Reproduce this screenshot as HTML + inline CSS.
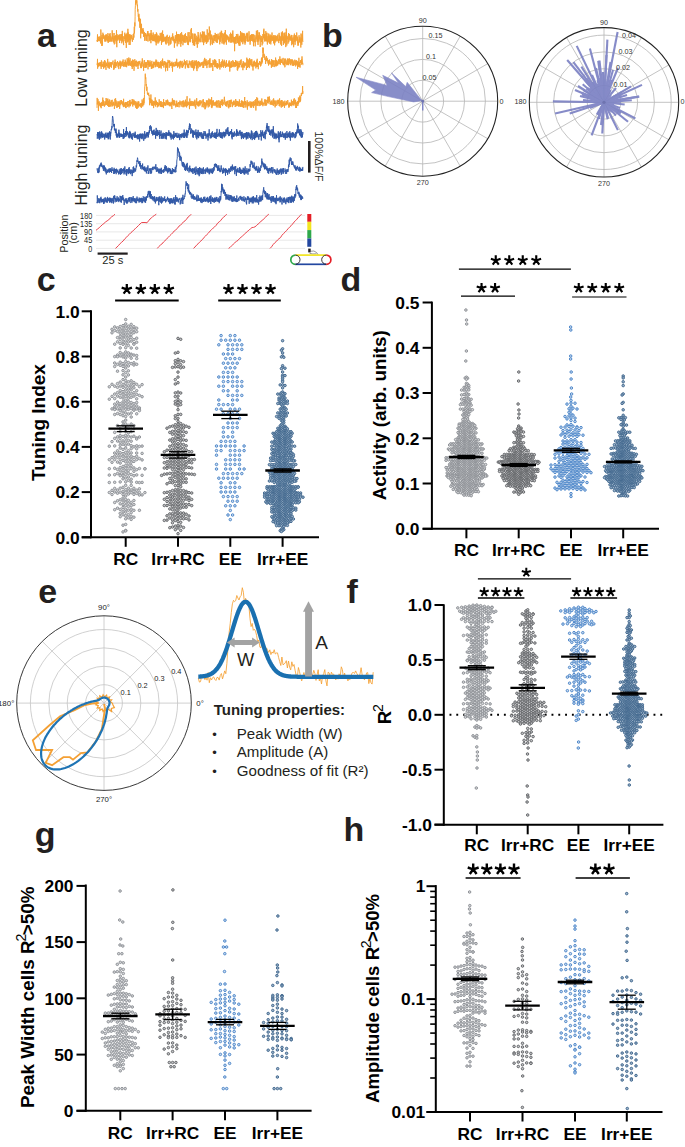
<!DOCTYPE html>
<html><head><meta charset="utf-8"><style>
html,body{margin:0;padding:0;background:#fff;}
svg{display:block;font-family:"Liberation Sans",sans-serif;}
</style></head><body>
<svg width="685" height="1147" viewBox="0 0 685 1147">
<rect width="685" height="1147" fill="#fff"/>
<text x="37" y="46.5" font-size="34" font-weight="bold" text-anchor="start" fill="#231f20">a</text>
<polyline points="97.0,40.0 97.2,41.6 97.3,39.9 97.5,34.4 97.6,41.9 97.8,40.4 98.0,37.1 98.1,40.8 98.3,40.1 98.4,39.8 98.6,39.0 98.8,40.8 98.9,36.6 99.1,38.5 99.2,37.4 99.4,41.2 99.6,39.3 99.7,38.1 99.9,36.4 100.0,38.1 100.2,39.2 100.4,38.2 100.5,43.4 100.7,42.2 100.8,29.5 101.0,32.3 101.2,38.2 101.3,37.3 101.5,39.5 101.6,39.5 101.8,46.0 102.0,35.0 102.1,37.4 102.3,45.6 102.4,40.8 102.6,40.7 102.8,36.5 102.9,32.7 103.1,38.9 103.2,38.8 103.4,34.2 103.6,36.0 103.7,38.1 103.9,35.1 104.0,38.0 104.2,38.7 104.4,38.4 104.5,36.6 104.7,40.5 104.8,41.6 105.0,39.5 105.2,35.6 105.3,40.9 105.5,36.7 105.6,41.3 105.8,34.7 106.0,41.4 106.1,38.3 106.3,34.3 106.4,37.6 106.6,39.0 106.8,40.0 106.9,35.7 107.1,35.1 107.2,39.6 107.4,37.2 107.6,39.6 107.7,41.4 107.9,33.1 108.0,39.6 108.2,43.0 108.4,37.8 108.5,36.0 108.7,41.4 108.8,39.7 109.0,42.0 109.2,37.8 109.3,33.9 109.5,38.4 109.6,37.2 109.8,41.3 110.0,39.3 110.1,33.1 110.3,34.5 110.4,41.5 110.6,40.7 110.8,36.2 110.9,38.4 111.1,39.9 111.2,40.0 111.4,41.3 111.6,39.1 111.7,37.9 111.9,37.3 112.0,41.7 112.2,30.3 112.4,37.5 112.5,38.1 112.7,33.2 112.8,39.1 113.0,35.8 113.2,40.9 113.3,37.8 113.5,40.4 113.6,42.5 113.8,39.5 114.0,35.2 114.1,33.0 114.3,44.4 114.4,38.1 114.6,36.0 114.8,38.8 114.9,37.5 115.1,41.2 115.2,38.3 115.4,38.3 115.6,35.9 115.7,40.0 115.9,35.0 116.0,40.8 116.2,43.8 116.4,33.5 116.5,30.2 116.7,40.6 116.8,47.2 117.0,35.2 117.2,34.3 117.3,40.5 117.5,35.8 117.6,36.9 117.8,37.5 118.0,40.4 118.1,37.2 118.3,39.3 118.4,37.8 118.6,35.6 118.8,37.3 118.9,35.1 119.1,38.3 119.2,34.4 119.4,34.5 119.6,43.0 119.7,37.9 119.9,37.9 120.0,39.8 120.2,36.7 120.4,37.3 120.5,39.5 120.7,39.1 120.8,34.2 121.0,41.0 121.2,36.0 121.3,34.3 121.5,34.9 121.6,36.4 121.8,43.3 122.0,34.0 122.1,38.6 122.3,30.9 122.4,38.1 122.6,41.4 122.8,37.4 122.9,36.2 123.1,39.2 123.2,40.8 123.4,40.7 123.6,45.1 123.7,39.2 123.9,36.4 124.0,38.0 124.2,38.2 124.4,39.0 124.5,38.5 124.7,39.1 124.8,32.7 125.0,41.2 125.2,36.5 125.3,34.4 125.5,40.5 125.6,42.9 125.8,40.0 126.0,38.8 126.1,35.0 126.3,47.9 126.4,41.1 126.6,34.2 126.8,35.5 126.9,38.5 127.1,32.9 127.2,38.7 127.4,36.5 127.6,42.3 127.7,41.4 127.9,28.8 128.0,38.1 128.2,32.4 128.4,41.5 128.5,38.4 128.7,39.7 128.8,34.3 129.0,44.2 129.2,45.0 129.3,34.6 129.5,39.7 129.6,36.3 129.8,38.5 130.0,34.2 130.1,44.9 130.3,35.4 130.4,37.7 130.6,40.5 130.8,36.5 130.9,37.9 131.1,36.9 131.2,38.4 131.4,34.9 131.6,37.6 131.7,38.2 131.9,37.9 132.0,39.4 132.2,38.2 132.4,41.8 132.5,38.0 132.7,38.6 132.8,36.7 133.0,37.0 133.2,34.2 133.3,39.8 133.5,33.6 133.6,34.4 133.8,37.7 134.0,37.1 134.1,33.4 134.3,26.7 134.4,33.5 134.6,30.8 134.8,22.5 134.9,26.3 135.1,16.8 135.2,9.4 135.4,5.8 135.6,0.3 135.7,0.3 135.9,0.3 136.0,4.6 136.2,0.3 136.4,0.3 136.5,2.9 136.7,0.3 136.8,0.3 137.0,0.3 137.2,3.1 137.3,6.2 137.5,4.8 137.6,11.5 137.8,9.1 138.0,9.4 138.1,14.2 138.3,16.7 138.4,15.6 138.6,14.8 138.8,20.9 138.9,13.8 139.1,17.1 139.2,21.9 139.4,18.0 139.6,23.4 139.7,24.0 139.9,27.8 140.0,22.3 140.2,24.0 140.4,27.7 140.5,18.8 140.7,38.3 140.8,25.9 141.0,26.4 141.2,32.2 141.3,29.5 141.5,23.8 141.6,32.2 141.8,33.5 142.0,29.3 142.1,30.1 142.3,33.1 142.4,28.7 142.6,33.5 142.8,32.9 142.9,30.3 143.1,28.2 143.2,32.1 143.4,30.1 143.6,36.8 143.7,34.0 143.9,36.4 144.0,34.3 144.2,35.1 144.4,31.9 144.5,36.9 144.7,40.8 144.8,33.9 145.0,33.0 145.2,34.6 145.3,33.7 145.5,33.1 145.6,36.1 145.8,34.8 146.0,40.6 146.1,35.8 146.3,37.0 146.4,39.2 146.6,34.9 146.8,41.0 146.9,34.1 147.1,33.4 147.2,34.9 147.4,35.8 147.6,31.5 147.7,36.3 147.9,31.0 148.0,41.5 148.2,36.3 148.4,34.4 148.5,33.7 148.7,35.4 148.8,36.1 149.0,33.4 149.2,33.9 149.3,36.4 149.5,35.4 149.6,40.5 149.8,41.1 150.0,37.6 150.1,39.2 150.3,33.1 150.4,39.8 150.6,37.6 150.8,39.4 150.9,43.2 151.1,30.0 151.2,38.8 151.4,34.1 151.6,39.9 151.7,33.4 151.9,36.1 152.0,38.6 152.2,40.0 152.4,38.2 152.5,35.2 152.7,36.2 152.8,41.1 153.0,38.1 153.2,32.5 153.3,41.1 153.5,39.5 153.6,40.9 153.8,36.8 154.0,40.6 154.1,34.2 154.3,39.8 154.4,36.3 154.6,40.3 154.8,41.3 154.9,35.4 155.1,37.9 155.2,38.2 155.4,42.2 155.6,40.7 155.7,34.1 155.9,39.7 156.0,40.6 156.2,45.3 156.4,32.4 156.5,36.3 156.7,42.7 156.8,33.5 157.0,34.0 157.2,39.7 157.3,41.5 157.5,35.8 157.6,40.0 157.8,38.7 158.0,43.6 158.1,38.5 158.3,41.8 158.4,35.5 158.6,37.8 158.8,38.2 158.9,42.5 159.1,40.7 159.2,36.0 159.4,40.8 159.6,41.1 159.7,38.0 159.9,37.7 160.0,38.0 160.2,32.9 160.4,39.1 160.5,39.3 160.7,35.4 160.8,40.8 161.0,33.5 161.2,36.2 161.3,36.4 161.5,44.8 161.6,32.7 161.8,40.2 162.0,41.4 162.1,39.5 162.3,42.3 162.4,34.8 162.6,30.5 162.8,40.8 162.9,34.0 163.1,36.8 163.2,34.1 163.4,41.7 163.6,41.0 163.7,35.7 163.9,41.1 164.0,38.5 164.2,37.8 164.4,38.6 164.5,37.7 164.7,40.6 164.8,39.6 165.0,37.4 165.2,42.1 165.3,36.8 165.5,39.9 165.6,40.2 165.8,43.6 166.0,36.9 166.1,44.5 166.3,39.1 166.4,37.9 166.6,36.2 166.8,40.6 166.9,38.8 167.1,34.9 167.2,34.8 167.4,36.7 167.6,36.4 167.7,42.4 167.9,43.3 168.0,41.6 168.2,39.8 168.4,37.0 168.5,38.6 168.7,41.5 168.8,45.6 169.0,41.5 169.2,37.4 169.3,38.3 169.5,36.6 169.6,35.7 169.8,37.8 170.0,39.0 170.1,44.6 170.3,38.5 170.4,42.8 170.6,44.1 170.8,38.5 170.9,43.7 171.1,40.8 171.2,37.0 171.4,39.2 171.6,38.3 171.7,37.5 171.9,37.6 172.0,38.7 172.2,39.8 172.4,35.4 172.5,38.5 172.7,33.4 172.8,39.6 173.0,40.8 173.2,39.3 173.3,39.8 173.5,40.8 173.6,36.5 173.8,38.0 174.0,40.7 174.1,42.4 174.3,40.4 174.4,47.7 174.6,38.9 174.8,42.6 174.9,43.6 175.1,38.8 175.2,36.4 175.4,35.2 175.6,39.8 175.7,42.9 175.9,40.1 176.0,39.7 176.2,37.8 176.4,40.9 176.5,31.7 176.7,39.7 176.8,38.9 177.0,34.2 177.2,46.3 177.3,34.2 177.5,35.2 177.6,34.8 177.8,42.6 178.0,35.6 178.1,40.9 178.3,40.5 178.4,39.4 178.6,34.0 178.8,36.4 178.9,44.2 179.1,34.2 179.2,35.7 179.4,38.0 179.6,41.3 179.7,39.6 179.9,41.2 180.0,35.1 180.2,41.9 180.4,40.7 180.5,33.4 180.7,44.2 180.8,46.7 181.0,36.2 181.2,39.1 181.3,43.6 181.5,33.9 181.6,32.2 181.8,34.7 182.0,37.1 182.1,37.1 182.3,41.1 182.4,39.9 182.6,34.8 182.8,40.8 182.9,45.2 183.1,42.8 183.2,42.2 183.4,38.8 183.6,42.1 183.7,35.4 183.9,41.2 184.0,38.3 184.2,42.5 184.4,40.2 184.5,34.7 184.7,38.8 184.8,42.5 185.0,34.5 185.2,36.4 185.3,35.6 185.5,33.3 185.6,41.6 185.8,42.7 186.0,41.0 186.1,39.1 186.3,38.2 186.4,39.3 186.6,36.0 186.8,41.5 186.9,42.1 187.1,41.8 187.2,36.8 187.4,38.9 187.6,38.1 187.7,44.7 187.9,39.4 188.0,32.3 188.2,40.1 188.4,45.1 188.5,41.1 188.7,41.7 188.8,38.7 189.0,32.0 189.2,32.5 189.3,34.5 189.5,38.3 189.6,39.9 189.8,41.3 190.0,37.8 190.1,42.3 190.3,38.0 190.4,36.5 190.6,41.7 190.8,35.7 190.9,29.5 191.1,35.1 191.2,39.0 191.4,28.1 191.6,37.3 191.7,37.4 191.9,33.7 192.0,33.5 192.2,37.0 192.4,36.9 192.5,43.0 192.7,40.0 192.8,33.5 193.0,35.9 193.2,41.3 193.3,45.3 193.5,40.1 193.6,39.9 193.8,45.0 194.0,38.5 194.1,37.5 194.3,33.8 194.4,36.9 194.6,46.0 194.8,33.8 194.9,38.6 195.1,33.8 195.2,38.9 195.4,41.6 195.6,37.8 195.7,41.0 195.9,41.1 196.0,40.1 196.2,44.4 196.4,41.0 196.5,37.5 196.7,36.2 196.8,35.7 197.0,40.2 197.2,37.5 197.3,47.7 197.5,44.6 197.6,37.5 197.8,37.2 198.0,44.1 198.1,32.0 198.3,36.9 198.4,41.6 198.6,35.3 198.8,36.9 198.9,37.4 199.1,40.7 199.2,39.0 199.4,39.8 199.6,40.5 199.7,38.7 199.9,42.3 200.0,36.2 200.2,33.7 200.4,32.5 200.5,33.2 200.7,36.8 200.8,42.1 201.0,39.3 201.2,36.7 201.3,35.0 201.5,37.0 201.6,37.4 201.8,36.9 202.0,34.1 202.1,37.3 202.3,42.3 202.4,31.5 202.6,38.0 202.8,31.7 202.9,39.5 203.1,36.3 203.2,31.9 203.4,39.3 203.6,45.1 203.7,39.3 203.9,43.0 204.0,38.7 204.2,31.6 204.4,40.6 204.5,37.4 204.7,33.9 204.8,41.5 205.0,39.8 205.2,37.1 205.3,41.8 205.5,35.9 205.6,41.1 205.8,35.7 206.0,40.6 206.1,35.0 206.3,43.6 206.4,39.6 206.6,43.6 206.8,35.8 206.9,36.9 207.1,41.5 207.2,29.3 207.4,35.1 207.6,42.3 207.7,40.3 207.9,41.9 208.0,37.5 208.2,40.5 208.4,36.1 208.5,33.9 208.7,32.8 208.8,36.7 209.0,36.7 209.2,36.4 209.3,26.5 209.5,31.7 209.6,36.7 209.8,39.5 210.0,36.5 210.1,35.4 210.3,30.6 210.4,45.3 210.6,34.6 210.8,44.1 210.9,43.8 211.1,39.5 211.2,36.7 211.4,39.0 211.6,34.6 211.7,39.6 211.9,38.8 212.0,40.7 212.2,42.1 212.4,44.8 212.5,37.6 212.7,42.5 212.8,36.2 213.0,35.7 213.2,36.6 213.3,35.5 213.5,42.2 213.6,42.0 213.8,43.2 214.0,38.9 214.1,40.0 214.3,37.2 214.4,35.2 214.6,40.7 214.8,40.1 214.9,35.2 215.1,41.0 215.2,32.9 215.4,38.2 215.6,36.6 215.7,36.8 215.9,34.9 216.0,41.7 216.2,40.4 216.4,42.5 216.5,38.9 216.7,34.0 216.8,37.3 217.0,34.7 217.2,40.4 217.3,42.9 217.5,39.8 217.6,36.6 217.8,37.4 218.0,39.3 218.1,33.6 218.3,39.0 218.4,39.2 218.6,36.7 218.8,37.1 218.9,39.2 219.1,35.7 219.2,35.8 219.4,41.3 219.6,39.4 219.7,44.3 219.9,35.3 220.0,32.6 220.2,41.7 220.4,41.8 220.5,35.9 220.7,33.4 220.8,38.2 221.0,32.2 221.2,36.9 221.3,30.7 221.5,37.4 221.6,31.0 221.8,37.4 222.0,43.4 222.1,37.4 222.3,40.9 222.4,36.0 222.6,35.1 222.8,33.0 222.9,41.7 223.1,37.9 223.2,43.7 223.4,34.1 223.6,37.4 223.7,38.5 223.9,42.9 224.0,44.5 224.2,36.1 224.4,34.5 224.5,32.6 224.7,43.1 224.8,38.3 225.0,36.5 225.2,38.5 225.3,30.0 225.5,32.8 225.6,41.8 225.8,39.8 226.0,38.9 226.1,34.9 226.3,40.5 226.4,44.7 226.6,34.6 226.8,38.9 226.9,37.3 227.1,40.0 227.2,38.7 227.4,38.1 227.6,35.5 227.7,38.5 227.9,36.5 228.0,38.1 228.2,38.5 228.4,41.0 228.5,36.8 228.7,37.6 228.8,42.2 229.0,37.7 229.2,37.4 229.3,41.2 229.5,39.3 229.6,38.6 229.8,39.1 230.0,34.1 230.1,39.9 230.3,42.7 230.4,40.1 230.6,32.7 230.8,38.9 230.9,34.7 231.1,37.1 231.2,38.4 231.4,33.9 231.6,42.5 231.7,37.8 231.9,40.6 232.0,39.9 232.2,42.3 232.4,41.8 232.5,32.7 232.7,37.9 232.8,30.5 233.0,36.3 233.2,40.3 233.3,41.0 233.5,42.3 233.6,36.8 233.8,39.2 234.0,38.5 234.1,42.5 234.3,43.7 234.4,37.1 234.6,51.2 234.8,38.5 234.9,37.2 235.1,40.5 235.2,41.1 235.4,40.4 235.6,36.4 235.7,43.5 235.9,38.7 236.0,43.7 236.2,43.2 236.4,34.0 236.5,35.1 236.7,35.1 236.8,39.4 237.0,38.7 237.2,39.3 237.3,35.7 237.5,39.9 237.6,43.1 237.8,33.9 238.0,37.7 238.1,39.3 238.3,37.8 238.4,37.5 238.6,44.3 238.8,42.7 238.9,41.3 239.1,35.7 239.2,45.9 239.4,39.4 239.6,36.2 239.7,37.1 239.9,36.7 240.0,45.6 240.2,39.0 240.4,38.7 240.5,31.0 240.7,40.9 240.8,34.8 241.0,34.6 241.2,40.6 241.3,35.7 241.5,41.3 241.6,42.2 241.8,32.4 242.0,38.0 242.1,33.0 242.3,38.1 242.4,41.4 242.6,33.5 242.8,44.2 242.9,37.0 243.1,34.0 243.2,37.5 243.4,40.7 243.6,33.4 243.7,38.2 243.9,33.4 244.0,42.3 244.2,38.9 244.4,36.8 244.5,41.8 244.7,33.7 244.8,36.8 245.0,44.6 245.2,38.0 245.3,43.0 245.5,38.9 245.6,35.9 245.8,37.4 246.0,38.5 246.1,36.8 246.3,35.5 246.4,35.6 246.6,33.4 246.8,38.8 246.9,39.8 247.1,41.2 247.2,32.7 247.4,41.5 247.6,38.6 247.7,33.6 247.9,38.8 248.0,41.2 248.2,40.1 248.4,40.8 248.5,41.5 248.7,41.5 248.8,38.3 249.0,31.3 249.2,35.7 249.3,39.3 249.5,36.6 249.6,40.6 249.8,41.0 250.0,38.4 250.1,44.7 250.3,35.0 250.4,41.5 250.6,36.8 250.8,35.7 250.9,40.3 251.1,36.1 251.2,41.0 251.4,34.2 251.6,38.4 251.7,35.6 251.9,37.7 252.0,37.3 252.2,34.8 252.4,40.9 252.5,34.3 252.7,35.2 252.8,41.4 253.0,41.7 253.2,40.5 253.3,39.4 253.5,46.2 253.6,34.3 253.8,35.7 254.0,34.9 254.1,41.5 254.3,39.5 254.4,42.3 254.6,41.8 254.8,37.8 254.9,35.9 255.1,35.4 255.2,46.3 255.4,42.2 255.6,40.9 255.7,37.6 255.9,38.1 256.0,37.6 256.2,37.7 256.4,30.7 256.5,38.8 256.7,37.6 256.8,40.1 257.0,39.8 257.2,42.1 257.3,39.1 257.5,41.7 257.6,30.2 257.8,35.3 258.0,44.9 258.1,34.8 258.3,38.0 258.4,41.3 258.6,35.9 258.8,41.3 258.9,33.8 259.1,32.1 259.2,34.1 259.4,32.9 259.6,38.3 259.7,37.3 259.9,39.5 260.0,34.9 260.2,47.0 260.4,38.0 260.5,38.0 260.7,39.8 260.8,37.4 261.0,36.1 261.2,38.6 261.3,41.5 261.5,40.7 261.6,41.8 261.8,36.6 262.0,35.9 262.1,45.4 262.3,37.8 262.4,40.2 262.6,41.1 262.8,43.5 262.9,34.0 263.1,37.0 263.2,37.1 263.4,37.5 263.6,30.4 263.7,38.3 263.9,28.7 264.0,39.4 264.2,40.2 264.4,40.4 264.5,34.3 264.7,41.5 264.8,35.3 265.0,34.1 265.2,34.9 265.3,35.3 265.5,38.9 265.6,41.1 265.8,31.1 266.0,36.3 266.1,41.3 266.3,38.8 266.4,39.8 266.6,33.0 266.8,41.3 266.9,32.7 267.1,38.6 267.2,42.7 267.4,44.5 267.6,39.9 267.7,41.2 267.9,36.2 268.0,36.7 268.2,42.4 268.4,38.4 268.5,37.9 268.7,33.5 268.8,39.0 269.0,40.7 269.2,35.7 269.3,36.6 269.5,43.7 269.6,38.9 269.8,37.3 270.0,34.4 270.1,36.1 270.3,37.4 270.4,42.9 270.6,36.2 270.8,44.4 270.9,35.2 271.1,37.3 271.2,41.4 271.4,37.7 271.6,35.7 271.7,38.0 271.9,40.0 272.0,32.5 272.2,37.6 272.4,38.2 272.5,37.0 272.7,40.8 272.8,36.3 273.0,37.0 273.2,38.4 273.3,40.9 273.5,37.6 273.6,43.4 273.8,35.2 274.0,42.7 274.1,35.3 274.3,37.7 274.4,39.6 274.6,45.3 274.8,41.3 274.9,36.9 275.1,42.6 275.2,37.3 275.4,35.4 275.6,39.5 275.7,38.4 275.9,41.3 276.0,36.2 276.2,39.3 276.4,40.2 276.5,39.1 276.7,38.2 276.8,35.8 277.0,41.3 277.2,38.5 277.3,39.6 277.5,36.8 277.6,38.2 277.8,34.6 278.0,38.5 278.1,40.9 278.3,38.8 278.4,41.3 278.6,39.4 278.8,43.1 278.9,37.8 279.1,32.9 279.2,40.2 279.4,38.1 279.6,35.4 279.7,40.8 279.9,39.4 280.0,40.0 280.2,37.3 280.4,39.0 280.5,39.2 280.7,44.5 280.8,36.2 281.0,38.5 281.2,39.9 281.3,32.7 281.5,33.1 281.6,45.9 281.8,32.5 282.0,40.4 282.1,35.5 282.3,35.7 282.4,31.4 282.6,35.0 282.8,40.6 282.9,33.2 283.1,40.0 283.2,39.1 283.4,44.9 283.6,36.5 283.7,42.4 283.9,41.2 284.0,37.3 284.2,32.6 284.4,43.3 284.5,33.5 284.7,36.6 284.8,41.2 285.0,42.2 285.2,35.4 285.3,38.3 285.5,37.6 285.6,42.5 285.8,47.1 286.0,32.3 286.1,41.6 286.3,28.7 286.4,38.7 286.6,34.9 286.8,45.5 286.9,39.3 287.1,36.2 287.2,36.8 287.4,36.6 287.6,39.2 287.7,38.1 287.9,40.8 288.0,43.7 288.2,40.9 288.4,34.4 288.5,33.1 288.7,36.1 288.8,42.2 289.0,37.4 289.2,36.4 289.3,39.2 289.5,33.9 289.6,34.8 289.8,40.4 290.0,37.7 290.1,37.1 290.3,39.7 290.4,36.7 290.6,36.4 290.8,37.2 290.9,40.8 291.1,39.0 291.2,34.9 291.4,37.9 291.6,41.1 291.7,45.2 291.9,35.1 292.0,40.3 292.2,38.3 292.4,42.0 292.5,40.7 292.7,44.2 292.8,40.9 293.0,37.3 293.2,37.3 293.3,40.4 293.5,40.3 293.6,47.2 293.8,44.8 294.0,35.2 294.1,40.3 294.3,34.7 294.4,33.6 294.6,41.7 294.8,41.2 294.9,35.7 295.1,44.8 295.2,36.0 295.4,35.2 295.6,41.4 295.7,39.9 295.9,38.5 296.0,38.7 296.2,39.8 296.4,38.5 296.5,38.3 296.7,32.5 296.8,34.4 297.0,41.0 297.2,36.6 297.3,41.0 297.5,43.2 297.6,37.7 297.8,39.8 298.0,45.8 298.1,41.2 298.3,45.2 298.4,44.1 298.6,41.5 298.8,38.6 298.9,36.1 299.1,35.2 299.2,40.6 299.4,40.6 299.6,38.5 299.7,42.0 299.9,36.9 300.0,42.8 300.2,39.1 300.4,38.9 300.5,39.0 300.7,38.7 300.8,47.5 301.0,33.5 301.2,39.5 301.3,43.1 301.5,41.4 301.6,37.9 301.8,44.8 302.0,35.3 302.1,34.5 302.3,40.9 302.4,33.9 302.6,30.8 302.8,41.8 302.9,41.3" fill="none" stroke="#f4a034" stroke-width="0.95" stroke-linejoin="round"/>
<polyline points="97.0,65.1 97.2,63.4 97.3,63.6 97.5,58.9 97.6,68.7 97.8,67.1 98.0,63.8 98.1,66.2 98.3,65.1 98.4,63.2 98.6,66.6 98.8,63.7 98.9,63.7 99.1,62.6 99.2,65.4 99.4,64.1 99.6,65.6 99.7,63.0 99.9,64.7 100.0,62.3 100.2,66.3 100.4,64.7 100.5,65.1 100.7,65.3 100.8,62.0 101.0,66.0 101.2,68.9 101.3,60.4 101.5,60.4 101.6,61.0 101.8,66.4 102.0,64.7 102.1,66.9 102.3,66.1 102.4,64.9 102.6,65.1 102.8,63.9 102.9,66.3 103.1,61.7 103.2,63.5 103.4,65.0 103.6,68.7 103.7,62.7 103.9,61.9 104.0,63.0 104.2,66.6 104.4,63.9 104.5,67.4 104.7,60.0 104.8,67.0 105.0,66.8 105.2,61.2 105.3,64.7 105.5,67.1 105.6,64.5 105.8,66.6 106.0,69.9 106.1,65.1 106.3,63.8 106.4,62.7 106.6,66.0 106.8,64.1 106.9,64.2 107.1,64.4 107.2,66.0 107.4,61.9 107.6,60.9 107.7,58.9 107.9,67.3 108.0,64.8 108.2,68.1 108.4,64.7 108.5,62.9 108.7,65.7 108.8,64.4 109.0,61.7 109.2,62.6 109.3,68.8 109.5,65.4 109.6,65.4 109.8,63.9 110.0,62.9 110.1,66.5 110.3,64.2 110.4,62.6 110.6,64.0 110.8,62.3 110.9,64.8 111.1,67.0 111.2,62.5 111.4,67.8 111.6,62.8 111.7,64.7 111.9,62.4 112.0,63.8 112.2,64.4 112.4,63.1 112.5,62.5 112.7,62.5 112.8,62.2 113.0,60.6 113.2,63.7 113.3,65.1 113.5,66.4 113.6,65.8 113.8,69.9 114.0,65.1 114.1,63.3 114.3,68.6 114.4,62.0 114.6,66.5 114.8,62.0 114.9,65.0 115.1,59.6 115.2,66.1 115.4,63.7 115.6,61.9 115.7,68.0 115.9,65.9 116.0,64.3 116.2,62.5 116.4,64.1 116.5,63.8 116.7,65.9 116.8,66.1 117.0,62.6 117.2,62.8 117.3,63.0 117.5,61.0 117.6,62.8 117.8,64.0 118.0,65.8 118.1,67.3 118.3,62.5 118.4,65.4 118.6,63.3 118.8,69.1 118.9,64.4 119.1,65.6 119.2,62.3 119.4,62.5 119.6,64.8 119.7,63.5 119.9,65.2 120.0,60.7 120.2,65.9 120.4,62.3 120.5,68.5 120.7,63.9 120.8,67.1 121.0,61.4 121.2,65.5 121.3,62.5 121.5,63.3 121.6,64.6 121.8,63.7 122.0,64.9 122.1,66.0 122.3,65.8 122.4,64.2 122.6,61.3 122.8,62.6 122.9,63.9 123.1,59.5 123.2,66.2 123.4,63.9 123.6,63.9 123.7,66.7 123.9,66.1 124.0,65.0 124.2,62.1 124.4,65.1 124.5,65.1 124.7,62.2 124.8,66.6 125.0,65.3 125.2,59.7 125.3,64.4 125.5,61.2 125.6,66.6 125.8,65.9 126.0,61.6 126.1,62.0 126.3,64.1 126.4,63.2 126.6,67.2 126.8,65.2 126.9,62.6 127.1,64.4 127.2,58.2 127.4,63.4 127.6,64.4 127.7,61.6 127.9,59.9 128.0,62.6 128.2,65.9 128.4,61.9 128.5,59.0 128.7,65.0 128.8,57.5 129.0,63.2 129.2,60.9 129.3,64.4 129.5,60.4 129.6,65.4 129.8,63.1 130.0,58.6 130.1,58.2 130.3,62.1 130.4,65.9 130.6,63.2 130.8,63.2 130.9,62.6 131.1,64.9 131.2,64.1 131.4,64.0 131.6,61.2 131.7,66.3 131.9,66.8 132.0,60.7 132.2,69.0 132.4,65.4 132.5,62.6 132.7,59.5 132.8,65.5 133.0,65.4 133.2,62.8 133.3,60.1 133.5,66.7 133.6,62.9 133.8,63.3 134.0,70.8 134.1,69.3 134.3,66.5 134.4,63.3 134.6,65.8 134.8,59.2 134.9,64.7 135.1,62.7 135.2,61.6 135.4,60.9 135.6,65.7 135.7,64.9 135.9,65.0 136.0,66.6 136.2,62.8 136.4,61.9 136.5,60.7 136.7,63.9 136.8,66.4 137.0,64.2 137.2,66.0 137.3,61.9 137.5,63.6 137.6,62.9 137.8,61.8 138.0,69.0 138.1,66.7 138.3,63.1 138.4,63.0 138.6,64.5 138.8,61.3 138.9,65.6 139.1,61.6 139.2,63.6 139.4,62.1 139.6,63.4 139.7,61.4 139.9,60.9 140.0,62.3 140.2,63.0 140.4,64.0 140.5,64.8 140.7,68.1 140.8,66.5 141.0,64.1 141.2,66.4 141.3,63.2 141.5,68.1 141.6,66.0 141.8,61.7 142.0,66.5 142.1,66.6 142.3,58.4 142.4,63.0 142.6,63.7 142.8,60.4 142.9,62.3 143.1,62.5 143.2,66.0 143.4,65.5 143.6,70.8 143.7,63.7 143.9,67.4 144.0,64.8 144.2,65.1 144.4,61.8 144.5,60.1 144.7,62.8 144.8,66.2 145.0,68.0 145.2,65.7 145.3,65.4 145.5,62.3 145.6,67.7 145.8,67.2 146.0,63.0 146.1,64.1 146.3,62.0 146.4,67.5 146.6,65.1 146.8,64.0 146.9,65.1 147.1,65.3 147.2,63.2 147.4,61.3 147.6,61.2 147.7,60.2 147.9,65.3 148.0,69.3 148.2,60.4 148.4,64.6 148.5,65.2 148.7,62.0 148.8,64.7 149.0,61.8 149.2,67.0 149.3,62.9 149.5,64.6 149.6,66.0 149.8,63.4 150.0,60.4 150.1,63.4 150.3,66.4 150.4,64.4 150.6,65.1 150.8,62.1 150.9,65.0 151.1,66.3 151.2,64.7 151.4,69.0 151.6,64.1 151.7,62.2 151.9,60.9 152.0,67.3 152.2,64.5 152.4,66.9 152.5,65.7 152.7,68.4 152.8,67.6 153.0,63.8 153.2,65.4 153.3,67.2 153.5,61.8 153.6,67.9 153.8,67.3 154.0,66.7 154.1,63.9 154.3,65.1 154.4,61.8 154.6,64.5 154.8,63.0 154.9,64.5 155.1,63.2 155.2,65.1 155.4,67.2 155.6,61.5 155.7,66.6 155.9,59.9 156.0,59.5 156.2,64.1 156.4,64.4 156.5,65.4 156.7,60.4 156.8,64.1 157.0,64.5 157.2,67.0 157.3,63.9 157.5,65.4 157.6,62.0 157.8,63.7 158.0,63.2 158.1,65.7 158.3,61.8 158.4,62.0 158.6,65.4 158.8,68.2 158.9,64.9 159.1,64.8 159.2,63.3 159.4,66.5 159.6,65.2 159.7,68.0 159.9,64.8 160.0,62.0 160.2,63.1 160.4,62.0 160.5,61.4 160.7,67.4 160.8,66.3 161.0,61.6 161.2,68.6 161.3,65.1 161.5,62.3 161.6,65.4 161.8,64.4 162.0,62.8 162.1,60.1 162.3,64.6 162.4,65.3 162.6,58.6 162.8,65.8 162.9,66.0 163.1,63.5 163.2,64.9 163.4,64.0 163.6,62.7 163.7,63.7 163.9,67.6 164.0,61.1 164.2,64.9 164.4,64.9 164.5,62.8 164.7,63.3 164.8,61.1 165.0,62.3 165.2,64.3 165.3,65.0 165.5,62.2 165.6,71.3 165.8,63.0 166.0,64.6 166.1,63.8 166.3,63.6 166.4,67.5 166.6,63.5 166.8,67.7 166.9,67.2 167.1,62.1 167.2,66.7 167.4,62.8 167.6,70.7 167.7,63.6 167.9,62.2 168.0,59.9 168.2,61.4 168.4,62.8 168.5,61.9 168.7,61.4 168.8,62.7 169.0,63.8 169.2,67.8 169.3,60.4 169.5,63.1 169.6,62.1 169.8,60.8 170.0,61.5 170.1,62.3 170.3,66.1 170.4,63.9 170.6,63.0 170.8,65.5 170.9,64.7 171.1,63.6 171.2,65.2 171.4,62.5 171.6,65.8 171.7,65.4 171.9,63.5 172.0,61.7 172.2,67.9 172.4,64.8 172.5,71.6 172.7,63.1 172.8,66.5 173.0,63.5 173.2,65.0 173.3,66.3 173.5,62.5 173.6,64.1 173.8,64.7 174.0,64.6 174.1,65.6 174.3,66.6 174.4,66.3 174.6,65.0 174.8,63.6 174.9,61.9 175.1,62.8 175.2,63.3 175.4,66.1 175.6,63.7 175.7,61.7 175.9,66.1 176.0,62.8 176.2,62.8 176.4,64.0 176.5,65.5 176.7,58.8 176.8,61.8 177.0,64.8 177.2,63.6 177.3,62.4 177.5,63.2 177.6,67.6 177.8,63.4 178.0,66.0 178.1,66.3 178.3,63.4 178.4,65.5 178.6,63.5 178.8,63.2 178.9,61.9 179.1,66.5 179.2,63.5 179.4,63.0 179.6,61.7 179.7,68.5 179.9,65.9 180.0,63.9 180.2,62.7 180.4,60.8 180.5,65.1 180.7,65.3 180.8,61.4 181.0,67.3 181.2,66.3 181.3,62.4 181.5,63.3 181.6,63.6 181.8,65.0 182.0,64.3 182.1,60.9 182.3,68.0 182.4,65.2 182.6,67.4 182.8,67.3 182.9,64.0 183.1,65.3 183.2,66.2 183.4,66.2 183.6,64.0 183.7,62.9 183.9,64.4 184.0,62.5 184.2,63.1 184.4,59.7 184.5,64.5 184.7,61.9 184.8,62.9 185.0,64.1 185.2,65.0 185.3,68.5 185.5,64.7 185.6,61.1 185.8,64.6 186.0,62.9 186.1,65.2 186.3,62.7 186.4,62.7 186.6,63.2 186.8,63.0 186.9,60.2 187.1,62.9 187.2,64.4 187.4,67.3 187.6,63.8 187.7,63.7 187.9,65.8 188.0,65.7 188.2,68.1 188.4,65.7 188.5,64.4 188.7,67.5 188.8,68.0 189.0,63.3 189.2,64.9 189.3,60.7 189.5,63.6 189.6,62.4 189.8,63.8 190.0,63.2 190.1,63.9 190.3,64.1 190.4,65.4 190.6,64.7 190.8,62.8 190.9,61.3 191.1,67.1 191.2,67.5 191.4,63.1 191.6,65.5 191.7,60.8 191.9,60.7 192.0,63.8 192.2,67.9 192.4,62.1 192.5,62.5 192.7,68.1 192.8,60.1 193.0,66.0 193.2,65.6 193.3,64.0 193.5,64.9 193.6,70.5 193.8,61.9 194.0,63.9 194.1,64.1 194.3,62.9 194.4,61.4 194.6,68.4 194.8,65.1 194.9,60.4 195.1,62.9 195.2,65.4 195.4,65.5 195.6,61.3 195.7,64.3 195.9,65.2 196.0,65.5 196.2,65.4 196.4,60.3 196.5,68.7 196.7,65.0 196.8,68.7 197.0,71.1 197.2,64.2 197.3,61.7 197.5,66.5 197.6,64.2 197.8,63.4 198.0,62.0 198.1,68.3 198.3,63.5 198.4,61.2 198.6,63.3 198.8,61.7 198.9,64.8 199.1,63.5 199.2,62.0 199.4,65.7 199.6,62.8 199.7,66.0 199.9,67.1 200.0,63.4 200.2,62.6 200.4,64.6 200.5,66.2 200.7,64.1 200.8,64.3 201.0,64.0 201.2,64.8 201.3,65.5 201.5,62.4 201.6,62.9 201.8,64.1 202.0,62.5 202.1,64.3 202.3,65.2 202.4,63.9 202.6,62.5 202.8,62.1 202.9,67.9 203.1,65.9 203.2,61.3 203.4,61.8 203.6,68.0 203.7,66.9 203.9,63.6 204.0,65.8 204.2,59.5 204.4,62.8 204.5,64.1 204.7,57.9 204.8,60.1 205.0,63.1 205.2,64.0 205.3,60.2 205.5,62.3 205.6,65.5 205.8,61.2 206.0,59.1 206.1,62.1 206.3,61.4 206.4,65.4 206.6,62.8 206.8,60.8 206.9,68.1 207.1,61.5 207.2,63.8 207.4,64.3 207.6,64.7 207.7,63.5 207.9,64.5 208.0,63.1 208.2,60.1 208.4,62.9 208.5,63.1 208.7,63.2 208.8,64.0 209.0,62.4 209.2,67.1 209.3,67.7 209.5,59.2 209.6,64.2 209.8,62.6 210.0,58.3 210.1,65.5 210.3,63.1 210.4,63.7 210.6,63.2 210.8,67.1 210.9,67.6 211.1,65.4 211.2,66.5 211.4,64.6 211.6,65.0 211.7,63.0 211.9,64.9 212.0,63.2 212.2,65.8 212.4,66.8 212.5,65.6 212.7,67.6 212.8,71.0 213.0,59.9 213.2,64.7 213.3,63.4 213.5,63.6 213.6,61.6 213.8,64.9 214.0,64.1 214.1,63.2 214.3,64.1 214.4,63.3 214.6,59.2 214.8,67.1 214.9,63.9 215.1,62.5 215.2,65.4 215.4,63.2 215.6,59.8 215.7,66.8 215.9,60.9 216.0,64.3 216.2,64.9 216.4,67.8 216.5,67.6 216.7,65.0 216.8,63.0 217.0,63.8 217.2,67.2 217.3,68.8 217.5,65.9 217.6,63.2 217.8,67.1 218.0,63.8 218.1,63.7 218.3,64.1 218.4,66.1 218.6,65.4 218.8,67.0 218.9,67.7 219.1,65.8 219.2,59.1 219.4,60.6 219.6,64.9 219.7,64.4 219.9,69.5 220.0,64.5 220.2,64.2 220.4,66.6 220.5,66.8 220.7,64.0 220.8,65.6 221.0,62.0 221.2,62.5 221.3,67.5 221.5,61.4 221.6,66.7 221.8,66.2 222.0,66.4 222.1,66.6 222.3,65.7 222.4,59.5 222.6,62.1 222.8,63.1 222.9,66.6 223.1,62.0 223.2,63.1 223.4,63.9 223.6,67.7 223.7,61.3 223.9,61.6 224.0,66.2 224.2,59.8 224.4,65.6 224.5,63.8 224.7,61.2 224.8,63.7 225.0,62.2 225.2,64.8 225.3,65.3 225.5,67.8 225.6,64.4 225.8,64.7 226.0,63.1 226.1,64.4 226.3,66.9 226.4,60.2 226.6,66.2 226.8,63.4 226.9,64.7 227.1,65.3 227.2,66.5 227.4,65.0 227.6,63.7 227.7,65.3 227.9,64.6 228.0,64.0 228.2,65.1 228.4,66.6 228.5,64.8 228.7,64.9 228.8,61.6 229.0,64.4 229.2,60.4 229.3,66.4 229.5,62.6 229.6,67.7 229.8,71.5 230.0,63.8 230.1,67.8 230.3,65.6 230.4,63.2 230.6,62.5 230.8,65.8 230.9,67.8 231.1,65.4 231.2,61.0 231.4,62.0 231.6,63.8 231.7,67.4 231.9,65.0 232.0,65.0 232.2,67.0 232.4,63.8 232.5,64.0 232.7,63.8 232.8,60.2 233.0,65.3 233.2,65.2 233.3,66.4 233.5,61.4 233.6,62.2 233.8,66.1 234.0,64.8 234.1,67.2 234.3,62.1 234.4,64.5 234.6,62.6 234.8,64.8 234.9,62.9 235.1,65.2 235.2,66.6 235.4,65.7 235.6,60.1 235.7,66.5 235.9,65.3 236.0,61.9 236.2,62.2 236.4,64.4 236.5,65.8 236.7,63.4 236.8,60.8 237.0,65.2 237.2,65.0 237.3,70.2 237.5,61.7 237.6,70.5 237.8,68.7 238.0,65.4 238.1,68.5 238.3,64.9 238.4,67.0 238.6,62.9 238.8,64.9 238.9,62.4 239.1,61.1 239.2,64.0 239.4,63.1 239.6,66.0 239.7,67.4 239.9,63.9 240.0,64.4 240.2,64.6 240.4,60.3 240.5,64.7 240.7,64.0 240.8,63.8 241.0,61.5 241.2,59.4 241.3,63.4 241.5,64.7 241.6,67.1 241.8,66.7 242.0,67.5 242.1,64.9 242.3,66.7 242.4,63.5 242.6,65.5 242.8,66.1 242.9,70.2 243.1,64.7 243.2,61.1 243.4,67.3 243.6,62.3 243.7,64.1 243.9,63.7 244.0,62.4 244.2,67.7 244.4,66.0 244.5,63.3 244.7,64.9 244.8,63.8 245.0,66.1 245.2,63.8 245.3,62.9 245.5,63.2 245.6,63.7 245.8,65.3 246.0,62.5 246.1,64.4 246.3,65.7 246.4,70.0 246.6,66.6 246.8,57.7 246.9,63.4 247.1,63.5 247.2,65.2 247.4,68.0 247.6,66.0 247.7,58.9 247.9,64.8 248.0,64.3 248.2,64.9 248.4,66.9 248.5,61.2 248.7,66.2 248.8,59.7 249.0,63.4 249.2,64.0 249.3,68.1 249.5,60.9 249.6,58.2 249.8,63.4 250.0,59.9 250.1,65.0 250.3,60.1 250.4,59.9 250.6,64.9 250.8,62.4 250.9,64.6 251.1,59.2 251.2,66.3 251.4,61.2 251.6,64.7 251.7,60.6 251.9,59.4 252.0,62.4 252.2,63.5 252.4,66.8 252.5,64.0 252.7,64.9 252.8,64.8 253.0,70.5 253.2,61.5 253.3,66.3 253.5,63.2 253.6,64.1 253.8,62.2 254.0,66.3 254.1,60.8 254.3,60.7 254.4,63.3 254.6,61.2 254.8,65.5 254.9,66.2 255.1,62.3 255.2,65.9 255.4,62.7 255.6,64.0 255.7,64.2 255.9,68.4 256.0,64.2 256.2,62.1 256.4,62.1 256.5,67.0 256.7,60.5 256.8,63.2 257.0,63.4 257.2,58.8 257.3,63.5 257.5,66.9 257.6,65.2 257.8,62.6 258.0,66.1 258.1,65.8 258.3,69.2 258.4,63.0 258.6,63.7 258.8,64.7 258.9,64.3 259.1,64.9 259.2,64.5 259.4,63.1 259.6,61.0 259.7,63.4 259.9,61.7 260.0,62.4 260.2,63.5 260.4,65.8 260.5,66.4 260.7,61.8 260.8,64.7 261.0,65.6 261.2,63.3 261.3,59.3 261.5,57.7 261.6,64.1 261.8,63.9 262.0,61.7 262.1,57.7 262.3,62.4 262.4,60.6 262.6,56.1 262.8,53.8 262.9,47.5 263.1,52.7 263.2,47.9 263.4,54.0 263.6,54.6 263.7,53.9 263.9,57.7 264.0,53.8 264.2,56.4 264.4,57.4 264.5,56.7 264.7,55.6 264.8,59.8 265.0,58.5 265.2,57.5 265.3,57.8 265.5,58.8 265.6,64.0 265.8,59.2 266.0,58.8 266.1,57.4 266.3,57.3 266.4,56.0 266.6,61.2 266.8,61.0 266.9,58.8 267.1,57.8 267.2,60.8 267.4,60.3 267.6,58.7 267.7,62.4 267.9,62.2 268.0,61.9 268.2,63.9 268.4,60.8 268.5,65.5 268.7,60.2 268.8,63.8 269.0,64.2 269.2,62.1 269.3,63.6 269.5,59.9 269.6,59.5 269.8,62.6 270.0,61.3 270.1,64.3 270.3,63.0 270.4,64.3 270.6,63.7 270.8,63.4 270.9,63.1 271.1,62.1 271.2,61.8 271.4,67.8 271.6,59.1 271.7,62.8 271.9,65.6 272.0,64.3 272.2,66.6 272.4,64.6 272.5,60.5 272.7,62.7 272.8,60.2 273.0,65.7 273.2,66.8 273.3,62.5 273.5,64.9 273.6,62.8 273.8,60.5 274.0,62.8 274.1,60.3 274.3,62.6 274.4,64.5 274.6,65.7 274.8,67.1 274.9,63.6 275.1,64.9 275.2,65.3 275.4,65.6 275.6,57.6 275.7,62.4 275.9,66.0 276.0,61.7 276.2,64.8 276.4,66.3 276.5,59.9 276.7,63.8 276.8,64.8 277.0,64.2 277.2,60.7 277.3,64.9 277.5,62.7 277.6,65.6 277.8,64.6 278.0,62.2 278.1,63.7 278.3,61.7 278.4,61.4 278.6,59.3 278.8,62.1 278.9,64.2 279.1,62.4 279.2,61.8 279.4,60.0 279.6,59.8 279.7,62.1 279.9,56.4 280.0,64.1 280.2,59.4 280.4,64.7 280.5,62.7 280.7,59.3 280.8,62.2 281.0,61.3 281.2,62.0 281.3,63.0 281.5,60.1 281.6,60.2 281.8,60.9 282.0,58.7 282.1,61.5 282.3,62.8 282.4,63.0 282.6,63.0 282.8,61.6 282.9,64.4 283.1,57.9 283.2,61.8 283.4,62.1 283.6,65.1 283.7,64.6 283.9,65.0 284.0,63.2 284.2,65.4 284.4,61.0 284.5,63.5 284.7,58.6 284.8,67.3 285.0,67.1 285.2,62.1 285.3,61.6 285.5,58.7 285.6,60.1 285.8,63.9 286.0,63.3 286.1,60.3 286.3,62.5 286.4,62.1 286.6,64.6 286.8,65.2 286.9,63.1 287.1,63.8 287.2,63.5 287.4,58.6 287.6,63.8 287.7,63.1 287.9,65.0 288.0,58.8 288.2,64.7 288.4,61.3 288.5,63.2 288.7,65.2 288.8,58.8 289.0,58.8 289.2,63.8 289.3,58.5 289.5,58.5 289.6,61.6 289.8,59.2 290.0,60.7 290.1,59.7 290.3,59.4 290.4,62.2 290.6,65.2 290.8,60.3 290.9,64.1 291.1,63.5 291.2,61.4 291.4,62.4 291.6,59.4 291.7,60.4 291.9,62.6 292.0,62.1 292.2,65.4 292.4,59.5 292.5,61.9 292.7,61.2 292.8,62.7 293.0,65.9 293.2,60.5 293.3,65.3 293.5,62.1 293.6,62.6 293.8,65.7 294.0,62.8 294.1,65.0 294.3,63.7 294.4,63.2 294.6,62.9 294.8,59.7 294.9,62.1 295.1,64.3 295.2,64.4 295.4,60.6 295.6,66.4 295.7,65.5 295.9,61.0 296.0,61.7 296.2,65.3 296.4,60.2 296.5,62.5 296.7,64.0 296.8,63.7 297.0,63.9 297.2,64.9 297.3,62.2 297.5,62.9 297.6,68.9 297.8,60.9 298.0,63.2 298.1,64.4 298.3,62.7 298.4,66.8 298.6,64.0 298.8,65.7 298.9,57.8 299.1,66.5 299.2,66.4 299.4,62.0 299.6,66.6 299.7,64.1 299.9,65.7 300.0,67.7 300.2,63.6 300.4,60.8 300.5,63.0 300.7,60.1 300.8,61.0 301.0,60.8 301.2,60.7 301.3,64.7 301.5,63.6 301.6,59.2 301.8,63.5 302.0,56.4 302.1,59.0 302.3,60.6 302.4,64.0 302.6,63.3 302.8,62.9 302.9,65.2" fill="none" stroke="#f4a034" stroke-width="0.95" stroke-linejoin="round"/>
<polyline points="97.0,107.9 97.2,97.9 97.3,104.5 97.5,102.3 97.6,102.6 97.8,103.1 98.0,99.2 98.1,103.1 98.3,101.7 98.4,110.9 98.6,104.1 98.8,102.8 98.9,103.0 99.1,102.2 99.2,101.4 99.4,102.9 99.6,104.8 99.7,103.2 99.9,105.9 100.0,103.4 100.2,103.9 100.4,107.2 100.5,105.0 100.7,102.8 100.8,103.6 101.0,105.2 101.2,108.2 101.3,103.3 101.5,103.3 101.6,106.0 101.8,101.9 102.0,103.1 102.1,105.6 102.3,105.0 102.4,104.0 102.6,105.2 102.8,97.6 102.9,106.0 103.1,101.6 103.2,100.0 103.4,104.4 103.6,105.3 103.7,102.7 103.9,101.3 104.0,103.7 104.2,103.5 104.4,106.7 104.5,105.3 104.7,104.0 104.8,105.9 105.0,103.1 105.2,101.4 105.3,104.8 105.5,104.8 105.6,103.0 105.8,101.7 106.0,104.0 106.1,98.0 106.3,105.0 106.4,104.5 106.6,99.9 106.8,103.5 106.9,101.3 107.1,105.1 107.2,98.9 107.4,101.3 107.6,105.0 107.7,105.9 107.9,98.6 108.0,102.3 108.2,104.1 108.4,102.0 108.5,106.8 108.7,100.7 108.8,104.1 109.0,101.0 109.2,106.4 109.3,103.2 109.5,102.4 109.6,99.5 109.8,107.0 110.0,105.1 110.1,105.2 110.3,105.9 110.4,104.2 110.6,102.0 110.8,101.7 110.9,101.8 111.1,106.5 111.2,100.2 111.4,102.3 111.6,102.9 111.7,104.1 111.9,104.9 112.0,100.9 112.2,99.8 112.4,103.7 112.5,106.3 112.7,105.3 112.8,104.1 113.0,102.9 113.2,104.3 113.3,103.1 113.5,105.4 113.6,101.8 113.8,103.8 114.0,103.2 114.1,104.5 114.3,103.9 114.4,109.0 114.6,106.7 114.8,106.7 114.9,98.9 115.1,102.6 115.2,102.0 115.4,104.4 115.6,98.3 115.7,105.9 115.9,105.6 116.0,100.4 116.2,101.2 116.4,101.5 116.5,103.5 116.7,104.7 116.8,107.9 117.0,102.9 117.2,105.0 117.3,103.7 117.5,107.3 117.6,105.1 117.8,106.5 118.0,101.2 118.1,103.2 118.3,101.8 118.4,106.9 118.6,105.1 118.8,103.0 118.9,102.6 119.1,104.6 119.2,102.1 119.4,101.5 119.6,104.5 119.7,108.8 119.9,102.8 120.0,102.1 120.2,100.7 120.4,100.3 120.5,104.5 120.7,105.2 120.8,103.4 121.0,104.2 121.2,103.7 121.3,103.8 121.5,100.0 121.6,102.4 121.8,103.6 122.0,101.6 122.1,102.3 122.3,101.5 122.4,102.6 122.6,105.2 122.8,102.4 122.9,103.0 123.1,105.2 123.2,104.7 123.4,107.1 123.6,98.8 123.7,105.4 123.9,102.5 124.0,103.9 124.2,105.4 124.4,105.9 124.5,105.8 124.7,103.8 124.8,106.9 125.0,102.7 125.2,102.9 125.3,105.0 125.5,102.1 125.6,108.0 125.8,105.6 126.0,108.1 126.1,103.3 126.3,102.5 126.4,103.8 126.6,105.0 126.8,102.1 126.9,104.2 127.1,103.4 127.2,107.0 127.4,102.1 127.6,105.8 127.7,102.2 127.9,101.4 128.0,102.0 128.2,101.0 128.4,103.9 128.5,105.9 128.7,104.0 128.8,105.1 129.0,107.4 129.2,104.4 129.3,104.2 129.5,103.1 129.6,100.2 129.8,105.5 130.0,99.9 130.1,105.2 130.3,103.6 130.4,106.2 130.6,103.5 130.8,101.8 130.9,104.5 131.1,102.4 131.2,103.2 131.4,103.7 131.6,103.3 131.7,103.1 131.9,101.8 132.0,103.2 132.2,99.0 132.4,103.3 132.5,101.0 132.7,106.2 132.8,106.5 133.0,99.4 133.2,104.1 133.3,103.4 133.5,101.4 133.6,104.9 133.8,102.7 134.0,99.8 134.1,103.2 134.3,103.5 134.4,104.0 134.6,101.1 134.8,105.2 134.9,105.4 135.1,101.2 135.2,102.3 135.4,103.7 135.6,102.6 135.7,107.7 135.9,104.2 136.0,101.5 136.2,101.9 136.4,103.5 136.5,108.7 136.7,103.2 136.8,103.9 137.0,104.8 137.2,103.6 137.3,108.7 137.5,102.6 137.6,105.3 137.8,104.1 138.0,105.1 138.1,101.2 138.3,107.6 138.4,103.4 138.6,103.7 138.8,101.5 138.9,102.0 139.1,105.0 139.2,105.8 139.4,105.3 139.6,106.3 139.7,105.2 139.9,103.8 140.0,105.7 140.2,105.2 140.4,103.8 140.5,105.5 140.7,106.8 140.8,104.4 141.0,103.0 141.2,105.2 141.3,107.9 141.5,103.2 141.6,103.5 141.8,103.4 142.0,106.3 142.1,99.5 142.3,104.3 142.4,105.9 142.6,101.4 142.8,106.4 142.9,104.2 143.1,101.5 143.2,102.9 143.4,98.7 143.6,100.3 143.7,105.1 143.9,98.3 144.0,103.3 144.2,97.8 144.4,98.5 144.5,94.4 144.7,86.6 144.8,86.7 145.0,83.7 145.2,74.6 145.3,73.7 145.5,79.1 145.6,78.4 145.8,77.5 146.0,81.1 146.1,85.7 146.3,84.1 146.4,88.4 146.6,90.7 146.8,88.4 146.9,86.7 147.1,87.2 147.2,90.8 147.4,93.6 147.6,93.0 147.7,94.2 147.9,92.8 148.0,95.0 148.2,93.8 148.4,94.6 148.5,93.0 148.7,92.8 148.8,95.8 149.0,94.9 149.2,95.7 149.3,99.5 149.5,98.1 149.6,105.2 149.8,101.2 150.0,98.1 150.1,101.6 150.3,101.0 150.4,99.0 150.6,103.1 150.8,99.3 150.9,94.5 151.1,103.2 151.2,100.3 151.4,105.1 151.6,100.6 151.7,99.5 151.9,105.6 152.0,99.9 152.2,102.9 152.4,105.8 152.5,102.9 152.7,102.5 152.8,102.9 153.0,104.6 153.2,101.0 153.3,104.2 153.5,104.2 153.6,108.1 153.8,102.2 154.0,100.9 154.1,104.5 154.3,102.0 154.4,103.4 154.6,103.2 154.8,105.4 154.9,101.4 155.1,102.7 155.2,97.4 155.4,101.1 155.6,106.5 155.7,101.7 155.9,101.7 156.0,100.7 156.2,104.6 156.4,103.8 156.5,100.8 156.7,104.9 156.8,104.0 157.0,105.0 157.2,102.0 157.3,107.3 157.5,104.3 157.6,103.2 157.8,102.3 158.0,103.0 158.1,105.5 158.3,103.0 158.4,105.9 158.6,104.7 158.8,106.5 158.9,105.4 159.1,103.4 159.2,99.3 159.4,104.1 159.6,105.2 159.7,103.8 159.9,104.8 160.0,102.5 160.2,102.8 160.4,101.5 160.5,106.6 160.7,104.0 160.8,102.7 161.0,101.0 161.2,103.5 161.3,106.9 161.5,104.8 161.6,102.3 161.8,107.0 162.0,107.0 162.1,106.0 162.3,105.5 162.4,106.4 162.6,105.1 162.8,105.5 162.9,102.0 163.1,106.9 163.2,104.2 163.4,108.1 163.6,99.1 163.7,105.1 163.9,105.7 164.0,102.6 164.2,104.3 164.4,104.9 164.5,104.5 164.7,102.0 164.8,102.8 165.0,105.3 165.2,105.9 165.3,103.3 165.5,103.3 165.6,103.5 165.8,105.4 166.0,100.8 166.1,100.2 166.3,103.4 166.4,100.7 166.6,101.9 166.8,103.4 166.9,104.4 167.1,101.1 167.2,105.2 167.4,99.6 167.6,104.7 167.7,100.2 167.9,100.8 168.0,105.0 168.2,102.6 168.4,101.8 168.5,102.6 168.7,104.6 168.8,103.4 169.0,103.5 169.2,105.9 169.3,102.0 169.5,102.5 169.6,102.4 169.8,106.1 170.0,105.7 170.1,106.3 170.3,103.4 170.4,103.1 170.6,105.4 170.8,102.6 170.9,105.2 171.1,105.0 171.2,101.8 171.4,103.2 171.6,103.1 171.7,107.2 171.9,109.0 172.0,103.2 172.2,103.5 172.4,98.4 172.5,103.8 172.7,103.4 172.8,101.1 173.0,105.1 173.2,99.9 173.3,102.9 173.5,103.8 173.6,100.7 173.8,105.4 174.0,105.8 174.1,100.4 174.3,100.3 174.4,104.8 174.6,103.3 174.8,100.7 174.9,102.8 175.1,103.2 175.2,103.2 175.4,105.2 175.6,104.3 175.7,107.3 175.9,106.5 176.0,104.8 176.2,105.7 176.4,106.2 176.5,104.8 176.7,100.7 176.8,105.3 177.0,103.5 177.2,106.9 177.3,103.5 177.5,104.4 177.6,104.0 177.8,106.9 178.0,103.6 178.1,102.7 178.3,104.0 178.4,102.2 178.6,103.6 178.8,103.2 178.9,103.8 179.1,107.3 179.2,102.2 179.4,103.2 179.6,102.7 179.7,104.6 179.9,100.6 180.0,101.8 180.2,103.2 180.4,104.6 180.5,103.4 180.7,102.3 180.8,101.5 181.0,104.5 181.2,106.6 181.3,104.1 181.5,103.9 181.6,104.4 181.8,101.4 182.0,102.8 182.1,102.9 182.3,104.1 182.4,103.4 182.6,100.8 182.8,106.0 182.9,107.2 183.1,103.0 183.2,104.5 183.4,104.2 183.6,105.4 183.7,100.4 183.9,107.2 184.0,102.6 184.2,106.4 184.4,103.7 184.5,102.6 184.7,103.1 184.8,105.4 185.0,101.6 185.2,102.7 185.3,102.4 185.5,99.7 185.6,106.4 185.8,104.8 186.0,103.4 186.1,106.0 186.3,101.4 186.4,103.4 186.6,107.4 186.8,105.7 186.9,98.7 187.1,96.2 187.2,101.2 187.4,105.8 187.6,102.5 187.7,103.1 187.9,104.8 188.0,101.5 188.2,103.8 188.4,105.1 188.5,104.4 188.7,104.3 188.8,102.2 189.0,104.5 189.2,102.5 189.3,106.3 189.5,109.1 189.6,101.7 189.8,98.5 190.0,102.3 190.1,104.1 190.3,105.5 190.4,105.6 190.6,101.5 190.8,101.6 190.9,106.1 191.1,100.9 191.2,105.7 191.4,102.8 191.6,104.9 191.7,104.6 191.9,104.9 192.0,105.0 192.2,101.1 192.4,104.0 192.5,103.4 192.7,104.0 192.8,106.0 193.0,102.7 193.2,101.8 193.3,101.8 193.5,102.7 193.6,105.1 193.8,101.7 194.0,106.1 194.1,104.2 194.3,103.1 194.4,100.7 194.6,104.1 194.8,105.1 194.9,99.7 195.1,106.3 195.2,107.2 195.4,104.3 195.6,104.6 195.7,108.8 195.9,106.1 196.0,101.4 196.2,103.4 196.4,103.0 196.5,103.1 196.7,98.2 196.8,105.0 197.0,102.0 197.2,103.7 197.3,103.1 197.5,105.3 197.6,102.6 197.8,101.5 198.0,104.3 198.1,106.2 198.3,102.5 198.4,106.2 198.6,103.7 198.8,101.8 198.9,106.3 199.1,101.2 199.2,105.2 199.4,101.9 199.6,104.0 199.7,100.3 199.9,101.2 200.0,105.5 200.2,103.6 200.4,103.3 200.5,102.2 200.7,104.2 200.8,100.2 201.0,100.8 201.2,102.9 201.3,101.4 201.5,101.8 201.6,103.2 201.8,103.1 202.0,102.9 202.1,107.2 202.3,105.7 202.4,106.2 202.6,103.4 202.8,102.4 202.9,100.3 203.1,102.8 203.2,99.0 203.4,102.3 203.6,105.5 203.7,107.4 203.9,106.0 204.0,101.9 204.2,104.8 204.4,102.0 204.5,105.6 204.7,103.5 204.8,105.6 205.0,109.3 205.2,105.6 205.3,108.7 205.5,103.9 205.6,102.9 205.8,106.5 206.0,107.4 206.1,102.2 206.3,103.7 206.4,100.4 206.6,103.2 206.8,105.6 206.9,103.4 207.1,102.3 207.2,100.4 207.4,104.4 207.6,105.2 207.7,104.7 207.9,104.0 208.0,100.6 208.2,107.4 208.4,103.3 208.5,103.1 208.7,105.1 208.8,98.6 209.0,103.3 209.2,103.1 209.3,104.3 209.5,106.4 209.6,104.4 209.8,99.4 210.0,102.7 210.1,104.0 210.3,103.8 210.4,100.6 210.6,99.8 210.8,104.7 210.9,104.3 211.1,103.5 211.2,99.8 211.4,107.4 211.6,97.1 211.7,102.7 211.9,108.1 212.0,103.1 212.2,103.9 212.4,100.8 212.5,106.4 212.7,100.6 212.8,104.0 213.0,103.8 213.2,101.2 213.3,105.5 213.5,100.4 213.6,102.1 213.8,103.5 214.0,102.7 214.1,104.6 214.3,105.6 214.4,102.9 214.6,102.3 214.8,102.4 214.9,102.7 215.1,105.4 215.2,103.2 215.4,104.6 215.6,103.5 215.7,101.9 215.9,105.7 216.0,101.6 216.2,104.0 216.4,107.3 216.5,101.6 216.7,103.9 216.8,100.5 217.0,102.9 217.2,100.7 217.3,103.2 217.5,102.8 217.6,104.4 217.8,107.5 218.0,104.6 218.1,105.5 218.3,104.0 218.4,103.5 218.6,102.2 218.8,100.1 218.9,104.2 219.1,107.6 219.2,104.9 219.4,102.7 219.6,107.4 219.7,102.8 219.9,102.4 220.0,101.0 220.2,101.6 220.4,103.1 220.5,108.0 220.7,103.2 220.8,101.4 221.0,102.3 221.2,103.1 221.3,99.7 221.5,103.8 221.6,105.0 221.8,104.2 222.0,104.7 222.1,100.5 222.3,99.6 222.4,106.1 222.6,105.6 222.8,99.8 222.9,103.7 223.1,103.2 223.2,104.5 223.4,103.8 223.6,102.3 223.7,103.9 223.9,103.8 224.0,103.4 224.2,99.4 224.4,96.8 224.5,101.7 224.7,99.8 224.8,103.8 225.0,104.9 225.2,103.9 225.3,102.5 225.5,103.5 225.6,105.9 225.8,101.7 226.0,105.3 226.1,105.0 226.3,104.0 226.4,106.6 226.6,101.9 226.8,105.6 226.9,101.4 227.1,101.7 227.2,101.0 227.4,104.3 227.6,101.2 227.7,103.4 227.9,100.7 228.0,105.6 228.2,107.3 228.4,103.9 228.5,107.0 228.7,104.6 228.8,108.3 229.0,103.7 229.2,100.2 229.3,106.9 229.5,103.3 229.6,101.4 229.8,102.2 230.0,100.2 230.1,103.4 230.3,101.4 230.4,107.1 230.6,105.2 230.8,100.1 230.9,100.4 231.1,102.6 231.2,99.6 231.4,103.6 231.6,103.7 231.7,102.2 231.9,102.7 232.0,105.0 232.2,107.0 232.4,107.1 232.5,103.9 232.7,105.8 232.8,102.3 233.0,104.7 233.2,101.6 233.3,105.2 233.5,100.9 233.6,101.5 233.8,103.7 234.0,105.0 234.1,100.6 234.3,102.6 234.4,104.2 234.6,104.4 234.8,102.1 234.9,104.2 235.1,103.3 235.2,107.0 235.4,105.2 235.6,101.1 235.7,99.0 235.9,104.0 236.0,106.4 236.2,104.1 236.4,105.7 236.5,102.7 236.7,100.8 236.8,105.5 237.0,104.1 237.2,105.4 237.3,101.0 237.5,104.4 237.6,102.6 237.8,105.6 238.0,102.4 238.1,102.3 238.3,102.4 238.4,106.4 238.6,103.6 238.8,101.9 238.9,101.2 239.1,101.1 239.2,106.6 239.4,99.4 239.6,101.5 239.7,104.8 239.9,106.0 240.0,103.2 240.2,105.3 240.4,105.2 240.5,105.6 240.7,103.5 240.8,107.0 241.0,103.8 241.2,106.8 241.3,101.0 241.5,105.5 241.6,100.7 241.8,100.2 242.0,104.6 242.1,101.7 242.3,104.5 242.4,101.3 242.6,107.2 242.8,103.7 242.9,101.2 243.1,104.0 243.2,105.5 243.4,101.8 243.6,104.7 243.7,108.0 243.9,105.4 244.0,103.5 244.2,102.3 244.4,104.8 244.5,100.3 244.7,97.0 244.8,102.1 245.0,101.2 245.2,107.5 245.3,103.9 245.5,101.5 245.6,101.1 245.8,104.7 246.0,101.9 246.1,102.4 246.3,103.6 246.4,103.9 246.6,103.9 246.8,103.9 246.9,106.5 247.1,107.5 247.2,100.3 247.4,109.6 247.6,104.3 247.7,106.8 247.9,102.5 248.0,104.8 248.2,104.6 248.4,104.3 248.5,105.9 248.7,105.5 248.8,101.9 249.0,103.8 249.2,105.6 249.3,105.6 249.5,103.3 249.6,103.5 249.8,103.8 250.0,101.6 250.1,101.2 250.3,107.4 250.4,103.2 250.6,104.2 250.8,102.4 250.9,106.8 251.1,107.7 251.2,103.3 251.4,104.8 251.6,101.9 251.7,107.5 251.9,105.6 252.0,101.7 252.2,106.2 252.4,104.3 252.5,104.4 252.7,104.2 252.8,101.9 253.0,102.2 253.2,104.8 253.3,103.3 253.5,101.4 253.6,107.9 253.8,103.0 254.0,102.2 254.1,101.9 254.3,105.0 254.4,105.6 254.6,104.0 254.8,105.3 254.9,100.2 255.1,102.7 255.2,102.5 255.4,103.6 255.6,104.7 255.7,99.2 255.9,110.5 256.0,101.7 256.2,104.4 256.4,105.4 256.5,105.5 256.7,104.1 256.8,97.2 257.0,101.1 257.2,105.2 257.3,101.4 257.5,101.1 257.6,98.2 257.8,106.0 258.0,104.5 258.1,101.3 258.3,103.0 258.4,103.0 258.6,100.8 258.8,102.8 258.9,103.9 259.1,104.6 259.2,106.1 259.4,103.4 259.6,102.3 259.7,104.1 259.9,101.9 260.0,100.6 260.2,105.8 260.4,102.6 260.5,103.6 260.7,104.8 260.8,101.0 261.0,104.9 261.2,104.4 261.3,103.2 261.5,104.3 261.6,101.8 261.8,98.5 262.0,102.8 262.1,101.5 262.3,105.3 262.4,104.0 262.6,102.2 262.8,103.3 262.9,106.2 263.1,105.7 263.2,104.0 263.4,104.2 263.6,102.7 263.7,102.9 263.9,104.5 264.0,102.9 264.2,103.8 264.4,100.7 264.5,99.5 264.7,99.5 264.8,102.2 265.0,106.0 265.2,105.7 265.3,100.9 265.5,99.6 265.6,104.8 265.8,103.9 266.0,99.8 266.1,105.1 266.3,103.1 266.4,105.5 266.6,103.3 266.8,104.4 266.9,103.0 267.1,100.0 267.2,101.4 267.4,100.0 267.6,103.0 267.7,98.5 267.9,96.8 268.0,101.3 268.2,102.6 268.4,103.4 268.5,102.7 268.7,97.1 268.8,99.0 269.0,99.5 269.2,100.9 269.3,96.4 269.5,101.3 269.6,101.9 269.8,99.4 270.0,101.9 270.1,104.3 270.3,101.8 270.4,104.2 270.6,104.3 270.8,103.0 270.9,103.0 271.1,101.4 271.2,104.9 271.4,101.2 271.6,100.7 271.7,103.9 271.9,100.7 272.0,103.4 272.2,104.8 272.4,102.6 272.5,102.8 272.7,104.7 272.8,104.4 273.0,99.5 273.2,99.9 273.3,105.8 273.5,103.7 273.6,98.4 273.8,100.1 274.0,103.1 274.1,101.0 274.3,104.1 274.4,103.2 274.6,104.1 274.8,100.4 274.9,104.3 275.1,107.4 275.2,101.4 275.4,106.1 275.6,105.4 275.7,104.7 275.9,103.0 276.0,100.5 276.2,101.2 276.4,104.9 276.5,105.4 276.7,105.9 276.8,105.3 277.0,105.1 277.2,102.2 277.3,100.5 277.5,103.6 277.6,104.3 277.8,103.4 278.0,99.8 278.1,102.0 278.3,99.9 278.4,103.5 278.6,100.8 278.8,102.7 278.9,103.8 279.1,103.3 279.2,106.0 279.4,100.7 279.6,98.4 279.7,105.2 279.9,106.3 280.0,106.5 280.2,103.9 280.4,104.5 280.5,103.6 280.7,100.6 280.8,102.1 281.0,104.5 281.2,102.1 281.3,107.6 281.5,100.0 281.6,102.4 281.8,105.8 282.0,102.0 282.1,100.9 282.3,100.4 282.4,101.9 282.6,106.8 282.8,104.5 282.9,104.7 283.1,102.5 283.2,105.5 283.4,103.8 283.6,101.5 283.7,102.5 283.9,104.1 284.0,106.1 284.2,103.5 284.4,104.6 284.5,107.9 284.7,101.6 284.8,100.7 285.0,105.6 285.2,104.5 285.3,103.4 285.5,104.1 285.6,102.8 285.8,104.7 286.0,102.8 286.1,105.3 286.3,100.9 286.4,101.8 286.6,103.8 286.8,102.5 286.9,105.0 287.1,103.3 287.2,102.2 287.4,103.9 287.6,102.3 287.7,100.0 287.9,101.0 288.0,101.7 288.2,102.4 288.4,103.8 288.5,105.7 288.7,104.9 288.8,107.6 289.0,106.5 289.2,103.2 289.3,107.2 289.5,106.2 289.6,102.5 289.8,104.2 290.0,106.0 290.1,104.1 290.3,105.8 290.4,104.4 290.6,105.0 290.8,102.8 290.9,104.3 291.1,102.7 291.2,105.0 291.4,99.7 291.6,104.1 291.7,106.2 291.9,104.6 292.0,103.3 292.2,104.6 292.4,101.4 292.5,101.3 292.7,102.3 292.8,102.7 293.0,105.1 293.2,101.0 293.3,105.2 293.5,99.5 293.6,101.3 293.8,103.0 294.0,105.5 294.1,101.7 294.3,98.3 294.4,104.0 294.6,103.0 294.8,100.8 294.9,100.8 295.1,101.5 295.2,103.2 295.4,104.4 295.6,99.8 295.7,108.0 295.9,102.9 296.0,102.1 296.2,104.3 296.4,103.2 296.5,108.0 296.7,105.2 296.8,102.1 297.0,101.9 297.2,101.6 297.3,102.0 297.5,104.2 297.6,101.2 297.8,106.0 298.0,102.2 298.1,101.9 298.3,104.2 298.4,97.5 298.6,99.7 298.8,102.9 298.9,101.5 299.1,101.2 299.2,101.8 299.4,99.4 299.6,100.1 299.7,97.1 299.9,95.6 300.0,102.1 300.2,96.9 300.4,97.0 300.5,101.2 300.7,100.0 300.8,96.0 301.0,95.4 301.2,95.8 301.3,93.2 301.5,95.7 301.6,94.0 301.8,93.3 302.0,93.7 302.1,92.7 302.3,94.1 302.4,92.3 302.6,86.1 302.8,93.8 302.9,91.1" fill="none" stroke="#f4a034" stroke-width="0.95" stroke-linejoin="round"/>
<polyline points="97.0,134.1 97.2,135.0 97.3,138.7 97.5,136.6 97.6,132.1 97.8,135.3 98.0,134.0 98.1,135.6 98.3,132.2 98.4,135.9 98.6,135.8 98.8,138.6 98.9,136.0 99.1,136.3 99.2,132.2 99.4,139.8 99.6,131.5 99.7,137.5 99.9,134.7 100.0,133.7 100.2,134.1 100.4,134.1 100.5,136.2 100.7,135.2 100.8,138.5 101.0,131.9 101.2,135.6 101.3,133.8 101.5,137.2 101.6,131.4 101.8,134.9 102.0,136.1 102.1,132.7 102.3,137.5 102.4,135.8 102.6,137.6 102.8,137.4 102.9,133.6 103.1,134.0 103.2,135.3 103.4,137.1 103.6,137.3 103.7,134.2 103.9,134.3 104.0,133.9 104.2,134.3 104.4,135.0 104.5,135.1 104.7,139.5 104.8,134.3 105.0,134.7 105.2,136.3 105.3,133.4 105.5,134.5 105.6,135.3 105.8,136.9 106.0,132.6 106.1,138.0 106.3,134.6 106.4,135.7 106.6,137.1 106.8,136.7 106.9,137.4 107.1,135.7 107.2,135.3 107.4,135.9 107.6,133.3 107.7,137.7 107.9,133.6 108.0,132.6 108.2,139.3 108.4,134.9 108.5,132.9 108.7,138.9 108.8,134.5 109.0,137.3 109.2,133.4 109.3,134.5 109.5,131.7 109.6,131.2 109.8,132.9 110.0,134.8 110.1,136.5 110.3,139.5 110.4,132.4 110.6,136.2 110.8,132.7 110.9,133.2 111.1,130.1 111.2,129.4 111.4,130.2 111.6,128.3 111.7,129.3 111.9,126.2 112.0,127.8 112.2,122.4 112.4,118.4 112.5,116.0 112.7,116.5 112.8,117.0 113.0,118.3 113.2,119.6 113.3,123.2 113.5,123.7 113.6,123.9 113.8,125.8 114.0,124.0 114.1,126.9 114.3,123.9 114.4,130.1 114.6,128.3 114.8,129.1 114.9,130.5 115.1,129.8 115.2,129.8 115.4,133.0 115.6,131.2 115.7,129.6 115.9,132.6 116.0,128.6 116.2,135.6 116.4,132.2 116.5,132.9 116.7,137.5 116.8,137.5 117.0,133.6 117.2,134.8 117.3,136.1 117.5,137.4 117.6,133.9 117.8,134.5 118.0,136.7 118.1,134.9 118.3,136.0 118.4,135.8 118.6,132.4 118.8,133.1 118.9,129.7 119.1,134.4 119.2,137.7 119.4,132.9 119.6,137.7 119.7,137.2 119.9,135.1 120.0,135.2 120.2,135.4 120.4,133.6 120.5,134.7 120.7,135.2 120.8,136.5 121.0,137.0 121.2,133.9 121.3,137.0 121.5,133.8 121.6,135.0 121.8,136.1 122.0,135.4 122.1,135.2 122.3,136.0 122.4,134.4 122.6,134.1 122.8,134.9 122.9,137.2 123.1,135.0 123.2,139.0 123.4,135.4 123.6,129.1 123.7,134.1 123.9,138.4 124.0,135.1 124.2,134.1 124.4,133.0 124.5,137.4 124.7,136.5 124.8,135.8 125.0,135.1 125.2,137.0 125.3,135.4 125.5,131.1 125.6,134.9 125.8,133.3 126.0,132.4 126.1,134.2 126.3,132.9 126.4,127.1 126.6,136.3 126.8,135.4 126.9,133.2 127.1,132.9 127.2,134.2 127.4,131.3 127.6,134.6 127.7,133.6 127.9,133.5 128.0,132.4 128.2,133.2 128.4,136.9 128.5,137.4 128.7,135.9 128.8,134.8 129.0,133.2 129.2,136.5 129.3,138.3 129.5,131.9 129.6,137.5 129.8,130.9 130.0,134.4 130.1,135.9 130.3,132.5 130.4,132.1 130.6,135.6 130.8,136.9 130.9,134.2 131.1,137.8 131.2,133.6 131.4,138.7 131.6,135.4 131.7,135.7 131.9,136.5 132.0,135.9 132.2,138.9 132.4,139.7 132.5,136.3 132.7,135.0 132.8,133.1 133.0,133.9 133.2,135.4 133.3,135.2 133.5,135.3 133.6,135.4 133.8,136.4 134.0,132.8 134.1,133.4 134.3,137.5 134.4,137.0 134.6,134.1 134.8,137.9 134.9,134.0 135.1,134.8 135.2,131.7 135.4,137.1 135.6,135.4 135.7,137.6 135.9,136.8 136.0,135.5 136.2,135.6 136.4,137.7 136.5,135.1 136.7,135.0 136.8,135.4 137.0,136.9 137.2,137.1 137.3,139.2 137.5,135.3 137.6,138.0 137.8,134.2 138.0,136.8 138.1,135.8 138.3,139.2 138.4,137.0 138.6,134.9 138.8,137.0 138.9,136.6 139.1,135.3 139.2,135.4 139.4,134.1 139.6,141.5 139.7,136.2 139.9,137.9 140.0,133.6 140.2,133.7 140.4,135.5 140.5,135.5 140.7,137.6 140.8,133.8 141.0,136.9 141.2,138.8 141.3,134.0 141.5,137.5 141.6,133.8 141.8,136.4 142.0,136.5 142.1,139.2 142.3,134.4 142.4,136.2 142.6,137.8 142.8,133.4 142.9,135.7 143.1,134.0 143.2,134.2 143.4,137.1 143.6,137.1 143.7,140.8 143.9,138.5 144.0,138.4 144.2,135.5 144.4,135.2 144.5,136.1 144.7,131.2 144.8,139.1 145.0,134.5 145.2,133.8 145.3,134.9 145.5,137.5 145.6,138.3 145.8,135.0 146.0,136.5 146.1,135.6 146.3,133.6 146.4,135.9 146.6,135.7 146.8,132.5 146.9,137.7 147.1,132.2 147.2,135.9 147.4,133.2 147.6,133.6 147.7,133.7 147.9,136.2 148.0,132.2 148.2,134.1 148.4,137.4 148.5,132.6 148.7,133.6 148.8,134.7 149.0,131.6 149.2,133.1 149.3,130.1 149.5,132.1 149.6,129.7 149.8,126.2 150.0,129.2 150.1,126.0 150.3,126.1 150.4,125.3 150.6,126.6 150.8,127.9 150.9,128.8 151.1,131.0 151.2,126.5 151.4,128.8 151.6,132.3 151.7,130.6 151.9,131.4 152.0,134.0 152.2,131.8 152.4,132.4 152.5,131.6 152.7,135.4 152.8,134.1 153.0,130.8 153.2,133.5 153.3,130.2 153.5,134.7 153.6,134.0 153.8,132.4 154.0,132.2 154.1,129.6 154.3,134.8 154.4,133.1 154.6,132.8 154.8,134.9 154.9,132.3 155.1,132.5 155.2,132.4 155.4,131.2 155.6,138.7 155.7,133.6 155.9,133.3 156.0,136.0 156.2,127.9 156.4,134.1 156.5,134.2 156.7,132.3 156.8,135.3 157.0,130.3 157.2,134.3 157.3,136.1 157.5,129.9 157.6,131.4 157.8,134.1 158.0,134.4 158.1,133.2 158.3,135.1 158.4,135.0 158.6,131.9 158.8,134.5 158.9,132.2 159.1,130.6 159.2,130.0 159.4,136.8 159.6,134.5 159.7,138.8 159.9,132.1 160.0,134.2 160.2,135.5 160.4,134.6 160.5,135.9 160.7,135.2 160.8,133.7 161.0,130.5 161.2,133.3 161.3,138.7 161.5,136.8 161.6,138.2 161.8,134.2 162.0,135.1 162.1,133.7 162.3,136.2 162.4,135.5 162.6,136.2 162.8,138.9 162.9,133.7 163.1,136.9 163.2,132.7 163.4,137.7 163.6,134.5 163.7,135.2 163.9,135.5 164.0,138.6 164.2,135.3 164.4,134.4 164.5,133.0 164.7,135.9 164.8,133.6 165.0,134.3 165.2,135.3 165.3,136.6 165.5,133.9 165.6,136.6 165.8,138.8 166.0,132.1 166.1,137.8 166.3,139.4 166.4,134.0 166.6,136.3 166.8,132.3 166.9,135.8 167.1,134.5 167.2,135.6 167.4,133.2 167.6,133.3 167.7,134.2 167.9,133.7 168.0,133.8 168.2,134.5 168.4,132.6 168.5,134.6 168.7,135.9 168.8,130.3 169.0,135.3 169.2,133.4 169.3,132.7 169.5,132.3 169.6,133.3 169.8,133.6 170.0,135.8 170.1,132.6 170.3,137.2 170.4,133.5 170.6,136.6 170.8,137.5 170.9,132.9 171.1,137.4 171.2,139.6 171.4,134.5 171.6,136.6 171.7,135.1 171.9,135.5 172.0,135.1 172.2,134.6 172.4,137.1 172.5,137.4 172.7,135.6 172.8,138.7 173.0,137.9 173.2,137.1 173.3,134.2 173.5,139.4 173.6,138.2 173.8,131.2 174.0,133.4 174.1,134.6 174.3,137.5 174.4,138.0 174.6,135.0 174.8,135.9 174.9,136.8 175.1,132.9 175.2,136.6 175.4,134.8 175.6,135.8 175.7,135.3 175.9,133.1 176.0,133.4 176.2,135.4 176.4,135.7 176.5,134.9 176.7,137.5 176.8,134.6 177.0,132.8 177.2,134.6 177.3,135.0 177.5,135.2 177.6,137.9 177.8,136.5 178.0,137.5 178.1,136.7 178.3,135.0 178.4,137.4 178.6,134.8 178.8,135.8 178.9,133.4 179.1,135.5 179.2,134.7 179.4,136.1 179.6,139.0 179.7,140.1 179.9,137.4 180.0,135.4 180.2,137.1 180.4,135.9 180.5,134.2 180.7,135.4 180.8,135.1 181.0,134.3 181.2,138.1 181.3,134.3 181.5,134.4 181.6,136.9 181.8,134.1 182.0,133.3 182.1,133.8 182.3,136.6 182.4,136.4 182.6,136.2 182.8,134.8 182.9,133.9 183.1,137.5 183.2,132.8 183.4,135.2 183.6,133.0 183.7,134.8 183.9,135.2 184.0,137.9 184.2,129.6 184.4,138.0 184.5,133.5 184.7,135.8 184.8,136.8 185.0,133.7 185.2,135.1 185.3,136.1 185.5,134.9 185.6,133.6 185.8,135.3 186.0,135.1 186.1,131.9 186.3,137.6 186.4,135.3 186.6,129.9 186.8,132.9 186.9,137.9 187.1,137.6 187.2,134.7 187.4,130.6 187.6,133.2 187.7,135.4 187.9,133.7 188.0,131.6 188.2,130.4 188.4,132.7 188.5,129.6 188.7,129.5 188.8,128.5 189.0,129.1 189.2,126.6 189.3,127.2 189.5,123.5 189.6,129.7 189.8,129.7 190.0,128.3 190.1,124.0 190.3,127.8 190.4,129.4 190.6,133.7 190.8,131.1 190.9,131.8 191.1,132.0 191.2,133.3 191.4,128.6 191.6,129.4 191.7,128.9 191.9,131.0 192.0,131.2 192.2,132.2 192.4,130.2 192.5,132.5 192.7,130.8 192.8,136.9 193.0,131.6 193.2,137.9 193.3,136.3 193.5,130.8 193.6,135.3 193.8,134.6 194.0,130.6 194.1,134.9 194.3,133.5 194.4,134.4 194.6,132.1 194.8,133.8 194.9,134.8 195.1,133.9 195.2,133.2 195.4,134.2 195.6,132.6 195.7,135.2 195.9,129.5 196.0,137.6 196.2,134.8 196.4,135.6 196.5,136.4 196.7,132.2 196.8,139.3 197.0,132.5 197.2,135.7 197.3,135.3 197.5,137.3 197.6,134.6 197.8,131.9 198.0,135.3 198.1,129.9 198.3,134.6 198.4,134.1 198.6,138.1 198.8,134.5 198.9,134.1 199.1,133.4 199.2,133.2 199.4,133.8 199.6,136.2 199.7,132.4 199.9,134.7 200.0,132.3 200.2,134.8 200.4,135.5 200.5,132.8 200.7,134.2 200.8,135.6 201.0,136.9 201.2,137.3 201.3,135.2 201.5,133.5 201.6,132.3 201.8,137.1 202.0,138.4 202.1,136.3 202.3,138.7 202.4,134.6 202.6,134.8 202.8,138.5 202.9,133.4 203.1,136.6 203.2,136.1 203.4,135.7 203.6,138.8 203.7,133.5 203.9,134.3 204.0,131.0 204.2,133.1 204.4,134.1 204.5,134.4 204.7,134.8 204.8,135.8 205.0,133.9 205.2,131.3 205.3,135.6 205.5,136.1 205.6,132.8 205.8,133.6 206.0,138.7 206.1,137.2 206.3,137.4 206.4,136.6 206.6,135.7 206.8,134.4 206.9,136.6 207.1,135.0 207.2,134.5 207.4,135.3 207.6,135.2 207.7,137.1 207.9,133.5 208.0,140.5 208.2,133.5 208.4,134.7 208.5,137.3 208.7,133.8 208.8,134.4 209.0,135.4 209.2,129.3 209.3,134.3 209.5,133.5 209.6,135.0 209.8,136.4 210.0,136.6 210.1,138.3 210.3,138.3 210.4,137.4 210.6,135.2 210.8,137.3 210.9,133.3 211.1,135.2 211.2,138.2 211.4,136.9 211.6,132.5 211.7,134.1 211.9,137.0 212.0,136.3 212.2,137.1 212.4,131.4 212.5,132.5 212.7,134.5 212.8,133.2 213.0,135.1 213.2,135.2 213.3,135.9 213.5,135.0 213.6,136.5 213.8,136.9 214.0,135.6 214.1,133.0 214.3,138.0 214.4,135.9 214.6,136.2 214.8,135.9 214.9,132.4 215.1,136.7 215.2,134.2 215.4,133.0 215.6,138.2 215.7,135.0 215.9,136.2 216.0,137.3 216.2,138.8 216.4,132.0 216.5,134.1 216.7,136.8 216.8,134.1 217.0,128.9 217.2,135.7 217.3,135.8 217.5,136.8 217.6,135.6 217.8,134.3 218.0,135.6 218.1,135.0 218.3,134.0 218.4,135.5 218.6,135.7 218.8,132.7 218.9,136.7 219.1,136.5 219.2,136.5 219.4,129.4 219.6,135.1 219.7,134.7 219.9,132.9 220.0,136.3 220.2,132.1 220.4,137.6 220.5,135.8 220.7,134.0 220.8,137.9 221.0,136.0 221.2,135.8 221.3,132.5 221.5,136.2 221.6,138.1 221.8,137.5 222.0,132.8 222.1,138.1 222.3,138.6 222.4,137.1 222.6,134.5 222.8,132.4 222.9,133.5 223.1,134.1 223.2,135.7 223.4,136.2 223.6,133.6 223.7,131.7 223.9,134.1 224.0,132.2 224.2,137.5 224.4,132.2 224.5,135.6 224.7,136.3 224.8,132.5 225.0,136.3 225.2,134.0 225.3,132.6 225.5,132.1 225.6,134.1 225.8,135.7 226.0,129.4 226.1,134.1 226.3,132.1 226.4,130.3 226.6,131.2 226.8,130.8 226.9,129.9 227.1,131.3 227.2,128.2 227.4,134.3 227.6,132.4 227.7,129.7 227.9,127.2 228.0,131.2 228.2,130.7 228.4,133.3 228.5,133.5 228.7,136.1 228.8,132.2 229.0,134.2 229.2,131.8 229.3,132.0 229.5,135.9 229.6,132.6 229.8,132.6 230.0,132.3 230.1,133.8 230.3,134.3 230.4,133.0 230.6,131.0 230.8,134.0 230.9,131.7 231.1,132.8 231.2,134.1 231.4,134.3 231.6,129.1 231.7,137.4 231.9,135.6 232.0,138.1 232.2,139.3 232.4,132.4 232.5,133.1 232.7,134.9 232.8,136.3 233.0,133.5 233.2,133.9 233.3,136.7 233.5,132.7 233.6,134.9 233.8,136.8 234.0,134.1 234.1,136.2 234.3,134.4 234.4,131.5 234.6,133.6 234.8,134.3 234.9,134.0 235.1,134.8 235.2,135.6 235.4,135.3 235.6,134.9 235.7,133.6 235.9,133.8 236.0,133.3 236.2,132.7 236.4,136.4 236.5,129.6 236.7,133.5 236.8,129.4 237.0,131.0 237.2,134.1 237.3,132.1 237.5,135.7 237.6,131.1 237.8,132.6 238.0,132.0 238.1,133.5 238.3,132.9 238.4,132.9 238.6,133.8 238.8,135.9 238.9,133.9 239.1,133.8 239.2,133.1 239.4,132.3 239.6,131.0 239.7,131.8 239.9,134.0 240.0,130.2 240.2,135.4 240.4,133.3 240.5,132.3 240.7,133.1 240.8,135.5 241.0,135.1 241.2,134.9 241.3,138.0 241.5,139.1 241.6,131.9 241.8,136.3 242.0,133.1 242.1,131.9 242.3,133.7 242.4,136.8 242.6,134.2 242.8,134.0 242.9,138.0 243.1,136.2 243.2,135.0 243.4,138.9 243.6,136.3 243.7,133.8 243.9,133.2 244.0,134.5 244.2,135.8 244.4,137.3 244.5,137.0 244.7,135.6 244.8,133.2 245.0,137.4 245.2,135.7 245.3,133.2 245.5,133.1 245.6,136.0 245.8,136.2 246.0,137.3 246.1,133.2 246.3,139.5 246.4,132.0 246.6,135.6 246.8,138.3 246.9,137.6 247.1,133.5 247.2,136.6 247.4,137.9 247.6,136.8 247.7,133.4 247.9,138.7 248.0,132.0 248.2,135.3 248.4,133.2 248.5,134.5 248.7,134.7 248.8,136.2 249.0,132.7 249.2,135.6 249.3,137.8 249.5,135.2 249.6,136.2 249.8,136.0 250.0,133.5 250.1,134.3 250.3,135.1 250.4,136.0 250.6,139.2 250.8,138.4 250.9,134.2 251.1,134.2 251.2,133.2 251.4,130.5 251.6,137.8 251.7,136.3 251.9,131.3 252.0,135.3 252.2,140.1 252.4,136.4 252.5,136.5 252.7,135.8 252.8,133.8 253.0,132.9 253.2,133.7 253.3,135.5 253.5,135.0 253.6,136.8 253.8,139.0 254.0,136.6 254.1,137.1 254.3,134.6 254.4,132.8 254.6,139.8 254.8,136.9 254.9,137.8 255.1,134.7 255.2,132.0 255.4,138.1 255.6,131.1 255.7,135.0 255.9,134.3 256.0,135.8 256.2,137.0 256.4,136.9 256.5,130.9 256.7,137.3 256.8,131.5 257.0,136.8 257.2,134.5 257.3,133.2 257.5,134.3 257.6,132.8 257.8,135.3 258.0,137.2 258.1,136.9 258.3,135.4 258.4,137.4 258.6,136.3 258.8,139.7 258.9,136.5 259.1,134.2 259.2,134.8 259.4,133.9 259.6,134.9 259.7,135.2 259.9,136.9 260.0,137.0 260.2,135.5 260.4,136.3 260.5,133.9 260.7,134.2 260.8,130.2 261.0,133.6 261.2,134.2 261.3,140.5 261.5,132.6 261.6,135.4 261.8,134.6 262.0,132.1 262.1,135.7 262.3,135.4 262.4,132.4 262.6,130.5 262.8,135.0 262.9,132.3 263.1,136.5 263.2,134.6 263.4,136.2 263.6,134.4 263.7,138.1 263.9,136.2 264.0,137.8 264.2,134.9 264.4,132.5 264.5,131.7 264.7,133.6 264.8,135.2 265.0,133.2 265.2,139.2 265.3,133.7 265.5,134.4 265.6,133.1 265.8,129.9 266.0,134.1 266.1,132.5 266.3,131.9 266.4,127.0 266.6,127.5 266.8,125.5 266.9,127.8 267.1,123.1 267.2,127.8 267.4,129.6 267.6,126.6 267.7,126.2 267.9,131.1 268.0,129.4 268.2,131.6 268.4,131.2 268.5,132.1 268.7,129.8 268.8,126.0 269.0,131.9 269.2,129.5 269.3,132.4 269.5,130.3 269.6,135.0 269.8,131.3 270.0,133.6 270.1,134.3 270.3,131.9 270.4,132.9 270.6,132.3 270.8,130.5 270.9,135.7 271.1,130.9 271.2,129.7 271.4,131.9 271.6,133.4 271.7,133.3 271.9,132.6 272.0,132.5 272.2,129.2 272.4,135.1 272.5,137.4 272.7,132.5 272.8,130.5 273.0,135.8 273.2,133.9 273.3,126.2 273.5,132.9 273.6,131.5 273.8,132.1 274.0,138.8 274.1,136.7 274.3,134.6 274.4,135.1 274.6,138.3 274.8,132.8 274.9,136.6 275.1,133.8 275.2,137.0 275.4,135.8 275.6,133.8 275.7,137.7 275.9,136.6 276.0,139.2 276.2,134.5 276.4,135.6 276.5,133.9 276.7,137.9 276.8,133.7 277.0,135.1 277.2,138.0 277.3,136.4 277.5,135.9 277.6,135.9 277.8,136.0 278.0,136.6 278.1,134.8 278.3,131.3 278.4,138.2 278.6,133.3 278.8,139.4 278.9,136.2 279.1,142.3 279.2,138.1 279.4,136.5 279.6,137.6 279.7,132.6 279.9,136.0 280.0,134.9 280.2,135.7 280.4,131.4 280.5,131.2 280.7,137.1 280.8,135.7 281.0,134.8 281.2,135.5 281.3,134.2 281.5,134.6 281.6,137.0 281.8,135.2 282.0,137.1 282.1,134.1 282.3,131.7 282.4,134.0 282.6,134.9 282.8,132.9 282.9,134.3 283.1,134.1 283.2,136.9 283.4,136.7 283.6,137.3 283.7,133.6 283.9,135.8 284.0,137.9 284.2,135.5 284.4,135.0 284.5,133.5 284.7,136.9 284.8,135.6 285.0,137.4 285.2,135.0 285.3,139.7 285.5,135.3 285.6,132.7 285.8,135.6 286.0,136.3 286.1,138.0 286.3,134.4 286.4,134.2 286.6,134.9 286.8,134.6 286.9,131.1 287.1,137.0 287.2,138.1 287.4,134.0 287.6,133.6 287.7,135.2 287.9,133.9 288.0,137.2 288.2,134.3 288.4,136.9 288.5,133.1 288.7,132.7 288.8,132.4 289.0,132.7 289.2,136.6 289.3,137.5 289.5,136.0 289.6,136.3 289.8,131.2 290.0,138.1 290.1,133.2 290.3,138.3 290.4,140.6 290.6,135.7 290.8,136.9 290.9,136.7 291.1,132.8 291.2,133.1 291.4,133.9 291.6,135.6 291.7,137.0 291.9,135.6 292.0,137.7 292.2,134.3 292.4,132.4 292.5,135.3 292.7,135.1 292.8,132.3 293.0,137.4 293.2,133.2 293.3,133.6 293.5,135.6 293.6,132.8 293.8,136.4 294.0,136.0 294.1,136.2 294.3,135.3 294.4,134.3 294.6,133.8 294.8,135.9 294.9,138.2 295.1,136.8 295.2,136.0 295.4,137.2 295.6,137.6 295.7,132.1 295.9,134.3 296.0,136.5 296.2,132.4 296.4,132.4 296.5,134.1 296.7,131.6 296.8,133.7 297.0,129.5 297.2,130.2 297.3,132.7 297.5,128.1 297.6,123.5 297.8,124.6 298.0,125.4 298.1,128.0 298.3,125.8 298.4,130.3 298.6,133.1 298.8,133.3 298.9,128.9 299.1,130.3 299.2,130.5 299.4,129.7 299.6,135.2 299.7,130.6 299.9,130.1 300.0,133.4 300.2,133.4 300.4,136.0 300.5,136.3 300.7,132.9 300.8,129.2 301.0,135.0 301.2,135.5 301.3,137.6 301.5,130.7 301.6,131.7 301.8,137.5 302.0,137.7 302.1,137.0 302.3,134.4 302.4,137.1 302.6,133.4 302.8,132.1 302.9,134.6" fill="none" stroke="#3258a6" stroke-width="0.95" stroke-linejoin="round"/>
<polyline points="97.0,169.3 97.2,168.4 97.3,170.4 97.5,171.4 97.6,172.6 97.8,170.7 98.0,169.4 98.1,168.9 98.3,171.6 98.4,173.1 98.6,170.5 98.8,167.6 98.9,167.9 99.1,172.4 99.2,169.5 99.4,165.7 99.6,168.2 99.7,165.7 99.9,166.1 100.0,165.7 100.2,164.6 100.4,166.0 100.5,164.0 100.7,163.5 100.8,165.7 101.0,166.7 101.2,162.6 101.3,165.3 101.5,164.4 101.6,166.2 101.8,164.5 102.0,167.1 102.1,167.2 102.3,167.0 102.4,165.8 102.6,167.1 102.8,166.1 102.9,165.8 103.1,168.6 103.2,166.5 103.4,170.8 103.6,170.0 103.7,165.3 103.9,169.5 104.0,167.1 104.2,169.2 104.4,169.3 104.5,165.7 104.7,169.0 104.8,169.1 105.0,171.4 105.2,167.6 105.3,171.1 105.5,167.8 105.6,169.4 105.8,168.4 106.0,172.6 106.1,171.0 106.3,174.4 106.4,171.2 106.6,171.7 106.8,171.8 106.9,169.2 107.1,170.3 107.2,173.0 107.4,169.9 107.6,170.9 107.7,170.6 107.9,171.8 108.0,170.1 108.2,170.5 108.4,171.2 108.5,171.0 108.7,169.2 108.8,172.3 109.0,168.4 109.2,168.5 109.3,168.4 109.5,172.5 109.6,170.0 109.8,169.0 110.0,168.8 110.1,171.7 110.3,169.0 110.4,168.6 110.6,171.9 110.8,168.6 110.9,170.1 111.1,170.6 111.2,169.7 111.4,170.4 111.6,173.0 111.7,169.6 111.9,168.3 112.0,167.3 112.2,170.2 112.4,169.9 112.5,171.0 112.7,169.7 112.8,169.8 113.0,169.3 113.2,169.6 113.3,170.8 113.5,169.9 113.6,170.8 113.8,174.0 114.0,171.5 114.1,167.8 114.3,173.7 114.4,171.3 114.6,169.0 114.8,172.4 114.9,170.9 115.1,169.8 115.2,169.7 115.4,169.0 115.6,170.9 115.7,172.7 115.9,170.2 116.0,171.5 116.2,174.2 116.4,168.7 116.5,171.4 116.7,170.4 116.8,169.1 117.0,169.2 117.2,171.0 117.3,171.8 117.5,170.0 117.6,171.1 117.8,172.4 118.0,171.6 118.1,172.7 118.3,172.0 118.4,172.0 118.6,174.4 118.8,172.3 118.9,171.4 119.1,172.4 119.2,169.5 119.4,170.5 119.6,172.6 119.7,172.3 119.9,174.0 120.0,171.3 120.2,168.7 120.4,174.8 120.5,173.3 120.7,169.4 120.8,173.8 121.0,171.4 121.2,168.0 121.3,170.6 121.5,170.4 121.6,174.1 121.8,169.7 122.0,170.6 122.1,170.6 122.3,170.3 122.4,169.3 122.6,171.4 122.8,172.9 122.9,172.1 123.1,169.3 123.2,168.9 123.4,171.2 123.6,169.7 123.7,169.8 123.9,167.9 124.0,174.4 124.2,172.5 124.4,169.0 124.5,172.4 124.7,173.2 124.8,166.4 125.0,169.7 125.2,170.1 125.3,171.8 125.5,170.6 125.6,170.4 125.8,170.6 126.0,174.1 126.1,174.6 126.3,169.9 126.4,169.2 126.6,175.7 126.8,169.1 126.9,169.8 127.1,170.8 127.2,171.6 127.4,172.6 127.6,171.6 127.7,169.3 127.9,171.7 128.0,171.3 128.2,174.1 128.4,170.8 128.5,168.4 128.7,168.9 128.8,173.5 129.0,170.0 129.2,167.1 129.3,169.9 129.5,170.9 129.6,173.1 129.8,169.3 130.0,172.3 130.1,172.5 130.3,169.7 130.4,170.7 130.6,174.2 130.8,174.0 130.9,172.5 131.1,171.7 131.2,173.1 131.4,170.9 131.6,171.0 131.7,169.6 131.9,171.1 132.0,170.9 132.2,176.1 132.4,170.7 132.5,173.3 132.7,173.4 132.8,170.6 133.0,173.0 133.2,167.0 133.3,171.0 133.5,172.3 133.6,166.5 133.8,168.6 134.0,172.5 134.1,170.0 134.3,168.4 134.4,169.6 134.6,169.3 134.8,171.5 134.9,170.9 135.1,169.3 135.2,168.4 135.4,169.3 135.6,171.4 135.7,169.3 135.9,169.6 136.0,167.9 136.2,165.3 136.4,165.6 136.5,167.3 136.7,165.5 136.8,162.7 137.0,160.3 137.2,162.0 137.3,159.6 137.5,157.7 137.6,157.9 137.8,159.5 138.0,160.1 138.1,161.9 138.3,162.3 138.4,163.5 138.6,163.0 138.8,161.3 138.9,162.1 139.1,163.5 139.2,162.5 139.4,164.3 139.6,165.7 139.7,162.5 139.9,161.0 140.0,166.6 140.2,164.8 140.4,166.4 140.5,163.0 140.7,168.7 140.8,167.1 141.0,165.7 141.2,165.6 141.3,166.6 141.5,166.3 141.6,166.3 141.8,165.1 142.0,169.5 142.1,167.3 142.3,167.7 142.4,167.9 142.6,163.6 142.8,168.9 142.9,167.5 143.1,167.7 143.2,168.5 143.4,166.8 143.6,170.2 143.7,167.4 143.9,167.2 144.0,167.3 144.2,169.2 144.4,170.2 144.5,168.0 144.7,166.4 144.8,171.1 145.0,167.4 145.2,171.6 145.3,169.4 145.5,168.3 145.6,168.5 145.8,170.4 146.0,171.2 146.1,169.3 146.3,171.4 146.4,173.4 146.6,169.5 146.8,167.7 146.9,168.1 147.1,167.5 147.2,168.8 147.4,168.6 147.6,167.6 147.7,171.0 147.9,165.4 148.0,167.8 148.2,173.9 148.4,172.3 148.5,171.4 148.7,171.3 148.8,173.7 149.0,171.5 149.2,170.6 149.3,168.3 149.5,170.4 149.6,169.2 149.8,169.3 150.0,169.4 150.1,170.6 150.3,170.1 150.4,172.3 150.6,168.3 150.8,170.4 150.9,174.0 151.1,170.6 151.2,172.8 151.4,172.7 151.6,173.0 151.7,171.9 151.9,168.1 152.0,169.9 152.2,169.7 152.4,167.5 152.5,169.3 152.7,167.7 152.8,166.8 153.0,170.1 153.2,169.4 153.3,167.9 153.5,167.2 153.6,167.5 153.8,167.3 154.0,166.7 154.1,167.4 154.3,166.8 154.4,168.6 154.6,169.0 154.8,168.8 154.9,167.1 155.1,167.3 155.2,169.4 155.4,168.4 155.6,168.8 155.7,164.5 155.9,164.2 156.0,169.9 156.2,169.9 156.4,171.8 156.5,170.7 156.7,169.9 156.8,169.6 157.0,167.0 157.2,171.3 157.3,168.7 157.5,170.7 157.6,170.3 157.8,170.4 158.0,171.7 158.1,169.2 158.3,169.5 158.4,168.6 158.6,169.5 158.8,173.3 158.9,169.7 159.1,172.6 159.2,172.0 159.4,171.9 159.6,172.0 159.7,168.7 159.9,171.3 160.0,173.6 160.2,169.5 160.4,170.6 160.5,169.5 160.7,171.3 160.8,168.8 161.0,173.6 161.2,170.0 161.3,167.8 161.5,173.9 161.6,172.4 161.8,171.6 162.0,171.6 162.1,170.0 162.3,170.3 162.4,172.0 162.6,172.3 162.8,172.3 162.9,171.1 163.1,169.7 163.2,170.0 163.4,172.3 163.6,172.8 163.7,169.5 163.9,169.1 164.0,172.1 164.2,170.9 164.4,170.7 164.5,166.8 164.7,168.0 164.8,167.4 165.0,168.3 165.2,165.1 165.3,170.6 165.5,169.0 165.6,169.4 165.8,166.6 166.0,168.8 166.1,171.3 166.3,166.2 166.4,169.6 166.6,170.4 166.8,168.0 166.9,170.7 167.1,168.7 167.2,171.6 167.4,170.4 167.6,170.0 167.7,173.3 167.9,171.2 168.0,172.1 168.2,167.7 168.4,168.7 168.5,171.5 168.7,171.7 168.8,170.1 169.0,171.6 169.2,168.4 169.3,170.7 169.5,168.4 169.6,171.0 169.8,169.6 170.0,169.3 170.1,170.6 170.3,173.8 170.4,168.7 170.6,169.5 170.8,172.5 170.9,170.0 171.1,174.0 171.2,171.3 171.4,171.1 171.6,171.5 171.7,174.1 171.9,172.1 172.0,171.9 172.2,171.3 172.4,168.1 172.5,169.4 172.7,173.6 172.8,172.4 173.0,171.8 173.2,172.0 173.3,169.9 173.5,171.4 173.6,169.1 173.8,171.5 174.0,169.4 174.1,170.4 174.3,171.5 174.4,170.1 174.6,171.9 174.8,171.4 174.9,171.0 175.1,172.5 175.2,167.3 175.4,166.8 175.6,170.4 175.7,170.6 175.9,172.1 176.0,169.3 176.2,168.9 176.4,165.0 176.5,166.9 176.7,165.5 176.8,161.0 177.0,159.5 177.2,158.6 177.3,156.6 177.5,147.5 177.6,148.9 177.8,148.1 178.0,148.2 178.1,149.9 178.3,151.0 178.4,149.2 178.6,152.4 178.8,152.0 178.9,151.4 179.1,154.1 179.2,157.0 179.4,152.3 179.6,152.7 179.7,153.4 179.9,160.5 180.0,157.0 180.2,157.9 180.4,157.0 180.5,157.3 180.7,155.8 180.8,160.2 181.0,160.8 181.2,157.2 181.3,159.3 181.5,160.3 181.6,161.9 181.8,162.7 182.0,164.7 182.1,165.3 182.3,165.2 182.4,166.0 182.6,161.9 182.8,163.3 182.9,166.7 183.1,165.5 183.2,165.4 183.4,162.1 183.6,162.5 183.7,167.3 183.9,166.9 184.0,166.0 184.2,165.9 184.4,163.6 184.5,167.5 184.7,168.9 184.8,170.1 185.0,167.3 185.2,167.0 185.3,165.6 185.5,169.9 185.6,171.0 185.8,166.9 186.0,168.6 186.1,168.4 186.3,167.3 186.4,164.0 186.6,167.9 186.8,169.8 186.9,166.0 187.1,167.2 187.2,162.9 187.4,171.1 187.6,169.7 187.7,169.0 187.9,168.5 188.0,167.9 188.2,169.0 188.4,168.7 188.5,169.0 188.7,169.3 188.8,169.8 189.0,172.5 189.2,167.2 189.3,170.3 189.5,168.7 189.6,167.8 189.8,165.7 190.0,171.1 190.1,168.3 190.3,168.8 190.4,171.0 190.6,168.2 190.8,170.3 190.9,170.2 191.1,171.8 191.2,172.2 191.4,168.9 191.6,172.1 191.7,170.3 191.9,170.7 192.0,170.1 192.2,171.9 192.4,168.2 192.5,170.9 192.7,172.5 192.8,169.9 193.0,174.0 193.2,168.9 193.3,170.7 193.5,169.5 193.6,169.3 193.8,168.4 194.0,169.5 194.1,170.3 194.3,169.0 194.4,172.1 194.6,173.1 194.8,167.6 194.9,171.9 195.1,170.7 195.2,170.9 195.4,175.0 195.6,172.6 195.7,171.0 195.9,170.8 196.0,166.6 196.2,171.9 196.4,169.2 196.5,170.9 196.7,170.8 196.8,172.3 197.0,174.3 197.2,172.5 197.3,172.9 197.5,170.2 197.6,171.4 197.8,172.0 198.0,168.0 198.1,174.4 198.3,169.3 198.4,168.3 198.6,173.6 198.8,174.5 198.9,169.4 199.1,169.5 199.2,176.2 199.4,170.7 199.6,167.1 199.7,169.7 199.9,174.3 200.0,171.9 200.2,172.1 200.4,172.9 200.5,172.0 200.7,170.2 200.8,167.9 201.0,171.7 201.2,168.8 201.3,170.8 201.5,174.0 201.6,171.8 201.8,170.9 202.0,171.0 202.1,172.2 202.3,172.6 202.4,168.6 202.6,171.3 202.8,174.1 202.9,172.3 203.1,169.6 203.2,169.8 203.4,167.3 203.6,169.5 203.7,173.8 203.9,170.8 204.0,169.5 204.2,170.0 204.4,170.9 204.5,171.0 204.7,170.5 204.8,169.7 205.0,172.2 205.2,173.8 205.3,170.0 205.5,170.1 205.6,173.3 205.8,168.5 206.0,170.1 206.1,170.4 206.3,171.3 206.4,170.4 206.6,169.3 206.8,171.6 206.9,168.9 207.1,167.9 207.2,167.4 207.4,172.4 207.6,167.9 207.7,171.9 207.9,172.3 208.0,172.4 208.2,170.8 208.4,170.1 208.5,171.1 208.7,170.0 208.8,168.8 209.0,173.4 209.2,169.5 209.3,174.3 209.5,172.0 209.6,170.3 209.8,171.8 210.0,173.2 210.1,168.6 210.3,169.4 210.4,169.2 210.6,171.4 210.8,171.8 210.9,171.1 211.1,169.7 211.2,170.1 211.4,173.2 211.6,173.1 211.7,171.1 211.9,168.5 212.0,172.0 212.2,171.1 212.4,171.1 212.5,173.7 212.7,171.8 212.8,168.4 213.0,168.3 213.2,172.3 213.3,170.0 213.5,170.9 213.6,168.8 213.8,167.0 214.0,168.9 214.1,170.6 214.3,167.8 214.4,164.5 214.6,165.2 214.8,163.9 214.9,164.0 215.1,165.1 215.2,167.2 215.4,164.5 215.6,163.6 215.7,165.0 215.9,165.1 216.0,164.7 216.2,165.8 216.4,165.9 216.5,164.0 216.7,167.4 216.8,166.1 217.0,165.2 217.2,168.1 217.3,166.6 217.5,170.9 217.6,168.7 217.8,168.1 218.0,166.8 218.1,167.6 218.3,170.1 218.4,167.5 218.6,170.4 218.8,165.3 218.9,169.6 219.1,170.8 219.2,170.1 219.4,169.5 219.6,171.4 219.7,168.1 219.9,168.1 220.0,170.0 220.2,172.2 220.4,171.0 220.5,169.9 220.7,170.9 220.8,171.3 221.0,168.3 221.2,165.4 221.3,168.8 221.5,168.0 221.6,169.7 221.8,168.7 222.0,169.3 222.1,171.6 222.3,171.0 222.4,170.6 222.6,173.6 222.8,169.9 222.9,170.0 223.1,173.0 223.2,168.6 223.4,167.8 223.6,173.1 223.7,171.4 223.9,171.9 224.0,172.0 224.2,172.4 224.4,169.8 224.5,170.6 224.7,168.7 224.8,170.8 225.0,170.9 225.2,169.6 225.3,171.6 225.5,175.7 225.6,168.3 225.8,171.9 226.0,172.0 226.1,172.3 226.3,168.9 226.4,172.6 226.6,171.6 226.8,170.2 226.9,169.8 227.1,171.0 227.2,172.2 227.4,172.2 227.6,174.8 227.7,170.0 227.9,171.7 228.0,170.0 228.2,172.2 228.4,171.1 228.5,169.8 228.7,168.5 228.8,169.5 229.0,171.4 229.2,173.6 229.3,172.2 229.5,168.6 229.6,169.9 229.8,170.8 230.0,170.5 230.1,170.7 230.3,172.0 230.4,170.9 230.6,169.1 230.8,166.7 230.9,169.4 231.1,166.7 231.2,169.2 231.4,169.8 231.6,166.5 231.7,168.4 231.9,167.6 232.0,171.2 232.2,168.8 232.4,164.6 232.5,168.9 232.7,169.0 232.8,168.0 233.0,167.9 233.2,169.8 233.3,170.1 233.5,169.9 233.6,167.4 233.8,168.8 234.0,166.5 234.1,166.8 234.3,168.5 234.4,167.6 234.6,168.9 234.8,174.2 234.9,170.7 235.1,168.4 235.2,166.2 235.4,168.6 235.6,167.6 235.7,166.2 235.9,171.5 236.0,169.3 236.2,171.0 236.4,175.9 236.5,170.8 236.7,170.6 236.8,171.1 237.0,169.9 237.2,168.9 237.3,169.9 237.5,172.3 237.6,169.8 237.8,167.9 238.0,168.1 238.1,168.5 238.3,170.4 238.4,171.3 238.6,171.3 238.8,172.6 238.9,170.2 239.1,172.1 239.2,171.2 239.4,171.9 239.6,167.2 239.7,172.8 239.9,167.7 240.0,168.6 240.2,172.0 240.4,169.9 240.5,173.9 240.7,171.1 240.8,168.9 241.0,171.1 241.2,170.1 241.3,173.6 241.5,173.8 241.6,172.3 241.8,170.2 242.0,171.2 242.1,173.0 242.3,169.8 242.4,169.8 242.6,172.8 242.8,172.5 242.9,170.8 243.1,170.8 243.2,167.8 243.4,173.4 243.6,171.1 243.7,168.8 243.9,169.4 244.0,169.7 244.2,174.4 244.4,172.5 244.5,168.7 244.7,174.5 244.8,173.6 245.0,169.2 245.2,166.4 245.3,172.9 245.5,170.1 245.6,170.8 245.8,170.2 246.0,173.3 246.1,173.7 246.3,172.5 246.4,170.7 246.6,171.5 246.8,172.2 246.9,168.2 247.1,173.1 247.2,170.3 247.4,171.3 247.6,171.0 247.7,172.4 247.9,172.6 248.0,174.7 248.2,170.0 248.4,168.9 248.5,170.8 248.7,169.3 248.8,171.9 249.0,168.7 249.2,170.1 249.3,171.3 249.5,171.2 249.6,169.4 249.8,171.0 250.0,170.1 250.1,164.1 250.3,166.9 250.4,165.6 250.6,163.5 250.8,161.4 250.9,160.8 251.1,160.7 251.2,161.1 251.4,163.6 251.6,163.4 251.7,161.1 251.9,161.3 252.0,164.7 252.2,162.4 252.4,164.3 252.5,165.2 252.7,166.5 252.8,165.9 253.0,168.0 253.2,164.9 253.3,167.2 253.5,165.1 253.6,166.7 253.8,166.9 254.0,165.3 254.1,162.5 254.3,169.1 254.4,168.2 254.6,167.9 254.8,166.6 254.9,167.5 255.1,169.0 255.2,168.3 255.4,170.5 255.6,168.9 255.7,167.3 255.9,169.9 256.0,167.6 256.2,169.3 256.4,165.9 256.5,168.6 256.7,170.4 256.8,168.3 257.0,169.5 257.2,170.6 257.3,169.7 257.5,172.9 257.6,169.3 257.8,169.6 258.0,169.6 258.1,166.4 258.3,167.2 258.4,170.9 258.6,169.4 258.8,172.5 258.9,169.8 259.1,169.6 259.2,171.7 259.4,170.3 259.6,172.6 259.7,167.7 259.9,170.3 260.0,170.6 260.2,170.0 260.4,170.7 260.5,170.0 260.7,167.6 260.8,165.9 261.0,167.8 261.2,165.1 261.3,165.6 261.5,164.8 261.6,161.0 261.8,158.6 262.0,160.3 262.1,162.8 262.3,161.5 262.4,164.5 262.6,162.9 262.8,163.5 262.9,162.5 263.1,164.0 263.2,166.5 263.4,164.3 263.6,164.7 263.7,164.2 263.9,167.3 264.0,163.3 264.2,165.2 264.4,168.2 264.5,169.3 264.7,166.6 264.8,168.9 265.0,163.9 265.2,169.1 265.3,168.4 265.5,165.8 265.6,164.8 265.8,167.3 266.0,168.8 266.1,169.0 266.3,168.6 266.4,169.9 266.6,169.9 266.8,166.3 266.9,168.1 267.1,167.9 267.2,170.8 267.4,168.0 267.6,170.8 267.7,169.1 267.9,173.1 268.0,169.0 268.2,169.2 268.4,169.0 268.5,169.6 268.7,173.7 268.8,168.5 269.0,168.0 269.2,169.1 269.3,170.8 269.5,167.9 269.6,171.2 269.8,171.1 270.0,169.4 270.1,169.3 270.3,168.5 270.4,169.5 270.6,168.6 270.8,172.3 270.9,173.1 271.1,169.7 271.2,170.2 271.4,167.0 271.6,169.5 271.7,171.2 271.9,171.2 272.0,170.8 272.2,172.1 272.4,170.8 272.5,169.9 272.7,173.5 272.8,167.2 273.0,168.6 273.2,169.4 273.3,169.5 273.5,169.5 273.6,170.6 273.8,169.8 274.0,170.9 274.1,172.2 274.3,171.1 274.4,171.3 274.6,169.4 274.8,169.1 274.9,170.7 275.1,172.9 275.2,171.9 275.4,173.1 275.6,173.0 275.7,173.3 275.9,169.9 276.0,173.6 276.2,172.7 276.4,175.0 276.5,172.4 276.7,172.0 276.8,171.3 277.0,171.7 277.2,168.5 277.3,171.0 277.5,171.4 277.6,173.2 277.8,170.3 278.0,171.8 278.1,174.9 278.3,170.7 278.4,173.1 278.6,170.7 278.8,171.4 278.9,172.4 279.1,173.0 279.2,170.5 279.4,169.6 279.6,174.1 279.7,171.6 279.9,172.7 280.0,172.9 280.2,172.7 280.4,170.9 280.5,171.2 280.7,168.6 280.8,171.7 281.0,170.6 281.2,171.4 281.3,174.7 281.5,172.4 281.6,171.3 281.8,168.7 282.0,172.3 282.1,173.7 282.3,169.6 282.4,171.8 282.6,170.1 282.8,170.7 282.9,170.3 283.1,168.2 283.2,170.2 283.4,168.3 283.6,173.6 283.7,172.9 283.9,171.1 284.0,171.6 284.2,171.2 284.4,171.4 284.5,171.4 284.7,170.6 284.8,170.7 285.0,168.5 285.2,169.1 285.3,169.7 285.5,171.1 285.6,170.0 285.8,174.0 286.0,170.3 286.1,170.0 286.3,171.3 286.4,172.3 286.6,173.6 286.8,172.0 286.9,169.1 287.1,169.8 287.2,171.7 287.4,170.2 287.6,171.0 287.7,169.3 287.9,172.0 288.0,171.4 288.2,170.5 288.4,168.3 288.5,164.7 288.7,164.6 288.8,167.0 289.0,166.9 289.2,159.7 289.3,163.0 289.5,164.7 289.6,162.9 289.8,158.8 290.0,158.7 290.1,157.5 290.3,157.6 290.4,160.5 290.6,161.1 290.8,158.8 290.9,158.5 291.1,158.2 291.2,158.3 291.4,163.6 291.6,165.0 291.7,162.4 291.9,164.2 292.0,161.4 292.2,162.8 292.4,165.0 292.5,164.3 292.7,164.0 292.8,161.5 293.0,162.2 293.2,164.3 293.3,164.3 293.5,165.4 293.6,164.6 293.8,165.4 294.0,166.2 294.1,167.2 294.3,166.5 294.4,165.7 294.6,166.3 294.8,168.5 294.9,166.7 295.1,165.4 295.2,165.7 295.4,168.0 295.6,168.7 295.7,170.0 295.9,167.4 296.0,170.6 296.2,167.7 296.4,168.0 296.5,167.3 296.7,169.4 296.8,170.3 297.0,168.4 297.2,167.7 297.3,165.9 297.5,169.0 297.6,168.2 297.8,168.5 298.0,167.7 298.1,167.3 298.3,168.2 298.4,169.8 298.6,170.7 298.8,169.0 298.9,169.7 299.1,168.8 299.2,168.9 299.4,166.8 299.6,170.7 299.7,170.2 299.9,171.7 300.0,168.1 300.2,169.5 300.4,167.7 300.5,170.0 300.7,169.3 300.8,170.8 301.0,169.5 301.2,170.9 301.3,169.0 301.5,170.9 301.6,169.4 301.8,169.3 302.0,170.3 302.1,170.8 302.3,167.7 302.4,167.6 302.6,170.7 302.8,170.3 302.9,166.9" fill="none" stroke="#3258a6" stroke-width="0.95" stroke-linejoin="round"/>
<polyline points="97.0,201.9 97.2,203.2 97.3,195.4 97.5,199.7 97.6,201.7 97.8,202.4 98.0,201.1 98.1,202.7 98.3,200.5 98.4,201.0 98.6,200.3 98.8,198.1 98.9,198.5 99.1,200.6 99.2,198.9 99.4,202.2 99.6,202.2 99.7,203.2 99.9,199.9 100.0,202.4 100.2,198.3 100.4,198.4 100.5,200.1 100.7,200.5 100.8,197.1 101.0,196.8 101.2,200.6 101.3,198.5 101.5,202.3 101.6,200.9 101.8,200.7 102.0,200.6 102.1,201.8 102.3,199.9 102.4,202.2 102.6,199.3 102.8,199.9 102.9,199.1 103.1,201.3 103.2,200.3 103.4,198.7 103.6,204.0 103.7,199.7 103.9,200.0 104.0,201.0 104.2,203.5 104.4,200.0 104.5,201.5 104.7,200.5 104.8,197.7 105.0,201.8 105.2,202.2 105.3,199.9 105.5,200.3 105.6,197.6 105.8,197.6 106.0,199.6 106.1,201.4 106.3,199.4 106.4,200.7 106.6,201.9 106.8,200.4 106.9,201.3 107.1,203.0 107.2,198.0 107.4,201.7 107.6,196.9 107.7,201.0 107.9,200.6 108.0,199.3 108.2,198.3 108.4,200.2 108.5,199.6 108.7,200.5 108.8,198.6 109.0,201.3 109.2,198.5 109.3,199.7 109.5,199.6 109.6,202.5 109.8,197.5 110.0,199.5 110.1,202.4 110.3,199.1 110.4,198.1 110.6,200.9 110.8,199.9 110.9,201.9 111.1,198.8 111.2,200.8 111.4,201.7 111.6,202.4 111.7,198.5 111.9,203.2 112.0,199.0 112.2,197.9 112.4,198.8 112.5,200.7 112.7,199.8 112.8,201.2 113.0,201.2 113.2,200.9 113.3,199.9 113.5,203.5 113.6,196.2 113.8,197.1 114.0,199.3 114.1,197.9 114.3,195.5 114.4,198.7 114.6,198.7 114.8,195.6 114.9,201.6 115.1,202.3 115.2,202.1 115.4,198.9 115.6,200.1 115.7,197.9 115.9,200.2 116.0,198.5 116.2,200.4 116.4,199.0 116.5,201.5 116.7,201.2 116.8,201.8 117.0,196.7 117.2,196.2 117.3,200.3 117.5,198.5 117.6,200.3 117.8,200.1 118.0,199.8 118.1,201.1 118.3,200.3 118.4,200.1 118.6,197.5 118.8,202.1 118.9,199.0 119.1,200.6 119.2,199.1 119.4,200.6 119.6,198.3 119.7,198.1 119.9,197.7 120.0,195.8 120.2,196.3 120.4,197.3 120.5,197.5 120.7,196.0 120.8,202.1 121.0,196.3 121.2,197.7 121.3,202.7 121.5,197.3 121.6,200.0 121.8,199.8 122.0,198.3 122.1,196.1 122.3,195.9 122.4,198.8 122.6,199.7 122.8,195.1 122.9,199.3 123.1,197.9 123.2,200.7 123.4,199.4 123.6,197.7 123.7,198.5 123.9,199.4 124.0,201.9 124.2,205.0 124.4,200.2 124.5,199.8 124.7,200.9 124.8,199.8 125.0,201.0 125.2,200.5 125.3,199.9 125.5,198.5 125.6,200.2 125.8,201.6 126.0,200.2 126.1,202.8 126.3,201.9 126.4,199.8 126.6,203.3 126.8,198.2 126.9,202.3 127.1,203.6 127.2,199.9 127.4,200.1 127.6,201.9 127.7,202.7 127.9,200.9 128.0,200.6 128.2,201.7 128.4,200.6 128.5,198.0 128.7,199.8 128.8,200.2 129.0,197.5 129.2,201.0 129.3,198.8 129.5,201.5 129.6,197.4 129.8,198.4 130.0,197.4 130.1,202.4 130.3,202.4 130.4,202.8 130.6,202.8 130.8,201.8 130.9,201.8 131.1,197.1 131.2,200.8 131.4,199.2 131.6,199.7 131.7,198.1 131.9,202.7 132.0,200.6 132.2,197.6 132.4,201.1 132.5,200.2 132.7,198.4 132.8,199.8 133.0,198.9 133.2,196.1 133.3,197.6 133.5,201.3 133.6,201.0 133.8,200.8 134.0,198.1 134.1,199.1 134.3,200.3 134.4,201.5 134.6,198.8 134.8,198.3 134.9,202.3 135.1,200.3 135.2,199.6 135.4,199.0 135.6,199.1 135.7,203.1 135.9,201.9 136.0,199.4 136.2,197.9 136.4,203.2 136.5,202.9 136.7,202.1 136.8,201.5 137.0,196.6 137.2,197.6 137.3,200.9 137.5,199.3 137.6,200.3 137.8,198.9 138.0,198.7 138.1,201.0 138.3,199.3 138.4,200.1 138.6,200.5 138.8,200.5 138.9,202.2 139.1,202.6 139.2,197.6 139.4,199.6 139.6,199.1 139.7,201.6 139.9,198.4 140.0,201.7 140.2,201.7 140.4,201.4 140.5,198.6 140.7,200.0 140.8,198.5 141.0,201.1 141.2,202.2 141.3,197.8 141.5,199.1 141.6,200.3 141.8,199.6 142.0,203.2 142.1,200.1 142.3,200.8 142.4,198.2 142.6,202.9 142.8,200.4 142.9,201.6 143.1,200.4 143.2,196.3 143.4,197.2 143.6,197.8 143.7,201.0 143.9,199.1 144.0,200.8 144.2,200.5 144.4,200.5 144.5,201.6 144.7,200.2 144.8,196.8 145.0,198.6 145.2,202.7 145.3,197.7 145.5,202.0 145.6,202.5 145.8,198.4 146.0,199.9 146.1,196.7 146.3,200.6 146.4,197.6 146.6,196.4 146.8,197.7 146.9,197.2 147.1,196.5 147.2,197.4 147.4,196.1 147.6,194.2 147.7,196.0 147.9,197.4 148.0,192.3 148.2,191.4 148.4,191.2 148.5,194.4 148.7,193.3 148.8,194.1 149.0,190.8 149.2,192.7 149.3,192.9 149.5,196.9 149.6,195.0 149.8,191.3 150.0,196.8 150.1,198.1 150.3,198.6 150.4,191.4 150.6,196.9 150.8,198.2 150.9,198.0 151.1,196.7 151.2,194.0 151.4,196.5 151.6,196.9 151.7,198.8 151.9,199.0 152.0,197.4 152.2,199.4 152.4,196.1 152.5,196.9 152.7,198.2 152.8,199.4 153.0,197.9 153.2,200.7 153.3,199.3 153.5,196.9 153.6,198.9 153.8,197.3 154.0,197.2 154.1,196.6 154.3,201.6 154.4,200.8 154.6,196.3 154.8,201.2 154.9,201.0 155.1,198.7 155.2,200.3 155.4,203.4 155.6,200.0 155.7,200.2 155.9,201.5 156.0,197.6 156.2,197.2 156.4,197.0 156.5,199.4 156.7,201.1 156.8,198.0 157.0,197.0 157.2,199.9 157.3,198.8 157.5,200.6 157.6,199.3 157.8,199.2 158.0,199.4 158.1,199.6 158.3,197.8 158.4,197.5 158.6,202.4 158.8,205.2 158.9,201.6 159.1,196.7 159.2,199.5 159.4,201.6 159.6,196.6 159.7,198.7 159.9,198.9 160.0,198.0 160.2,198.1 160.4,201.5 160.5,198.8 160.7,199.2 160.8,202.7 161.0,198.2 161.2,196.3 161.3,201.0 161.5,203.5 161.6,200.2 161.8,200.4 162.0,197.5 162.1,198.1 162.3,202.5 162.4,202.2 162.6,201.0 162.8,198.7 162.9,197.8 163.1,198.1 163.2,197.9 163.4,201.1 163.6,198.6 163.7,199.1 163.9,201.1 164.0,201.1 164.2,200.0 164.4,200.8 164.5,199.9 164.7,196.4 164.8,199.8 165.0,199.2 165.2,199.4 165.3,200.4 165.5,199.0 165.6,202.4 165.8,199.8 166.0,200.4 166.1,200.7 166.3,199.8 166.4,201.2 166.6,201.4 166.8,201.2 166.9,198.6 167.1,198.3 167.2,198.9 167.4,200.2 167.6,196.8 167.7,198.7 167.9,198.2 168.0,199.0 168.2,198.5 168.4,201.7 168.5,201.1 168.7,202.0 168.8,198.5 169.0,198.8 169.2,199.7 169.3,203.1 169.5,203.2 169.6,199.0 169.8,201.3 170.0,204.1 170.1,198.3 170.3,199.9 170.4,202.7 170.6,201.8 170.8,198.7 170.9,203.3 171.1,202.4 171.2,201.9 171.4,198.3 171.6,200.2 171.7,202.8 171.9,201.4 172.0,201.9 172.2,200.1 172.4,203.3 172.5,200.1 172.7,202.1 172.8,201.1 173.0,198.8 173.2,203.2 173.3,198.2 173.5,199.1 173.6,200.6 173.8,197.9 174.0,197.1 174.1,200.1 174.3,199.5 174.4,199.6 174.6,201.0 174.8,204.2 174.9,199.4 175.1,204.6 175.2,200.6 175.4,199.9 175.6,195.2 175.7,197.3 175.9,200.5 176.0,201.2 176.2,198.6 176.4,200.6 176.5,201.6 176.7,199.0 176.8,197.0 177.0,198.2 177.2,199.5 177.3,200.5 177.5,201.4 177.6,198.4 177.8,200.1 178.0,199.6 178.1,200.0 178.3,202.0 178.4,202.4 178.6,199.2 178.8,198.9 178.9,198.7 179.1,198.9 179.2,199.1 179.4,199.7 179.6,199.1 179.7,198.1 179.9,197.9 180.0,200.0 180.2,204.4 180.4,201.0 180.5,201.2 180.7,200.7 180.8,199.8 181.0,203.7 181.2,199.5 181.3,198.3 181.5,197.8 181.6,200.4 181.8,198.3 182.0,198.5 182.1,198.5 182.3,197.6 182.4,200.3 182.6,196.9 182.8,204.0 182.9,194.8 183.1,197.2 183.2,199.7 183.4,200.1 183.6,198.5 183.7,199.4 183.9,199.0 184.0,198.5 184.2,198.9 184.4,197.8 184.5,196.6 184.7,195.8 184.8,196.8 185.0,193.8 185.2,194.0 185.3,194.2 185.5,190.2 185.6,189.3 185.8,183.5 186.0,181.3 186.1,181.4 186.3,181.8 186.4,183.1 186.6,185.5 186.8,183.2 186.9,183.3 187.1,185.7 187.2,183.1 187.4,186.3 187.6,189.1 187.7,187.5 187.9,189.1 188.0,189.2 188.2,191.3 188.4,190.4 188.5,190.4 188.7,184.4 188.8,189.9 189.0,192.6 189.2,191.4 189.3,190.6 189.5,194.0 189.6,191.2 189.8,192.4 190.0,194.5 190.1,192.7 190.3,194.2 190.4,194.2 190.6,192.2 190.8,193.7 190.9,194.3 191.1,194.0 191.2,197.4 191.4,195.6 191.6,194.7 191.7,193.5 191.9,195.6 192.0,198.8 192.2,196.0 192.4,198.2 192.5,197.8 192.7,196.2 192.8,195.4 193.0,198.1 193.2,194.2 193.3,198.3 193.5,195.3 193.6,199.1 193.8,196.9 194.0,197.7 194.1,199.7 194.3,196.1 194.4,198.0 194.6,197.4 194.8,198.9 194.9,199.4 195.1,198.7 195.2,198.7 195.4,197.6 195.6,199.5 195.7,198.1 195.9,198.9 196.0,199.0 196.2,196.3 196.4,196.7 196.5,199.1 196.7,198.9 196.8,201.3 197.0,194.7 197.2,199.5 197.3,201.1 197.5,199.3 197.6,200.6 197.8,199.3 198.0,199.2 198.1,201.0 198.3,197.2 198.4,195.5 198.6,200.5 198.8,199.9 198.9,199.9 199.1,200.2 199.2,200.9 199.4,198.9 199.6,200.6 199.7,200.4 199.9,197.8 200.0,199.6 200.2,200.3 200.4,198.4 200.5,201.7 200.7,199.3 200.8,201.3 201.0,202.6 201.2,197.4 201.3,197.6 201.5,201.1 201.6,199.7 201.8,201.0 202.0,203.1 202.1,199.0 202.3,201.4 202.4,199.4 202.6,198.8 202.8,200.9 202.9,200.6 203.1,202.0 203.2,200.7 203.4,201.7 203.6,201.0 203.7,196.9 203.9,199.3 204.0,199.3 204.2,201.5 204.4,198.1 204.5,200.3 204.7,199.3 204.8,196.7 205.0,199.7 205.2,201.1 205.3,199.3 205.5,201.7 205.6,200.7 205.8,200.6 206.0,199.2 206.1,199.8 206.3,201.0 206.4,200.1 206.6,197.8 206.8,199.7 206.9,200.6 207.1,201.9 207.2,201.3 207.4,198.0 207.6,201.1 207.7,196.9 207.9,198.7 208.0,198.5 208.2,202.6 208.4,201.2 208.5,200.5 208.7,198.7 208.8,202.1 209.0,199.4 209.2,200.6 209.3,201.8 209.5,199.2 209.6,200.8 209.8,196.3 210.0,200.9 210.1,196.7 210.3,200.5 210.4,200.5 210.6,200.8 210.8,204.0 210.9,195.4 211.1,200.7 211.2,199.3 211.4,201.3 211.6,200.6 211.7,200.2 211.9,199.1 212.0,198.8 212.2,200.7 212.4,197.3 212.5,202.0 212.7,199.1 212.8,200.9 213.0,198.0 213.2,200.9 213.3,199.7 213.5,201.5 213.6,202.2 213.8,199.0 214.0,200.2 214.1,200.5 214.3,202.7 214.4,197.7 214.6,201.0 214.8,200.0 214.9,197.8 215.1,199.4 215.2,198.7 215.4,202.0 215.6,198.3 215.7,201.8 215.9,199.2 216.0,201.2 216.2,196.9 216.4,198.5 216.5,200.2 216.7,198.2 216.8,197.0 217.0,199.9 217.2,201.3 217.3,200.0 217.5,199.6 217.6,200.8 217.8,199.2 218.0,201.6 218.1,201.9 218.3,197.7 218.4,201.8 218.6,201.1 218.8,200.3 218.9,201.1 219.1,202.4 219.2,203.2 219.4,202.5 219.6,199.1 219.7,201.7 219.9,196.1 220.0,200.5 220.2,199.9 220.4,200.1 220.5,196.2 220.7,199.7 220.8,198.5 221.0,195.4 221.2,191.0 221.3,192.3 221.5,187.9 221.6,183.8 221.8,184.5 222.0,190.6 222.1,184.3 222.3,186.8 222.4,188.4 222.6,190.3 222.8,187.4 222.9,187.9 223.1,191.8 223.2,191.1 223.4,193.3 223.6,189.3 223.7,191.6 223.9,193.9 224.0,192.6 224.2,190.7 224.4,193.2 224.5,189.8 224.7,192.1 224.8,195.2 225.0,195.7 225.2,195.1 225.3,195.8 225.5,192.1 225.6,193.9 225.8,197.1 226.0,199.7 226.1,196.6 226.3,194.4 226.4,194.4 226.6,198.5 226.8,198.4 226.9,194.3 227.1,196.9 227.2,199.3 227.4,199.4 227.6,196.1 227.7,196.9 227.9,198.1 228.0,195.5 228.2,194.7 228.4,196.5 228.5,200.1 228.7,200.0 228.8,199.0 229.0,196.1 229.2,194.9 229.3,196.6 229.5,198.6 229.6,200.4 229.8,197.1 230.0,198.8 230.1,195.5 230.3,195.1 230.4,198.9 230.6,196.9 230.8,197.2 230.9,195.1 231.1,200.6 231.2,195.8 231.4,199.2 231.6,196.5 231.7,198.5 231.9,201.6 232.0,199.6 232.2,199.3 232.4,200.7 232.5,200.0 232.7,201.6 232.8,196.5 233.0,201.6 233.2,199.2 233.3,197.2 233.5,200.2 233.6,200.2 233.8,199.2 234.0,200.7 234.1,196.9 234.3,196.3 234.4,198.2 234.6,201.2 234.8,200.2 234.9,199.3 235.1,198.1 235.2,199.3 235.4,201.5 235.6,198.3 235.7,198.3 235.9,200.1 236.0,200.5 236.2,199.7 236.4,202.1 236.5,199.9 236.7,197.8 236.8,195.5 237.0,201.7 237.2,199.2 237.3,200.1 237.5,200.3 237.6,201.8 237.8,201.3 238.0,201.2 238.1,199.8 238.3,198.9 238.4,199.8 238.6,197.8 238.8,199.8 238.9,200.9 239.1,200.1 239.2,198.9 239.4,196.8 239.6,196.5 239.7,196.4 239.9,196.7 240.0,197.9 240.2,198.1 240.4,198.4 240.5,199.4 240.7,195.9 240.8,197.5 241.0,198.9 241.2,199.5 241.3,197.0 241.5,197.1 241.6,200.5 241.8,199.7 242.0,199.4 242.1,198.1 242.3,196.9 242.4,198.7 242.6,199.3 242.8,199.8 242.9,200.5 243.1,199.2 243.2,201.3 243.4,198.6 243.6,199.9 243.7,199.5 243.9,196.3 244.0,197.2 244.2,198.5 244.4,199.8 244.5,200.1 244.7,201.8 244.8,199.5 245.0,199.0 245.2,200.2 245.3,197.5 245.5,199.3 245.6,197.9 245.8,199.9 246.0,198.6 246.1,199.2 246.3,203.3 246.4,201.9 246.6,204.4 246.8,200.2 246.9,199.5 247.1,198.4 247.2,199.7 247.4,196.6 247.6,199.9 247.7,198.7 247.9,197.2 248.0,196.3 248.2,198.0 248.4,198.9 248.5,199.7 248.7,196.9 248.8,199.7 249.0,200.3 249.2,203.8 249.3,200.4 249.5,201.4 249.6,198.4 249.8,199.7 250.0,198.3 250.1,198.1 250.3,200.5 250.4,199.2 250.6,202.2 250.8,199.5 250.9,200.4 251.1,197.5 251.2,197.9 251.4,201.0 251.6,198.5 251.7,202.0 251.9,198.3 252.0,198.2 252.2,203.3 252.4,196.7 252.5,198.8 252.7,200.6 252.8,200.7 253.0,197.5 253.2,203.4 253.3,198.7 253.5,196.2 253.6,201.3 253.8,198.9 254.0,199.9 254.1,201.2 254.3,198.2 254.4,198.4 254.6,199.6 254.8,201.3 254.9,197.5 255.1,202.4 255.2,200.5 255.4,197.8 255.6,199.9 255.7,200.9 255.9,202.1 256.0,201.5 256.2,201.8 256.4,199.5 256.5,201.1 256.7,195.0 256.8,201.7 257.0,199.8 257.2,202.7 257.3,198.8 257.5,198.9 257.6,199.9 257.8,201.2 258.0,200.3 258.1,201.6 258.3,199.8 258.4,201.6 258.6,204.6 258.8,201.8 258.9,200.6 259.1,197.0 259.2,200.7 259.4,201.5 259.6,199.2 259.7,201.4 259.9,195.5 260.0,198.2 260.2,197.7 260.4,200.3 260.5,197.8 260.7,197.5 260.8,201.6 261.0,196.3 261.2,199.7 261.3,200.7 261.5,197.9 261.6,196.5 261.8,197.4 262.0,196.3 262.1,195.4 262.3,196.6 262.4,195.3 262.6,200.1 262.8,195.7 262.9,192.3 263.1,191.2 263.2,191.0 263.4,189.6 263.6,188.3 263.7,187.3 263.9,192.5 264.0,189.9 264.2,190.9 264.4,193.4 264.5,191.8 264.7,194.1 264.8,191.8 265.0,193.0 265.2,192.8 265.3,197.2 265.5,191.2 265.6,193.8 265.8,192.8 266.0,193.4 266.1,192.7 266.3,193.8 266.4,197.7 266.6,198.4 266.8,194.7 266.9,193.9 267.1,195.5 267.2,199.5 267.4,196.6 267.6,193.0 267.7,198.5 267.9,196.9 268.0,198.4 268.2,198.2 268.4,195.3 268.5,199.6 268.7,199.1 268.8,196.7 269.0,194.0 269.2,196.0 269.3,196.2 269.5,199.5 269.6,197.4 269.8,197.6 270.0,198.5 270.1,197.7 270.3,199.3 270.4,199.3 270.6,200.6 270.8,196.7 270.9,199.5 271.1,198.4 271.2,202.8 271.4,201.6 271.6,198.4 271.7,200.8 271.9,196.0 272.0,197.4 272.2,198.9 272.4,199.8 272.5,197.4 272.7,199.5 272.8,201.6 273.0,196.5 273.2,197.0 273.3,196.0 273.5,201.5 273.6,197.5 273.8,198.8 274.0,197.9 274.1,199.4 274.3,198.9 274.4,199.8 274.6,199.8 274.8,202.4 274.9,197.8 275.1,199.9 275.2,199.4 275.4,198.0 275.6,201.2 275.7,203.0 275.9,197.8 276.0,204.2 276.2,199.5 276.4,199.6 276.5,195.1 276.7,199.9 276.8,199.6 277.0,199.4 277.2,201.1 277.3,199.7 277.5,200.7 277.6,198.8 277.8,197.9 278.0,200.2 278.1,200.9 278.3,201.1 278.4,200.1 278.6,198.6 278.8,199.9 278.9,199.4 279.1,197.6 279.2,200.3 279.4,199.4 279.6,197.7 279.7,199.2 279.9,200.8 280.0,202.4 280.2,196.3 280.4,198.9 280.5,200.6 280.7,201.8 280.8,200.5 281.0,198.0 281.2,198.8 281.3,199.7 281.5,198.3 281.6,197.9 281.8,197.6 282.0,204.5 282.1,200.0 282.3,199.6 282.4,201.2 282.6,200.1 282.8,199.9 282.9,200.6 283.1,198.7 283.2,199.5 283.4,201.9 283.6,201.4 283.7,198.2 283.9,202.9 284.0,199.4 284.2,197.4 284.4,201.5 284.5,201.3 284.7,200.6 284.8,198.3 285.0,202.3 285.2,201.2 285.3,200.8 285.5,200.6 285.6,200.8 285.8,204.2 286.0,199.4 286.1,200.8 286.3,202.2 286.4,201.6 286.6,198.8 286.8,199.8 286.9,199.4 287.1,197.5 287.2,199.8 287.4,201.9 287.6,200.7 287.7,202.2 287.9,200.9 288.0,198.9 288.2,201.1 288.4,197.0 288.5,202.4 288.7,199.5 288.8,203.1 289.0,197.5 289.2,198.1 289.3,199.1 289.5,199.3 289.6,196.8 289.8,197.3 290.0,200.3 290.1,198.0 290.3,201.0 290.4,202.4 290.6,196.8 290.8,198.8 290.9,202.7 291.1,201.6 291.2,197.2 291.4,200.3 291.6,202.6 291.7,195.7 291.9,200.3 292.0,201.5 292.2,198.7 292.4,198.4 292.5,201.0 292.7,196.7 292.8,200.6 293.0,201.8 293.2,199.7 293.3,196.7 293.5,202.4 293.6,199.4 293.8,200.4 294.0,197.6 294.1,199.0 294.3,200.9 294.4,195.9 294.6,195.9 294.8,194.2 294.9,198.2 295.1,197.6 295.2,194.6 295.4,195.9 295.6,194.2 295.7,196.4 295.9,189.2 296.0,190.1 296.2,186.6 296.4,189.3 296.5,187.4 296.7,185.2 296.8,188.8 297.0,188.3 297.2,187.5 297.3,190.4 297.5,190.5 297.6,188.5 297.8,190.4 298.0,193.8 298.1,193.9 298.3,192.3 298.4,192.2 298.6,193.7 298.8,193.3 298.9,191.8 299.1,195.5 299.2,193.2 299.4,197.5 299.6,196.2 299.7,196.8 299.9,195.1 300.0,196.3 300.2,195.2 300.4,195.7 300.5,194.7 300.7,199.3 300.8,194.8 301.0,200.1 301.2,198.5 301.3,195.7 301.5,199.8 301.6,198.4 301.8,196.3 302.0,198.3 302.1,197.3 302.3,196.6 302.4,198.0 302.6,198.7 302.8,197.7 302.9,198.3" fill="none" stroke="#3258a6" stroke-width="0.95" stroke-linejoin="round"/>
<text x="87.2" y="68" font-size="16" text-anchor="middle" fill="#231f20" transform="rotate(-90 87.2 68)">Low tuning</text>
<text x="87.2" y="165" font-size="16" text-anchor="middle" fill="#231f20" transform="rotate(-90 87.2 165)">High tuning</text>
<rect x="308" y="141" width="2.6" height="31.6" fill="#231f20"/>
<text x="315.2" y="156.5" font-size="10.6" text-anchor="middle" fill="#231f20" transform="rotate(90 315.2 156.5)">100%ΔF/F</text>
<line x1="96" y1="215.4" x2="305" y2="215.4" stroke="#d8d8d8" stroke-width="0.6"/>
<text x="92.3" y="218.6" font-size="9.2" text-anchor="end" fill="#231f20" textLength="12.2" lengthAdjust="spacingAndGlyphs">180</text>
<line x1="96" y1="223.7" x2="305" y2="223.7" stroke="#d8d8d8" stroke-width="0.6"/>
<text x="92.3" y="226.8" font-size="9.2" text-anchor="end" fill="#231f20" textLength="12.2" lengthAdjust="spacingAndGlyphs">135</text>
<line x1="96" y1="231.9" x2="305" y2="231.9" stroke="#d8d8d8" stroke-width="0.6"/>
<text x="92.3" y="235.1" font-size="9.2" text-anchor="end" fill="#231f20" textLength="8.2" lengthAdjust="spacingAndGlyphs">90</text>
<line x1="96" y1="240.2" x2="305" y2="240.2" stroke="#d8d8d8" stroke-width="0.6"/>
<text x="92.3" y="243.3" font-size="9.2" text-anchor="end" fill="#231f20" textLength="8.2" lengthAdjust="spacingAndGlyphs">45</text>
<line x1="96" y1="248.4" x2="305" y2="248.4" stroke="#d8d8d8" stroke-width="0.6"/>
<text x="92.3" y="251.6" font-size="9.2" text-anchor="end" fill="#231f20" textLength="4.0" lengthAdjust="spacingAndGlyphs">0</text>
<text x="67.8" y="233.6" font-size="10.8" text-anchor="middle" fill="#231f20" transform="rotate(-90 67.8 233.6)">Position</text>
<text x="77" y="233" font-size="10.8" text-anchor="middle" fill="#231f20" transform="rotate(-90 77 233)">(cm)</text>
<polyline points="96.0,230.3 97.6,229.0 99.2,227.7 100.8,226.2 102.3,224.7 103.9,223.5 105.5,222.0 107.1,220.9 108.7,219.9 110.2,218.1 111.8,216.7 113.4,215.7 115.0,214.2" fill="none" stroke="#e8303a" stroke-width="0.9"/>
<polyline points="115.5,248.4 117.0,247.0 118.6,245.4 120.1,243.6 121.6,242.3 123.2,240.9 124.7,238.9 126.2,237.6 127.8,235.7 129.3,234.4 130.8,232.7 132.3,231.6 133.9,229.8 135.4,228.6 136.9,227.1 138.5,225.5 140.0,224.0 141.5,222.6 143.0,222.5 145.0,222.5 147.0,222.8 148.5,220.9 150.0,219.0 151.6,217.8 153.2,216.2 154.7,215.3 156.3,214.2" fill="none" stroke="#e8303a" stroke-width="0.9"/>
<polyline points="157.3,248.4 158.8,246.6 160.4,245.1 161.9,244.0 163.5,242.0 165.0,240.6 166.5,239.3 168.1,237.4 169.6,235.9 171.2,234.4 172.7,232.9 174.2,231.0 175.8,229.8 177.3,228.5 178.9,226.2 180.4,225.3 182.0,223.6 183.5,221.8 185.0,220.9 186.6,219.1 188.1,217.0 189.7,215.8 191.2,214.2" fill="none" stroke="#e8303a" stroke-width="0.9"/>
<polyline points="193.5,248.4 195.0,247.0 196.5,245.2 198.0,243.9 199.5,242.2 201.0,240.8 202.6,239.4 204.1,237.3 205.6,236.0 207.1,234.3 208.6,232.9 210.1,231.0 211.6,229.6 213.1,228.1 214.6,226.9 216.1,225.4 217.6,223.2 219.2,221.8 220.7,220.6 222.2,218.4 223.7,217.2 225.2,215.7 226.7,214.2" fill="none" stroke="#e8303a" stroke-width="0.9"/>
<polyline points="228.6,248.4 230.2,247.3 231.7,245.8 233.3,244.1 234.8,242.7 236.4,241.4 238.0,240.4 239.5,238.5 241.1,237.2 242.6,235.9 244.2,234.4 245.8,233.0 247.3,231.4 248.9,230.3 250.4,228.8 252.0,227.5 253.5,227.4 255.0,226.8 256.5,225.6 258.1,224.0 259.6,222.8 261.1,221.1 262.7,220.1 264.2,218.4 265.7,217.1 267.3,215.3 268.8,214.2" fill="none" stroke="#e8303a" stroke-width="0.9"/>
<polyline points="270.0,248.4 271.5,246.9 273.0,244.7 274.5,243.0 276.0,241.8 277.5,240.0 279.0,238.7 280.5,237.6 282.0,235.2 283.5,233.6 285.0,232.2 286.5,230.6 288.0,228.8 289.5,227.2 291.0,225.8 292.5,224.1 294.0,222.1 295.5,220.7 297.0,219.1 298.5,217.2 300.0,215.9 301.5,214.2" fill="none" stroke="#e8303a" stroke-width="0.9"/>
<rect x="97.6" y="252.5" width="30.1" height="2.2" fill="#231f20"/>
<text x="112.8" y="264.4" font-size="11.2" text-anchor="middle" fill="#231f20">25 s</text>
<rect x="307.3" y="214" width="4" height="7.8" fill="#e41e26"/>
<rect x="307.3" y="221.8" width="4" height="8.3" fill="#f2e520"/>
<rect x="307.3" y="230.1" width="4" height="8.4" fill="#2ea84a"/>
<rect x="307.3" y="238.5" width="4" height="8.3" fill="#2347a0"/>
<rect x="308.2" y="248.6" width="2.5" height="3.8" fill="#231f20"/>
<path d="M310.6 251.3 q3.5 -1.2 6 1.2 l1.6 2.4 M309.5 253.3 q3 1 7 0.5" fill="none" stroke="#555" stroke-width="0.6"/>
<path d="M295.4 255.1 H326.3" stroke="#f2e520" stroke-width="1.7" fill="none"/>
<path d="M295.4 264.3 H326.3" stroke="#2347a0" stroke-width="1.7" fill="none"/>
<path d="M295.4 255.1 a4.6 4.6 0 0 0 0 9.2" stroke="#2ea84a" stroke-width="1.7" fill="none"/>
<path d="M295.4 255.1 a4.6 4.6 0 0 1 0 9.2" stroke="#231f20" stroke-width="0.9" fill="none"/>
<path d="M326.3 255.1 a4.6 4.6 0 0 1 0 9.2" stroke="#e41e26" stroke-width="1.7" fill="none"/>
<path d="M326.3 255.1 a4.6 4.6 0 0 0 0 9.2" stroke="#231f20" stroke-width="0.9" fill="none"/>
<text x="322" y="46.5" font-size="34" font-weight="bold" text-anchor="start" fill="#231f20">b</text>
<circle cx="422.7" cy="101.2" r="20.9" fill="none" stroke="#b4b4b4" stroke-width="0.8"/>
<circle cx="422.7" cy="101.2" r="41.8" fill="none" stroke="#b4b4b4" stroke-width="0.8"/>
<circle cx="422.7" cy="101.2" r="62.7" fill="none" stroke="#b4b4b4" stroke-width="0.8"/>
<line x1="422.7" y1="101.2" x2="497.7" y2="101.2" stroke="#b4b4b4" stroke-width="0.8"/>
<line x1="422.7" y1="101.2" x2="487.7" y2="63.7" stroke="#b4b4b4" stroke-width="0.8"/>
<line x1="422.7" y1="101.2" x2="460.2" y2="36.2" stroke="#b4b4b4" stroke-width="0.8"/>
<line x1="422.7" y1="101.2" x2="422.7" y2="26.2" stroke="#b4b4b4" stroke-width="0.8"/>
<line x1="422.7" y1="101.2" x2="385.2" y2="36.2" stroke="#b4b4b4" stroke-width="0.8"/>
<line x1="422.7" y1="101.2" x2="357.7" y2="63.7" stroke="#b4b4b4" stroke-width="0.8"/>
<line x1="422.7" y1="101.2" x2="347.7" y2="101.2" stroke="#b4b4b4" stroke-width="0.8"/>
<line x1="422.7" y1="101.2" x2="357.7" y2="138.7" stroke="#b4b4b4" stroke-width="0.8"/>
<line x1="422.7" y1="101.2" x2="385.2" y2="166.2" stroke="#b4b4b4" stroke-width="0.8"/>
<line x1="422.7" y1="101.2" x2="422.7" y2="176.2" stroke="#b4b4b4" stroke-width="0.8"/>
<line x1="422.7" y1="101.2" x2="460.2" y2="166.2" stroke="#b4b4b4" stroke-width="0.8"/>
<line x1="422.7" y1="101.2" x2="487.7" y2="138.7" stroke="#b4b4b4" stroke-width="0.8"/>
<circle cx="422.7" cy="101.2" r="75" fill="none" stroke="#222" stroke-width="1.1"/>
<polygon points="422.6,100.6 413.6,101.9 388.5,96.6 371.6,92.6 375.7,90.1 356.1,77.3 387.1,85.4 382.7,75.3 398.5,83.1 391.5,72.9 405.8,86.6 407.2,82.3 420.5,99.0" fill="#7c82c4" stroke="#7c82c4" stroke-width="0.6" stroke-linejoin="round" opacity="0.9"/>
<line x1="422.7" y1="101.2" x2="422.7" y2="110.5" stroke="#7c82c4" stroke-width="1.4"/>
<circle cx="422.7" cy="101.2" r="1.4" fill="#6f74b0"/>
<text x="422.7" y="23.4" font-size="7.2" text-anchor="middle" fill="#333">90</text>
<text x="344.5" y="103.8" font-size="7.2" text-anchor="end" fill="#333">180</text>
<text x="499.5" y="103.8" font-size="7.2" text-anchor="start" fill="#333">0</text>
<text x="422.7" y="184.6" font-size="7.2" text-anchor="middle" fill="#333">270</text>
<text x="429.5" y="80.2" font-size="7.2" text-anchor="middle" fill="#333">0.05</text>
<text x="430.9" y="59.2" font-size="7.2" text-anchor="middle" fill="#333">0.1</text>
<text x="435.6" y="38.2" font-size="7.2" text-anchor="middle" fill="#333">0.15</text>
<circle cx="604" cy="102.3" r="16.8" fill="none" stroke="#b4b4b4" stroke-width="0.8"/>
<circle cx="604" cy="102.3" r="33.6" fill="none" stroke="#b4b4b4" stroke-width="0.8"/>
<circle cx="604" cy="102.3" r="50.4" fill="none" stroke="#b4b4b4" stroke-width="0.8"/>
<circle cx="604" cy="102.3" r="67.2" fill="none" stroke="#b4b4b4" stroke-width="0.8"/>
<line x1="604" y1="102.3" x2="678.7" y2="102.3" stroke="#b4b4b4" stroke-width="0.8"/>
<line x1="604" y1="102.3" x2="668.7" y2="65" stroke="#b4b4b4" stroke-width="0.8"/>
<line x1="604" y1="102.3" x2="641.4" y2="37.6" stroke="#b4b4b4" stroke-width="0.8"/>
<line x1="604" y1="102.3" x2="604" y2="27.6" stroke="#b4b4b4" stroke-width="0.8"/>
<line x1="604" y1="102.3" x2="566.6" y2="37.6" stroke="#b4b4b4" stroke-width="0.8"/>
<line x1="604" y1="102.3" x2="539.3" y2="65" stroke="#b4b4b4" stroke-width="0.8"/>
<line x1="604" y1="102.3" x2="529.3" y2="102.3" stroke="#b4b4b4" stroke-width="0.8"/>
<line x1="604" y1="102.3" x2="539.3" y2="139.7" stroke="#b4b4b4" stroke-width="0.8"/>
<line x1="604" y1="102.3" x2="566.6" y2="167" stroke="#b4b4b4" stroke-width="0.8"/>
<line x1="604" y1="102.3" x2="604" y2="177" stroke="#b4b4b4" stroke-width="0.8"/>
<line x1="604" y1="102.3" x2="641.4" y2="167" stroke="#b4b4b4" stroke-width="0.8"/>
<line x1="604" y1="102.3" x2="668.7" y2="139.7" stroke="#b4b4b4" stroke-width="0.8"/>
<circle cx="604" cy="102.3" r="74.7" fill="none" stroke="#222" stroke-width="1.1"/>
<g stroke="#7c82c4" stroke-width="2.1" stroke-linecap="butt" opacity="0.92">
<line x1="604.0" y1="102.3" x2="617.6" y2="32.0"/>
<line x1="604.0" y1="102.3" x2="607.4" y2="39.6"/>
<line x1="604.0" y1="102.3" x2="576.7" y2="45.9"/>
<line x1="604.0" y1="102.3" x2="589.9" y2="48.4"/>
<line x1="604.0" y1="102.3" x2="567.2" y2="60.0"/>
<line x1="604.0" y1="102.3" x2="598.2" y2="60.8"/>
<line x1="604.0" y1="102.3" x2="599.5" y2="60.5"/>
<line x1="604.0" y1="102.3" x2="573.4" y2="62.2"/>
<line x1="604.0" y1="102.3" x2="581.4" y2="66.6"/>
<line x1="604.0" y1="102.3" x2="617.9" y2="68.0"/>
<line x1="604.0" y1="102.3" x2="642.0" y2="84.9"/>
<line x1="604.0" y1="102.3" x2="631.0" y2="86.3"/>
<line x1="604.0" y1="102.3" x2="639.3" y2="96.5"/>
<line x1="604.0" y1="102.3" x2="552.9" y2="101.4"/>
<line x1="604.0" y1="102.3" x2="555.1" y2="113.4"/>
<line x1="604.0" y1="102.3" x2="569.7" y2="113.4"/>
<line x1="604.0" y1="102.3" x2="591.6" y2="135.3"/>
<line x1="604.0" y1="102.3" x2="602.3" y2="133.5"/>
<line x1="604.0" y1="102.3" x2="601.0" y2="125.0"/>
<line x1="604.0" y1="102.3" x2="617.9" y2="130.1"/>
<line x1="604.0" y1="102.3" x2="628.0" y2="121.8"/>
<line x1="604.0" y1="102.3" x2="635.4" y2="118.5"/>
<line x1="604.0" y1="102.3" x2="639.0" y2="96.6"/>
<line x1="604.0" y1="102.3" x2="631.8" y2="100.2"/>
<line x1="604.0" y1="102.3" x2="606.5" y2="55.0"/>
<line x1="604.0" y1="102.3" x2="610.5" y2="62.0"/>
<line x1="604.0" y1="102.3" x2="613.0" y2="70.0"/>
<line x1="604.0" y1="102.3" x2="596.0" y2="68.0"/>
<line x1="604.0" y1="102.3" x2="592.0" y2="75.0"/>
<line x1="604.0" y1="102.3" x2="585.0" y2="80.0"/>
<line x1="604.0" y1="102.3" x2="578.0" y2="86.0"/>
<line x1="604.0" y1="102.3" x2="575.0" y2="90.0"/>
<line x1="604.0" y1="102.3" x2="612.0" y2="80.0"/>
<line x1="604.0" y1="102.3" x2="616.0" y2="88.0"/>
<line x1="604.0" y1="102.3" x2="622.0" y2="92.0"/>
<line x1="604.0" y1="102.3" x2="627.0" y2="95.0"/>
<line x1="604.0" y1="102.3" x2="600.0" y2="78.0"/>
<line x1="604.0" y1="102.3" x2="603.0" y2="72.0"/>
<line x1="604.0" y1="102.3" x2="594.0" y2="90.0"/>
<line x1="604.0" y1="102.3" x2="588.0" y2="95.0"/>
<line x1="604.0" y1="102.3" x2="614.0" y2="105.0"/>
<line x1="604.0" y1="102.3" x2="620.0" y2="108.0"/>
<line x1="604.0" y1="102.3" x2="583.0" y2="100.0"/>
<line x1="604.0" y1="102.3" x2="590.0" y2="108.0"/>
<line x1="604.0" y1="102.3" x2="598.0" y2="115.0"/>
<line x1="604.0" y1="102.3" x2="608.0" y2="118.0"/>
<line x1="604.0" y1="102.3" x2="612.0" y2="112.0"/>
<line x1="604.0" y1="102.3" x2="597.0" y2="84.0"/>
<line x1="604.0" y1="102.3" x2="606.0" y2="86.0"/>
<line x1="604.0" y1="102.3" x2="611.0" y2="95.0"/>
<line x1="604.0" y1="102.3" x2="580.0" y2="96.0"/>
<line x1="604.0" y1="102.3" x2="624.0" y2="100.0"/>
<line x1="604.0" y1="102.3" x2="586.6" y2="88.7"/>
<line x1="604.0" y1="102.3" x2="595.7" y2="93.9"/>
<line x1="604.0" y1="102.3" x2="586.5" y2="78.4"/>
<line x1="604.0" y1="102.3" x2="600.9" y2="90.4"/>
<line x1="604.0" y1="102.3" x2="581.8" y2="94.5"/>
<line x1="604.0" y1="102.3" x2="607.8" y2="79.2"/>
<line x1="604.0" y1="102.3" x2="590.3" y2="98.4"/>
<line x1="604.0" y1="102.3" x2="583.3" y2="90.2"/>
<line x1="604.0" y1="102.3" x2="605.6" y2="88.7"/>
<line x1="604.0" y1="102.3" x2="588.2" y2="96.6"/>
<line x1="604.0" y1="102.3" x2="597.5" y2="80.1"/>
<line x1="604.0" y1="102.3" x2="601.2" y2="92.7"/>
<line x1="604.0" y1="102.3" x2="604.9" y2="82.9"/>
<line x1="604.0" y1="102.3" x2="587.1" y2="88.1"/>
<line x1="604.0" y1="102.3" x2="600.4" y2="89.0"/>
<line x1="604.0" y1="102.3" x2="593.1" y2="93.9"/>
<line x1="604.0" y1="102.3" x2="589.7" y2="88.4"/>
<line x1="604.0" y1="102.3" x2="595.7" y2="86.7"/>
<line x1="604.0" y1="102.3" x2="606.0" y2="89.1"/>
<line x1="604.0" y1="102.3" x2="594.6" y2="90.0"/>
<line x1="604.0" y1="102.3" x2="610.6" y2="90.1"/>
<line x1="604.0" y1="102.3" x2="581.7" y2="92.7"/>
<line x1="604.0" y1="102.3" x2="594.7" y2="86.8"/>
<line x1="604.0" y1="102.3" x2="591.4" y2="93.7"/>
<line x1="604.0" y1="102.3" x2="597.9" y2="94.1"/>
<line x1="604.0" y1="102.3" x2="586.0" y2="79.0"/>
<line x1="604.0" y1="102.3" x2="595.9" y2="94.1"/>
<line x1="604.0" y1="102.3" x2="595.3" y2="88.5"/>
<line x1="604.0" y1="102.3" x2="594.5" y2="98.2"/>
<line x1="604.0" y1="102.3" x2="609.7" y2="91.8"/>
<line x1="604.0" y1="102.3" x2="601.3" y2="74.8"/>
<line x1="604.0" y1="102.3" x2="592.6" y2="82.0"/>
<line x1="604.0" y1="102.3" x2="609.8" y2="90.1"/>
<line x1="604.0" y1="102.3" x2="600.1" y2="80.1"/>
<line x1="604.0" y1="102.3" x2="587.8" y2="88.2"/>
<line x1="604.0" y1="102.3" x2="604.2" y2="88.7"/>
<line x1="604.0" y1="102.3" x2="600.3" y2="87.6"/>
<line x1="604.0" y1="102.3" x2="582.7" y2="84.3"/>
<line x1="604.0" y1="102.3" x2="593.9" y2="95.1"/>
<line x1="604.0" y1="102.3" x2="595.8" y2="96.1"/>
<line x1="604.0" y1="102.3" x2="616.0" y2="115.5"/>
<line x1="604.0" y1="102.3" x2="620.8" y2="112.4"/>
<line x1="604.0" y1="102.3" x2="621.0" y2="101.7"/>
<line x1="604.0" y1="102.3" x2="624.7" y2="104.5"/>
<line x1="604.0" y1="102.3" x2="612.1" y2="100.1"/>
<line x1="604.0" y1="102.3" x2="616.3" y2="95.6"/>
<line x1="604.0" y1="102.3" x2="620.8" y2="113.4"/>
<line x1="604.0" y1="102.3" x2="621.4" y2="95.0"/>
<line x1="604.0" y1="102.3" x2="612.1" y2="101.6"/>
<line x1="604.0" y1="102.3" x2="619.8" y2="113.4"/>
<line x1="604.0" y1="102.3" x2="614.3" y2="96.4"/>
<line x1="604.0" y1="102.3" x2="613.5" y2="100.9"/>
<line x1="604.0" y1="102.3" x2="616.9" y2="100.7"/>
<line x1="604.0" y1="102.3" x2="610.3" y2="110.7"/>
<line x1="604.0" y1="102.3" x2="598.8" y2="112.8"/>
<line x1="604.0" y1="102.3" x2="602.1" y2="112.3"/>
<line x1="604.0" y1="102.3" x2="600.0" y2="112.0"/>
<line x1="604.0" y1="102.3" x2="604.0" y2="108.4"/>
<line x1="604.0" y1="102.3" x2="598.8" y2="114.3"/>
<line x1="604.0" y1="102.3" x2="588.8" y2="101.7"/>
<line x1="604.0" y1="102.3" x2="598.8" y2="118.9"/>
<line x1="604.0" y1="102.3" x2="593.2" y2="105.0"/>
<line x1="604.0" y1="102.3" x2="607.7" y2="119.2"/>
<line x1="604.0" y1="102.3" x2="602.1" y2="112.3"/>
<line x1="604.0" y1="102.3" x2="603.3" y2="113.7"/>
<line x1="604.0" y1="102.3" x2="596.8" y2="114.5"/>
</g>
<circle cx="604" cy="102.3" r="1.6" fill="#6f74b0"/>
<text x="603.9" y="25.4" font-size="7.2" text-anchor="middle" fill="#333">90</text>
<text x="526.5" y="103.8" font-size="7.2" text-anchor="end" fill="#333">180</text>
<text x="680.5" y="103.8" font-size="7.2" text-anchor="start" fill="#333">0</text>
<text x="603.9" y="185.8" font-size="7.2" text-anchor="middle" fill="#333">270</text>
<text x="620.5" y="86.8" font-size="7.2" text-anchor="middle" fill="#333">0.01</text>
<text x="623" y="70" font-size="7.2" text-anchor="middle" fill="#333">0.02</text>
<text x="625.4" y="53.8" font-size="7.2" text-anchor="middle" fill="#333">0.03</text>
<text x="629.1" y="38.4" font-size="7.2" text-anchor="middle" fill="#333">0.04</text>
<text x="38.3" y="603" font-size="34" font-weight="bold" text-anchor="start" fill="#231f20">e</text>
<circle cx="104" cy="703.1" r="18.4" fill="none" stroke="#c4c4c4" stroke-width="0.8"/>
<circle cx="104" cy="703.1" r="36.8" fill="none" stroke="#c4c4c4" stroke-width="0.8"/>
<circle cx="104" cy="703.1" r="55.2" fill="none" stroke="#c4c4c4" stroke-width="0.8"/>
<circle cx="104" cy="703.1" r="73.6" fill="none" stroke="#c4c4c4" stroke-width="0.8"/>
<line x1="104" y1="703.1" x2="191.3" y2="703.1" stroke="#c4c4c4" stroke-width="0.8"/>
<line x1="104" y1="703.1" x2="165.7" y2="641.4" stroke="#c4c4c4" stroke-width="0.8"/>
<line x1="104" y1="703.1" x2="104" y2="615.8" stroke="#c4c4c4" stroke-width="0.8"/>
<line x1="104" y1="703.1" x2="42.3" y2="641.4" stroke="#c4c4c4" stroke-width="0.8"/>
<line x1="104" y1="703.1" x2="16.7" y2="703.1" stroke="#c4c4c4" stroke-width="0.8"/>
<line x1="104" y1="703.1" x2="42.3" y2="764.8" stroke="#c4c4c4" stroke-width="0.8"/>
<line x1="104" y1="703.1" x2="104" y2="790.4" stroke="#c4c4c4" stroke-width="0.8"/>
<line x1="104" y1="703.1" x2="165.7" y2="764.8" stroke="#c4c4c4" stroke-width="0.8"/>
<circle cx="104" cy="703.1" r="87.3" fill="none" stroke="#222" stroke-width="0.9"/>
<text x="104" y="609.5" font-size="7.8" text-anchor="middle" fill="#222">90°</text>
<text x="14.3" y="705.9" font-size="7.9" text-anchor="end" fill="#222">180°</text>
<text x="196.3" y="705.9" font-size="7.8" text-anchor="start" fill="#222">0°</text>
<text x="104" y="802" font-size="7.8" text-anchor="middle" fill="#222">270°</text>
<text x="125.7" y="695.4" font-size="7.4" text-anchor="middle" fill="#222">0.1</text>
<text x="142.6" y="688.3" font-size="7.4" text-anchor="middle" fill="#222">0.2</text>
<text x="159.4" y="681.1" font-size="7.4" text-anchor="middle" fill="#222">0.3</text>
<text x="176.3" y="674" font-size="7.4" text-anchor="middle" fill="#222">0.4</text>
<polyline points="98.7,703.0 92.0,703.5 85.0,705.0 74.6,710.1 60.1,716.2 48.9,725.8 32.8,740.3 36.0,750.0 52.1,750.0 45.7,762.8 52.1,765.2 63.4,757.2 69.8,757.2 73.0,759.6 81.0,753.1 87.4,752.3 95.5,741.9 101.9,729.0 104.5,712.0 105.1,708.2 104.0,704.0" fill="none" stroke="#f4a034" stroke-width="1.8" stroke-linejoin="miter"/>
<polyline points="112.4,703.1 110.1,701.8 111.7,699.7 109.0,699.5 109.6,696.9 107.1,697.7 106.6,695.1 104.6,696.9 103.1,694.7 102.1,697.2 99.8,695.8 99.9,698.5 97.2,698.2 98.3,700.6 95.8,701.4 97.8,703.1 95.8,704.8 98.3,705.6 97.2,708.0 99.9,707.7 99.8,710.4 102.1,709.0 103.1,711.5 104.6,709.3 106.6,711.1 107.1,708.5 111.6,711.6 111.4,708.5 114.4,707.7 113.0,705.0 112.4,703.1" fill="none" stroke="#f4a034" stroke-width="1.2"/>
<polyline points="109.5,703.1 109.5,703.0 109.5,702.9 109.5,702.8 109.5,702.7 109.5,702.6 109.5,702.5 109.5,702.4 109.4,702.3 109.4,702.2 109.4,702.1 109.4,702.1 109.4,702.0 109.4,701.9 109.3,701.8 109.3,701.7 109.3,701.6 109.3,701.5 109.2,701.4 109.2,701.3 109.2,701.2 109.1,701.1 109.1,701.0 109.1,701.0 109.0,700.9 109.0,700.8 108.9,700.7 108.9,700.6 108.9,700.5 108.8,700.4 108.8,700.3 108.7,700.3 108.7,700.2 108.6,700.1 108.6,700.0 108.5,699.9 108.5,699.9 108.4,699.8 108.3,699.7 108.3,699.6 108.2,699.6 108.2,699.5 108.1,699.4 108.0,699.3 108.0,699.3 107.9,699.2 107.8,699.1 107.8,699.1 107.7,699.0 107.6,698.9 107.5,698.9 107.5,698.8 107.4,698.8 107.3,698.7 107.2,698.6 107.2,698.6 107.1,698.5 107.0,698.5 106.9,698.4 106.8,698.4 106.8,698.3 106.7,698.3 106.6,698.2 106.5,698.2 106.4,698.2 106.3,698.1 106.2,698.1 106.1,698.0 106.1,698.0 106.0,698.0 105.9,697.9 105.8,697.9 105.7,697.9 105.6,697.8 105.5,697.8 105.4,697.8 105.3,697.8 105.2,697.7 105.1,697.7 105.0,697.7 105.0,697.7 104.9,697.7 104.8,697.7 104.7,697.6 104.6,697.6 104.5,697.6 104.4,697.6 104.3,697.6 104.2,697.6 104.1,697.6 104.0,697.6 103.9,697.6 103.8,697.6 103.7,697.6 103.6,697.6 103.5,697.6 103.4,697.6 103.3,697.6 103.2,697.6 103.1,697.7 103.0,697.7 102.9,697.7 102.9,697.7 102.8,697.7 102.7,697.8 102.6,697.8 102.5,697.8 102.4,697.8 102.3,697.9 102.2,697.9 102.1,697.9 102.0,698.0 101.9,698.0 101.8,698.0 101.8,698.1 101.7,698.1 101.6,698.1 101.5,698.2 101.4,698.2 101.3,698.3 101.2,698.3 101.1,698.4 101.1,698.4 101.0,698.4 100.9,698.5 100.8,698.5 100.7,698.6 100.6,698.7 100.6,698.7 100.5,698.8 100.4,698.8 100.3,698.9 100.2,698.9 100.2,699.0 100.1,699.0 100.0,699.1 99.9,699.2 99.8,699.2 99.7,699.3 99.7,699.3 99.6,699.4 99.5,699.4 99.4,699.5 99.3,699.6 99.2,699.6 99.1,699.7 99.0,699.7 98.9,699.8 98.8,699.9 98.7,699.9 98.6,700.0 98.4,700.0 98.3,700.1 98.2,700.1 98.0,700.2 97.9,700.2 97.7,700.3 97.5,700.3 97.3,700.4 97.1,700.5 96.9,700.5 96.6,700.6 96.4,700.6 96.1,700.7 95.8,700.8 95.5,700.8 95.1,700.9 94.8,701.0 94.4,701.1 93.9,701.1 93.5,701.2 93.0,701.4 92.4,701.5 91.8,701.6 91.2,701.8 90.6,701.9 89.9,702.1 89.1,702.3 88.4,702.6 87.5,702.8 86.6,703.1 85.7,703.4 84.7,703.8 83.7,704.2 82.6,704.6 81.5,705.1 80.3,705.6 79.0,706.2 77.7,706.8 76.4,707.5 75.0,708.2 73.6,709.0 72.2,709.9 70.7,710.8 69.2,711.8 67.6,712.8 66.1,714.0 64.5,715.2 62.9,716.5 61.3,717.8 59.7,719.2 58.2,720.7 56.6,722.2 55.1,723.9 53.6,725.5 52.2,727.3 50.8,729.1 49.5,730.9 48.2,732.8 47.0,734.7 45.9,736.6 44.9,738.6 44.0,740.6 43.2,742.6 42.6,744.5 42.0,746.5 41.6,748.4 41.3,750.4 41.1,752.2 41.1,754.1 41.2,755.8 41.4,757.5 41.8,759.1 42.3,760.6 43.0,762.0 43.7,763.4 44.7,764.6 45.7,765.6 46.8,766.6 48.1,767.4 49.5,768.1 50.9,768.6 52.5,769.1 54.1,769.3 55.8,769.4 57.6,769.4 59.4,769.3 61.2,769.0 63.1,768.5 65.0,768.0 67.0,767.3 68.9,766.5 70.8,765.5 72.7,764.5 74.6,763.4 76.5,762.1 78.3,760.8 80.1,759.4 81.8,758.0 83.5,756.5 85.1,754.9 86.7,753.3 88.2,751.7 89.6,750.0 91.0,748.4 92.3,746.7 93.5,745.0 94.7,743.3 95.8,741.7 96.8,740.1 97.8,738.4 98.7,736.9 99.5,735.3 100.2,733.8 100.9,732.3 101.6,730.9 102.2,729.5 102.7,728.2 103.2,726.9 103.6,725.7 104.0,724.6 104.4,723.4 104.7,722.4 105.0,721.4 105.2,720.4 105.4,719.5 105.6,718.7 105.8,717.9 106.0,717.1 106.1,716.4 106.2,715.7 106.3,715.1 106.4,714.5 106.5,714.0 106.6,713.5 106.7,713.0 106.7,712.6 106.8,712.2 106.8,711.8 106.9,711.4 106.9,711.1 107.0,710.8 107.0,710.5 107.0,710.3 107.1,710.0 107.1,709.8 107.2,709.6 107.2,709.4 107.2,709.2 107.3,709.0 107.3,708.9 107.4,708.7 107.4,708.6 107.5,708.4 107.5,708.3 107.6,708.2 107.6,708.1 107.6,707.9 107.7,707.8 107.7,707.7 107.8,707.6 107.9,707.5 107.9,707.4 108.0,707.3 108.0,707.3 108.1,707.2 108.1,707.1 108.2,707.0 108.2,706.9 108.3,706.8 108.3,706.7 108.4,706.6 108.4,706.6 108.5,706.5 108.5,706.4 108.6,706.3 108.6,706.2 108.7,706.1 108.7,706.0 108.8,706.0 108.8,705.9 108.9,705.8 108.9,705.7 108.9,705.6 109.0,705.5 109.0,705.4 109.1,705.3 109.1,705.3 109.1,705.2 109.2,705.1 109.2,705.0 109.2,704.9 109.2,704.8 109.3,704.7 109.3,704.6 109.3,704.5 109.3,704.4 109.4,704.3 109.4,704.2 109.4,704.2 109.4,704.1 109.4,704.0 109.5,703.9 109.5,703.8 109.5,703.7 109.5,703.6 109.5,703.5 109.5,703.4 109.5,703.3 109.5,703.2 109.5,703.1" fill="none" stroke="#1f74b4" stroke-width="2.2" stroke-linejoin="round"/>
<polyline points="198.3,678.1 199.4,682.1 200.5,681.7 201.6,676.5 202.7,677.1 203.8,676.4 204.9,679.7 206.0,677.8 207.1,680.2 208.2,672.5 209.3,682.7 210.4,677.7 211.5,680.0 212.6,677.6 213.7,676.9 214.8,679.4 215.9,680.5 217.0,677.4 218.1,677.5 219.2,680.1 220.3,675.4 221.4,673.5 222.5,678.9 223.6,675.2 224.7,670.9 225.8,673.7 226.9,663.3 228.0,647.4 229.1,632.8 230.2,623.6 231.3,612.4 232.4,603.8 233.5,600.3 234.6,601.6 235.7,600.6 236.8,595.5 237.9,598.0 239.0,600.0 240.1,596.8 241.2,595.4 242.3,587.7 243.4,592.2 244.5,604.3 245.6,598.3 246.7,601.4 247.8,602.0 248.9,605.6 250.0,618.6 251.1,626.6 252.2,623.4 253.3,630.3 254.4,629.2 255.5,631.1 256.6,635.4 257.7,642.0 258.8,640.1 259.9,647.2 261.0,647.7 262.1,641.1 263.2,647.9 264.3,646.6 265.4,650.4 266.5,647.9 267.6,650.2 268.7,652.4 269.8,649.8 270.9,654.6 272.0,651.9 273.1,653.2 274.2,649.7 275.3,654.0 276.4,653.0 277.5,652.9 278.6,657.5 279.7,661.6 280.8,665.5 281.9,657.0 283.0,664.8 284.1,664.1 285.2,662.9 286.3,660.7 287.4,668.0 288.5,661.0 289.6,667.1 290.7,669.9 291.8,661.8 292.9,666.4 294.0,664.5 295.1,670.3 296.2,675.3 297.3,677.9 298.4,667.5 299.5,671.6 300.6,676.8 301.7,680.9 302.8,676.7 303.9,672.5 305.0,676.7 306.1,675.4 307.2,674.7 308.3,672.5 309.4,677.1 310.5,676.7 311.6,675.1 312.7,674.6 313.8,670.3 314.9,673.5 316.0,680.4 317.1,674.7 318.2,669.7 319.3,680.9 320.4,677.6 321.5,684.0 322.6,675.8 323.7,673.6 324.8,669.6 325.9,680.9 327.0,685.9 328.1,672.2 329.2,672.9 330.3,677.9 331.4,672.1 332.5,674.4 333.6,674.1 334.7,676.3 335.8,679.9 336.9,675.6 338.0,679.2 339.1,673.8 340.2,676.8 341.3,666.8 342.4,669.6 343.5,678.7 344.6,673.1 345.7,677.8 346.8,677.7 347.9,680.9 349.0,678.8 350.1,679.6 351.2,675.0 352.3,672.7 353.4,672.5 354.5,673.5 355.6,670.9 356.7,673.3 357.8,675.1 358.9,676.5 360.0,674.1 361.1,667.7 362.2,675.2 363.3,676.4 364.4,679.9 365.5,677.8 366.6,672.9 367.7,672.6 368.8,683.6 369.9,678.6 371.0,682.9 372.1,684.1 373.2,672.2" fill="none" stroke="#f4a034" stroke-width="0.85" stroke-linejoin="round"/>
<polyline points="198.3,676.6 198.8,676.6 199.3,676.6 199.8,676.6 200.3,676.5 200.8,676.5 201.3,676.4 201.8,676.4 202.3,676.4 202.8,676.3 203.3,676.2 203.8,676.2 204.3,676.1 204.8,676.0 205.3,675.9 205.8,675.8 206.3,675.7 206.8,675.6 207.3,675.4 207.8,675.3 208.3,675.1 208.8,674.9 209.3,674.7 209.8,674.5 210.3,674.3 210.8,674.0 211.3,673.8 211.8,673.5 212.3,673.2 212.8,672.8 213.3,672.4 213.8,672.0 214.3,671.6 214.8,671.1 215.3,670.7 215.8,670.1 216.3,669.6 216.8,669.0 217.3,668.3 217.8,667.7 218.3,666.9 218.8,666.2 219.3,665.4 219.8,664.6 220.3,663.7 220.8,662.7 221.3,661.8 221.8,660.7 222.3,659.7 222.8,658.6 223.3,657.4 223.8,656.2 224.3,654.9 224.8,653.7 225.3,652.3 225.8,650.9 226.3,649.5 226.8,648.1 227.3,646.6 227.8,645.0 228.3,643.5 228.8,641.9 229.3,640.3 229.8,638.7 230.3,637.0 230.8,635.3 231.3,633.7 231.8,632.0 232.3,630.3 232.8,628.6 233.3,626.9 233.8,625.3 234.3,623.6 234.8,622.0 235.3,620.4 235.8,618.9 236.3,617.3 236.8,615.9 237.3,614.4 237.8,613.1 238.3,611.7 238.8,610.5 239.3,609.3 239.8,608.2 240.3,607.2 240.8,606.2 241.3,605.3 241.8,604.6 242.3,603.9 242.8,603.3 243.3,602.8 243.8,602.4 244.3,602.1 244.8,601.9 245.3,601.8 245.8,601.8 246.3,601.9 246.8,602.1 247.3,602.5 247.8,602.9 248.3,603.4 248.8,604.0 249.3,604.7 249.8,605.5 250.3,606.4 250.8,607.4 251.3,608.4 251.8,609.5 252.3,610.7 252.8,612.0 253.3,613.3 253.8,614.7 254.3,616.2 254.8,617.6 255.3,619.2 255.8,620.7 256.3,622.3 256.8,624.0 257.3,625.6 257.8,627.3 258.3,629.0 258.8,630.6 259.3,632.3 259.8,634.0 260.3,635.7 260.8,637.3 261.3,639.0 261.8,640.6 262.3,642.2 262.8,643.8 263.3,645.4 263.8,646.9 264.3,648.4 264.8,649.8 265.3,651.2 265.8,652.6 266.3,653.9 266.8,655.2 267.3,656.4 267.8,657.6 268.3,658.8 268.8,659.9 269.3,660.9 269.8,662.0 270.3,662.9 270.8,663.8 271.3,664.7 271.8,665.6 272.3,666.3 272.8,667.1 273.3,667.8 273.8,668.5 274.3,669.1 274.8,669.7 275.3,670.2 275.8,670.8 276.3,671.2 276.8,671.7 277.3,672.1 277.8,672.5 278.3,672.9 278.8,673.2 279.3,673.5 279.8,673.8 280.3,674.1 280.8,674.3 281.3,674.6 281.8,674.8 282.3,675.0 282.8,675.2 283.3,675.3 283.8,675.5 284.3,675.6 284.8,675.7 285.3,675.8 285.8,675.9 286.3,676.0 286.8,676.1 287.3,676.2 287.8,676.2 288.3,676.3 288.8,676.4 289.3,676.4 289.8,676.5 290.3,676.5 290.8,676.5 291.3,676.6 291.8,676.6 292.3,676.6 292.8,676.6 293.3,676.7 293.8,676.7 294.3,676.7 294.8,676.7 295.3,676.7 295.8,676.7 296.3,676.7 296.8,676.7 297.3,676.8 297.8,676.8 298.3,676.8 298.8,676.8 299.3,676.8 299.8,676.8 300.3,676.8 300.8,676.8 301.3,676.8 301.8,676.8 302.3,676.8 302.8,676.8 303.3,676.8 303.8,676.8 304.3,676.8 304.8,676.8 305.3,676.8 305.8,676.8 306.3,676.8 306.8,676.8 307.3,676.8 307.8,676.8 308.3,676.8 308.8,676.8 309.3,676.8 309.8,676.8 310.3,676.8 310.8,676.8 311.3,676.8 311.8,676.8 312.3,676.8 312.8,676.8 313.3,676.8 313.8,676.8 314.3,676.8 314.8,676.8 315.3,676.8 315.8,676.8 316.3,676.8 316.8,676.8 317.3,676.8 317.8,676.8 318.3,676.8 318.8,676.8 319.3,676.8 319.8,676.8 320.3,676.8 320.8,676.8 321.3,676.8 321.8,676.8 322.3,676.8 322.8,676.8 323.3,676.8 323.8,676.8 324.3,676.8 324.8,676.8 325.3,676.8 325.8,676.8 326.3,676.8 326.8,676.8 327.3,676.8 327.8,676.8 328.3,676.8 328.8,676.8 329.3,676.8 329.8,676.8 330.3,676.8 330.8,676.8 331.3,676.8 331.8,676.8 332.3,676.8 332.8,676.8 333.3,676.8 333.8,676.8 334.3,676.8 334.8,676.8 335.3,676.8 335.8,676.8 336.3,676.8 336.8,676.8 337.3,676.8 337.8,676.8 338.3,676.8 338.8,676.8 339.3,676.8 339.8,676.8 340.3,676.8 340.8,676.8 341.3,676.8 341.8,676.8 342.3,676.8 342.8,676.8 343.3,676.8 343.8,676.8 344.3,676.8 344.8,676.8 345.3,676.8 345.8,676.8 346.3,676.8 346.8,676.8 347.3,676.8 347.8,676.8 348.3,676.8 348.8,676.8 349.3,676.8 349.8,676.8 350.3,676.8 350.8,676.8 351.3,676.8 351.8,676.8 352.3,676.8 352.8,676.8 353.3,676.8 353.8,676.8 354.3,676.8 354.8,676.8 355.3,676.8 355.8,676.8 356.3,676.8 356.8,676.8 357.3,676.8 357.8,676.8 358.3,676.8 358.8,676.8 359.3,676.8 359.8,676.8 360.3,676.8 360.8,676.8 361.3,676.8 361.8,676.8 362.3,676.8 362.8,676.8 363.3,676.8 363.8,676.8 364.3,676.8 364.8,676.8 365.3,676.8 365.8,676.8 366.3,676.8 366.8,676.8 367.3,676.8 367.8,676.8 368.3,676.8 368.8,676.8 369.3,676.8 369.8,676.8 370.3,676.8 370.8,676.8 371.3,676.8 371.8,676.8 372.3,676.8 372.8,676.8 373.3,676.8" fill="none" stroke="#1a70b0" stroke-width="4.3" stroke-linejoin="round" stroke-linecap="butt"/>
<path d="M233 642.5 H254" stroke="#a3a3a3" stroke-width="5"/>
<path d="M226.9 642.5 L234.6 637.6 L234.6 647.4 Z" fill="#a3a3a3"/>
<path d="M259.8 642.5 L252.1 637.6 L252.1 647.4 Z" fill="#a3a3a3"/>
<text x="245.6" y="666.3" font-size="18.3" text-anchor="middle" fill="#231f20">W</text>
<rect x="305.1" y="611" width="6.9" height="65.5" fill="#a3a3a3"/>
<path d="M308.5 601.3 L303.0 611.7 L314.0 611.7 Z" fill="#a3a3a3"/>
<text x="321.7" y="649.2" font-size="19" text-anchor="middle" fill="#231f20">A</text>
<text x="213.7" y="715.2" font-size="15" font-weight="bold" text-anchor="start" fill="#231f20">Tuning properties:</text>
<text x="214.5" y="739.2" font-size="13" text-anchor="middle" fill="#231f20">•</text>
<text x="236.8" y="739.2" font-size="15.1" text-anchor="start" fill="#231f20">Peak Width (W)</text>
<text x="214.5" y="757.4" font-size="13" text-anchor="middle" fill="#231f20">•</text>
<text x="236.8" y="757.4" font-size="15.1" text-anchor="start" fill="#231f20">Amplitude (A)</text>
<text x="214.5" y="775.6" font-size="13" text-anchor="middle" fill="#231f20">•</text>
<text x="236.8" y="775.6" font-size="15.1" text-anchor="start" fill="#231f20">Goodness of fit (R²)</text>
<text x="36.8" y="290.5" font-size="34" font-weight="bold" text-anchor="start" fill="#231f20">c</text>
<line x1="91" y1="310.2" x2="91" y2="538.3" stroke="#000" stroke-width="2.0"/>
<line x1="81.7" y1="537.3" x2="319" y2="537.3" stroke="#000" stroke-width="2.0"/>
<line x1="81.7" y1="537.3" x2="91" y2="537.3" stroke="#000" stroke-width="2.0"/>
<text x="79.8" y="543.5" font-size="17.4" font-weight="bold" text-anchor="end" fill="#000">0.0</text>
<line x1="81.7" y1="492.1" x2="91" y2="492.1" stroke="#000" stroke-width="2.0"/>
<text x="79.8" y="498.3" font-size="17.4" font-weight="bold" text-anchor="end" fill="#000">0.2</text>
<line x1="81.7" y1="446.9" x2="91" y2="446.9" stroke="#000" stroke-width="2.0"/>
<text x="79.8" y="453.1" font-size="17.4" font-weight="bold" text-anchor="end" fill="#000">0.4</text>
<line x1="81.7" y1="401.7" x2="91" y2="401.7" stroke="#000" stroke-width="2.0"/>
<text x="79.8" y="407.9" font-size="17.4" font-weight="bold" text-anchor="end" fill="#000">0.6</text>
<line x1="81.7" y1="356.5" x2="91" y2="356.5" stroke="#000" stroke-width="2.0"/>
<text x="79.8" y="362.7" font-size="17.4" font-weight="bold" text-anchor="end" fill="#000">0.8</text>
<line x1="81.7" y1="311.3" x2="91" y2="311.3" stroke="#000" stroke-width="2.0"/>
<text x="79.8" y="317.5" font-size="17.4" font-weight="bold" text-anchor="end" fill="#000">1.0</text>
<line x1="125.7" y1="537.3" x2="125.7" y2="546.8" stroke="#000" stroke-width="2.0"/>
<text x="125.7" y="565.2" font-size="17.3" font-weight="bold" text-anchor="middle" fill="#000">RC</text>
<line x1="178" y1="537.3" x2="178" y2="546.8" stroke="#000" stroke-width="2.0"/>
<text x="178" y="565.2" font-size="17.3" font-weight="bold" text-anchor="middle" fill="#000">Irr+RC</text>
<line x1="230.3" y1="537.3" x2="230.3" y2="546.8" stroke="#000" stroke-width="2.0"/>
<text x="230.3" y="565.2" font-size="17.3" font-weight="bold" text-anchor="middle" fill="#000">EE</text>
<line x1="282.6" y1="537.3" x2="282.6" y2="546.8" stroke="#000" stroke-width="2.0"/>
<text x="282.6" y="565.2" font-size="17.3" font-weight="bold" text-anchor="middle" fill="#000">Irr+EE</text>
<text x="45.4" y="422.5" font-size="19" font-weight="bold" text-anchor="middle" fill="#000" transform="rotate(-90 45.4 422.5)">Tuning Index</text>
<g fill="#d4d6d9" stroke="#8f9297" stroke-width="1">
<circle cx="125.7" cy="319.5" r="1.25"/><circle cx="125.7" cy="323.9" r="1.25"/><circle cx="131.2" cy="324.4" r="1.25"/><circle cx="123.0" cy="325.6" r="1.25"/><circle cx="128.4" cy="326.2" r="1.25"/><circle cx="120.2" cy="326.5" r="1.25"/><circle cx="133.9" cy="326.7" r="1.25"/><circle cx="114.7" cy="326.9" r="1.25"/><circle cx="125.7" cy="327.0" r="1.25"/><circle cx="131.2" cy="327.9" r="1.25"/><circle cx="117.5" cy="327.9" r="1.25"/><circle cx="136.7" cy="328.2" r="1.25"/><circle cx="123.0" cy="328.9" r="1.25"/><circle cx="128.4" cy="329.2" r="1.25"/><circle cx="112.0" cy="329.3" r="1.25"/><circle cx="133.9" cy="329.6" r="1.25"/><circle cx="120.2" cy="329.9" r="1.25"/><circle cx="125.7" cy="330.6" r="1.25"/><circle cx="114.7" cy="330.6" r="1.25"/><circle cx="131.2" cy="331.3" r="1.25"/><circle cx="117.5" cy="331.4" r="1.25"/><circle cx="136.7" cy="331.7" r="1.25"/><circle cx="123.0" cy="332.0" r="1.25"/><circle cx="128.4" cy="332.5" r="1.25"/><circle cx="133.9" cy="332.7" r="1.25"/><circle cx="112.0" cy="332.8" r="1.25"/><circle cx="120.2" cy="333.2" r="1.25"/><circle cx="125.7" cy="334.0" r="1.25"/><circle cx="131.2" cy="334.5" r="1.25"/><circle cx="123.0" cy="335.2" r="1.25"/><circle cx="128.4" cy="335.8" r="1.25"/><circle cx="120.2" cy="336.3" r="1.25"/><circle cx="125.7" cy="337.1" r="1.25"/><circle cx="131.2" cy="337.5" r="1.25"/><circle cx="117.5" cy="337.6" r="1.25"/><circle cx="123.0" cy="338.1" r="1.25"/><circle cx="136.7" cy="338.2" r="1.25"/><circle cx="128.4" cy="338.9" r="1.25"/><circle cx="120.2" cy="339.5" r="1.25"/><circle cx="133.9" cy="339.6" r="1.25"/><circle cx="125.7" cy="340.9" r="1.25"/><circle cx="131.2" cy="341.1" r="1.25"/><circle cx="123.0" cy="341.8" r="1.25"/><circle cx="117.5" cy="341.8" r="1.25"/><circle cx="128.4" cy="341.9" r="1.25"/><circle cx="136.7" cy="342.2" r="1.25"/><circle cx="120.2" cy="343.4" r="1.25"/><circle cx="133.9" cy="343.6" r="1.25"/><circle cx="125.7" cy="344.0" r="1.25"/><circle cx="114.7" cy="344.2" r="1.25"/><circle cx="133.9" cy="344.2" r="1.25"/><circle cx="123.0" cy="344.3" r="1.25"/><circle cx="128.4" cy="345.4" r="1.25"/><circle cx="125.7" cy="347.7" r="1.25"/><circle cx="120.2" cy="347.9" r="1.25"/><circle cx="131.2" cy="348.0" r="1.25"/><circle cx="136.7" cy="348.2" r="1.25"/><circle cx="125.7" cy="351.9" r="1.25"/><circle cx="120.2" cy="352.5" r="1.25"/><circle cx="128.4" cy="352.9" r="1.25"/><circle cx="123.0" cy="354.0" r="1.25"/><circle cx="131.2" cy="354.2" r="1.25"/><circle cx="125.7" cy="354.9" r="1.25"/><circle cx="117.5" cy="355.0" r="1.25"/><circle cx="133.9" cy="355.1" r="1.25"/><circle cx="131.2" cy="355.2" r="1.25"/><circle cx="136.7" cy="355.5" r="1.25"/><circle cx="120.2" cy="355.9" r="1.25"/><circle cx="128.4" cy="356.0" r="1.25"/><circle cx="114.7" cy="356.6" r="1.25"/><circle cx="117.5" cy="356.7" r="1.25"/><circle cx="123.0" cy="356.9" r="1.25"/><circle cx="125.7" cy="358.0" r="1.25"/><circle cx="131.2" cy="358.2" r="1.25"/><circle cx="136.7" cy="358.6" r="1.25"/><circle cx="125.7" cy="361.5" r="1.25"/><circle cx="120.2" cy="362.2" r="1.25"/><circle cx="128.4" cy="362.5" r="1.25"/><circle cx="133.9" cy="362.8" r="1.25"/><circle cx="114.7" cy="363.0" r="1.25"/><circle cx="123.0" cy="363.5" r="1.25"/><circle cx="131.2" cy="363.6" r="1.25"/><circle cx="117.5" cy="364.3" r="1.25"/><circle cx="136.7" cy="364.3" r="1.25"/><circle cx="125.7" cy="364.9" r="1.25"/><circle cx="133.9" cy="365.0" r="1.25"/><circle cx="120.2" cy="365.3" r="1.25"/><circle cx="128.4" cy="365.9" r="1.25"/><circle cx="123.0" cy="366.4" r="1.25"/><circle cx="114.7" cy="366.5" r="1.25"/><circle cx="125.7" cy="368.0" r="1.25"/><circle cx="123.0" cy="370.6" r="1.25"/><circle cx="128.4" cy="370.8" r="1.25"/><circle cx="117.5" cy="371.2" r="1.25"/><circle cx="125.7" cy="372.6" r="1.25"/><circle cx="123.0" cy="374.8" r="1.25"/><circle cx="128.4" cy="374.9" r="1.25"/><circle cx="125.7" cy="377.0" r="1.25"/><circle cx="123.0" cy="379.6" r="1.25"/><circle cx="125.7" cy="380.6" r="1.25"/><circle cx="131.2" cy="380.8" r="1.25"/><circle cx="128.4" cy="381.8" r="1.25"/><circle cx="120.2" cy="382.1" r="1.25"/><circle cx="133.9" cy="382.5" r="1.25"/><circle cx="125.7" cy="383.4" r="1.25"/><circle cx="117.5" cy="383.6" r="1.25"/><circle cx="131.2" cy="384.1" r="1.25"/><circle cx="123.0" cy="384.3" r="1.25"/><circle cx="136.7" cy="384.3" r="1.25"/><circle cx="112.0" cy="384.3" r="1.25"/><circle cx="142.1" cy="384.6" r="1.25"/><circle cx="133.9" cy="384.6" r="1.25"/><circle cx="128.4" cy="385.8" r="1.25"/><circle cx="120.2" cy="386.1" r="1.25"/><circle cx="114.7" cy="386.2" r="1.25"/><circle cx="125.7" cy="386.6" r="1.25"/><circle cx="139.4" cy="386.6" r="1.25"/><circle cx="109.3" cy="386.8" r="1.25"/><circle cx="131.2" cy="387.0" r="1.25"/><circle cx="117.5" cy="387.3" r="1.25"/><circle cx="123.0" cy="387.4" r="1.25"/><circle cx="133.9" cy="387.8" r="1.25"/><circle cx="128.4" cy="389.0" r="1.25"/><circle cx="125.7" cy="389.9" r="1.25"/><circle cx="131.2" cy="389.9" r="1.25"/><circle cx="120.2" cy="390.4" r="1.25"/><circle cx="136.7" cy="390.7" r="1.25"/><circle cx="123.0" cy="391.6" r="1.25"/><circle cx="128.4" cy="392.1" r="1.25"/><circle cx="117.5" cy="392.6" r="1.25"/><circle cx="133.9" cy="392.7" r="1.25"/><circle cx="125.7" cy="393.4" r="1.25"/><circle cx="120.2" cy="393.5" r="1.25"/><circle cx="131.2" cy="393.8" r="1.25"/><circle cx="114.7" cy="394.1" r="1.25"/><circle cx="136.7" cy="394.4" r="1.25"/><circle cx="123.0" cy="394.8" r="1.25"/><circle cx="128.4" cy="395.2" r="1.25"/><circle cx="139.4" cy="395.4" r="1.25"/><circle cx="117.5" cy="396.1" r="1.25"/><circle cx="133.9" cy="396.1" r="1.25"/><circle cx="125.7" cy="396.4" r="1.25"/><circle cx="112.0" cy="396.4" r="1.25"/><circle cx="142.1" cy="396.7" r="1.25"/><circle cx="120.2" cy="397.2" r="1.25"/><circle cx="131.2" cy="397.3" r="1.25"/><circle cx="123.0" cy="398.0" r="1.25"/><circle cx="128.4" cy="398.2" r="1.25"/><circle cx="114.7" cy="398.6" r="1.25"/><circle cx="136.7" cy="398.8" r="1.25"/><circle cx="109.3" cy="399.2" r="1.25"/><circle cx="125.7" cy="400.2" r="1.25"/><circle cx="128.4" cy="401.3" r="1.25"/><circle cx="123.0" cy="401.9" r="1.25"/><circle cx="117.5" cy="402.1" r="1.25"/><circle cx="131.2" cy="402.5" r="1.25"/><circle cx="136.7" cy="402.5" r="1.25"/><circle cx="125.7" cy="403.3" r="1.25"/><circle cx="120.2" cy="403.7" r="1.25"/><circle cx="133.9" cy="403.7" r="1.25"/><circle cx="114.7" cy="404.2" r="1.25"/><circle cx="128.4" cy="404.4" r="1.25"/><circle cx="123.0" cy="405.1" r="1.25"/><circle cx="117.5" cy="405.2" r="1.25"/><circle cx="131.2" cy="405.7" r="1.25"/><circle cx="136.7" cy="405.9" r="1.25"/><circle cx="125.7" cy="406.3" r="1.25"/><circle cx="120.2" cy="406.6" r="1.25"/><circle cx="133.9" cy="406.9" r="1.25"/><circle cx="114.7" cy="407.1" r="1.25"/><circle cx="128.4" cy="407.5" r="1.25"/><circle cx="139.4" cy="407.9" r="1.25"/><circle cx="123.0" cy="408.1" r="1.25"/><circle cx="131.2" cy="408.6" r="1.25"/><circle cx="117.5" cy="408.8" r="1.25"/><circle cx="136.7" cy="408.9" r="1.25"/><circle cx="112.0" cy="408.9" r="1.25"/><circle cx="114.7" cy="409.0" r="1.25"/><circle cx="139.4" cy="409.1" r="1.25"/><circle cx="125.7" cy="409.3" r="1.25"/><circle cx="128.4" cy="409.4" r="1.25"/><circle cx="114.7" cy="409.5" r="1.25"/><circle cx="120.2" cy="409.9" r="1.25"/><circle cx="133.9" cy="409.9" r="1.25"/><circle cx="133.9" cy="410.1" r="1.25"/><circle cx="139.4" cy="410.6" r="1.25"/><circle cx="120.2" cy="410.7" r="1.25"/><circle cx="123.0" cy="412.0" r="1.25"/><circle cx="125.7" cy="412.9" r="1.25"/><circle cx="131.2" cy="413.1" r="1.25"/><circle cx="117.5" cy="413.5" r="1.25"/><circle cx="136.7" cy="413.8" r="1.25"/><circle cx="128.4" cy="414.0" r="1.25"/><circle cx="120.2" cy="414.5" r="1.25"/><circle cx="114.7" cy="414.5" r="1.25"/><circle cx="123.0" cy="415.7" r="1.25"/><circle cx="125.7" cy="416.5" r="1.25"/><circle cx="131.2" cy="417.0" r="1.25"/><circle cx="125.7" cy="420.1" r="1.25"/><circle cx="123.0" cy="421.9" r="1.25"/><circle cx="125.7" cy="423.9" r="1.25"/><circle cx="131.2" cy="424.1" r="1.25"/><circle cx="123.0" cy="425.0" r="1.25"/><circle cx="128.4" cy="425.4" r="1.25"/><circle cx="133.9" cy="425.5" r="1.25"/><circle cx="117.5" cy="425.6" r="1.25"/><circle cx="123.0" cy="425.7" r="1.25"/><circle cx="131.2" cy="425.9" r="1.25"/><circle cx="125.7" cy="427.2" r="1.25"/><circle cx="128.4" cy="428.3" r="1.25"/><circle cx="120.2" cy="428.4" r="1.25"/><circle cx="133.9" cy="428.8" r="1.25"/><circle cx="125.7" cy="431.4" r="1.25"/><circle cx="131.2" cy="431.6" r="1.25"/><circle cx="120.2" cy="431.6" r="1.25"/><circle cx="114.7" cy="432.4" r="1.25"/><circle cx="128.4" cy="432.7" r="1.25"/><circle cx="125.7" cy="435.3" r="1.25"/><circle cx="120.2" cy="435.6" r="1.25"/><circle cx="128.4" cy="436.2" r="1.25"/><circle cx="133.9" cy="436.2" r="1.25"/><circle cx="123.0" cy="436.4" r="1.25"/><circle cx="117.5" cy="436.9" r="1.25"/><circle cx="139.4" cy="437.0" r="1.25"/><circle cx="131.2" cy="437.1" r="1.25"/><circle cx="136.7" cy="437.9" r="1.25"/><circle cx="125.7" cy="438.3" r="1.25"/><circle cx="114.7" cy="438.4" r="1.25"/><circle cx="120.2" cy="438.5" r="1.25"/><circle cx="136.7" cy="439.0" r="1.25"/><circle cx="128.4" cy="440.3" r="1.25"/><circle cx="123.0" cy="440.9" r="1.25"/><circle cx="117.5" cy="441.0" r="1.25"/><circle cx="131.2" cy="441.2" r="1.25"/><circle cx="112.0" cy="441.6" r="1.25"/><circle cx="125.7" cy="441.9" r="1.25"/><circle cx="120.2" cy="442.2" r="1.25"/><circle cx="128.4" cy="444.1" r="1.25"/><circle cx="123.0" cy="444.2" r="1.25"/><circle cx="125.7" cy="445.2" r="1.25"/><circle cx="120.2" cy="445.2" r="1.25"/><circle cx="131.2" cy="445.6" r="1.25"/><circle cx="136.7" cy="445.8" r="1.25"/><circle cx="114.7" cy="445.9" r="1.25"/><circle cx="142.1" cy="446.1" r="1.25"/><circle cx="109.3" cy="446.2" r="1.25"/><circle cx="139.4" cy="446.4" r="1.25"/><circle cx="133.9" cy="446.8" r="1.25"/><circle cx="125.7" cy="448.1" r="1.25"/><circle cx="120.2" cy="448.1" r="1.25"/><circle cx="131.2" cy="448.7" r="1.25"/><circle cx="136.7" cy="448.8" r="1.25"/><circle cx="123.0" cy="449.4" r="1.25"/><circle cx="128.4" cy="450.7" r="1.25"/><circle cx="117.5" cy="450.8" r="1.25"/><circle cx="125.7" cy="452.3" r="1.25"/><circle cx="120.2" cy="452.7" r="1.25"/><circle cx="131.2" cy="452.9" r="1.25"/><circle cx="114.7" cy="453.0" r="1.25"/><circle cx="136.7" cy="453.0" r="1.25"/><circle cx="142.1" cy="453.4" r="1.25"/><circle cx="123.0" cy="453.6" r="1.25"/><circle cx="128.4" cy="453.9" r="1.25"/><circle cx="117.5" cy="454.0" r="1.25"/><circle cx="125.7" cy="455.7" r="1.25"/><circle cx="120.2" cy="455.9" r="1.25"/><circle cx="131.2" cy="456.2" r="1.25"/><circle cx="114.7" cy="456.2" r="1.25"/><circle cx="136.7" cy="456.3" r="1.25"/><circle cx="123.0" cy="456.8" r="1.25"/><circle cx="128.4" cy="457.2" r="1.25"/><circle cx="117.5" cy="457.4" r="1.25"/><circle cx="133.9" cy="457.6" r="1.25"/><circle cx="112.0" cy="457.7" r="1.25"/><circle cx="125.7" cy="458.6" r="1.25"/><circle cx="139.4" cy="458.6" r="1.25"/><circle cx="131.2" cy="459.3" r="1.25"/><circle cx="120.2" cy="459.5" r="1.25"/><circle cx="136.7" cy="459.6" r="1.25"/><circle cx="114.7" cy="459.7" r="1.25"/><circle cx="109.3" cy="459.7" r="1.25"/><circle cx="142.1" cy="459.9" r="1.25"/><circle cx="128.4" cy="460.2" r="1.25"/><circle cx="123.0" cy="460.5" r="1.25"/><circle cx="133.9" cy="461.4" r="1.25"/><circle cx="125.7" cy="461.8" r="1.25"/><circle cx="117.5" cy="462.1" r="1.25"/><circle cx="131.2" cy="462.2" r="1.25"/><circle cx="112.0" cy="462.3" r="1.25"/><circle cx="120.2" cy="463.1" r="1.25"/><circle cx="128.4" cy="463.6" r="1.25"/><circle cx="125.7" cy="465.5" r="1.25"/><circle cx="131.2" cy="465.6" r="1.25"/><circle cx="123.0" cy="466.4" r="1.25"/><circle cx="128.4" cy="466.8" r="1.25"/><circle cx="120.2" cy="467.6" r="1.25"/><circle cx="133.9" cy="467.9" r="1.25"/><circle cx="114.7" cy="468.3" r="1.25"/><circle cx="125.7" cy="468.4" r="1.25"/><circle cx="139.4" cy="468.5" r="1.25"/><circle cx="131.2" cy="468.7" r="1.25"/><circle cx="109.3" cy="468.7" r="1.25"/><circle cx="144.9" cy="468.7" r="1.25"/><circle cx="123.0" cy="468.8" r="1.25"/><circle cx="144.9" cy="468.8" r="1.25"/><circle cx="117.5" cy="469.4" r="1.25"/><circle cx="136.7" cy="469.6" r="1.25"/><circle cx="128.4" cy="470.4" r="1.25"/><circle cx="120.2" cy="470.9" r="1.25"/><circle cx="125.7" cy="471.3" r="1.25"/><circle cx="133.9" cy="471.3" r="1.25"/><circle cx="123.0" cy="472.3" r="1.25"/><circle cx="128.4" cy="473.4" r="1.25"/><circle cx="117.5" cy="473.5" r="1.25"/><circle cx="125.7" cy="474.4" r="1.25"/><circle cx="131.2" cy="474.5" r="1.25"/><circle cx="120.2" cy="474.6" r="1.25"/><circle cx="114.7" cy="474.7" r="1.25"/><circle cx="136.7" cy="474.9" r="1.25"/><circle cx="109.3" cy="475.1" r="1.25"/><circle cx="142.1" cy="475.3" r="1.25"/><circle cx="123.0" cy="475.7" r="1.25"/><circle cx="120.2" cy="475.7" r="1.25"/><circle cx="133.9" cy="475.7" r="1.25"/><circle cx="128.4" cy="476.9" r="1.25"/><circle cx="125.7" cy="478.0" r="1.25"/><circle cx="123.0" cy="478.8" r="1.25"/><circle cx="131.2" cy="479.2" r="1.25"/><circle cx="128.4" cy="480.3" r="1.25"/><circle cx="125.7" cy="481.8" r="1.25"/><circle cx="120.2" cy="481.9" r="1.25"/><circle cx="131.2" cy="482.1" r="1.25"/><circle cx="136.7" cy="482.3" r="1.25"/><circle cx="114.7" cy="482.3" r="1.25"/><circle cx="142.1" cy="482.4" r="1.25"/><circle cx="109.3" cy="482.5" r="1.25"/><circle cx="139.4" cy="482.6" r="1.25"/><circle cx="125.7" cy="485.3" r="1.25"/><circle cx="131.2" cy="485.4" r="1.25"/><circle cx="123.0" cy="487.3" r="1.25"/><circle cx="128.4" cy="488.2" r="1.25"/><circle cx="120.2" cy="488.2" r="1.25"/><circle cx="133.9" cy="488.3" r="1.25"/><circle cx="114.7" cy="488.4" r="1.25"/><circle cx="139.4" cy="488.8" r="1.25"/><circle cx="125.7" cy="489.6" r="1.25"/><circle cx="131.2" cy="489.9" r="1.25"/><circle cx="117.5" cy="490.1" r="1.25"/><circle cx="136.7" cy="490.2" r="1.25"/><circle cx="112.0" cy="490.4" r="1.25"/><circle cx="128.4" cy="491.1" r="1.25"/><circle cx="123.0" cy="491.3" r="1.25"/><circle cx="133.9" cy="491.4" r="1.25"/><circle cx="114.7" cy="492.0" r="1.25"/><circle cx="120.2" cy="492.2" r="1.25"/><circle cx="139.4" cy="492.4" r="1.25"/><circle cx="109.3" cy="492.5" r="1.25"/><circle cx="125.7" cy="492.5" r="1.25"/><circle cx="144.9" cy="492.6" r="1.25"/><circle cx="131.2" cy="492.7" r="1.25"/><circle cx="117.5" cy="493.2" r="1.25"/><circle cx="136.7" cy="493.4" r="1.25"/><circle cx="128.4" cy="494.1" r="1.25"/><circle cx="123.0" cy="494.4" r="1.25"/><circle cx="133.9" cy="494.4" r="1.25"/><circle cx="112.0" cy="494.5" r="1.25"/><circle cx="142.1" cy="494.9" r="1.25"/><circle cx="139.4" cy="495.0" r="1.25"/><circle cx="125.7" cy="496.0" r="1.25"/><circle cx="123.0" cy="498.0" r="1.25"/><circle cx="125.7" cy="499.4" r="1.25"/><circle cx="120.2" cy="499.8" r="1.25"/><circle cx="128.4" cy="500.3" r="1.25"/><circle cx="133.9" cy="500.5" r="1.25"/><circle cx="117.5" cy="500.8" r="1.25"/><circle cx="123.0" cy="501.0" r="1.25"/><circle cx="125.7" cy="502.3" r="1.25"/><circle cx="131.2" cy="502.4" r="1.25"/><circle cx="114.7" cy="502.5" r="1.25"/><circle cx="128.4" cy="503.3" r="1.25"/><circle cx="120.2" cy="503.8" r="1.25"/><circle cx="133.9" cy="504.5" r="1.25"/><circle cx="123.0" cy="504.7" r="1.25"/><circle cx="125.7" cy="505.6" r="1.25"/><circle cx="131.2" cy="505.7" r="1.25"/><circle cx="128.4" cy="506.5" r="1.25"/><circle cx="123.0" cy="507.5" r="1.25"/><circle cx="117.5" cy="508.2" r="1.25"/><circle cx="125.7" cy="509.2" r="1.25"/><circle cx="131.2" cy="509.2" r="1.25"/><circle cx="120.2" cy="509.4" r="1.25"/><circle cx="114.7" cy="509.7" r="1.25"/><circle cx="128.4" cy="510.2" r="1.25"/><circle cx="133.9" cy="510.3" r="1.25"/><circle cx="139.4" cy="510.3" r="1.25"/><circle cx="123.0" cy="511.2" r="1.25"/><circle cx="125.7" cy="512.1" r="1.25"/><circle cx="131.2" cy="512.6" r="1.25"/><circle cx="120.2" cy="513.3" r="1.25"/><circle cx="128.4" cy="514.6" r="1.25"/><circle cx="123.0" cy="514.8" r="1.25"/><circle cx="125.7" cy="515.7" r="1.25"/><circle cx="131.2" cy="516.3" r="1.25"/><circle cx="120.2" cy="516.7" r="1.25"/><circle cx="133.9" cy="517.2" r="1.25"/><circle cx="128.4" cy="517.8" r="1.25"/><circle cx="125.7" cy="518.8" r="1.25"/><circle cx="131.2" cy="519.4" r="1.25"/><circle cx="125.7" cy="524.4" r="1.25"/><circle cx="123.0" cy="525.2" r="1.25"/><circle cx="125.7" cy="530.4" r="1.25"/><circle cx="125.7" cy="530.9" r="1.25"/><circle cx="123.0" cy="531.9" r="1.25"/>
</g>
<g fill="#c4c5c8" stroke="#66686b" stroke-width="1">
<circle cx="178.0" cy="338.4" r="1.25"/><circle cx="180.7" cy="339.3" r="1.25"/><circle cx="178.0" cy="352.3" r="1.25"/><circle cx="175.3" cy="353.1" r="1.25"/><circle cx="178.0" cy="359.4" r="1.25"/><circle cx="175.3" cy="360.7" r="1.25"/><circle cx="180.7" cy="360.8" r="1.25"/><circle cx="183.5" cy="361.6" r="1.25"/><circle cx="178.0" cy="362.8" r="1.25"/><circle cx="175.3" cy="363.6" r="1.25"/><circle cx="180.7" cy="364.7" r="1.25"/><circle cx="178.0" cy="366.7" r="1.25"/><circle cx="175.3" cy="366.9" r="1.25"/><circle cx="183.5" cy="367.2" r="1.25"/><circle cx="172.5" cy="367.4" r="1.25"/><circle cx="180.7" cy="367.8" r="1.25"/><circle cx="178.0" cy="372.1" r="1.25"/><circle cx="178.0" cy="377.1" r="1.25"/><circle cx="175.3" cy="379.6" r="1.25"/><circle cx="178.0" cy="382.7" r="1.25"/><circle cx="175.3" cy="384.0" r="1.25"/><circle cx="178.0" cy="392.1" r="1.25"/><circle cx="175.3" cy="392.9" r="1.25"/><circle cx="180.7" cy="393.0" r="1.25"/><circle cx="178.0" cy="396.1" r="1.25"/><circle cx="175.3" cy="396.6" r="1.25"/><circle cx="178.0" cy="399.4" r="1.25"/><circle cx="175.3" cy="401.4" r="1.25"/><circle cx="180.7" cy="401.5" r="1.25"/><circle cx="178.0" cy="402.5" r="1.25"/><circle cx="175.3" cy="404.1" r="1.25"/><circle cx="180.7" cy="404.6" r="1.25"/><circle cx="178.0" cy="405.8" r="1.25"/><circle cx="178.0" cy="409.7" r="1.25"/><circle cx="178.0" cy="414.4" r="1.25"/><circle cx="180.7" cy="414.4" r="1.25"/><circle cx="175.3" cy="415.8" r="1.25"/><circle cx="178.0" cy="418.3" r="1.25"/><circle cx="175.3" cy="418.6" r="1.25"/><circle cx="178.0" cy="421.4" r="1.25"/><circle cx="180.7" cy="423.5" r="1.25"/><circle cx="178.0" cy="424.2" r="1.25"/><circle cx="175.3" cy="424.7" r="1.25"/><circle cx="183.5" cy="425.2" r="1.25"/><circle cx="172.5" cy="426.1" r="1.25"/><circle cx="186.2" cy="426.2" r="1.25"/><circle cx="180.7" cy="426.2" r="1.25"/><circle cx="169.8" cy="426.8" r="1.25"/><circle cx="178.0" cy="426.9" r="1.25"/><circle cx="189.0" cy="427.3" r="1.25"/><circle cx="175.3" cy="427.8" r="1.25"/><circle cx="183.5" cy="428.0" r="1.25"/><circle cx="167.0" cy="428.2" r="1.25"/><circle cx="180.7" cy="429.2" r="1.25"/><circle cx="178.0" cy="430.7" r="1.25"/><circle cx="175.3" cy="431.1" r="1.25"/><circle cx="172.5" cy="431.3" r="1.25"/><circle cx="183.5" cy="431.7" r="1.25"/><circle cx="180.7" cy="432.0" r="1.25"/><circle cx="186.2" cy="432.4" r="1.25"/><circle cx="169.8" cy="432.4" r="1.25"/><circle cx="178.0" cy="433.4" r="1.25"/><circle cx="175.3" cy="434.2" r="1.25"/><circle cx="172.5" cy="434.3" r="1.25"/><circle cx="180.7" cy="435.3" r="1.25"/><circle cx="183.5" cy="435.6" r="1.25"/><circle cx="178.0" cy="436.4" r="1.25"/><circle cx="175.3" cy="437.8" r="1.25"/><circle cx="180.7" cy="438.1" r="1.25"/><circle cx="172.5" cy="438.8" r="1.25"/><circle cx="178.0" cy="439.5" r="1.25"/><circle cx="183.5" cy="439.9" r="1.25"/><circle cx="169.8" cy="440.1" r="1.25"/><circle cx="186.2" cy="440.4" r="1.25"/><circle cx="175.3" cy="440.8" r="1.25"/><circle cx="180.7" cy="440.9" r="1.25"/><circle cx="172.5" cy="441.9" r="1.25"/><circle cx="178.0" cy="443.7" r="1.25"/><circle cx="175.3" cy="444.0" r="1.25"/><circle cx="180.7" cy="444.2" r="1.25"/><circle cx="183.5" cy="444.5" r="1.25"/><circle cx="172.5" cy="445.3" r="1.25"/><circle cx="186.2" cy="445.8" r="1.25"/><circle cx="169.8" cy="446.3" r="1.25"/><circle cx="178.0" cy="446.4" r="1.25"/><circle cx="175.3" cy="447.0" r="1.25"/><circle cx="180.7" cy="447.6" r="1.25"/><circle cx="183.5" cy="448.1" r="1.25"/><circle cx="172.5" cy="449.1" r="1.25"/><circle cx="178.0" cy="449.4" r="1.25"/><circle cx="175.3" cy="449.8" r="1.25"/><circle cx="186.2" cy="450.0" r="1.25"/><circle cx="169.8" cy="450.1" r="1.25"/><circle cx="167.0" cy="450.2" r="1.25"/><circle cx="180.7" cy="450.6" r="1.25"/><circle cx="183.5" cy="451.4" r="1.25"/><circle cx="189.0" cy="451.6" r="1.25"/><circle cx="191.7" cy="451.7" r="1.25"/><circle cx="164.3" cy="451.8" r="1.25"/><circle cx="172.5" cy="452.0" r="1.25"/><circle cx="178.0" cy="453.0" r="1.25"/><circle cx="175.3" cy="453.2" r="1.25"/><circle cx="180.7" cy="453.8" r="1.25"/><circle cx="183.5" cy="454.3" r="1.25"/><circle cx="186.2" cy="454.5" r="1.25"/><circle cx="169.8" cy="454.6" r="1.25"/><circle cx="172.5" cy="455.0" r="1.25"/><circle cx="189.0" cy="455.5" r="1.25"/><circle cx="178.0" cy="456.0" r="1.25"/><circle cx="175.3" cy="456.3" r="1.25"/><circle cx="180.7" cy="456.8" r="1.25"/><circle cx="183.5" cy="457.1" r="1.25"/><circle cx="186.2" cy="457.2" r="1.25"/><circle cx="169.8" cy="457.4" r="1.25"/><circle cx="167.0" cy="457.4" r="1.25"/><circle cx="164.3" cy="457.5" r="1.25"/><circle cx="172.5" cy="457.7" r="1.25"/><circle cx="178.0" cy="459.0" r="1.25"/><circle cx="175.3" cy="459.2" r="1.25"/><circle cx="189.0" cy="459.4" r="1.25"/><circle cx="191.7" cy="459.5" r="1.25"/><circle cx="194.4" cy="459.5" r="1.25"/><circle cx="180.7" cy="460.3" r="1.25"/><circle cx="183.5" cy="460.5" r="1.25"/><circle cx="172.5" cy="460.7" r="1.25"/><circle cx="169.8" cy="460.7" r="1.25"/><circle cx="186.2" cy="461.6" r="1.25"/><circle cx="178.0" cy="461.8" r="1.25"/><circle cx="167.0" cy="461.8" r="1.25"/><circle cx="175.3" cy="462.0" r="1.25"/><circle cx="189.0" cy="462.2" r="1.25"/><circle cx="164.3" cy="462.7" r="1.25"/><circle cx="191.7" cy="462.8" r="1.25"/><circle cx="180.7" cy="463.3" r="1.25"/><circle cx="172.5" cy="463.5" r="1.25"/><circle cx="183.5" cy="463.7" r="1.25"/><circle cx="169.8" cy="463.8" r="1.25"/><circle cx="186.2" cy="464.4" r="1.25"/><circle cx="178.0" cy="464.8" r="1.25"/><circle cx="175.3" cy="464.8" r="1.25"/><circle cx="167.0" cy="465.4" r="1.25"/><circle cx="180.7" cy="466.3" r="1.25"/><circle cx="183.5" cy="466.4" r="1.25"/><circle cx="172.5" cy="466.5" r="1.25"/><circle cx="169.8" cy="467.0" r="1.25"/><circle cx="186.2" cy="467.4" r="1.25"/><circle cx="189.0" cy="467.4" r="1.25"/><circle cx="178.0" cy="467.6" r="1.25"/><circle cx="175.3" cy="468.0" r="1.25"/><circle cx="164.3" cy="468.0" r="1.25"/><circle cx="191.7" cy="468.0" r="1.25"/><circle cx="167.0" cy="468.3" r="1.25"/><circle cx="180.7" cy="469.0" r="1.25"/><circle cx="172.5" cy="469.4" r="1.25"/><circle cx="183.5" cy="469.6" r="1.25"/><circle cx="178.0" cy="470.4" r="1.25"/><circle cx="175.3" cy="471.6" r="1.25"/><circle cx="180.7" cy="472.5" r="1.25"/><circle cx="183.5" cy="473.0" r="1.25"/><circle cx="178.0" cy="473.3" r="1.25"/><circle cx="172.5" cy="473.3" r="1.25"/><circle cx="169.8" cy="473.4" r="1.25"/><circle cx="186.2" cy="473.8" r="1.25"/><circle cx="167.0" cy="473.9" r="1.25"/><circle cx="189.0" cy="474.0" r="1.25"/><circle cx="164.3" cy="474.2" r="1.25"/><circle cx="191.7" cy="474.2" r="1.25"/><circle cx="175.3" cy="474.5" r="1.25"/><circle cx="194.4" cy="474.5" r="1.25"/><circle cx="180.7" cy="475.3" r="1.25"/><circle cx="161.6" cy="475.4" r="1.25"/><circle cx="183.5" cy="475.8" r="1.25"/><circle cx="178.0" cy="476.1" r="1.25"/><circle cx="172.5" cy="476.5" r="1.25"/><circle cx="175.3" cy="477.5" r="1.25"/><circle cx="180.7" cy="478.3" r="1.25"/><circle cx="169.8" cy="478.5" r="1.25"/><circle cx="183.5" cy="478.8" r="1.25"/><circle cx="186.2" cy="478.8" r="1.25"/><circle cx="178.0" cy="479.1" r="1.25"/><circle cx="172.5" cy="480.1" r="1.25"/><circle cx="180.7" cy="481.1" r="1.25"/><circle cx="175.3" cy="481.7" r="1.25"/><circle cx="178.0" cy="482.0" r="1.25"/><circle cx="183.5" cy="482.2" r="1.25"/><circle cx="186.2" cy="482.3" r="1.25"/><circle cx="169.8" cy="482.3" r="1.25"/><circle cx="172.5" cy="482.8" r="1.25"/><circle cx="167.0" cy="483.8" r="1.25"/><circle cx="180.7" cy="483.9" r="1.25"/><circle cx="178.0" cy="485.4" r="1.25"/><circle cx="175.3" cy="485.6" r="1.25"/><circle cx="180.7" cy="486.7" r="1.25"/><circle cx="178.0" cy="489.1" r="1.25"/><circle cx="175.3" cy="489.8" r="1.25"/><circle cx="180.7" cy="490.4" r="1.25"/><circle cx="183.5" cy="490.5" r="1.25"/><circle cx="172.5" cy="490.5" r="1.25"/><circle cx="186.2" cy="491.4" r="1.25"/><circle cx="169.8" cy="491.7" r="1.25"/><circle cx="178.0" cy="492.0" r="1.25"/><circle cx="167.0" cy="492.3" r="1.25"/><circle cx="175.3" cy="492.5" r="1.25"/><circle cx="189.0" cy="492.6" r="1.25"/><circle cx="164.3" cy="492.7" r="1.25"/><circle cx="191.7" cy="493.0" r="1.25"/><circle cx="186.2" cy="493.0" r="1.25"/><circle cx="180.7" cy="493.4" r="1.25"/><circle cx="183.5" cy="493.8" r="1.25"/><circle cx="172.5" cy="494.2" r="1.25"/><circle cx="178.0" cy="495.0" r="1.25"/><circle cx="169.8" cy="495.0" r="1.25"/><circle cx="175.3" cy="495.6" r="1.25"/><circle cx="180.7" cy="496.2" r="1.25"/><circle cx="186.2" cy="496.3" r="1.25"/><circle cx="183.5" cy="496.7" r="1.25"/><circle cx="172.5" cy="497.0" r="1.25"/><circle cx="189.0" cy="497.2" r="1.25"/><circle cx="167.0" cy="497.6" r="1.25"/><circle cx="178.0" cy="498.1" r="1.25"/><circle cx="169.8" cy="498.3" r="1.25"/><circle cx="180.7" cy="499.0" r="1.25"/><circle cx="175.3" cy="499.1" r="1.25"/><circle cx="186.2" cy="499.1" r="1.25"/><circle cx="164.3" cy="499.3" r="1.25"/><circle cx="191.7" cy="499.4" r="1.25"/><circle cx="172.5" cy="499.9" r="1.25"/><circle cx="183.5" cy="500.3" r="1.25"/><circle cx="189.0" cy="500.6" r="1.25"/><circle cx="178.0" cy="501.3" r="1.25"/><circle cx="169.8" cy="501.3" r="1.25"/><circle cx="167.0" cy="501.5" r="1.25"/><circle cx="175.3" cy="502.1" r="1.25"/><circle cx="180.7" cy="502.2" r="1.25"/><circle cx="172.5" cy="503.4" r="1.25"/><circle cx="183.5" cy="503.9" r="1.25"/><circle cx="178.0" cy="504.3" r="1.25"/><circle cx="186.2" cy="504.4" r="1.25"/><circle cx="169.8" cy="504.4" r="1.25"/><circle cx="189.0" cy="504.6" r="1.25"/><circle cx="175.3" cy="505.0" r="1.25"/><circle cx="180.7" cy="505.1" r="1.25"/><circle cx="167.0" cy="505.5" r="1.25"/><circle cx="164.3" cy="505.5" r="1.25"/><circle cx="191.7" cy="505.6" r="1.25"/><circle cx="172.5" cy="506.3" r="1.25"/><circle cx="172.5" cy="506.4" r="1.25"/><circle cx="178.0" cy="507.1" r="1.25"/><circle cx="183.5" cy="507.2" r="1.25"/><circle cx="186.2" cy="507.2" r="1.25"/><circle cx="180.7" cy="508.1" r="1.25"/><circle cx="175.3" cy="508.3" r="1.25"/><circle cx="169.8" cy="508.9" r="1.25"/><circle cx="172.5" cy="509.7" r="1.25"/><circle cx="178.0" cy="510.1" r="1.25"/><circle cx="175.3" cy="511.7" r="1.25"/><circle cx="178.0" cy="512.9" r="1.25"/><circle cx="180.7" cy="512.9" r="1.25"/><circle cx="183.5" cy="513.1" r="1.25"/><circle cx="172.5" cy="513.6" r="1.25"/><circle cx="169.8" cy="513.9" r="1.25"/><circle cx="186.2" cy="514.2" r="1.25"/><circle cx="175.3" cy="514.4" r="1.25"/><circle cx="178.0" cy="515.6" r="1.25"/><circle cx="180.7" cy="515.7" r="1.25"/><circle cx="167.0" cy="515.8" r="1.25"/><circle cx="183.5" cy="515.9" r="1.25"/><circle cx="189.0" cy="516.0" r="1.25"/><circle cx="172.5" cy="516.3" r="1.25"/><circle cx="175.3" cy="517.7" r="1.25"/><circle cx="169.8" cy="518.0" r="1.25"/><circle cx="178.0" cy="518.3" r="1.25"/><circle cx="186.2" cy="518.4" r="1.25"/><circle cx="180.7" cy="518.5" r="1.25"/><circle cx="183.5" cy="518.8" r="1.25"/><circle cx="172.5" cy="519.8" r="1.25"/><circle cx="189.0" cy="519.9" r="1.25"/><circle cx="167.0" cy="520.1" r="1.25"/><circle cx="164.3" cy="520.4" r="1.25"/><circle cx="175.3" cy="520.5" r="1.25"/><circle cx="178.0" cy="521.5" r="1.25"/><circle cx="180.7" cy="522.3" r="1.25"/><circle cx="172.5" cy="522.8" r="1.25"/><circle cx="178.0" cy="525.2" r="1.25"/><circle cx="180.7" cy="526.1" r="1.25"/><circle cx="175.3" cy="526.1" r="1.25"/><circle cx="172.5" cy="527.0" r="1.25"/><circle cx="183.5" cy="527.5" r="1.25"/><circle cx="169.8" cy="527.7" r="1.25"/><circle cx="178.0" cy="528.0" r="1.25"/><circle cx="175.3" cy="529.7" r="1.25"/><circle cx="180.7" cy="530.4" r="1.25"/><circle cx="178.0" cy="533.7" r="1.25"/>
</g>
<g fill="#cbdcf0" stroke="#4f88ca" stroke-width="1">
<circle cx="234.9" cy="335.6" r="1.25"/><circle cx="230.3" cy="335.6" r="1.25"/><circle cx="221.1" cy="335.6" r="1.25"/><circle cx="230.3" cy="340.2" r="1.25"/><circle cx="221.1" cy="340.2" r="1.25"/><circle cx="234.9" cy="340.2" r="1.25"/><circle cx="225.7" cy="340.2" r="1.25"/><circle cx="239.5" cy="340.2" r="1.25"/><circle cx="241.8" cy="344.8" r="1.25"/><circle cx="228.0" cy="344.8" r="1.25"/><circle cx="232.6" cy="344.8" r="1.25"/><circle cx="218.8" cy="344.8" r="1.25"/><circle cx="237.2" cy="344.8" r="1.25"/><circle cx="228.0" cy="349.4" r="1.25"/><circle cx="237.2" cy="349.4" r="1.25"/><circle cx="232.6" cy="349.4" r="1.25"/><circle cx="241.8" cy="349.4" r="1.25"/><circle cx="232.6" cy="354.0" r="1.25"/><circle cx="228.0" cy="354.0" r="1.25"/><circle cx="223.4" cy="354.0" r="1.25"/><circle cx="239.5" cy="358.6" r="1.25"/><circle cx="225.7" cy="358.6" r="1.25"/><circle cx="230.3" cy="358.6" r="1.25"/><circle cx="234.9" cy="358.6" r="1.25"/><circle cx="228.0" cy="363.2" r="1.25"/><circle cx="232.6" cy="363.2" r="1.25"/><circle cx="237.2" cy="363.2" r="1.25"/><circle cx="223.4" cy="363.2" r="1.25"/><circle cx="234.9" cy="367.8" r="1.25"/><circle cx="225.7" cy="367.8" r="1.25"/><circle cx="230.3" cy="367.8" r="1.25"/><circle cx="223.4" cy="372.4" r="1.25"/><circle cx="232.6" cy="372.4" r="1.25"/><circle cx="228.0" cy="372.4" r="1.25"/><circle cx="228.0" cy="377.0" r="1.25"/><circle cx="232.6" cy="377.0" r="1.25"/><circle cx="223.4" cy="377.0" r="1.25"/><circle cx="218.8" cy="377.0" r="1.25"/><circle cx="237.2" cy="377.0" r="1.25"/><circle cx="232.6" cy="381.6" r="1.25"/><circle cx="241.8" cy="381.6" r="1.25"/><circle cx="223.4" cy="381.6" r="1.25"/><circle cx="237.2" cy="381.6" r="1.25"/><circle cx="228.0" cy="381.6" r="1.25"/><circle cx="232.6" cy="386.2" r="1.25"/><circle cx="241.8" cy="386.2" r="1.25"/><circle cx="237.2" cy="386.2" r="1.25"/><circle cx="218.8" cy="386.2" r="1.25"/><circle cx="223.4" cy="386.2" r="1.25"/><circle cx="223.4" cy="390.8" r="1.25"/><circle cx="237.2" cy="390.8" r="1.25"/><circle cx="228.0" cy="390.8" r="1.25"/><circle cx="228.0" cy="395.4" r="1.25"/><circle cx="237.2" cy="395.4" r="1.25"/><circle cx="241.8" cy="395.4" r="1.25"/><circle cx="232.6" cy="395.4" r="1.25"/><circle cx="232.6" cy="400.0" r="1.25"/><circle cx="218.8" cy="400.0" r="1.25"/><circle cx="237.2" cy="400.0" r="1.25"/><circle cx="232.6" cy="404.6" r="1.25"/><circle cx="228.0" cy="404.6" r="1.25"/><circle cx="223.4" cy="404.6" r="1.25"/><circle cx="218.8" cy="404.6" r="1.25"/><circle cx="230.3" cy="409.2" r="1.25"/><circle cx="234.9" cy="409.2" r="1.25"/><circle cx="216.5" cy="409.2" r="1.25"/><circle cx="221.1" cy="409.2" r="1.25"/><circle cx="239.5" cy="409.2" r="1.25"/><circle cx="228.0" cy="413.8" r="1.25"/><circle cx="237.2" cy="413.8" r="1.25"/><circle cx="223.4" cy="413.8" r="1.25"/><circle cx="232.6" cy="413.8" r="1.25"/><circle cx="230.3" cy="418.4" r="1.25"/><circle cx="239.5" cy="418.4" r="1.25"/><circle cx="232.6" cy="423.0" r="1.25"/><circle cx="237.2" cy="423.0" r="1.25"/><circle cx="228.0" cy="423.0" r="1.25"/><circle cx="232.6" cy="427.6" r="1.25"/><circle cx="228.0" cy="427.6" r="1.25"/><circle cx="223.4" cy="427.6" r="1.25"/><circle cx="237.2" cy="427.6" r="1.25"/><circle cx="232.6" cy="432.2" r="1.25"/><circle cx="223.4" cy="432.2" r="1.25"/><circle cx="228.0" cy="436.8" r="1.25"/><circle cx="232.6" cy="436.8" r="1.25"/><circle cx="223.4" cy="436.8" r="1.25"/><circle cx="230.3" cy="441.4" r="1.25"/><circle cx="234.9" cy="441.4" r="1.25"/><circle cx="225.7" cy="441.4" r="1.25"/><circle cx="221.1" cy="441.4" r="1.25"/><circle cx="225.7" cy="446.0" r="1.25"/><circle cx="221.1" cy="446.0" r="1.25"/><circle cx="230.3" cy="446.0" r="1.25"/><circle cx="244.1" cy="446.0" r="1.25"/><circle cx="216.5" cy="446.0" r="1.25"/><circle cx="234.9" cy="446.0" r="1.25"/><circle cx="239.5" cy="450.6" r="1.25"/><circle cx="244.1" cy="450.6" r="1.25"/><circle cx="221.1" cy="450.6" r="1.25"/><circle cx="230.3" cy="450.6" r="1.25"/><circle cx="216.5" cy="450.6" r="1.25"/><circle cx="234.9" cy="450.6" r="1.25"/><circle cx="234.9" cy="455.2" r="1.25"/><circle cx="239.5" cy="455.2" r="1.25"/><circle cx="230.3" cy="455.2" r="1.25"/><circle cx="216.5" cy="455.2" r="1.25"/><circle cx="230.3" cy="459.8" r="1.25"/><circle cx="239.5" cy="459.8" r="1.25"/><circle cx="225.7" cy="459.8" r="1.25"/><circle cx="234.9" cy="459.8" r="1.25"/><circle cx="225.7" cy="464.4" r="1.25"/><circle cx="234.9" cy="464.4" r="1.25"/><circle cx="230.3" cy="464.4" r="1.25"/><circle cx="239.5" cy="464.4" r="1.25"/><circle cx="216.5" cy="464.4" r="1.25"/><circle cx="239.5" cy="469.0" r="1.25"/><circle cx="230.3" cy="469.0" r="1.25"/><circle cx="244.1" cy="469.0" r="1.25"/><circle cx="216.5" cy="469.0" r="1.25"/><circle cx="225.7" cy="469.0" r="1.25"/><circle cx="232.6" cy="473.6" r="1.25"/><circle cx="237.2" cy="473.6" r="1.25"/><circle cx="228.0" cy="473.6" r="1.25"/><circle cx="223.4" cy="473.6" r="1.25"/><circle cx="241.8" cy="473.6" r="1.25"/><circle cx="228.0" cy="478.2" r="1.25"/><circle cx="218.8" cy="478.2" r="1.25"/><circle cx="232.6" cy="478.2" r="1.25"/><circle cx="237.2" cy="478.2" r="1.25"/><circle cx="223.4" cy="478.2" r="1.25"/><circle cx="230.3" cy="482.8" r="1.25"/><circle cx="234.9" cy="482.8" r="1.25"/><circle cx="221.1" cy="482.8" r="1.25"/><circle cx="234.9" cy="487.4" r="1.25"/><circle cx="239.5" cy="487.4" r="1.25"/><circle cx="225.7" cy="487.4" r="1.25"/><circle cx="230.3" cy="487.4" r="1.25"/><circle cx="221.1" cy="487.4" r="1.25"/><circle cx="225.7" cy="492.0" r="1.25"/><circle cx="230.3" cy="492.0" r="1.25"/><circle cx="234.9" cy="492.0" r="1.25"/><circle cx="221.1" cy="492.0" r="1.25"/><circle cx="228.0" cy="496.6" r="1.25"/><circle cx="232.6" cy="496.6" r="1.25"/><circle cx="237.2" cy="496.6" r="1.25"/><circle cx="223.4" cy="496.6" r="1.25"/><circle cx="228.0" cy="501.2" r="1.25"/><circle cx="232.6" cy="501.2" r="1.25"/><circle cx="237.2" cy="501.2" r="1.25"/><circle cx="225.7" cy="505.8" r="1.25"/><circle cx="230.3" cy="505.8" r="1.25"/><circle cx="234.9" cy="505.8" r="1.25"/><circle cx="230.3" cy="510.4" r="1.25"/><circle cx="232.6" cy="515.0" r="1.25"/><circle cx="228.0" cy="515.0" r="1.25"/><circle cx="230.3" cy="519.6" r="1.25"/>
</g>
<g fill="#9bb2c9" stroke="#446a90" stroke-width="1">
<circle cx="282.6" cy="340.7" r="1.25"/><circle cx="282.6" cy="348.8" r="1.25"/><circle cx="281.4" cy="350.2" r="1.25"/><circle cx="282.6" cy="352.9" r="1.25"/><circle cx="282.6" cy="356.0" r="1.25"/><circle cx="281.4" cy="356.9" r="1.25"/><circle cx="283.8" cy="357.3" r="1.25"/><circle cx="282.6" cy="365.7" r="1.25"/><circle cx="282.6" cy="367.7" r="1.25"/><circle cx="285.0" cy="368.2" r="1.25"/><circle cx="281.4" cy="368.6" r="1.25"/><circle cx="282.6" cy="372.0" r="1.25"/><circle cx="282.6" cy="375.3" r="1.25"/><circle cx="285.0" cy="375.6" r="1.25"/><circle cx="282.6" cy="376.7" r="1.25"/><circle cx="282.6" cy="378.3" r="1.25"/><circle cx="282.6" cy="380.2" r="1.25"/><circle cx="282.6" cy="381.8" r="1.25"/><circle cx="282.6" cy="384.9" r="1.25"/><circle cx="280.2" cy="384.9" r="1.25"/><circle cx="285.0" cy="385.5" r="1.25"/><circle cx="282.6" cy="387.9" r="1.25"/><circle cx="282.6" cy="391.9" r="1.25"/><circle cx="281.4" cy="392.8" r="1.25"/><circle cx="282.6" cy="393.7" r="1.25"/><circle cx="285.0" cy="393.7" r="1.25"/><circle cx="280.2" cy="394.1" r="1.25"/><circle cx="277.8" cy="394.1" r="1.25"/><circle cx="283.8" cy="395.0" r="1.25"/><circle cx="281.4" cy="395.3" r="1.25"/><circle cx="282.6" cy="396.5" r="1.25"/><circle cx="283.8" cy="397.3" r="1.25"/><circle cx="281.4" cy="397.6" r="1.25"/><circle cx="285.0" cy="398.0" r="1.25"/><circle cx="279.0" cy="398.1" r="1.25"/><circle cx="282.6" cy="398.3" r="1.25"/><circle cx="281.4" cy="399.4" r="1.25"/><circle cx="283.8" cy="399.8" r="1.25"/><circle cx="279.0" cy="400.0" r="1.25"/><circle cx="282.6" cy="400.8" r="1.25"/><circle cx="280.2" cy="400.8" r="1.25"/><circle cx="285.0" cy="400.9" r="1.25"/><circle cx="287.4" cy="401.0" r="1.25"/><circle cx="281.4" cy="401.7" r="1.25"/><circle cx="283.8" cy="401.7" r="1.25"/><circle cx="282.6" cy="403.1" r="1.25"/><circle cx="285.0" cy="403.1" r="1.25"/><circle cx="280.2" cy="403.3" r="1.25"/><circle cx="277.8" cy="403.5" r="1.25"/><circle cx="287.4" cy="403.5" r="1.25"/><circle cx="283.8" cy="404.0" r="1.25"/><circle cx="281.4" cy="404.2" r="1.25"/><circle cx="281.4" cy="404.2" r="1.25"/><circle cx="282.6" cy="405.6" r="1.25"/><circle cx="282.6" cy="407.2" r="1.25"/><circle cx="285.0" cy="407.8" r="1.25"/><circle cx="281.4" cy="408.2" r="1.25"/><circle cx="283.8" cy="408.6" r="1.25"/><circle cx="280.2" cy="409.2" r="1.25"/><circle cx="286.2" cy="409.3" r="1.25"/><circle cx="282.6" cy="409.4" r="1.25"/><circle cx="283.8" cy="410.5" r="1.25"/><circle cx="281.4" cy="410.7" r="1.25"/><circle cx="282.6" cy="412.3" r="1.25"/><circle cx="285.0" cy="412.3" r="1.25"/><circle cx="280.2" cy="412.7" r="1.25"/><circle cx="277.8" cy="412.9" r="1.25"/><circle cx="287.4" cy="413.0" r="1.25"/><circle cx="283.8" cy="413.3" r="1.25"/><circle cx="281.4" cy="413.6" r="1.25"/><circle cx="282.6" cy="414.6" r="1.25"/><circle cx="285.0" cy="414.7" r="1.25"/><circle cx="280.2" cy="414.9" r="1.25"/><circle cx="283.8" cy="415.9" r="1.25"/><circle cx="281.4" cy="416.0" r="1.25"/><circle cx="286.2" cy="416.0" r="1.25"/><circle cx="279.0" cy="416.3" r="1.25"/><circle cx="276.6" cy="416.5" r="1.25"/><circle cx="282.6" cy="416.8" r="1.25"/><circle cx="281.4" cy="417.7" r="1.25"/><circle cx="283.8" cy="417.9" r="1.25"/><circle cx="279.0" cy="418.3" r="1.25"/><circle cx="282.6" cy="419.2" r="1.25"/><circle cx="283.8" cy="420.3" r="1.25"/><circle cx="281.4" cy="420.5" r="1.25"/><circle cx="282.6" cy="421.3" r="1.25"/><circle cx="283.8" cy="422.6" r="1.25"/><circle cx="282.6" cy="423.6" r="1.25"/><circle cx="281.4" cy="424.5" r="1.25"/><circle cx="282.6" cy="425.8" r="1.25"/><circle cx="280.2" cy="425.9" r="1.25"/><circle cx="285.0" cy="426.2" r="1.25"/><circle cx="281.4" cy="427.0" r="1.25"/><circle cx="283.8" cy="427.2" r="1.25"/><circle cx="286.2" cy="427.7" r="1.25"/><circle cx="282.6" cy="428.2" r="1.25"/><circle cx="280.2" cy="428.2" r="1.25"/><circle cx="277.8" cy="428.3" r="1.25"/><circle cx="285.0" cy="428.5" r="1.25"/><circle cx="287.4" cy="428.8" r="1.25"/><circle cx="281.4" cy="429.0" r="1.25"/><circle cx="279.0" cy="429.2" r="1.25"/><circle cx="282.6" cy="429.9" r="1.25"/><circle cx="280.2" cy="430.4" r="1.25"/><circle cx="285.0" cy="430.4" r="1.25"/><circle cx="277.8" cy="430.9" r="1.25"/><circle cx="281.4" cy="431.2" r="1.25"/><circle cx="283.8" cy="431.3" r="1.25"/><circle cx="286.2" cy="431.4" r="1.25"/><circle cx="288.6" cy="431.4" r="1.25"/><circle cx="279.0" cy="431.6" r="1.25"/><circle cx="276.6" cy="431.7" r="1.25"/><circle cx="291.0" cy="431.7" r="1.25"/><circle cx="282.6" cy="432.4" r="1.25"/><circle cx="285.0" cy="432.6" r="1.25"/><circle cx="280.2" cy="432.7" r="1.25"/><circle cx="277.8" cy="432.8" r="1.25"/><circle cx="287.4" cy="432.8" r="1.25"/><circle cx="289.8" cy="433.1" r="1.25"/><circle cx="275.4" cy="433.2" r="1.25"/><circle cx="292.2" cy="433.3" r="1.25"/><circle cx="283.8" cy="433.3" r="1.25"/><circle cx="273.0" cy="433.3" r="1.25"/><circle cx="281.4" cy="433.4" r="1.25"/><circle cx="279.0" cy="433.8" r="1.25"/><circle cx="286.2" cy="433.9" r="1.25"/><circle cx="276.6" cy="434.0" r="1.25"/><circle cx="288.6" cy="434.0" r="1.25"/><circle cx="282.6" cy="434.3" r="1.25"/><circle cx="274.2" cy="434.4" r="1.25"/><circle cx="291.0" cy="434.5" r="1.25"/><circle cx="285.0" cy="434.9" r="1.25"/><circle cx="280.2" cy="435.0" r="1.25"/><circle cx="277.8" cy="435.3" r="1.25"/><circle cx="287.4" cy="435.3" r="1.25"/><circle cx="275.4" cy="435.6" r="1.25"/><circle cx="283.8" cy="435.7" r="1.25"/><circle cx="281.4" cy="436.0" r="1.25"/><circle cx="286.2" cy="436.2" r="1.25"/><circle cx="279.0" cy="436.2" r="1.25"/><circle cx="288.6" cy="436.3" r="1.25"/><circle cx="291.0" cy="436.3" r="1.25"/><circle cx="276.6" cy="436.5" r="1.25"/><circle cx="274.2" cy="436.5" r="1.25"/><circle cx="282.6" cy="436.9" r="1.25"/><circle cx="285.0" cy="437.0" r="1.25"/><circle cx="280.2" cy="437.1" r="1.25"/><circle cx="277.8" cy="437.3" r="1.25"/><circle cx="287.4" cy="437.5" r="1.25"/><circle cx="289.8" cy="437.7" r="1.25"/><circle cx="275.4" cy="437.7" r="1.25"/><circle cx="281.4" cy="437.9" r="1.25"/><circle cx="283.8" cy="438.3" r="1.25"/><circle cx="286.2" cy="438.4" r="1.25"/><circle cx="279.0" cy="438.4" r="1.25"/><circle cx="288.6" cy="438.7" r="1.25"/><circle cx="276.6" cy="438.7" r="1.25"/><circle cx="282.6" cy="439.0" r="1.25"/><circle cx="285.0" cy="439.3" r="1.25"/><circle cx="280.2" cy="439.4" r="1.25"/><circle cx="287.4" cy="439.5" r="1.25"/><circle cx="277.8" cy="439.5" r="1.25"/><circle cx="275.4" cy="439.5" r="1.25"/><circle cx="289.8" cy="439.8" r="1.25"/><circle cx="281.4" cy="440.2" r="1.25"/><circle cx="283.8" cy="440.3" r="1.25"/><circle cx="286.2" cy="440.5" r="1.25"/><circle cx="279.0" cy="440.5" r="1.25"/><circle cx="288.6" cy="440.8" r="1.25"/><circle cx="276.6" cy="441.0" r="1.25"/><circle cx="282.6" cy="441.0" r="1.25"/><circle cx="291.0" cy="441.1" r="1.25"/><circle cx="280.2" cy="441.3" r="1.25"/><circle cx="285.0" cy="441.5" r="1.25"/><circle cx="274.2" cy="441.5" r="1.25"/><circle cx="277.8" cy="441.8" r="1.25"/><circle cx="287.4" cy="441.9" r="1.25"/><circle cx="289.8" cy="441.9" r="1.25"/><circle cx="292.2" cy="442.0" r="1.25"/><circle cx="281.4" cy="442.1" r="1.25"/><circle cx="271.8" cy="442.1" r="1.25"/><circle cx="283.8" cy="442.2" r="1.25"/><circle cx="275.4" cy="442.3" r="1.25"/><circle cx="279.0" cy="442.5" r="1.25"/><circle cx="286.2" cy="442.6" r="1.25"/><circle cx="288.6" cy="442.9" r="1.25"/><circle cx="282.6" cy="443.1" r="1.25"/><circle cx="276.6" cy="443.2" r="1.25"/><circle cx="274.2" cy="443.2" r="1.25"/><circle cx="285.0" cy="443.4" r="1.25"/><circle cx="280.2" cy="443.5" r="1.25"/><circle cx="287.4" cy="443.7" r="1.25"/><circle cx="289.8" cy="443.8" r="1.25"/><circle cx="283.8" cy="444.1" r="1.25"/><circle cx="277.8" cy="444.1" r="1.25"/><circle cx="281.4" cy="444.3" r="1.25"/><circle cx="275.4" cy="444.4" r="1.25"/><circle cx="286.2" cy="444.6" r="1.25"/><circle cx="288.6" cy="444.8" r="1.25"/><circle cx="279.0" cy="444.9" r="1.25"/><circle cx="282.6" cy="445.1" r="1.25"/><circle cx="285.0" cy="445.5" r="1.25"/><circle cx="276.6" cy="445.5" r="1.25"/><circle cx="274.2" cy="445.5" r="1.25"/><circle cx="280.2" cy="445.8" r="1.25"/><circle cx="287.4" cy="445.9" r="1.25"/><circle cx="289.8" cy="446.1" r="1.25"/><circle cx="292.2" cy="446.1" r="1.25"/><circle cx="271.8" cy="446.2" r="1.25"/><circle cx="294.6" cy="446.2" r="1.25"/><circle cx="283.8" cy="446.2" r="1.25"/><circle cx="277.8" cy="446.4" r="1.25"/><circle cx="281.4" cy="446.8" r="1.25"/><circle cx="286.2" cy="446.9" r="1.25"/><circle cx="279.0" cy="447.5" r="1.25"/><circle cx="276.6" cy="447.6" r="1.25"/><circle cx="282.6" cy="447.6" r="1.25"/><circle cx="288.6" cy="447.6" r="1.25"/><circle cx="280.2" cy="448.2" r="1.25"/><circle cx="283.8" cy="448.5" r="1.25"/><circle cx="286.2" cy="448.7" r="1.25"/><circle cx="281.4" cy="449.0" r="1.25"/><circle cx="279.0" cy="449.0" r="1.25"/><circle cx="288.6" cy="449.1" r="1.25"/><circle cx="276.6" cy="449.1" r="1.25"/><circle cx="291.0" cy="449.2" r="1.25"/><circle cx="274.2" cy="449.3" r="1.25"/><circle cx="271.8" cy="449.4" r="1.25"/><circle cx="282.6" cy="449.7" r="1.25"/><circle cx="285.0" cy="450.0" r="1.25"/><circle cx="280.2" cy="450.0" r="1.25"/><circle cx="277.8" cy="450.2" r="1.25"/><circle cx="287.4" cy="450.2" r="1.25"/><circle cx="289.8" cy="450.4" r="1.25"/><circle cx="275.4" cy="450.6" r="1.25"/><circle cx="273.0" cy="450.6" r="1.25"/><circle cx="283.8" cy="450.8" r="1.25"/><circle cx="281.4" cy="450.8" r="1.25"/><circle cx="279.0" cy="451.2" r="1.25"/><circle cx="286.2" cy="451.3" r="1.25"/><circle cx="276.6" cy="451.4" r="1.25"/><circle cx="282.6" cy="451.6" r="1.25"/><circle cx="288.6" cy="451.9" r="1.25"/><circle cx="280.2" cy="451.9" r="1.25"/><circle cx="285.0" cy="452.1" r="1.25"/><circle cx="274.2" cy="452.1" r="1.25"/><circle cx="277.8" cy="452.2" r="1.25"/><circle cx="291.0" cy="452.6" r="1.25"/><circle cx="282.6" cy="453.1" r="1.25"/><circle cx="286.2" cy="453.2" r="1.25"/><circle cx="279.0" cy="453.2" r="1.25"/><circle cx="276.6" cy="453.2" r="1.25"/><circle cx="288.6" cy="453.3" r="1.25"/><circle cx="292.2" cy="453.4" r="1.25"/><circle cx="274.2" cy="453.6" r="1.25"/><circle cx="271.8" cy="453.6" r="1.25"/><circle cx="283.8" cy="453.9" r="1.25"/><circle cx="281.4" cy="453.9" r="1.25"/><circle cx="277.8" cy="454.0" r="1.25"/><circle cx="287.4" cy="454.2" r="1.25"/><circle cx="289.8" cy="454.5" r="1.25"/><circle cx="275.4" cy="454.5" r="1.25"/><circle cx="273.0" cy="454.6" r="1.25"/><circle cx="293.4" cy="454.6" r="1.25"/><circle cx="282.6" cy="454.9" r="1.25"/><circle cx="280.2" cy="455.2" r="1.25"/><circle cx="285.0" cy="455.4" r="1.25"/><circle cx="288.6" cy="455.4" r="1.25"/><circle cx="277.8" cy="455.7" r="1.25"/><circle cx="291.0" cy="455.8" r="1.25"/><circle cx="283.8" cy="456.1" r="1.25"/><circle cx="281.4" cy="456.1" r="1.25"/><circle cx="286.2" cy="456.1" r="1.25"/><circle cx="275.4" cy="456.2" r="1.25"/><circle cx="273.0" cy="456.4" r="1.25"/><circle cx="293.4" cy="456.4" r="1.25"/><circle cx="282.6" cy="457.4" r="1.25"/><circle cx="285.0" cy="457.4" r="1.25"/><circle cx="280.2" cy="457.5" r="1.25"/><circle cx="277.8" cy="457.6" r="1.25"/><circle cx="287.4" cy="457.7" r="1.25"/><circle cx="275.4" cy="457.7" r="1.25"/><circle cx="289.8" cy="457.9" r="1.25"/><circle cx="292.2" cy="458.0" r="1.25"/><circle cx="273.0" cy="458.1" r="1.25"/><circle cx="270.6" cy="458.1" r="1.25"/><circle cx="283.8" cy="458.5" r="1.25"/><circle cx="281.4" cy="458.6" r="1.25"/><circle cx="279.0" cy="458.6" r="1.25"/><circle cx="282.6" cy="459.3" r="1.25"/><circle cx="280.2" cy="459.6" r="1.25"/><circle cx="285.0" cy="460.0" r="1.25"/><circle cx="277.8" cy="460.2" r="1.25"/><circle cx="287.4" cy="460.3" r="1.25"/><circle cx="289.8" cy="460.3" r="1.25"/><circle cx="281.4" cy="460.4" r="1.25"/><circle cx="275.4" cy="460.4" r="1.25"/><circle cx="273.0" cy="460.4" r="1.25"/><circle cx="292.2" cy="460.6" r="1.25"/><circle cx="270.6" cy="460.7" r="1.25"/><circle cx="294.6" cy="460.7" r="1.25"/><circle cx="283.8" cy="460.8" r="1.25"/><circle cx="279.0" cy="460.9" r="1.25"/><circle cx="293.4" cy="460.9" r="1.25"/><circle cx="286.2" cy="461.0" r="1.25"/><circle cx="276.6" cy="461.5" r="1.25"/><circle cx="282.6" cy="461.8" r="1.25"/><circle cx="280.2" cy="462.0" r="1.25"/><circle cx="285.0" cy="462.0" r="1.25"/><circle cx="277.8" cy="462.4" r="1.25"/><circle cx="287.4" cy="462.6" r="1.25"/><circle cx="281.4" cy="462.9" r="1.25"/><circle cx="283.8" cy="463.5" r="1.25"/><circle cx="279.0" cy="463.6" r="1.25"/><circle cx="286.2" cy="463.6" r="1.25"/><circle cx="282.6" cy="464.2" r="1.25"/><circle cx="288.6" cy="464.3" r="1.25"/><circle cx="276.6" cy="464.3" r="1.25"/><circle cx="280.2" cy="464.3" r="1.25"/><circle cx="285.0" cy="464.4" r="1.25"/><circle cx="291.0" cy="464.4" r="1.25"/><circle cx="274.2" cy="464.5" r="1.25"/><circle cx="293.4" cy="464.5" r="1.25"/><circle cx="271.8" cy="464.5" r="1.25"/><circle cx="295.8" cy="464.5" r="1.25"/><circle cx="269.4" cy="464.7" r="1.25"/><circle cx="280.2" cy="464.8" r="1.25"/><circle cx="277.8" cy="465.0" r="1.25"/><circle cx="283.8" cy="465.3" r="1.25"/><circle cx="286.2" cy="465.3" r="1.25"/><circle cx="289.8" cy="465.4" r="1.25"/><circle cx="281.4" cy="465.5" r="1.25"/><circle cx="285.0" cy="466.1" r="1.25"/><circle cx="279.0" cy="466.1" r="1.25"/><circle cx="287.4" cy="466.1" r="1.25"/><circle cx="276.6" cy="466.1" r="1.25"/><circle cx="291.0" cy="466.2" r="1.25"/><circle cx="282.6" cy="466.3" r="1.25"/><circle cx="274.2" cy="466.6" r="1.25"/><circle cx="293.4" cy="466.6" r="1.25"/><circle cx="271.8" cy="466.7" r="1.25"/><circle cx="280.2" cy="466.9" r="1.25"/><circle cx="283.8" cy="467.2" r="1.25"/><circle cx="286.2" cy="467.2" r="1.25"/><circle cx="277.8" cy="467.5" r="1.25"/><circle cx="288.6" cy="467.6" r="1.25"/><circle cx="275.4" cy="467.6" r="1.25"/><circle cx="281.4" cy="467.7" r="1.25"/><circle cx="285.0" cy="468.2" r="1.25"/><circle cx="282.6" cy="468.4" r="1.25"/><circle cx="280.2" cy="468.5" r="1.25"/><circle cx="287.4" cy="468.6" r="1.25"/><circle cx="276.6" cy="468.8" r="1.25"/><circle cx="289.8" cy="468.9" r="1.25"/><circle cx="274.2" cy="469.0" r="1.25"/><circle cx="292.2" cy="469.0" r="1.25"/><circle cx="271.8" cy="469.1" r="1.25"/><circle cx="281.4" cy="469.3" r="1.25"/><circle cx="283.8" cy="469.3" r="1.25"/><circle cx="279.0" cy="469.6" r="1.25"/><circle cx="286.2" cy="469.8" r="1.25"/><circle cx="282.6" cy="470.3" r="1.25"/><circle cx="280.2" cy="470.4" r="1.25"/><circle cx="277.8" cy="470.4" r="1.25"/><circle cx="285.0" cy="470.7" r="1.25"/><circle cx="287.4" cy="470.8" r="1.25"/><circle cx="275.4" cy="470.9" r="1.25"/><circle cx="289.8" cy="470.9" r="1.25"/><circle cx="292.2" cy="471.0" r="1.25"/><circle cx="273.0" cy="471.0" r="1.25"/><circle cx="281.4" cy="471.4" r="1.25"/><circle cx="283.8" cy="471.6" r="1.25"/><circle cx="279.0" cy="471.6" r="1.25"/><circle cx="286.2" cy="471.7" r="1.25"/><circle cx="288.6" cy="471.9" r="1.25"/><circle cx="276.6" cy="471.9" r="1.25"/><circle cx="274.2" cy="472.0" r="1.25"/><circle cx="291.0" cy="472.1" r="1.25"/><circle cx="271.8" cy="472.1" r="1.25"/><circle cx="293.4" cy="472.2" r="1.25"/><circle cx="269.4" cy="472.3" r="1.25"/><circle cx="282.6" cy="472.5" r="1.25"/><circle cx="280.2" cy="472.7" r="1.25"/><circle cx="285.0" cy="472.8" r="1.25"/><circle cx="287.4" cy="473.0" r="1.25"/><circle cx="277.8" cy="473.1" r="1.25"/><circle cx="275.4" cy="473.1" r="1.25"/><circle cx="289.8" cy="473.2" r="1.25"/><circle cx="273.0" cy="473.3" r="1.25"/><circle cx="292.2" cy="473.3" r="1.25"/><circle cx="270.6" cy="473.3" r="1.25"/><circle cx="294.6" cy="473.4" r="1.25"/><circle cx="281.4" cy="473.7" r="1.25"/><circle cx="283.8" cy="473.8" r="1.25"/><circle cx="279.0" cy="473.9" r="1.25"/><circle cx="286.2" cy="474.4" r="1.25"/><circle cx="288.6" cy="474.4" r="1.25"/><circle cx="276.6" cy="474.4" r="1.25"/><circle cx="274.2" cy="474.5" r="1.25"/><circle cx="282.6" cy="474.5" r="1.25"/><circle cx="280.2" cy="474.7" r="1.25"/><circle cx="291.0" cy="474.8" r="1.25"/><circle cx="293.4" cy="475.0" r="1.25"/><circle cx="285.0" cy="475.1" r="1.25"/><circle cx="277.8" cy="475.2" r="1.25"/><circle cx="287.4" cy="475.2" r="1.25"/><circle cx="275.4" cy="475.3" r="1.25"/><circle cx="273.0" cy="475.5" r="1.25"/><circle cx="270.6" cy="475.5" r="1.25"/><circle cx="281.4" cy="475.6" r="1.25"/><circle cx="289.8" cy="475.7" r="1.25"/><circle cx="283.8" cy="475.9" r="1.25"/><circle cx="279.0" cy="475.9" r="1.25"/><circle cx="286.2" cy="476.1" r="1.25"/><circle cx="276.6" cy="476.1" r="1.25"/><circle cx="292.2" cy="476.2" r="1.25"/><circle cx="274.2" cy="476.3" r="1.25"/><circle cx="288.6" cy="476.6" r="1.25"/><circle cx="282.6" cy="476.7" r="1.25"/><circle cx="280.2" cy="476.8" r="1.25"/><circle cx="285.0" cy="476.8" r="1.25"/><circle cx="277.8" cy="476.8" r="1.25"/><circle cx="291.0" cy="477.0" r="1.25"/><circle cx="275.4" cy="477.2" r="1.25"/><circle cx="287.4" cy="477.5" r="1.25"/><circle cx="273.0" cy="477.5" r="1.25"/><circle cx="283.8" cy="477.7" r="1.25"/><circle cx="281.4" cy="477.8" r="1.25"/><circle cx="279.0" cy="477.8" r="1.25"/><circle cx="289.8" cy="477.8" r="1.25"/><circle cx="292.2" cy="477.9" r="1.25"/><circle cx="276.6" cy="478.0" r="1.25"/><circle cx="270.6" cy="478.1" r="1.25"/><circle cx="294.6" cy="478.2" r="1.25"/><circle cx="286.2" cy="478.3" r="1.25"/><circle cx="274.2" cy="478.4" r="1.25"/><circle cx="297.0" cy="478.5" r="1.25"/><circle cx="282.6" cy="478.5" r="1.25"/><circle cx="280.2" cy="478.8" r="1.25"/><circle cx="277.8" cy="478.9" r="1.25"/><circle cx="285.0" cy="479.1" r="1.25"/><circle cx="287.4" cy="479.3" r="1.25"/><circle cx="275.4" cy="479.3" r="1.25"/><circle cx="289.8" cy="479.5" r="1.25"/><circle cx="281.4" cy="479.6" r="1.25"/><circle cx="279.0" cy="479.7" r="1.25"/><circle cx="292.2" cy="479.8" r="1.25"/><circle cx="283.8" cy="480.1" r="1.25"/><circle cx="286.2" cy="480.1" r="1.25"/><circle cx="276.6" cy="480.2" r="1.25"/><circle cx="280.2" cy="480.5" r="1.25"/><circle cx="288.6" cy="480.6" r="1.25"/><circle cx="282.6" cy="480.8" r="1.25"/><circle cx="285.0" cy="480.8" r="1.25"/><circle cx="274.2" cy="480.9" r="1.25"/><circle cx="291.0" cy="480.9" r="1.25"/><circle cx="277.8" cy="480.9" r="1.25"/><circle cx="271.8" cy="480.9" r="1.25"/><circle cx="293.4" cy="481.0" r="1.25"/><circle cx="269.4" cy="481.0" r="1.25"/><circle cx="295.8" cy="481.1" r="1.25"/><circle cx="294.6" cy="481.2" r="1.25"/><circle cx="287.4" cy="481.4" r="1.25"/><circle cx="283.8" cy="481.4" r="1.25"/><circle cx="281.4" cy="481.9" r="1.25"/><circle cx="279.0" cy="482.0" r="1.25"/><circle cx="276.6" cy="482.1" r="1.25"/><circle cx="286.2" cy="482.2" r="1.25"/><circle cx="288.6" cy="482.2" r="1.25"/><circle cx="292.2" cy="482.3" r="1.25"/><circle cx="274.2" cy="482.4" r="1.25"/><circle cx="282.6" cy="482.7" r="1.25"/><circle cx="280.2" cy="482.8" r="1.25"/><circle cx="285.0" cy="482.9" r="1.25"/><circle cx="287.4" cy="483.1" r="1.25"/><circle cx="277.8" cy="483.2" r="1.25"/><circle cx="289.8" cy="483.4" r="1.25"/><circle cx="281.4" cy="483.6" r="1.25"/><circle cx="282.6" cy="484.6" r="1.25"/><circle cx="280.2" cy="484.7" r="1.25"/><circle cx="285.0" cy="484.9" r="1.25"/><circle cx="277.8" cy="485.1" r="1.25"/><circle cx="281.4" cy="485.5" r="1.25"/><circle cx="283.8" cy="485.7" r="1.25"/><circle cx="286.2" cy="485.8" r="1.25"/><circle cx="279.0" cy="486.0" r="1.25"/><circle cx="288.6" cy="486.2" r="1.25"/><circle cx="276.6" cy="486.2" r="1.25"/><circle cx="291.0" cy="486.4" r="1.25"/><circle cx="282.6" cy="486.5" r="1.25"/><circle cx="274.2" cy="486.5" r="1.25"/><circle cx="293.4" cy="486.6" r="1.25"/><circle cx="285.0" cy="486.6" r="1.25"/><circle cx="271.8" cy="486.7" r="1.25"/><circle cx="280.2" cy="486.7" r="1.25"/><circle cx="295.8" cy="486.7" r="1.25"/><circle cx="269.4" cy="486.7" r="1.25"/><circle cx="267.0" cy="486.8" r="1.25"/><circle cx="298.2" cy="486.8" r="1.25"/><circle cx="285.0" cy="486.8" r="1.25"/><circle cx="287.4" cy="486.9" r="1.25"/><circle cx="277.8" cy="486.9" r="1.25"/><circle cx="289.8" cy="487.1" r="1.25"/><circle cx="298.2" cy="487.2" r="1.25"/><circle cx="275.4" cy="487.2" r="1.25"/><circle cx="292.2" cy="487.3" r="1.25"/><circle cx="270.6" cy="487.4" r="1.25"/><circle cx="281.4" cy="487.4" r="1.25"/><circle cx="273.0" cy="487.5" r="1.25"/><circle cx="283.8" cy="487.7" r="1.25"/><circle cx="279.0" cy="487.8" r="1.25"/><circle cx="286.2" cy="487.9" r="1.25"/><circle cx="276.6" cy="488.0" r="1.25"/><circle cx="288.6" cy="488.2" r="1.25"/><circle cx="291.0" cy="488.3" r="1.25"/><circle cx="274.2" cy="488.3" r="1.25"/><circle cx="271.8" cy="488.3" r="1.25"/><circle cx="293.4" cy="488.4" r="1.25"/><circle cx="269.4" cy="488.4" r="1.25"/><circle cx="295.8" cy="488.4" r="1.25"/><circle cx="267.0" cy="488.4" r="1.25"/><circle cx="282.6" cy="488.9" r="1.25"/><circle cx="280.2" cy="489.1" r="1.25"/><circle cx="285.0" cy="489.1" r="1.25"/><circle cx="287.4" cy="489.1" r="1.25"/><circle cx="277.8" cy="489.2" r="1.25"/><circle cx="289.8" cy="489.3" r="1.25"/><circle cx="275.4" cy="489.3" r="1.25"/><circle cx="292.2" cy="489.3" r="1.25"/><circle cx="273.0" cy="489.5" r="1.25"/><circle cx="294.6" cy="489.5" r="1.25"/><circle cx="270.6" cy="489.7" r="1.25"/><circle cx="268.2" cy="489.8" r="1.25"/><circle cx="281.4" cy="489.9" r="1.25"/><circle cx="283.8" cy="490.0" r="1.25"/><circle cx="279.0" cy="490.1" r="1.25"/><circle cx="286.2" cy="490.1" r="1.25"/><circle cx="276.6" cy="490.4" r="1.25"/><circle cx="288.6" cy="490.5" r="1.25"/><circle cx="291.0" cy="490.5" r="1.25"/><circle cx="274.2" cy="490.5" r="1.25"/><circle cx="271.8" cy="490.6" r="1.25"/><circle cx="293.4" cy="490.7" r="1.25"/><circle cx="282.6" cy="490.8" r="1.25"/><circle cx="285.0" cy="491.0" r="1.25"/><circle cx="280.2" cy="491.1" r="1.25"/><circle cx="277.8" cy="491.2" r="1.25"/><circle cx="287.4" cy="491.3" r="1.25"/><circle cx="289.8" cy="491.5" r="1.25"/><circle cx="275.4" cy="491.6" r="1.25"/><circle cx="292.2" cy="491.7" r="1.25"/><circle cx="283.8" cy="491.7" r="1.25"/><circle cx="273.0" cy="491.7" r="1.25"/><circle cx="270.6" cy="491.8" r="1.25"/><circle cx="281.4" cy="491.9" r="1.25"/><circle cx="279.0" cy="491.9" r="1.25"/><circle cx="286.2" cy="492.1" r="1.25"/><circle cx="288.6" cy="492.3" r="1.25"/><circle cx="276.6" cy="492.4" r="1.25"/><circle cx="291.0" cy="492.4" r="1.25"/><circle cx="293.4" cy="492.5" r="1.25"/><circle cx="274.2" cy="492.5" r="1.25"/><circle cx="295.8" cy="492.5" r="1.25"/><circle cx="282.6" cy="492.6" r="1.25"/><circle cx="280.2" cy="492.6" r="1.25"/><circle cx="285.0" cy="492.8" r="1.25"/><circle cx="271.8" cy="492.9" r="1.25"/><circle cx="269.4" cy="492.9" r="1.25"/><circle cx="298.2" cy="492.9" r="1.25"/><circle cx="267.0" cy="492.9" r="1.25"/><circle cx="300.6" cy="493.0" r="1.25"/><circle cx="264.6" cy="493.0" r="1.25"/><circle cx="287.4" cy="493.0" r="1.25"/><circle cx="292.2" cy="493.1" r="1.25"/><circle cx="277.8" cy="493.2" r="1.25"/><circle cx="289.8" cy="493.2" r="1.25"/><circle cx="275.4" cy="493.3" r="1.25"/><circle cx="294.6" cy="493.3" r="1.25"/><circle cx="281.4" cy="493.5" r="1.25"/><circle cx="283.8" cy="493.6" r="1.25"/><circle cx="270.6" cy="493.6" r="1.25"/><circle cx="273.0" cy="493.6" r="1.25"/><circle cx="297.0" cy="493.7" r="1.25"/><circle cx="268.2" cy="493.7" r="1.25"/><circle cx="279.0" cy="493.9" r="1.25"/><circle cx="286.2" cy="494.0" r="1.25"/><circle cx="288.6" cy="494.0" r="1.25"/><circle cx="291.0" cy="494.0" r="1.25"/><circle cx="276.6" cy="494.1" r="1.25"/><circle cx="293.4" cy="494.1" r="1.25"/><circle cx="299.4" cy="494.2" r="1.25"/><circle cx="265.8" cy="494.3" r="1.25"/><circle cx="282.6" cy="494.4" r="1.25"/><circle cx="274.2" cy="494.5" r="1.25"/><circle cx="280.2" cy="494.7" r="1.25"/><circle cx="271.8" cy="494.7" r="1.25"/><circle cx="285.0" cy="494.7" r="1.25"/><circle cx="287.4" cy="494.7" r="1.25"/><circle cx="289.8" cy="494.7" r="1.25"/><circle cx="295.8" cy="494.8" r="1.25"/><circle cx="277.8" cy="494.9" r="1.25"/><circle cx="292.2" cy="494.9" r="1.25"/><circle cx="269.4" cy="495.0" r="1.25"/><circle cx="298.2" cy="495.0" r="1.25"/><circle cx="267.0" cy="495.1" r="1.25"/><circle cx="300.6" cy="495.2" r="1.25"/><circle cx="275.4" cy="495.2" r="1.25"/><circle cx="264.6" cy="495.3" r="1.25"/><circle cx="283.8" cy="495.6" r="1.25"/><circle cx="281.4" cy="495.6" r="1.25"/><circle cx="286.2" cy="495.7" r="1.25"/><circle cx="279.0" cy="495.8" r="1.25"/><circle cx="288.6" cy="495.9" r="1.25"/><circle cx="276.6" cy="495.9" r="1.25"/><circle cx="274.2" cy="496.1" r="1.25"/><circle cx="291.0" cy="496.2" r="1.25"/><circle cx="293.4" cy="496.2" r="1.25"/><circle cx="271.8" cy="496.3" r="1.25"/><circle cx="282.6" cy="496.4" r="1.25"/><circle cx="295.8" cy="496.4" r="1.25"/><circle cx="285.0" cy="496.5" r="1.25"/><circle cx="269.4" cy="496.5" r="1.25"/><circle cx="280.2" cy="496.6" r="1.25"/><circle cx="277.8" cy="496.7" r="1.25"/><circle cx="287.4" cy="496.7" r="1.25"/><circle cx="275.4" cy="496.8" r="1.25"/><circle cx="267.0" cy="496.8" r="1.25"/><circle cx="289.8" cy="496.9" r="1.25"/><circle cx="292.2" cy="497.0" r="1.25"/><circle cx="273.0" cy="497.0" r="1.25"/><circle cx="298.2" cy="497.1" r="1.25"/><circle cx="300.6" cy="497.1" r="1.25"/><circle cx="294.6" cy="497.2" r="1.25"/><circle cx="264.6" cy="497.2" r="1.25"/><circle cx="303.0" cy="497.2" r="1.25"/><circle cx="281.4" cy="497.5" r="1.25"/><circle cx="283.8" cy="497.6" r="1.25"/><circle cx="279.0" cy="497.6" r="1.25"/><circle cx="286.2" cy="497.8" r="1.25"/><circle cx="276.6" cy="497.9" r="1.25"/><circle cx="288.6" cy="498.2" r="1.25"/><circle cx="274.2" cy="498.2" r="1.25"/><circle cx="291.0" cy="498.2" r="1.25"/><circle cx="271.8" cy="498.2" r="1.25"/><circle cx="293.4" cy="498.3" r="1.25"/><circle cx="295.8" cy="498.3" r="1.25"/><circle cx="282.6" cy="498.4" r="1.25"/><circle cx="280.2" cy="498.5" r="1.25"/><circle cx="285.0" cy="498.6" r="1.25"/><circle cx="277.8" cy="498.7" r="1.25"/><circle cx="269.4" cy="498.8" r="1.25"/><circle cx="287.4" cy="498.9" r="1.25"/><circle cx="289.8" cy="498.9" r="1.25"/><circle cx="275.4" cy="499.1" r="1.25"/><circle cx="292.2" cy="499.1" r="1.25"/><circle cx="273.0" cy="499.1" r="1.25"/><circle cx="294.6" cy="499.1" r="1.25"/><circle cx="281.4" cy="499.2" r="1.25"/><circle cx="297.0" cy="499.3" r="1.25"/><circle cx="267.0" cy="499.3" r="1.25"/><circle cx="283.8" cy="499.4" r="1.25"/><circle cx="279.0" cy="499.4" r="1.25"/><circle cx="299.4" cy="499.4" r="1.25"/><circle cx="270.6" cy="499.6" r="1.25"/><circle cx="286.2" cy="499.7" r="1.25"/><circle cx="288.6" cy="499.8" r="1.25"/><circle cx="276.6" cy="499.8" r="1.25"/><circle cx="291.0" cy="499.9" r="1.25"/><circle cx="274.2" cy="500.0" r="1.25"/><circle cx="293.4" cy="500.1" r="1.25"/><circle cx="282.6" cy="500.1" r="1.25"/><circle cx="295.8" cy="500.1" r="1.25"/><circle cx="268.2" cy="500.1" r="1.25"/><circle cx="280.2" cy="500.4" r="1.25"/><circle cx="271.8" cy="500.4" r="1.25"/><circle cx="285.0" cy="500.4" r="1.25"/><circle cx="277.8" cy="500.6" r="1.25"/><circle cx="287.4" cy="500.7" r="1.25"/><circle cx="289.8" cy="500.9" r="1.25"/><circle cx="281.4" cy="501.1" r="1.25"/><circle cx="275.4" cy="501.1" r="1.25"/><circle cx="283.8" cy="501.2" r="1.25"/><circle cx="273.0" cy="501.3" r="1.25"/><circle cx="292.2" cy="501.3" r="1.25"/><circle cx="279.0" cy="501.4" r="1.25"/><circle cx="286.2" cy="501.4" r="1.25"/><circle cx="294.6" cy="501.5" r="1.25"/><circle cx="270.6" cy="501.6" r="1.25"/><circle cx="288.6" cy="501.6" r="1.25"/><circle cx="297.0" cy="501.7" r="1.25"/><circle cx="268.2" cy="501.7" r="1.25"/><circle cx="265.8" cy="501.8" r="1.25"/><circle cx="299.4" cy="501.8" r="1.25"/><circle cx="282.6" cy="501.9" r="1.25"/><circle cx="280.2" cy="502.3" r="1.25"/><circle cx="285.0" cy="502.3" r="1.25"/><circle cx="277.8" cy="502.3" r="1.25"/><circle cx="287.4" cy="502.4" r="1.25"/><circle cx="289.8" cy="502.4" r="1.25"/><circle cx="274.2" cy="502.5" r="1.25"/><circle cx="293.4" cy="502.5" r="1.25"/><circle cx="271.8" cy="502.7" r="1.25"/><circle cx="269.4" cy="502.7" r="1.25"/><circle cx="295.8" cy="502.8" r="1.25"/><circle cx="298.2" cy="502.8" r="1.25"/><circle cx="267.0" cy="503.0" r="1.25"/><circle cx="283.8" cy="503.0" r="1.25"/><circle cx="281.4" cy="503.1" r="1.25"/><circle cx="279.0" cy="503.1" r="1.25"/><circle cx="286.2" cy="503.3" r="1.25"/><circle cx="276.6" cy="503.4" r="1.25"/><circle cx="288.6" cy="503.4" r="1.25"/><circle cx="291.0" cy="503.5" r="1.25"/><circle cx="273.0" cy="503.7" r="1.25"/><circle cx="270.6" cy="503.7" r="1.25"/><circle cx="282.6" cy="503.9" r="1.25"/><circle cx="280.2" cy="504.0" r="1.25"/><circle cx="285.0" cy="504.1" r="1.25"/><circle cx="277.8" cy="504.1" r="1.25"/><circle cx="287.4" cy="504.2" r="1.25"/><circle cx="289.8" cy="504.4" r="1.25"/><circle cx="275.4" cy="504.4" r="1.25"/><circle cx="292.2" cy="504.5" r="1.25"/><circle cx="281.4" cy="504.9" r="1.25"/><circle cx="283.8" cy="505.0" r="1.25"/><circle cx="279.0" cy="505.0" r="1.25"/><circle cx="286.2" cy="505.0" r="1.25"/><circle cx="276.6" cy="505.3" r="1.25"/><circle cx="288.6" cy="505.5" r="1.25"/><circle cx="291.0" cy="505.6" r="1.25"/><circle cx="274.2" cy="505.6" r="1.25"/><circle cx="282.6" cy="505.9" r="1.25"/><circle cx="285.0" cy="505.9" r="1.25"/><circle cx="280.2" cy="506.2" r="1.25"/><circle cx="287.4" cy="506.4" r="1.25"/><circle cx="277.8" cy="506.4" r="1.25"/><circle cx="289.8" cy="506.5" r="1.25"/><circle cx="275.4" cy="506.5" r="1.25"/><circle cx="283.8" cy="506.7" r="1.25"/><circle cx="292.2" cy="506.7" r="1.25"/><circle cx="281.4" cy="507.1" r="1.25"/><circle cx="279.0" cy="507.2" r="1.25"/><circle cx="286.2" cy="507.3" r="1.25"/><circle cx="276.6" cy="507.4" r="1.25"/><circle cx="288.6" cy="507.5" r="1.25"/><circle cx="274.2" cy="507.5" r="1.25"/><circle cx="291.0" cy="507.5" r="1.25"/><circle cx="271.8" cy="507.6" r="1.25"/><circle cx="293.4" cy="507.7" r="1.25"/><circle cx="282.6" cy="508.0" r="1.25"/><circle cx="280.2" cy="508.1" r="1.25"/><circle cx="285.0" cy="508.1" r="1.25"/><circle cx="277.8" cy="508.2" r="1.25"/><circle cx="295.8" cy="508.2" r="1.25"/><circle cx="287.4" cy="508.4" r="1.25"/><circle cx="281.4" cy="508.9" r="1.25"/><circle cx="283.8" cy="508.9" r="1.25"/><circle cx="279.0" cy="509.0" r="1.25"/><circle cx="286.2" cy="509.2" r="1.25"/><circle cx="288.6" cy="509.2" r="1.25"/><circle cx="276.6" cy="509.4" r="1.25"/><circle cx="291.0" cy="509.5" r="1.25"/><circle cx="274.2" cy="509.6" r="1.25"/><circle cx="271.8" cy="509.6" r="1.25"/><circle cx="293.4" cy="509.6" r="1.25"/><circle cx="282.6" cy="509.8" r="1.25"/><circle cx="280.2" cy="510.0" r="1.25"/><circle cx="285.0" cy="510.0" r="1.25"/><circle cx="287.4" cy="510.0" r="1.25"/><circle cx="295.8" cy="510.1" r="1.25"/><circle cx="277.8" cy="510.2" r="1.25"/><circle cx="289.8" cy="510.3" r="1.25"/><circle cx="275.4" cy="510.3" r="1.25"/><circle cx="292.2" cy="510.5" r="1.25"/><circle cx="273.0" cy="510.7" r="1.25"/><circle cx="281.4" cy="510.8" r="1.25"/><circle cx="283.8" cy="511.2" r="1.25"/><circle cx="286.2" cy="511.2" r="1.25"/><circle cx="279.0" cy="511.3" r="1.25"/><circle cx="288.6" cy="511.4" r="1.25"/><circle cx="276.6" cy="511.6" r="1.25"/><circle cx="291.0" cy="511.7" r="1.25"/><circle cx="274.2" cy="511.9" r="1.25"/><circle cx="271.8" cy="511.9" r="1.25"/><circle cx="282.6" cy="511.9" r="1.25"/><circle cx="285.0" cy="512.1" r="1.25"/><circle cx="280.2" cy="512.2" r="1.25"/><circle cx="287.4" cy="512.3" r="1.25"/><circle cx="277.8" cy="512.4" r="1.25"/><circle cx="275.4" cy="512.8" r="1.25"/><circle cx="283.8" cy="512.8" r="1.25"/><circle cx="289.8" cy="512.9" r="1.25"/><circle cx="281.4" cy="513.1" r="1.25"/><circle cx="286.2" cy="513.4" r="1.25"/><circle cx="279.0" cy="513.5" r="1.25"/><circle cx="276.6" cy="513.5" r="1.25"/><circle cx="288.6" cy="513.7" r="1.25"/><circle cx="274.2" cy="513.7" r="1.25"/><circle cx="291.0" cy="513.8" r="1.25"/><circle cx="282.6" cy="513.9" r="1.25"/><circle cx="280.2" cy="514.4" r="1.25"/><circle cx="283.8" cy="514.7" r="1.25"/><circle cx="286.2" cy="514.9" r="1.25"/><circle cx="277.8" cy="515.0" r="1.25"/><circle cx="281.4" cy="515.3" r="1.25"/><circle cx="285.0" cy="515.7" r="1.25"/><circle cx="279.0" cy="515.9" r="1.25"/><circle cx="287.4" cy="515.9" r="1.25"/><circle cx="282.6" cy="516.0" r="1.25"/><circle cx="276.6" cy="516.0" r="1.25"/><circle cx="289.8" cy="516.1" r="1.25"/><circle cx="274.2" cy="516.3" r="1.25"/><circle cx="292.2" cy="516.4" r="1.25"/><circle cx="280.2" cy="516.6" r="1.25"/><circle cx="271.8" cy="516.7" r="1.25"/><circle cx="286.2" cy="516.7" r="1.25"/><circle cx="283.8" cy="516.8" r="1.25"/><circle cx="277.8" cy="517.0" r="1.25"/><circle cx="288.6" cy="517.0" r="1.25"/><circle cx="281.4" cy="517.4" r="1.25"/><circle cx="275.4" cy="517.5" r="1.25"/><circle cx="285.0" cy="517.7" r="1.25"/><circle cx="279.0" cy="517.8" r="1.25"/><circle cx="287.4" cy="517.8" r="1.25"/><circle cx="289.8" cy="517.8" r="1.25"/><circle cx="273.0" cy="518.1" r="1.25"/><circle cx="282.6" cy="518.4" r="1.25"/><circle cx="280.2" cy="518.5" r="1.25"/><circle cx="286.2" cy="518.6" r="1.25"/><circle cx="277.8" cy="518.7" r="1.25"/><circle cx="288.6" cy="518.7" r="1.25"/><circle cx="291.0" cy="518.8" r="1.25"/><circle cx="274.2" cy="518.9" r="1.25"/><circle cx="293.4" cy="519.0" r="1.25"/><circle cx="281.4" cy="519.4" r="1.25"/><circle cx="283.8" cy="519.6" r="1.25"/><circle cx="279.0" cy="519.8" r="1.25"/><circle cx="286.2" cy="520.0" r="1.25"/><circle cx="276.6" cy="520.1" r="1.25"/><circle cx="289.8" cy="520.1" r="1.25"/><circle cx="282.6" cy="520.6" r="1.25"/><circle cx="285.0" cy="520.8" r="1.25"/><circle cx="280.2" cy="520.9" r="1.25"/><circle cx="277.8" cy="521.0" r="1.25"/><circle cx="287.4" cy="521.1" r="1.25"/><circle cx="275.4" cy="521.3" r="1.25"/><circle cx="291.0" cy="521.4" r="1.25"/><circle cx="283.8" cy="521.6" r="1.25"/><circle cx="273.0" cy="521.6" r="1.25"/><circle cx="281.4" cy="521.7" r="1.25"/><circle cx="286.2" cy="522.0" r="1.25"/><circle cx="279.0" cy="522.1" r="1.25"/><circle cx="288.6" cy="522.2" r="1.25"/><circle cx="282.6" cy="522.7" r="1.25"/><circle cx="280.2" cy="522.8" r="1.25"/><circle cx="285.0" cy="522.9" r="1.25"/><circle cx="277.8" cy="522.9" r="1.25"/><circle cx="287.4" cy="522.9" r="1.25"/><circle cx="275.4" cy="523.0" r="1.25"/><circle cx="281.4" cy="523.9" r="1.25"/><circle cx="283.8" cy="524.1" r="1.25"/><circle cx="280.2" cy="524.8" r="1.25"/><circle cx="282.6" cy="524.9" r="1.25"/><circle cx="285.0" cy="525.0" r="1.25"/><circle cx="287.4" cy="525.4" r="1.25"/><circle cx="279.0" cy="525.7" r="1.25"/><circle cx="276.6" cy="525.7" r="1.25"/><circle cx="281.4" cy="525.8" r="1.25"/><circle cx="283.8" cy="526.4" r="1.25"/><circle cx="282.6" cy="528.3" r="1.25"/><circle cx="281.4" cy="529.3" r="1.25"/><circle cx="283.8" cy="529.6" r="1.25"/><circle cx="282.6" cy="530.4" r="1.25"/><circle cx="280.2" cy="530.7" r="1.25"/><circle cx="281.4" cy="531.5" r="1.25"/>
</g>
<line x1="125.7" y1="425.8" x2="125.7" y2="431.6" stroke="#000" stroke-width="1.2"/>
<line x1="116.7" y1="425.8" x2="134.7" y2="425.8" stroke="#000" stroke-width="1.3"/>
<line x1="116.7" y1="431.6" x2="134.7" y2="431.6" stroke="#000" stroke-width="1.3"/>
<line x1="108.4" y1="428.7" x2="143" y2="428.7" stroke="#000" stroke-width="2.3"/>
<line x1="178" y1="451.7" x2="178" y2="458.1" stroke="#000" stroke-width="1.2"/>
<line x1="169" y1="451.7" x2="187" y2="451.7" stroke="#000" stroke-width="1.3"/>
<line x1="169" y1="458.1" x2="187" y2="458.1" stroke="#000" stroke-width="1.3"/>
<line x1="160.7" y1="454.9" x2="195.3" y2="454.9" stroke="#000" stroke-width="2.3"/>
<line x1="230.3" y1="411.2" x2="230.3" y2="418.6" stroke="#000" stroke-width="1.2"/>
<line x1="221.3" y1="411.2" x2="239.3" y2="411.2" stroke="#000" stroke-width="1.3"/>
<line x1="221.3" y1="418.6" x2="239.3" y2="418.6" stroke="#000" stroke-width="1.3"/>
<line x1="213" y1="414.9" x2="247.6" y2="414.9" stroke="#000" stroke-width="2.3"/>
<line x1="282.6" y1="468.9" x2="282.6" y2="472.1" stroke="#000" stroke-width="1.2"/>
<line x1="273.6" y1="468.9" x2="291.6" y2="468.9" stroke="#000" stroke-width="1.3"/>
<line x1="273.6" y1="472.1" x2="291.6" y2="472.1" stroke="#000" stroke-width="1.3"/>
<line x1="265.3" y1="470.5" x2="299.9" y2="470.5" stroke="#000" stroke-width="2.3"/>
<line x1="115.1" y1="300.5" x2="178.7" y2="300.5" stroke="#000" stroke-width="2.0"/>
<line x1="218.2" y1="300.5" x2="280.8" y2="300.5" stroke="#000" stroke-width="2.0"/>
<path d="M126.80 289.30L126.80 283.90M126.80 289.30L131.94 287.63M126.80 289.30L129.97 293.67M126.80 289.30L123.63 293.67M126.80 289.30L121.66 287.63" stroke="#000" stroke-width="2.27" stroke-linecap="butt" fill="none"/>
<path d="M140.80 289.30L140.80 283.90M140.80 289.30L145.94 287.63M140.80 289.30L143.97 293.67M140.80 289.30L137.63 293.67M140.80 289.30L135.66 287.63" stroke="#000" stroke-width="2.27" stroke-linecap="butt" fill="none"/>
<path d="M154.80 289.30L154.80 283.90M154.80 289.30L159.94 287.63M154.80 289.30L157.97 293.67M154.80 289.30L151.63 293.67M154.80 289.30L149.66 287.63" stroke="#000" stroke-width="2.27" stroke-linecap="butt" fill="none"/>
<path d="M168.80 289.30L168.80 283.90M168.80 289.30L173.94 287.63M168.80 289.30L171.97 293.67M168.80 289.30L165.63 293.67M168.80 289.30L163.66 287.63" stroke="#000" stroke-width="2.27" stroke-linecap="butt" fill="none"/>
<path d="M228.50 289.30L228.50 283.90M228.50 289.30L233.64 287.63M228.50 289.30L231.67 293.67M228.50 289.30L225.33 293.67M228.50 289.30L223.36 287.63" stroke="#000" stroke-width="2.27" stroke-linecap="butt" fill="none"/>
<path d="M242.50 289.30L242.50 283.90M242.50 289.30L247.64 287.63M242.50 289.30L245.67 293.67M242.50 289.30L239.33 293.67M242.50 289.30L237.36 287.63" stroke="#000" stroke-width="2.27" stroke-linecap="butt" fill="none"/>
<path d="M256.50 289.30L256.50 283.90M256.50 289.30L261.64 287.63M256.50 289.30L259.67 293.67M256.50 289.30L253.33 293.67M256.50 289.30L251.36 287.63" stroke="#000" stroke-width="2.27" stroke-linecap="butt" fill="none"/>
<path d="M270.50 289.30L270.50 283.90M270.50 289.30L275.64 287.63M270.50 289.30L273.67 293.67M270.50 289.30L267.33 293.67M270.50 289.30L265.36 287.63" stroke="#000" stroke-width="2.27" stroke-linecap="butt" fill="none"/>
<text x="340.4" y="290.5" font-size="34" font-weight="bold" text-anchor="start" fill="#231f20">d</text>
<line x1="431.9" y1="301.6" x2="431.9" y2="529.8" stroke="#000" stroke-width="2.0"/>
<line x1="422.6" y1="528.8" x2="659" y2="528.8" stroke="#000" stroke-width="2.0"/>
<line x1="422.6" y1="528.8" x2="431.9" y2="528.8" stroke="#000" stroke-width="2.0"/>
<text x="419.5" y="535" font-size="17.4" font-weight="bold" text-anchor="end" fill="#000">0.0</text>
<line x1="422.6" y1="483.5" x2="431.9" y2="483.5" stroke="#000" stroke-width="2.0"/>
<text x="419.5" y="489.7" font-size="17.4" font-weight="bold" text-anchor="end" fill="#000">0.1</text>
<line x1="422.6" y1="438.3" x2="431.9" y2="438.3" stroke="#000" stroke-width="2.0"/>
<text x="419.5" y="444.5" font-size="17.4" font-weight="bold" text-anchor="end" fill="#000">0.2</text>
<line x1="422.6" y1="393" x2="431.9" y2="393" stroke="#000" stroke-width="2.0"/>
<text x="419.5" y="399.2" font-size="17.4" font-weight="bold" text-anchor="end" fill="#000">0.3</text>
<line x1="422.6" y1="347.8" x2="431.9" y2="347.8" stroke="#000" stroke-width="2.0"/>
<text x="419.5" y="354" font-size="17.4" font-weight="bold" text-anchor="end" fill="#000">0.4</text>
<line x1="422.6" y1="302.5" x2="431.9" y2="302.5" stroke="#000" stroke-width="2.0"/>
<text x="419.5" y="308.7" font-size="17.4" font-weight="bold" text-anchor="end" fill="#000">0.5</text>
<line x1="466.4" y1="528.8" x2="466.4" y2="538.3" stroke="#000" stroke-width="2.0"/>
<text x="466.4" y="556.2" font-size="17.3" font-weight="bold" text-anchor="middle" fill="#000">RC</text>
<line x1="518.7" y1="528.8" x2="518.7" y2="538.3" stroke="#000" stroke-width="2.0"/>
<text x="518.7" y="556.2" font-size="17.3" font-weight="bold" text-anchor="middle" fill="#000">Irr+RC</text>
<line x1="571" y1="528.8" x2="571" y2="538.3" stroke="#000" stroke-width="2.0"/>
<text x="571" y="556.2" font-size="17.3" font-weight="bold" text-anchor="middle" fill="#000">EE</text>
<line x1="623.2" y1="528.8" x2="623.2" y2="538.3" stroke="#000" stroke-width="2.0"/>
<text x="623.2" y="556.2" font-size="17.3" font-weight="bold" text-anchor="middle" fill="#000">Irr+EE</text>
<text x="386" y="415.3" font-size="18.8" font-weight="bold" text-anchor="middle" fill="#000" transform="rotate(-90 386 415.3)">Activity (arb. units)</text>
<g fill="#d4d6d9" stroke="#8f9297" stroke-width="1">
<circle cx="466.4" cy="377.2" r="1.25"/><circle cx="465.2" cy="378.0" r="1.25"/><circle cx="467.6" cy="378.2" r="1.25"/><circle cx="466.4" cy="379.2" r="1.25"/><circle cx="466.4" cy="383.4" r="1.25"/><circle cx="467.6" cy="384.1" r="1.25"/><circle cx="466.4" cy="385.1" r="1.25"/><circle cx="468.8" cy="385.6" r="1.25"/><circle cx="466.4" cy="386.9" r="1.25"/><circle cx="464.0" cy="387.4" r="1.25"/><circle cx="468.8" cy="387.5" r="1.25"/><circle cx="465.2" cy="388.2" r="1.25"/><circle cx="467.6" cy="388.3" r="1.25"/><circle cx="466.4" cy="389.6" r="1.25"/><circle cx="468.8" cy="389.9" r="1.25"/><circle cx="464.0" cy="390.1" r="1.25"/><circle cx="461.6" cy="390.1" r="1.25"/><circle cx="466.4" cy="392.7" r="1.25"/><circle cx="466.4" cy="394.1" r="1.25"/><circle cx="464.0" cy="394.5" r="1.25"/><circle cx="468.8" cy="394.5" r="1.25"/><circle cx="461.6" cy="394.9" r="1.25"/><circle cx="467.6" cy="395.3" r="1.25"/><circle cx="466.4" cy="396.5" r="1.25"/><circle cx="466.4" cy="398.4" r="1.25"/><circle cx="464.0" cy="398.6" r="1.25"/><circle cx="468.8" cy="398.7" r="1.25"/><circle cx="461.6" cy="399.1" r="1.25"/><circle cx="471.2" cy="399.3" r="1.25"/><circle cx="466.4" cy="400.1" r="1.25"/><circle cx="468.8" cy="400.1" r="1.25"/><circle cx="464.0" cy="400.6" r="1.25"/><circle cx="467.6" cy="401.0" r="1.25"/><circle cx="465.2" cy="401.6" r="1.25"/><circle cx="468.8" cy="401.8" r="1.25"/><circle cx="466.4" cy="402.5" r="1.25"/><circle cx="464.0" cy="402.5" r="1.25"/><circle cx="470.0" cy="402.7" r="1.25"/><circle cx="461.6" cy="403.2" r="1.25"/><circle cx="467.6" cy="403.5" r="1.25"/><circle cx="465.2" cy="403.5" r="1.25"/><circle cx="470.0" cy="404.2" r="1.25"/><circle cx="462.8" cy="404.2" r="1.25"/><circle cx="466.4" cy="404.3" r="1.25"/><circle cx="460.4" cy="404.7" r="1.25"/><circle cx="468.8" cy="404.9" r="1.25"/><circle cx="465.2" cy="405.1" r="1.25"/><circle cx="471.2" cy="405.2" r="1.25"/><circle cx="466.4" cy="407.6" r="1.25"/><circle cx="468.8" cy="407.8" r="1.25"/><circle cx="465.2" cy="408.7" r="1.25"/><circle cx="467.6" cy="409.1" r="1.25"/><circle cx="462.8" cy="409.1" r="1.25"/><circle cx="470.0" cy="409.1" r="1.25"/><circle cx="460.4" cy="409.1" r="1.25"/><circle cx="472.4" cy="409.7" r="1.25"/><circle cx="466.4" cy="409.9" r="1.25"/><circle cx="465.2" cy="410.8" r="1.25"/><circle cx="467.6" cy="411.2" r="1.25"/><circle cx="464.0" cy="411.6" r="1.25"/><circle cx="470.0" cy="411.6" r="1.25"/><circle cx="466.4" cy="412.6" r="1.25"/><circle cx="465.2" cy="413.3" r="1.25"/><circle cx="467.6" cy="413.5" r="1.25"/><circle cx="464.0" cy="414.2" r="1.25"/><circle cx="466.4" cy="414.2" r="1.25"/><circle cx="468.8" cy="414.6" r="1.25"/><circle cx="465.2" cy="415.0" r="1.25"/><circle cx="462.8" cy="415.0" r="1.25"/><circle cx="466.4" cy="415.9" r="1.25"/><circle cx="464.0" cy="416.2" r="1.25"/><circle cx="467.6" cy="416.7" r="1.25"/><circle cx="466.4" cy="417.8" r="1.25"/><circle cx="464.0" cy="418.5" r="1.25"/><circle cx="467.6" cy="419.0" r="1.25"/><circle cx="465.2" cy="419.3" r="1.25"/><circle cx="462.8" cy="419.5" r="1.25"/><circle cx="466.4" cy="421.2" r="1.25"/><circle cx="468.8" cy="421.7" r="1.25"/><circle cx="465.2" cy="422.1" r="1.25"/><circle cx="462.8" cy="422.4" r="1.25"/><circle cx="466.4" cy="423.0" r="1.25"/><circle cx="470.0" cy="423.0" r="1.25"/><circle cx="464.0" cy="423.1" r="1.25"/><circle cx="461.6" cy="423.5" r="1.25"/><circle cx="472.4" cy="423.5" r="1.25"/><circle cx="467.6" cy="423.8" r="1.25"/><circle cx="465.2" cy="423.9" r="1.25"/><circle cx="459.2" cy="424.1" r="1.25"/><circle cx="462.8" cy="424.2" r="1.25"/><circle cx="471.2" cy="424.3" r="1.25"/><circle cx="468.8" cy="424.5" r="1.25"/><circle cx="473.6" cy="424.5" r="1.25"/><circle cx="466.4" cy="424.9" r="1.25"/><circle cx="464.0" cy="425.1" r="1.25"/><circle cx="461.6" cy="425.2" r="1.25"/><circle cx="470.0" cy="425.3" r="1.25"/><circle cx="472.4" cy="425.3" r="1.25"/><circle cx="474.8" cy="425.4" r="1.25"/><circle cx="459.2" cy="425.5" r="1.25"/><circle cx="465.2" cy="426.1" r="1.25"/><circle cx="467.6" cy="426.3" r="1.25"/><circle cx="464.0" cy="426.8" r="1.25"/><circle cx="470.0" cy="426.9" r="1.25"/><circle cx="461.6" cy="426.9" r="1.25"/><circle cx="472.4" cy="427.0" r="1.25"/><circle cx="466.4" cy="427.2" r="1.25"/><circle cx="468.8" cy="427.6" r="1.25"/><circle cx="462.8" cy="427.7" r="1.25"/><circle cx="471.2" cy="427.8" r="1.25"/><circle cx="465.2" cy="428.0" r="1.25"/><circle cx="460.4" cy="428.1" r="1.25"/><circle cx="473.6" cy="428.1" r="1.25"/><circle cx="458.0" cy="428.2" r="1.25"/><circle cx="476.0" cy="428.3" r="1.25"/><circle cx="467.6" cy="428.5" r="1.25"/><circle cx="470.0" cy="428.7" r="1.25"/><circle cx="464.0" cy="428.8" r="1.25"/><circle cx="461.6" cy="428.9" r="1.25"/><circle cx="472.4" cy="429.0" r="1.25"/><circle cx="459.2" cy="429.1" r="1.25"/><circle cx="466.4" cy="429.2" r="1.25"/><circle cx="474.8" cy="429.2" r="1.25"/><circle cx="468.8" cy="429.7" r="1.25"/><circle cx="465.2" cy="430.2" r="1.25"/><circle cx="462.8" cy="430.2" r="1.25"/><circle cx="471.2" cy="430.4" r="1.25"/><circle cx="467.6" cy="430.6" r="1.25"/><circle cx="460.4" cy="430.7" r="1.25"/><circle cx="464.0" cy="431.3" r="1.25"/><circle cx="466.4" cy="431.4" r="1.25"/><circle cx="468.8" cy="432.1" r="1.25"/><circle cx="465.2" cy="432.1" r="1.25"/><circle cx="462.8" cy="432.3" r="1.25"/><circle cx="471.2" cy="432.4" r="1.25"/><circle cx="460.4" cy="432.4" r="1.25"/><circle cx="473.6" cy="432.5" r="1.25"/><circle cx="458.0" cy="432.5" r="1.25"/><circle cx="466.4" cy="432.8" r="1.25"/><circle cx="476.0" cy="432.9" r="1.25"/><circle cx="464.0" cy="433.3" r="1.25"/><circle cx="470.0" cy="433.4" r="1.25"/><circle cx="467.6" cy="433.7" r="1.25"/><circle cx="461.6" cy="433.9" r="1.25"/><circle cx="472.4" cy="433.9" r="1.25"/><circle cx="459.2" cy="434.0" r="1.25"/><circle cx="465.2" cy="434.4" r="1.25"/><circle cx="468.8" cy="434.5" r="1.25"/><circle cx="462.8" cy="434.7" r="1.25"/><circle cx="471.2" cy="434.7" r="1.25"/><circle cx="460.4" cy="434.7" r="1.25"/><circle cx="466.4" cy="435.1" r="1.25"/><circle cx="473.6" cy="435.3" r="1.25"/><circle cx="464.0" cy="435.8" r="1.25"/><circle cx="467.6" cy="435.9" r="1.25"/><circle cx="470.0" cy="436.3" r="1.25"/><circle cx="461.6" cy="436.3" r="1.25"/><circle cx="465.2" cy="436.6" r="1.25"/><circle cx="472.4" cy="436.6" r="1.25"/><circle cx="459.2" cy="436.7" r="1.25"/><circle cx="474.8" cy="436.9" r="1.25"/><circle cx="468.8" cy="437.2" r="1.25"/><circle cx="462.8" cy="437.2" r="1.25"/><circle cx="466.4" cy="437.3" r="1.25"/><circle cx="471.2" cy="437.5" r="1.25"/><circle cx="460.4" cy="437.5" r="1.25"/><circle cx="473.6" cy="437.8" r="1.25"/><circle cx="458.0" cy="437.9" r="1.25"/><circle cx="464.0" cy="438.0" r="1.25"/><circle cx="467.6" cy="438.2" r="1.25"/><circle cx="465.2" cy="438.7" r="1.25"/><circle cx="468.8" cy="438.9" r="1.25"/><circle cx="462.8" cy="438.9" r="1.25"/><circle cx="471.2" cy="438.9" r="1.25"/><circle cx="460.4" cy="439.1" r="1.25"/><circle cx="473.6" cy="439.2" r="1.25"/><circle cx="458.0" cy="439.4" r="1.25"/><circle cx="476.0" cy="439.4" r="1.25"/><circle cx="466.4" cy="439.6" r="1.25"/><circle cx="455.6" cy="439.6" r="1.25"/><circle cx="464.0" cy="439.7" r="1.25"/><circle cx="470.0" cy="439.7" r="1.25"/><circle cx="478.4" cy="439.8" r="1.25"/><circle cx="461.6" cy="440.0" r="1.25"/><circle cx="472.4" cy="440.1" r="1.25"/><circle cx="459.2" cy="440.2" r="1.25"/><circle cx="465.2" cy="440.5" r="1.25"/><circle cx="467.6" cy="440.6" r="1.25"/><circle cx="462.8" cy="440.8" r="1.25"/><circle cx="466.4" cy="441.4" r="1.25"/><circle cx="468.8" cy="441.5" r="1.25"/><circle cx="464.0" cy="441.6" r="1.25"/><circle cx="471.2" cy="441.7" r="1.25"/><circle cx="461.6" cy="441.7" r="1.25"/><circle cx="473.6" cy="441.9" r="1.25"/><circle cx="459.2" cy="442.0" r="1.25"/><circle cx="476.0" cy="442.1" r="1.25"/><circle cx="456.8" cy="442.1" r="1.25"/><circle cx="467.6" cy="442.3" r="1.25"/><circle cx="465.2" cy="442.4" r="1.25"/><circle cx="470.0" cy="442.6" r="1.25"/><circle cx="462.8" cy="442.7" r="1.25"/><circle cx="466.4" cy="443.3" r="1.25"/><circle cx="472.4" cy="443.3" r="1.25"/><circle cx="460.4" cy="443.3" r="1.25"/><circle cx="474.8" cy="443.3" r="1.25"/><circle cx="464.0" cy="443.4" r="1.25"/><circle cx="468.8" cy="443.6" r="1.25"/><circle cx="458.0" cy="443.6" r="1.25"/><circle cx="455.6" cy="443.6" r="1.25"/><circle cx="477.2" cy="443.6" r="1.25"/><circle cx="479.6" cy="443.7" r="1.25"/><circle cx="453.2" cy="443.7" r="1.25"/><circle cx="450.8" cy="443.8" r="1.25"/><circle cx="482.0" cy="443.9" r="1.25"/><circle cx="461.6" cy="444.0" r="1.25"/><circle cx="471.2" cy="444.1" r="1.25"/><circle cx="465.2" cy="444.3" r="1.25"/><circle cx="467.6" cy="444.4" r="1.25"/><circle cx="459.2" cy="444.4" r="1.25"/><circle cx="473.6" cy="444.5" r="1.25"/><circle cx="476.0" cy="444.6" r="1.25"/><circle cx="456.8" cy="444.7" r="1.25"/><circle cx="462.8" cy="444.8" r="1.25"/><circle cx="470.0" cy="444.9" r="1.25"/><circle cx="454.4" cy="444.9" r="1.25"/><circle cx="478.4" cy="444.9" r="1.25"/><circle cx="480.8" cy="444.9" r="1.25"/><circle cx="452.0" cy="444.9" r="1.25"/><circle cx="449.6" cy="445.0" r="1.25"/><circle cx="466.4" cy="445.3" r="1.25"/><circle cx="460.4" cy="445.3" r="1.25"/><circle cx="468.8" cy="445.6" r="1.25"/><circle cx="464.0" cy="445.7" r="1.25"/><circle cx="471.2" cy="445.9" r="1.25"/><circle cx="473.6" cy="445.9" r="1.25"/><circle cx="458.0" cy="446.0" r="1.25"/><circle cx="476.0" cy="446.1" r="1.25"/><circle cx="461.6" cy="446.2" r="1.25"/><circle cx="467.6" cy="446.4" r="1.25"/><circle cx="455.6" cy="446.4" r="1.25"/><circle cx="465.2" cy="446.5" r="1.25"/><circle cx="470.0" cy="446.8" r="1.25"/><circle cx="472.4" cy="446.9" r="1.25"/><circle cx="459.2" cy="446.9" r="1.25"/><circle cx="474.8" cy="446.9" r="1.25"/><circle cx="462.8" cy="447.0" r="1.25"/><circle cx="456.8" cy="447.2" r="1.25"/><circle cx="477.2" cy="447.2" r="1.25"/><circle cx="466.4" cy="447.5" r="1.25"/><circle cx="454.4" cy="447.5" r="1.25"/><circle cx="464.0" cy="447.8" r="1.25"/><circle cx="468.8" cy="447.8" r="1.25"/><circle cx="461.6" cy="447.9" r="1.25"/><circle cx="471.2" cy="448.0" r="1.25"/><circle cx="473.6" cy="448.1" r="1.25"/><circle cx="458.0" cy="448.1" r="1.25"/><circle cx="476.0" cy="448.4" r="1.25"/><circle cx="455.6" cy="448.5" r="1.25"/><circle cx="478.4" cy="448.5" r="1.25"/><circle cx="467.6" cy="448.5" r="1.25"/><circle cx="465.2" cy="448.6" r="1.25"/><circle cx="453.2" cy="448.7" r="1.25"/><circle cx="470.0" cy="448.7" r="1.25"/><circle cx="462.8" cy="448.8" r="1.25"/><circle cx="460.4" cy="448.8" r="1.25"/><circle cx="480.8" cy="448.8" r="1.25"/><circle cx="472.4" cy="448.9" r="1.25"/><circle cx="450.8" cy="448.9" r="1.25"/><circle cx="483.2" cy="449.0" r="1.25"/><circle cx="448.4" cy="449.0" r="1.25"/><circle cx="482.0" cy="449.0" r="1.25"/><circle cx="466.4" cy="449.3" r="1.25"/><circle cx="474.8" cy="449.4" r="1.25"/><circle cx="456.8" cy="449.4" r="1.25"/><circle cx="477.2" cy="449.4" r="1.25"/><circle cx="454.4" cy="449.5" r="1.25"/><circle cx="464.0" cy="449.6" r="1.25"/><circle cx="468.8" cy="449.6" r="1.25"/><circle cx="471.2" cy="449.7" r="1.25"/><circle cx="461.6" cy="449.7" r="1.25"/><circle cx="459.2" cy="449.8" r="1.25"/><circle cx="479.6" cy="449.9" r="1.25"/><circle cx="452.0" cy="449.9" r="1.25"/><circle cx="449.6" cy="450.0" r="1.25"/><circle cx="473.6" cy="450.1" r="1.25"/><circle cx="476.0" cy="450.2" r="1.25"/><circle cx="465.2" cy="450.3" r="1.25"/><circle cx="467.6" cy="450.4" r="1.25"/><circle cx="470.0" cy="450.5" r="1.25"/><circle cx="462.8" cy="450.5" r="1.25"/><circle cx="455.6" cy="450.6" r="1.25"/><circle cx="460.4" cy="450.6" r="1.25"/><circle cx="472.4" cy="450.9" r="1.25"/><circle cx="458.0" cy="451.0" r="1.25"/><circle cx="466.4" cy="451.3" r="1.25"/><circle cx="464.0" cy="451.3" r="1.25"/><circle cx="468.8" cy="451.5" r="1.25"/><circle cx="461.6" cy="451.6" r="1.25"/><circle cx="471.2" cy="451.7" r="1.25"/><circle cx="459.2" cy="451.8" r="1.25"/><circle cx="473.6" cy="452.0" r="1.25"/><circle cx="465.2" cy="452.0" r="1.25"/><circle cx="476.0" cy="452.0" r="1.25"/><circle cx="456.8" cy="452.1" r="1.25"/><circle cx="478.4" cy="452.1" r="1.25"/><circle cx="467.6" cy="452.2" r="1.25"/><circle cx="454.4" cy="452.3" r="1.25"/><circle cx="470.0" cy="452.6" r="1.25"/><circle cx="462.8" cy="452.6" r="1.25"/><circle cx="460.4" cy="452.7" r="1.25"/><circle cx="472.4" cy="452.7" r="1.25"/><circle cx="452.0" cy="452.8" r="1.25"/><circle cx="458.0" cy="452.8" r="1.25"/><circle cx="474.8" cy="452.8" r="1.25"/><circle cx="466.4" cy="453.0" r="1.25"/><circle cx="477.2" cy="453.0" r="1.25"/><circle cx="479.6" cy="453.0" r="1.25"/><circle cx="455.6" cy="453.1" r="1.25"/><circle cx="482.0" cy="453.2" r="1.25"/><circle cx="464.0" cy="453.4" r="1.25"/><circle cx="468.8" cy="453.5" r="1.25"/><circle cx="461.6" cy="453.7" r="1.25"/><circle cx="471.2" cy="453.8" r="1.25"/><circle cx="473.6" cy="453.9" r="1.25"/><circle cx="459.2" cy="453.9" r="1.25"/><circle cx="456.8" cy="454.0" r="1.25"/><circle cx="466.4" cy="454.9" r="1.25"/><circle cx="468.8" cy="455.0" r="1.25"/><circle cx="464.0" cy="455.1" r="1.25"/><circle cx="461.6" cy="455.1" r="1.25"/><circle cx="471.2" cy="455.4" r="1.25"/><circle cx="459.2" cy="455.5" r="1.25"/><circle cx="473.6" cy="455.7" r="1.25"/><circle cx="467.6" cy="455.9" r="1.25"/><circle cx="465.2" cy="455.9" r="1.25"/><circle cx="462.8" cy="456.0" r="1.25"/><circle cx="476.0" cy="456.1" r="1.25"/><circle cx="470.0" cy="456.2" r="1.25"/><circle cx="456.8" cy="456.2" r="1.25"/><circle cx="472.4" cy="456.4" r="1.25"/><circle cx="460.4" cy="456.4" r="1.25"/><circle cx="478.4" cy="456.5" r="1.25"/><circle cx="454.4" cy="456.6" r="1.25"/><circle cx="466.4" cy="457.0" r="1.25"/><circle cx="468.8" cy="457.0" r="1.25"/><circle cx="464.0" cy="457.1" r="1.25"/><circle cx="471.2" cy="457.1" r="1.25"/><circle cx="461.6" cy="457.2" r="1.25"/><circle cx="473.6" cy="457.3" r="1.25"/><circle cx="459.2" cy="457.4" r="1.25"/><circle cx="477.2" cy="457.5" r="1.25"/><circle cx="455.6" cy="457.5" r="1.25"/><circle cx="479.6" cy="457.6" r="1.25"/><circle cx="453.2" cy="457.6" r="1.25"/><circle cx="450.8" cy="457.7" r="1.25"/><circle cx="482.0" cy="457.7" r="1.25"/><circle cx="484.4" cy="457.7" r="1.25"/><circle cx="448.4" cy="457.7" r="1.25"/><circle cx="446.0" cy="457.8" r="1.25"/><circle cx="467.6" cy="457.9" r="1.25"/><circle cx="465.2" cy="458.0" r="1.25"/><circle cx="470.0" cy="458.0" r="1.25"/><circle cx="462.8" cy="458.0" r="1.25"/><circle cx="472.4" cy="458.1" r="1.25"/><circle cx="474.8" cy="458.1" r="1.25"/><circle cx="460.4" cy="458.1" r="1.25"/><circle cx="458.0" cy="458.1" r="1.25"/><circle cx="486.8" cy="458.1" r="1.25"/><circle cx="448.4" cy="458.2" r="1.25"/><circle cx="458.0" cy="458.2" r="1.25"/><circle cx="484.4" cy="458.2" r="1.25"/><circle cx="477.2" cy="458.2" r="1.25"/><circle cx="450.8" cy="458.2" r="1.25"/><circle cx="460.4" cy="458.3" r="1.25"/><circle cx="483.2" cy="458.3" r="1.25"/><circle cx="454.4" cy="458.6" r="1.25"/><circle cx="480.8" cy="458.6" r="1.25"/><circle cx="466.4" cy="458.7" r="1.25"/><circle cx="468.8" cy="458.7" r="1.25"/><circle cx="464.0" cy="458.8" r="1.25"/><circle cx="471.2" cy="458.9" r="1.25"/><circle cx="473.6" cy="458.9" r="1.25"/><circle cx="447.2" cy="458.9" r="1.25"/><circle cx="461.6" cy="459.1" r="1.25"/><circle cx="459.2" cy="459.1" r="1.25"/><circle cx="476.0" cy="459.1" r="1.25"/><circle cx="456.8" cy="459.2" r="1.25"/><circle cx="478.4" cy="459.3" r="1.25"/><circle cx="453.2" cy="459.4" r="1.25"/><circle cx="467.6" cy="459.5" r="1.25"/><circle cx="482.0" cy="459.5" r="1.25"/><circle cx="465.2" cy="459.6" r="1.25"/><circle cx="470.0" cy="459.7" r="1.25"/><circle cx="472.4" cy="459.8" r="1.25"/><circle cx="462.8" cy="459.8" r="1.25"/><circle cx="450.8" cy="459.8" r="1.25"/><circle cx="448.4" cy="459.8" r="1.25"/><circle cx="460.4" cy="459.9" r="1.25"/><circle cx="474.8" cy="459.9" r="1.25"/><circle cx="458.0" cy="460.1" r="1.25"/><circle cx="455.6" cy="460.1" r="1.25"/><circle cx="477.2" cy="460.2" r="1.25"/><circle cx="479.6" cy="460.2" r="1.25"/><circle cx="484.4" cy="460.3" r="1.25"/><circle cx="446.0" cy="460.3" r="1.25"/><circle cx="466.4" cy="460.7" r="1.25"/><circle cx="468.8" cy="460.9" r="1.25"/><circle cx="464.0" cy="461.1" r="1.25"/><circle cx="461.6" cy="461.1" r="1.25"/><circle cx="471.2" cy="461.2" r="1.25"/><circle cx="459.2" cy="461.2" r="1.25"/><circle cx="473.6" cy="461.3" r="1.25"/><circle cx="476.0" cy="461.3" r="1.25"/><circle cx="456.8" cy="461.3" r="1.25"/><circle cx="454.4" cy="461.4" r="1.25"/><circle cx="478.4" cy="461.5" r="1.25"/><circle cx="467.6" cy="461.6" r="1.25"/><circle cx="480.8" cy="461.7" r="1.25"/><circle cx="452.0" cy="461.7" r="1.25"/><circle cx="465.2" cy="462.0" r="1.25"/><circle cx="470.0" cy="462.0" r="1.25"/><circle cx="462.8" cy="462.2" r="1.25"/><circle cx="460.4" cy="462.3" r="1.25"/><circle cx="472.4" cy="462.4" r="1.25"/><circle cx="458.0" cy="462.4" r="1.25"/><circle cx="474.8" cy="462.5" r="1.25"/><circle cx="477.2" cy="462.5" r="1.25"/><circle cx="455.6" cy="462.6" r="1.25"/><circle cx="453.2" cy="462.6" r="1.25"/><circle cx="479.6" cy="462.7" r="1.25"/><circle cx="466.4" cy="462.7" r="1.25"/><circle cx="468.8" cy="462.8" r="1.25"/><circle cx="482.0" cy="462.9" r="1.25"/><circle cx="464.0" cy="463.0" r="1.25"/><circle cx="461.6" cy="463.1" r="1.25"/><circle cx="471.2" cy="463.1" r="1.25"/><circle cx="459.2" cy="463.2" r="1.25"/><circle cx="450.8" cy="463.2" r="1.25"/><circle cx="473.6" cy="463.3" r="1.25"/><circle cx="476.0" cy="463.5" r="1.25"/><circle cx="467.6" cy="463.6" r="1.25"/><circle cx="456.8" cy="463.7" r="1.25"/><circle cx="465.2" cy="463.8" r="1.25"/><circle cx="462.8" cy="463.8" r="1.25"/><circle cx="470.0" cy="463.9" r="1.25"/><circle cx="454.4" cy="463.9" r="1.25"/><circle cx="460.4" cy="463.9" r="1.25"/><circle cx="472.4" cy="464.0" r="1.25"/><circle cx="478.4" cy="464.1" r="1.25"/><circle cx="452.0" cy="464.2" r="1.25"/><circle cx="474.8" cy="464.2" r="1.25"/><circle cx="480.8" cy="464.2" r="1.25"/><circle cx="449.6" cy="464.3" r="1.25"/><circle cx="458.0" cy="464.5" r="1.25"/><circle cx="483.2" cy="464.5" r="1.25"/><circle cx="485.6" cy="464.5" r="1.25"/><circle cx="466.4" cy="464.6" r="1.25"/><circle cx="464.0" cy="464.8" r="1.25"/><circle cx="468.8" cy="464.9" r="1.25"/><circle cx="461.6" cy="465.1" r="1.25"/><circle cx="471.2" cy="465.2" r="1.25"/><circle cx="473.6" cy="465.2" r="1.25"/><circle cx="459.2" cy="465.2" r="1.25"/><circle cx="456.8" cy="465.3" r="1.25"/><circle cx="476.0" cy="465.3" r="1.25"/><circle cx="454.4" cy="465.3" r="1.25"/><circle cx="479.6" cy="465.4" r="1.25"/><circle cx="450.8" cy="465.5" r="1.25"/><circle cx="467.6" cy="465.7" r="1.25"/><circle cx="465.2" cy="465.8" r="1.25"/><circle cx="462.8" cy="465.8" r="1.25"/><circle cx="470.0" cy="466.0" r="1.25"/><circle cx="472.4" cy="466.0" r="1.25"/><circle cx="460.4" cy="466.1" r="1.25"/><circle cx="458.0" cy="466.2" r="1.25"/><circle cx="474.8" cy="466.3" r="1.25"/><circle cx="477.2" cy="466.3" r="1.25"/><circle cx="455.6" cy="466.3" r="1.25"/><circle cx="453.2" cy="466.3" r="1.25"/><circle cx="480.8" cy="466.4" r="1.25"/><circle cx="449.6" cy="466.4" r="1.25"/><circle cx="466.4" cy="466.6" r="1.25"/><circle cx="468.8" cy="466.8" r="1.25"/><circle cx="464.0" cy="466.8" r="1.25"/><circle cx="461.6" cy="466.9" r="1.25"/><circle cx="471.2" cy="466.9" r="1.25"/><circle cx="459.2" cy="466.9" r="1.25"/><circle cx="473.6" cy="467.1" r="1.25"/><circle cx="456.8" cy="467.1" r="1.25"/><circle cx="476.0" cy="467.2" r="1.25"/><circle cx="454.4" cy="467.2" r="1.25"/><circle cx="478.4" cy="467.3" r="1.25"/><circle cx="452.0" cy="467.4" r="1.25"/><circle cx="482.0" cy="467.5" r="1.25"/><circle cx="484.4" cy="467.5" r="1.25"/><circle cx="448.4" cy="467.5" r="1.25"/><circle cx="446.0" cy="467.5" r="1.25"/><circle cx="467.6" cy="467.9" r="1.25"/><circle cx="465.2" cy="467.9" r="1.25"/><circle cx="470.0" cy="468.0" r="1.25"/><circle cx="462.8" cy="468.1" r="1.25"/><circle cx="460.4" cy="468.4" r="1.25"/><circle cx="472.4" cy="468.4" r="1.25"/><circle cx="458.0" cy="468.5" r="1.25"/><circle cx="474.8" cy="468.6" r="1.25"/><circle cx="455.6" cy="468.6" r="1.25"/><circle cx="466.4" cy="468.7" r="1.25"/><circle cx="477.2" cy="468.7" r="1.25"/><circle cx="453.2" cy="468.7" r="1.25"/><circle cx="468.8" cy="469.0" r="1.25"/><circle cx="464.0" cy="469.0" r="1.25"/><circle cx="479.6" cy="469.0" r="1.25"/><circle cx="482.0" cy="469.0" r="1.25"/><circle cx="450.8" cy="469.0" r="1.25"/><circle cx="484.4" cy="469.1" r="1.25"/><circle cx="471.2" cy="469.3" r="1.25"/><circle cx="461.6" cy="469.4" r="1.25"/><circle cx="459.2" cy="469.5" r="1.25"/><circle cx="473.6" cy="469.5" r="1.25"/><circle cx="476.0" cy="469.5" r="1.25"/><circle cx="456.8" cy="469.5" r="1.25"/><circle cx="454.4" cy="469.6" r="1.25"/><circle cx="465.2" cy="469.8" r="1.25"/><circle cx="467.6" cy="469.9" r="1.25"/><circle cx="478.4" cy="469.9" r="1.25"/><circle cx="452.0" cy="469.9" r="1.25"/><circle cx="480.8" cy="469.9" r="1.25"/><circle cx="449.6" cy="469.9" r="1.25"/><circle cx="483.2" cy="470.0" r="1.25"/><circle cx="447.2" cy="470.0" r="1.25"/><circle cx="470.0" cy="470.2" r="1.25"/><circle cx="462.8" cy="470.4" r="1.25"/><circle cx="472.4" cy="470.4" r="1.25"/><circle cx="460.4" cy="470.4" r="1.25"/><circle cx="458.0" cy="470.5" r="1.25"/><circle cx="466.4" cy="470.6" r="1.25"/><circle cx="474.8" cy="470.6" r="1.25"/><circle cx="455.6" cy="470.8" r="1.25"/><circle cx="468.8" cy="470.9" r="1.25"/><circle cx="477.2" cy="471.0" r="1.25"/><circle cx="464.0" cy="471.1" r="1.25"/><circle cx="471.2" cy="471.2" r="1.25"/><circle cx="461.6" cy="471.3" r="1.25"/><circle cx="459.2" cy="471.3" r="1.25"/><circle cx="479.6" cy="471.3" r="1.25"/><circle cx="473.6" cy="471.4" r="1.25"/><circle cx="453.2" cy="471.5" r="1.25"/><circle cx="456.8" cy="471.6" r="1.25"/><circle cx="482.0" cy="471.6" r="1.25"/><circle cx="467.6" cy="471.7" r="1.25"/><circle cx="465.2" cy="472.2" r="1.25"/><circle cx="462.8" cy="472.3" r="1.25"/><circle cx="470.0" cy="472.3" r="1.25"/><circle cx="472.4" cy="472.3" r="1.25"/><circle cx="460.4" cy="472.5" r="1.25"/><circle cx="458.0" cy="472.6" r="1.25"/><circle cx="474.8" cy="472.7" r="1.25"/><circle cx="455.6" cy="472.7" r="1.25"/><circle cx="477.2" cy="472.7" r="1.25"/><circle cx="479.6" cy="472.7" r="1.25"/><circle cx="452.0" cy="472.8" r="1.25"/><circle cx="466.4" cy="472.9" r="1.25"/><circle cx="449.6" cy="472.9" r="1.25"/><circle cx="483.2" cy="473.0" r="1.25"/><circle cx="464.0" cy="473.0" r="1.25"/><circle cx="447.2" cy="473.0" r="1.25"/><circle cx="468.8" cy="473.1" r="1.25"/><circle cx="471.2" cy="473.4" r="1.25"/><circle cx="461.6" cy="473.5" r="1.25"/><circle cx="465.2" cy="473.8" r="1.25"/><circle cx="459.2" cy="473.8" r="1.25"/><circle cx="473.6" cy="473.8" r="1.25"/><circle cx="476.0" cy="473.8" r="1.25"/><circle cx="467.6" cy="473.9" r="1.25"/><circle cx="456.8" cy="474.0" r="1.25"/><circle cx="454.4" cy="474.0" r="1.25"/><circle cx="478.4" cy="474.1" r="1.25"/><circle cx="470.0" cy="474.1" r="1.25"/><circle cx="480.8" cy="474.1" r="1.25"/><circle cx="450.8" cy="474.2" r="1.25"/><circle cx="462.8" cy="474.2" r="1.25"/><circle cx="483.2" cy="474.4" r="1.25"/><circle cx="448.4" cy="474.4" r="1.25"/><circle cx="485.6" cy="474.5" r="1.25"/><circle cx="460.4" cy="474.5" r="1.25"/><circle cx="472.4" cy="474.6" r="1.25"/><circle cx="466.4" cy="474.6" r="1.25"/><circle cx="474.8" cy="474.7" r="1.25"/><circle cx="458.0" cy="474.8" r="1.25"/><circle cx="468.8" cy="474.9" r="1.25"/><circle cx="464.0" cy="475.0" r="1.25"/><circle cx="477.2" cy="475.0" r="1.25"/><circle cx="471.2" cy="475.5" r="1.25"/><circle cx="461.6" cy="475.5" r="1.25"/><circle cx="473.6" cy="475.5" r="1.25"/><circle cx="459.2" cy="475.5" r="1.25"/><circle cx="467.6" cy="475.7" r="1.25"/><circle cx="456.8" cy="475.7" r="1.25"/><circle cx="465.2" cy="475.7" r="1.25"/><circle cx="454.4" cy="475.7" r="1.25"/><circle cx="479.6" cy="475.7" r="1.25"/><circle cx="452.0" cy="475.7" r="1.25"/><circle cx="482.0" cy="475.7" r="1.25"/><circle cx="449.6" cy="475.7" r="1.25"/><circle cx="476.0" cy="475.8" r="1.25"/><circle cx="484.4" cy="475.8" r="1.25"/><circle cx="447.2" cy="475.9" r="1.25"/><circle cx="486.8" cy="475.9" r="1.25"/><circle cx="466.4" cy="476.0" r="1.25"/><circle cx="485.6" cy="476.0" r="1.25"/><circle cx="447.2" cy="476.0" r="1.25"/><circle cx="448.4" cy="476.1" r="1.25"/><circle cx="470.0" cy="476.2" r="1.25"/><circle cx="462.8" cy="476.3" r="1.25"/><circle cx="472.4" cy="476.4" r="1.25"/><circle cx="460.4" cy="476.5" r="1.25"/><circle cx="474.8" cy="476.6" r="1.25"/><circle cx="458.0" cy="476.6" r="1.25"/><circle cx="455.6" cy="476.6" r="1.25"/><circle cx="477.2" cy="476.7" r="1.25"/><circle cx="453.2" cy="476.8" r="1.25"/><circle cx="480.8" cy="476.9" r="1.25"/><circle cx="450.8" cy="476.9" r="1.25"/><circle cx="483.2" cy="476.9" r="1.25"/><circle cx="456.8" cy="476.9" r="1.25"/><circle cx="468.8" cy="477.0" r="1.25"/><circle cx="465.2" cy="477.2" r="1.25"/><circle cx="471.2" cy="477.3" r="1.25"/><circle cx="461.6" cy="477.3" r="1.25"/><circle cx="459.2" cy="477.3" r="1.25"/><circle cx="473.6" cy="477.4" r="1.25"/><circle cx="476.0" cy="477.5" r="1.25"/><circle cx="454.4" cy="477.6" r="1.25"/><circle cx="478.4" cy="477.6" r="1.25"/><circle cx="448.4" cy="477.6" r="1.25"/><circle cx="467.6" cy="477.9" r="1.25"/><circle cx="452.0" cy="477.9" r="1.25"/><circle cx="464.0" cy="478.0" r="1.25"/><circle cx="482.0" cy="478.0" r="1.25"/><circle cx="470.0" cy="478.1" r="1.25"/><circle cx="472.4" cy="478.4" r="1.25"/><circle cx="460.4" cy="478.4" r="1.25"/><circle cx="458.0" cy="478.6" r="1.25"/><circle cx="466.4" cy="478.6" r="1.25"/><circle cx="474.8" cy="478.7" r="1.25"/><circle cx="455.6" cy="478.7" r="1.25"/><circle cx="468.8" cy="478.9" r="1.25"/><circle cx="462.8" cy="478.9" r="1.25"/><circle cx="477.2" cy="479.0" r="1.25"/><circle cx="479.6" cy="479.1" r="1.25"/><circle cx="471.2" cy="479.1" r="1.25"/><circle cx="453.2" cy="479.2" r="1.25"/><circle cx="450.8" cy="479.3" r="1.25"/><circle cx="459.2" cy="479.4" r="1.25"/><circle cx="465.2" cy="479.4" r="1.25"/><circle cx="473.6" cy="479.6" r="1.25"/><circle cx="467.6" cy="479.8" r="1.25"/><circle cx="470.0" cy="479.9" r="1.25"/><circle cx="461.6" cy="480.0" r="1.25"/><circle cx="458.0" cy="480.1" r="1.25"/><circle cx="476.0" cy="480.1" r="1.25"/><circle cx="466.4" cy="480.6" r="1.25"/><circle cx="468.8" cy="480.7" r="1.25"/><circle cx="464.0" cy="480.7" r="1.25"/><circle cx="471.2" cy="480.8" r="1.25"/><circle cx="460.4" cy="480.8" r="1.25"/><circle cx="474.8" cy="480.9" r="1.25"/><circle cx="456.8" cy="480.9" r="1.25"/><circle cx="477.2" cy="481.0" r="1.25"/><circle cx="454.4" cy="481.1" r="1.25"/><circle cx="479.6" cy="481.3" r="1.25"/><circle cx="452.0" cy="481.4" r="1.25"/><circle cx="465.2" cy="481.5" r="1.25"/><circle cx="467.6" cy="481.6" r="1.25"/><circle cx="470.0" cy="481.7" r="1.25"/><circle cx="462.8" cy="482.0" r="1.25"/><circle cx="472.4" cy="482.1" r="1.25"/><circle cx="466.4" cy="482.7" r="1.25"/><circle cx="468.8" cy="482.9" r="1.25"/><circle cx="464.0" cy="483.0" r="1.25"/><circle cx="461.6" cy="483.2" r="1.25"/><circle cx="471.2" cy="483.2" r="1.25"/><circle cx="459.2" cy="483.5" r="1.25"/><circle cx="467.6" cy="483.7" r="1.25"/><circle cx="473.6" cy="483.7" r="1.25"/><circle cx="465.2" cy="483.8" r="1.25"/><circle cx="476.0" cy="483.8" r="1.25"/><circle cx="462.8" cy="483.9" r="1.25"/><circle cx="470.0" cy="484.1" r="1.25"/><circle cx="456.8" cy="484.2" r="1.25"/><circle cx="478.4" cy="484.2" r="1.25"/><circle cx="454.4" cy="484.2" r="1.25"/><circle cx="460.4" cy="484.2" r="1.25"/><circle cx="480.8" cy="484.4" r="1.25"/><circle cx="472.4" cy="484.4" r="1.25"/><circle cx="452.0" cy="484.5" r="1.25"/><circle cx="483.2" cy="484.5" r="1.25"/><circle cx="466.4" cy="484.7" r="1.25"/><circle cx="464.0" cy="484.8" r="1.25"/><circle cx="468.8" cy="484.9" r="1.25"/><circle cx="461.6" cy="485.1" r="1.25"/><circle cx="471.2" cy="485.2" r="1.25"/><circle cx="459.2" cy="485.3" r="1.25"/><circle cx="473.6" cy="485.3" r="1.25"/><circle cx="476.0" cy="485.4" r="1.25"/><circle cx="465.2" cy="485.5" r="1.25"/><circle cx="455.6" cy="485.5" r="1.25"/><circle cx="479.6" cy="485.5" r="1.25"/><circle cx="453.2" cy="485.6" r="1.25"/><circle cx="467.6" cy="485.7" r="1.25"/><circle cx="482.0" cy="485.7" r="1.25"/><circle cx="470.0" cy="486.1" r="1.25"/><circle cx="462.8" cy="486.2" r="1.25"/><circle cx="460.4" cy="486.2" r="1.25"/><circle cx="472.4" cy="486.2" r="1.25"/><circle cx="474.8" cy="486.2" r="1.25"/><circle cx="458.0" cy="486.2" r="1.25"/><circle cx="477.2" cy="486.3" r="1.25"/><circle cx="450.8" cy="486.3" r="1.25"/><circle cx="466.4" cy="486.5" r="1.25"/><circle cx="454.4" cy="486.7" r="1.25"/><circle cx="468.8" cy="486.9" r="1.25"/><circle cx="464.0" cy="486.9" r="1.25"/><circle cx="461.6" cy="486.9" r="1.25"/><circle cx="471.2" cy="487.0" r="1.25"/><circle cx="473.6" cy="487.1" r="1.25"/><circle cx="459.2" cy="487.1" r="1.25"/><circle cx="456.8" cy="487.3" r="1.25"/><circle cx="476.0" cy="487.5" r="1.25"/><circle cx="467.6" cy="487.6" r="1.25"/><circle cx="465.2" cy="487.8" r="1.25"/><circle cx="470.0" cy="487.9" r="1.25"/><circle cx="462.8" cy="488.0" r="1.25"/><circle cx="472.4" cy="488.3" r="1.25"/><circle cx="460.4" cy="488.3" r="1.25"/><circle cx="466.4" cy="488.6" r="1.25"/><circle cx="464.0" cy="488.8" r="1.25"/><circle cx="468.8" cy="488.8" r="1.25"/><circle cx="474.8" cy="488.9" r="1.25"/><circle cx="458.0" cy="488.9" r="1.25"/><circle cx="471.2" cy="489.0" r="1.25"/><circle cx="461.6" cy="489.2" r="1.25"/><circle cx="455.6" cy="489.2" r="1.25"/><circle cx="477.2" cy="489.4" r="1.25"/><circle cx="453.2" cy="489.4" r="1.25"/><circle cx="465.2" cy="489.7" r="1.25"/><circle cx="467.6" cy="489.9" r="1.25"/><circle cx="470.0" cy="489.9" r="1.25"/><circle cx="472.4" cy="489.9" r="1.25"/><circle cx="459.2" cy="489.9" r="1.25"/><circle cx="466.4" cy="490.8" r="1.25"/><circle cx="464.0" cy="490.9" r="1.25"/><circle cx="468.8" cy="491.1" r="1.25"/><circle cx="471.2" cy="491.2" r="1.25"/><circle cx="461.6" cy="491.3" r="1.25"/><circle cx="459.2" cy="491.3" r="1.25"/><circle cx="473.6" cy="491.5" r="1.25"/><circle cx="476.0" cy="491.5" r="1.25"/><circle cx="456.8" cy="491.6" r="1.25"/><circle cx="465.2" cy="491.7" r="1.25"/><circle cx="478.4" cy="491.7" r="1.25"/><circle cx="467.6" cy="491.9" r="1.25"/><circle cx="470.0" cy="492.0" r="1.25"/><circle cx="464.0" cy="492.4" r="1.25"/><circle cx="472.4" cy="492.4" r="1.25"/><circle cx="460.4" cy="492.6" r="1.25"/><circle cx="458.0" cy="492.6" r="1.25"/><circle cx="466.4" cy="493.1" r="1.25"/><circle cx="468.8" cy="493.3" r="1.25"/><circle cx="462.8" cy="493.5" r="1.25"/><circle cx="471.2" cy="493.6" r="1.25"/><circle cx="466.4" cy="495.1" r="1.25"/><circle cx="464.0" cy="495.1" r="1.25"/><circle cx="468.8" cy="495.2" r="1.25"/><circle cx="471.2" cy="495.7" r="1.25"/><circle cx="465.9" cy="310.0" r="1.25"/><circle cx="466.5" cy="320.0" r="1.25"/><circle cx="466.7" cy="324.0" r="1.25"/><circle cx="466.4" cy="351.0" r="1.25"/><circle cx="465.8" cy="361.0" r="1.25"/>
</g>
<g fill="#c4c5c8" stroke="#66686b" stroke-width="1">
<circle cx="518.7" cy="426.0" r="1.25"/><circle cx="518.7" cy="427.5" r="1.25"/><circle cx="521.1" cy="428.1" r="1.25"/><circle cx="517.5" cy="428.8" r="1.25"/><circle cx="519.9" cy="429.0" r="1.25"/><circle cx="518.7" cy="429.9" r="1.25"/><circle cx="521.1" cy="430.4" r="1.25"/><circle cx="518.7" cy="431.4" r="1.25"/><circle cx="521.1" cy="431.9" r="1.25"/><circle cx="516.3" cy="432.0" r="1.25"/><circle cx="523.5" cy="432.1" r="1.25"/><circle cx="513.9" cy="432.1" r="1.25"/><circle cx="518.7" cy="432.4" r="1.25"/><circle cx="515.1" cy="432.9" r="1.25"/><circle cx="518.7" cy="434.2" r="1.25"/><circle cx="516.3" cy="434.3" r="1.25"/><circle cx="519.9" cy="435.0" r="1.25"/><circle cx="518.7" cy="435.7" r="1.25"/><circle cx="516.3" cy="435.8" r="1.25"/><circle cx="521.1" cy="436.1" r="1.25"/><circle cx="523.5" cy="436.4" r="1.25"/><circle cx="518.7" cy="437.3" r="1.25"/><circle cx="521.1" cy="437.8" r="1.25"/><circle cx="517.5" cy="438.4" r="1.25"/><circle cx="518.7" cy="439.1" r="1.25"/><circle cx="517.5" cy="440.0" r="1.25"/><circle cx="519.9" cy="440.0" r="1.25"/><circle cx="518.7" cy="442.0" r="1.25"/><circle cx="516.3" cy="442.2" r="1.25"/><circle cx="521.1" cy="442.6" r="1.25"/><circle cx="523.5" cy="442.7" r="1.25"/><circle cx="513.9" cy="442.7" r="1.25"/><circle cx="517.5" cy="443.2" r="1.25"/><circle cx="518.7" cy="444.4" r="1.25"/><circle cx="521.1" cy="445.0" r="1.25"/><circle cx="517.5" cy="445.6" r="1.25"/><circle cx="518.7" cy="446.4" r="1.25"/><circle cx="516.3" cy="446.8" r="1.25"/><circle cx="521.1" cy="446.9" r="1.25"/><circle cx="523.5" cy="446.9" r="1.25"/><circle cx="513.9" cy="447.2" r="1.25"/><circle cx="517.5" cy="447.8" r="1.25"/><circle cx="519.9" cy="447.9" r="1.25"/><circle cx="515.1" cy="448.3" r="1.25"/><circle cx="522.3" cy="448.4" r="1.25"/><circle cx="512.7" cy="448.4" r="1.25"/><circle cx="524.7" cy="448.6" r="1.25"/><circle cx="518.7" cy="448.8" r="1.25"/><circle cx="510.3" cy="448.8" r="1.25"/><circle cx="521.1" cy="449.5" r="1.25"/><circle cx="517.5" cy="449.6" r="1.25"/><circle cx="513.9" cy="449.6" r="1.25"/><circle cx="523.5" cy="449.9" r="1.25"/><circle cx="511.5" cy="450.2" r="1.25"/><circle cx="518.7" cy="450.4" r="1.25"/><circle cx="516.3" cy="450.5" r="1.25"/><circle cx="525.9" cy="450.5" r="1.25"/><circle cx="509.1" cy="450.6" r="1.25"/><circle cx="522.3" cy="450.7" r="1.25"/><circle cx="528.3" cy="450.7" r="1.25"/><circle cx="513.9" cy="451.0" r="1.25"/><circle cx="519.9" cy="451.5" r="1.25"/><circle cx="517.5" cy="452.0" r="1.25"/><circle cx="521.1" cy="452.5" r="1.25"/><circle cx="518.7" cy="452.8" r="1.25"/><circle cx="516.3" cy="453.2" r="1.25"/><circle cx="522.3" cy="453.4" r="1.25"/><circle cx="513.9" cy="453.4" r="1.25"/><circle cx="517.5" cy="453.9" r="1.25"/><circle cx="519.9" cy="454.0" r="1.25"/><circle cx="524.7" cy="454.0" r="1.25"/><circle cx="511.5" cy="454.1" r="1.25"/><circle cx="527.1" cy="454.1" r="1.25"/><circle cx="509.1" cy="454.2" r="1.25"/><circle cx="515.1" cy="454.2" r="1.25"/><circle cx="529.5" cy="454.2" r="1.25"/><circle cx="506.7" cy="454.4" r="1.25"/><circle cx="531.9" cy="454.4" r="1.25"/><circle cx="504.3" cy="454.5" r="1.25"/><circle cx="534.3" cy="454.7" r="1.25"/><circle cx="518.7" cy="454.9" r="1.25"/><circle cx="516.3" cy="455.1" r="1.25"/><circle cx="521.1" cy="455.2" r="1.25"/><circle cx="523.5" cy="455.2" r="1.25"/><circle cx="513.9" cy="455.5" r="1.25"/><circle cx="511.5" cy="455.6" r="1.25"/><circle cx="525.9" cy="455.7" r="1.25"/><circle cx="509.1" cy="455.8" r="1.25"/><circle cx="517.5" cy="455.9" r="1.25"/><circle cx="519.9" cy="455.9" r="1.25"/><circle cx="522.3" cy="456.0" r="1.25"/><circle cx="528.3" cy="456.1" r="1.25"/><circle cx="506.7" cy="456.2" r="1.25"/><circle cx="515.1" cy="456.2" r="1.25"/><circle cx="512.7" cy="456.4" r="1.25"/><circle cx="530.7" cy="456.4" r="1.25"/><circle cx="504.3" cy="456.4" r="1.25"/><circle cx="533.1" cy="456.5" r="1.25"/><circle cx="524.7" cy="456.5" r="1.25"/><circle cx="510.3" cy="456.6" r="1.25"/><circle cx="501.9" cy="456.6" r="1.25"/><circle cx="518.7" cy="456.7" r="1.25"/><circle cx="521.1" cy="456.8" r="1.25"/><circle cx="516.3" cy="457.0" r="1.25"/><circle cx="523.5" cy="457.3" r="1.25"/><circle cx="513.9" cy="457.3" r="1.25"/><circle cx="511.5" cy="457.4" r="1.25"/><circle cx="525.9" cy="457.4" r="1.25"/><circle cx="509.1" cy="457.5" r="1.25"/><circle cx="519.9" cy="457.7" r="1.25"/><circle cx="528.3" cy="457.7" r="1.25"/><circle cx="517.5" cy="457.8" r="1.25"/><circle cx="506.7" cy="457.8" r="1.25"/><circle cx="530.7" cy="457.9" r="1.25"/><circle cx="533.1" cy="458.0" r="1.25"/><circle cx="504.3" cy="458.0" r="1.25"/><circle cx="522.3" cy="458.0" r="1.25"/><circle cx="515.1" cy="458.1" r="1.25"/><circle cx="512.7" cy="458.2" r="1.25"/><circle cx="524.7" cy="458.4" r="1.25"/><circle cx="510.3" cy="458.5" r="1.25"/><circle cx="518.7" cy="458.7" r="1.25"/><circle cx="521.1" cy="458.8" r="1.25"/><circle cx="516.3" cy="458.9" r="1.25"/><circle cx="527.1" cy="458.9" r="1.25"/><circle cx="523.5" cy="459.2" r="1.25"/><circle cx="513.9" cy="459.2" r="1.25"/><circle cx="529.5" cy="459.2" r="1.25"/><circle cx="511.5" cy="459.4" r="1.25"/><circle cx="509.1" cy="459.5" r="1.25"/><circle cx="519.9" cy="459.5" r="1.25"/><circle cx="506.7" cy="459.5" r="1.25"/><circle cx="517.5" cy="459.7" r="1.25"/><circle cx="522.3" cy="459.9" r="1.25"/><circle cx="515.1" cy="459.9" r="1.25"/><circle cx="524.7" cy="459.9" r="1.25"/><circle cx="528.3" cy="460.1" r="1.25"/><circle cx="512.7" cy="460.3" r="1.25"/><circle cx="510.3" cy="460.3" r="1.25"/><circle cx="507.9" cy="460.3" r="1.25"/><circle cx="518.7" cy="460.6" r="1.25"/><circle cx="521.1" cy="460.6" r="1.25"/><circle cx="530.7" cy="460.6" r="1.25"/><circle cx="505.5" cy="460.7" r="1.25"/><circle cx="516.3" cy="460.9" r="1.25"/><circle cx="523.5" cy="460.9" r="1.25"/><circle cx="525.9" cy="461.0" r="1.25"/><circle cx="533.1" cy="461.0" r="1.25"/><circle cx="513.9" cy="461.2" r="1.25"/><circle cx="511.5" cy="461.2" r="1.25"/><circle cx="509.1" cy="461.2" r="1.25"/><circle cx="503.1" cy="461.3" r="1.25"/><circle cx="535.5" cy="461.3" r="1.25"/><circle cx="519.9" cy="461.4" r="1.25"/><circle cx="529.5" cy="461.4" r="1.25"/><circle cx="506.7" cy="461.4" r="1.25"/><circle cx="500.7" cy="461.5" r="1.25"/><circle cx="537.9" cy="461.5" r="1.25"/><circle cx="517.5" cy="461.8" r="1.25"/><circle cx="522.3" cy="461.8" r="1.25"/><circle cx="524.7" cy="461.9" r="1.25"/><circle cx="515.1" cy="462.0" r="1.25"/><circle cx="512.7" cy="462.0" r="1.25"/><circle cx="510.3" cy="462.0" r="1.25"/><circle cx="527.1" cy="462.0" r="1.25"/><circle cx="531.9" cy="462.1" r="1.25"/><circle cx="504.3" cy="462.1" r="1.25"/><circle cx="534.3" cy="462.1" r="1.25"/><circle cx="498.3" cy="462.1" r="1.25"/><circle cx="501.9" cy="462.1" r="1.25"/><circle cx="499.5" cy="462.2" r="1.25"/><circle cx="507.9" cy="462.2" r="1.25"/><circle cx="509.1" cy="462.2" r="1.25"/><circle cx="536.7" cy="462.3" r="1.25"/><circle cx="539.1" cy="462.3" r="1.25"/><circle cx="535.5" cy="462.3" r="1.25"/><circle cx="513.9" cy="462.4" r="1.25"/><circle cx="501.9" cy="462.4" r="1.25"/><circle cx="516.3" cy="462.5" r="1.25"/><circle cx="505.5" cy="462.5" r="1.25"/><circle cx="509.1" cy="462.5" r="1.25"/><circle cx="528.3" cy="462.5" r="1.25"/><circle cx="518.7" cy="462.6" r="1.25"/><circle cx="521.1" cy="462.7" r="1.25"/><circle cx="523.5" cy="462.7" r="1.25"/><circle cx="511.5" cy="462.7" r="1.25"/><circle cx="525.9" cy="462.8" r="1.25"/><circle cx="530.7" cy="462.8" r="1.25"/><circle cx="533.1" cy="463.0" r="1.25"/><circle cx="503.1" cy="463.1" r="1.25"/><circle cx="500.7" cy="463.2" r="1.25"/><circle cx="517.5" cy="463.4" r="1.25"/><circle cx="519.9" cy="463.4" r="1.25"/><circle cx="515.1" cy="463.4" r="1.25"/><circle cx="506.7" cy="463.4" r="1.25"/><circle cx="537.9" cy="463.5" r="1.25"/><circle cx="522.3" cy="463.6" r="1.25"/><circle cx="524.7" cy="463.6" r="1.25"/><circle cx="512.7" cy="463.7" r="1.25"/><circle cx="510.3" cy="463.7" r="1.25"/><circle cx="527.1" cy="463.9" r="1.25"/><circle cx="529.5" cy="463.9" r="1.25"/><circle cx="531.9" cy="464.0" r="1.25"/><circle cx="504.3" cy="464.0" r="1.25"/><circle cx="534.3" cy="464.1" r="1.25"/><circle cx="518.7" cy="464.3" r="1.25"/><circle cx="516.3" cy="464.4" r="1.25"/><circle cx="521.1" cy="464.4" r="1.25"/><circle cx="513.9" cy="464.4" r="1.25"/><circle cx="523.5" cy="464.4" r="1.25"/><circle cx="511.5" cy="464.5" r="1.25"/><circle cx="509.1" cy="464.6" r="1.25"/><circle cx="525.9" cy="464.7" r="1.25"/><circle cx="528.3" cy="464.7" r="1.25"/><circle cx="530.7" cy="464.8" r="1.25"/><circle cx="506.7" cy="464.9" r="1.25"/><circle cx="533.1" cy="464.9" r="1.25"/><circle cx="503.1" cy="465.1" r="1.25"/><circle cx="519.9" cy="465.2" r="1.25"/><circle cx="517.5" cy="465.3" r="1.25"/><circle cx="522.3" cy="465.3" r="1.25"/><circle cx="515.1" cy="465.4" r="1.25"/><circle cx="524.7" cy="465.4" r="1.25"/><circle cx="512.7" cy="465.4" r="1.25"/><circle cx="510.3" cy="465.5" r="1.25"/><circle cx="527.1" cy="465.7" r="1.25"/><circle cx="507.9" cy="465.7" r="1.25"/><circle cx="529.5" cy="465.8" r="1.25"/><circle cx="531.9" cy="465.9" r="1.25"/><circle cx="518.7" cy="466.0" r="1.25"/><circle cx="521.1" cy="466.0" r="1.25"/><circle cx="516.3" cy="466.1" r="1.25"/><circle cx="505.5" cy="466.1" r="1.25"/><circle cx="513.9" cy="466.2" r="1.25"/><circle cx="523.5" cy="466.3" r="1.25"/><circle cx="525.9" cy="466.5" r="1.25"/><circle cx="511.5" cy="466.5" r="1.25"/><circle cx="509.1" cy="466.6" r="1.25"/><circle cx="517.5" cy="466.8" r="1.25"/><circle cx="519.9" cy="466.9" r="1.25"/><circle cx="515.1" cy="467.0" r="1.25"/><circle cx="528.3" cy="467.0" r="1.25"/><circle cx="506.7" cy="467.0" r="1.25"/><circle cx="522.3" cy="467.1" r="1.25"/><circle cx="512.7" cy="467.3" r="1.25"/><circle cx="524.7" cy="467.3" r="1.25"/><circle cx="510.3" cy="467.4" r="1.25"/><circle cx="530.7" cy="467.5" r="1.25"/><circle cx="504.3" cy="467.6" r="1.25"/><circle cx="518.7" cy="467.8" r="1.25"/><circle cx="516.3" cy="467.8" r="1.25"/><circle cx="521.1" cy="467.8" r="1.25"/><circle cx="527.1" cy="467.9" r="1.25"/><circle cx="507.9" cy="468.0" r="1.25"/><circle cx="513.9" cy="468.1" r="1.25"/><circle cx="523.5" cy="468.2" r="1.25"/><circle cx="511.5" cy="468.3" r="1.25"/><circle cx="529.5" cy="468.4" r="1.25"/><circle cx="517.5" cy="468.6" r="1.25"/><circle cx="519.9" cy="468.6" r="1.25"/><circle cx="525.9" cy="468.6" r="1.25"/><circle cx="515.1" cy="468.9" r="1.25"/><circle cx="509.1" cy="468.9" r="1.25"/><circle cx="506.7" cy="468.9" r="1.25"/><circle cx="522.3" cy="469.0" r="1.25"/><circle cx="512.7" cy="469.1" r="1.25"/><circle cx="528.3" cy="469.2" r="1.25"/><circle cx="530.7" cy="469.2" r="1.25"/><circle cx="504.3" cy="469.2" r="1.25"/><circle cx="533.1" cy="469.2" r="1.25"/><circle cx="501.9" cy="469.3" r="1.25"/><circle cx="535.5" cy="469.4" r="1.25"/><circle cx="518.7" cy="469.4" r="1.25"/><circle cx="524.7" cy="469.5" r="1.25"/><circle cx="537.9" cy="469.5" r="1.25"/><circle cx="516.3" cy="469.6" r="1.25"/><circle cx="510.3" cy="469.7" r="1.25"/><circle cx="507.9" cy="469.7" r="1.25"/><circle cx="499.5" cy="469.7" r="1.25"/><circle cx="519.9" cy="469.7" r="1.25"/><circle cx="506.7" cy="469.8" r="1.25"/><circle cx="530.7" cy="469.8" r="1.25"/><circle cx="506.7" cy="469.8" r="1.25"/><circle cx="513.9" cy="469.9" r="1.25"/><circle cx="527.1" cy="470.0" r="1.25"/><circle cx="503.1" cy="470.1" r="1.25"/><circle cx="534.3" cy="470.1" r="1.25"/><circle cx="523.5" cy="470.2" r="1.25"/><circle cx="536.7" cy="470.3" r="1.25"/><circle cx="517.5" cy="470.4" r="1.25"/><circle cx="521.1" cy="470.5" r="1.25"/><circle cx="511.5" cy="470.6" r="1.25"/><circle cx="515.1" cy="470.6" r="1.25"/><circle cx="525.9" cy="470.7" r="1.25"/><circle cx="528.3" cy="470.8" r="1.25"/><circle cx="509.1" cy="470.9" r="1.25"/><circle cx="531.9" cy="471.0" r="1.25"/><circle cx="505.5" cy="471.0" r="1.25"/><circle cx="518.7" cy="471.2" r="1.25"/><circle cx="522.3" cy="471.2" r="1.25"/><circle cx="535.5" cy="471.3" r="1.25"/><circle cx="501.9" cy="471.3" r="1.25"/><circle cx="512.7" cy="471.3" r="1.25"/><circle cx="516.3" cy="471.3" r="1.25"/><circle cx="499.5" cy="471.4" r="1.25"/><circle cx="537.9" cy="471.4" r="1.25"/><circle cx="512.7" cy="471.4" r="1.25"/><circle cx="535.5" cy="471.4" r="1.25"/><circle cx="524.7" cy="471.5" r="1.25"/><circle cx="527.1" cy="471.6" r="1.25"/><circle cx="529.5" cy="471.6" r="1.25"/><circle cx="510.3" cy="471.7" r="1.25"/><circle cx="507.9" cy="471.7" r="1.25"/><circle cx="511.5" cy="471.7" r="1.25"/><circle cx="533.1" cy="471.8" r="1.25"/><circle cx="519.9" cy="472.0" r="1.25"/><circle cx="517.5" cy="472.1" r="1.25"/><circle cx="515.1" cy="472.2" r="1.25"/><circle cx="523.5" cy="472.4" r="1.25"/><circle cx="525.9" cy="472.5" r="1.25"/><circle cx="528.3" cy="472.5" r="1.25"/><circle cx="509.1" cy="472.6" r="1.25"/><circle cx="521.1" cy="472.8" r="1.25"/><circle cx="518.7" cy="472.9" r="1.25"/><circle cx="512.7" cy="472.9" r="1.25"/><circle cx="506.7" cy="472.9" r="1.25"/><circle cx="516.3" cy="473.0" r="1.25"/><circle cx="530.7" cy="473.1" r="1.25"/><circle cx="524.7" cy="473.2" r="1.25"/><circle cx="527.1" cy="473.3" r="1.25"/><circle cx="533.1" cy="473.3" r="1.25"/><circle cx="510.3" cy="473.3" r="1.25"/><circle cx="522.3" cy="473.5" r="1.25"/><circle cx="519.9" cy="473.6" r="1.25"/><circle cx="513.9" cy="473.7" r="1.25"/><circle cx="517.5" cy="473.9" r="1.25"/><circle cx="507.9" cy="473.9" r="1.25"/><circle cx="529.5" cy="473.9" r="1.25"/><circle cx="505.5" cy="474.0" r="1.25"/><circle cx="503.1" cy="474.0" r="1.25"/><circle cx="525.9" cy="474.0" r="1.25"/><circle cx="511.5" cy="474.1" r="1.25"/><circle cx="531.9" cy="474.2" r="1.25"/><circle cx="523.5" cy="474.2" r="1.25"/><circle cx="521.1" cy="474.5" r="1.25"/><circle cx="515.1" cy="474.5" r="1.25"/><circle cx="518.7" cy="474.8" r="1.25"/><circle cx="527.1" cy="474.8" r="1.25"/><circle cx="512.7" cy="474.8" r="1.25"/><circle cx="510.3" cy="474.8" r="1.25"/><circle cx="506.7" cy="474.9" r="1.25"/><circle cx="524.7" cy="475.1" r="1.25"/><circle cx="530.7" cy="475.1" r="1.25"/><circle cx="516.3" cy="475.3" r="1.25"/><circle cx="522.3" cy="475.3" r="1.25"/><circle cx="504.3" cy="475.4" r="1.25"/><circle cx="533.1" cy="475.4" r="1.25"/><circle cx="519.9" cy="475.6" r="1.25"/><circle cx="513.9" cy="475.6" r="1.25"/><circle cx="511.5" cy="475.7" r="1.25"/><circle cx="528.3" cy="475.7" r="1.25"/><circle cx="509.1" cy="475.7" r="1.25"/><circle cx="525.9" cy="475.8" r="1.25"/><circle cx="501.9" cy="475.9" r="1.25"/><circle cx="535.5" cy="475.9" r="1.25"/><circle cx="517.5" cy="476.2" r="1.25"/><circle cx="521.1" cy="476.3" r="1.25"/><circle cx="515.1" cy="476.3" r="1.25"/><circle cx="523.5" cy="476.4" r="1.25"/><circle cx="506.7" cy="476.4" r="1.25"/><circle cx="531.9" cy="476.4" r="1.25"/><circle cx="512.7" cy="476.5" r="1.25"/><circle cx="510.3" cy="476.7" r="1.25"/><circle cx="527.1" cy="476.8" r="1.25"/><circle cx="529.5" cy="476.9" r="1.25"/><circle cx="518.7" cy="476.9" r="1.25"/><circle cx="504.3" cy="476.9" r="1.25"/><circle cx="516.3" cy="477.1" r="1.25"/><circle cx="522.3" cy="477.1" r="1.25"/><circle cx="524.7" cy="477.1" r="1.25"/><circle cx="513.9" cy="477.3" r="1.25"/><circle cx="507.9" cy="477.3" r="1.25"/><circle cx="533.1" cy="477.4" r="1.25"/><circle cx="511.5" cy="477.5" r="1.25"/><circle cx="535.5" cy="477.6" r="1.25"/><circle cx="519.9" cy="477.7" r="1.25"/><circle cx="528.3" cy="477.7" r="1.25"/><circle cx="530.7" cy="477.8" r="1.25"/><circle cx="517.5" cy="477.8" r="1.25"/><circle cx="505.5" cy="477.8" r="1.25"/><circle cx="523.5" cy="477.9" r="1.25"/><circle cx="515.1" cy="478.0" r="1.25"/><circle cx="525.9" cy="478.0" r="1.25"/><circle cx="509.1" cy="478.2" r="1.25"/><circle cx="512.7" cy="478.2" r="1.25"/><circle cx="503.1" cy="478.3" r="1.25"/><circle cx="534.3" cy="478.3" r="1.25"/><circle cx="521.1" cy="478.5" r="1.25"/><circle cx="529.5" cy="478.5" r="1.25"/><circle cx="531.9" cy="478.5" r="1.25"/><circle cx="518.7" cy="478.6" r="1.25"/><circle cx="516.3" cy="478.7" r="1.25"/><circle cx="524.7" cy="478.9" r="1.25"/><circle cx="513.9" cy="479.0" r="1.25"/><circle cx="522.3" cy="479.3" r="1.25"/><circle cx="511.5" cy="479.3" r="1.25"/><circle cx="519.9" cy="479.3" r="1.25"/><circle cx="527.1" cy="479.5" r="1.25"/><circle cx="517.5" cy="479.5" r="1.25"/><circle cx="507.9" cy="479.5" r="1.25"/><circle cx="530.7" cy="479.5" r="1.25"/><circle cx="505.5" cy="479.6" r="1.25"/><circle cx="533.1" cy="479.7" r="1.25"/><circle cx="515.1" cy="479.9" r="1.25"/><circle cx="523.5" cy="480.0" r="1.25"/><circle cx="521.1" cy="480.1" r="1.25"/><circle cx="512.7" cy="480.2" r="1.25"/><circle cx="518.7" cy="480.2" r="1.25"/><circle cx="525.9" cy="480.3" r="1.25"/><circle cx="510.3" cy="480.3" r="1.25"/><circle cx="528.3" cy="480.4" r="1.25"/><circle cx="506.7" cy="480.5" r="1.25"/><circle cx="531.9" cy="480.5" r="1.25"/><circle cx="516.3" cy="480.6" r="1.25"/><circle cx="504.3" cy="480.6" r="1.25"/><circle cx="534.3" cy="480.7" r="1.25"/><circle cx="522.3" cy="480.9" r="1.25"/><circle cx="513.9" cy="480.9" r="1.25"/><circle cx="519.9" cy="480.9" r="1.25"/><circle cx="523.5" cy="480.9" r="1.25"/><circle cx="519.9" cy="481.0" r="1.25"/><circle cx="511.5" cy="481.0" r="1.25"/><circle cx="527.1" cy="481.3" r="1.25"/><circle cx="517.5" cy="481.4" r="1.25"/><circle cx="509.1" cy="481.5" r="1.25"/><circle cx="515.1" cy="481.6" r="1.25"/><circle cx="521.1" cy="481.8" r="1.25"/><circle cx="524.7" cy="481.9" r="1.25"/><circle cx="512.7" cy="482.0" r="1.25"/><circle cx="528.3" cy="482.0" r="1.25"/><circle cx="518.7" cy="482.3" r="1.25"/><circle cx="510.3" cy="482.3" r="1.25"/><circle cx="516.3" cy="482.5" r="1.25"/><circle cx="522.3" cy="482.8" r="1.25"/><circle cx="513.9" cy="482.8" r="1.25"/><circle cx="519.9" cy="483.0" r="1.25"/><circle cx="511.5" cy="483.1" r="1.25"/><circle cx="525.9" cy="483.1" r="1.25"/><circle cx="517.5" cy="483.5" r="1.25"/><circle cx="528.3" cy="483.5" r="1.25"/><circle cx="509.1" cy="483.5" r="1.25"/><circle cx="521.1" cy="483.9" r="1.25"/><circle cx="515.1" cy="484.0" r="1.25"/><circle cx="523.5" cy="484.1" r="1.25"/><circle cx="512.7" cy="484.1" r="1.25"/><circle cx="518.7" cy="484.3" r="1.25"/><circle cx="527.1" cy="484.4" r="1.25"/><circle cx="510.3" cy="484.5" r="1.25"/><circle cx="507.9" cy="484.6" r="1.25"/><circle cx="529.5" cy="484.7" r="1.25"/><circle cx="516.3" cy="484.7" r="1.25"/><circle cx="522.3" cy="484.9" r="1.25"/><circle cx="513.9" cy="485.0" r="1.25"/><circle cx="519.9" cy="485.3" r="1.25"/><circle cx="524.7" cy="485.3" r="1.25"/><circle cx="511.5" cy="485.3" r="1.25"/><circle cx="509.1" cy="485.4" r="1.25"/><circle cx="517.5" cy="485.5" r="1.25"/><circle cx="528.3" cy="485.6" r="1.25"/><circle cx="506.7" cy="485.7" r="1.25"/><circle cx="530.7" cy="485.7" r="1.25"/><circle cx="515.1" cy="486.0" r="1.25"/><circle cx="521.1" cy="486.0" r="1.25"/><circle cx="523.5" cy="486.1" r="1.25"/><circle cx="512.7" cy="486.1" r="1.25"/><circle cx="525.9" cy="486.2" r="1.25"/><circle cx="518.7" cy="486.2" r="1.25"/><circle cx="510.3" cy="486.2" r="1.25"/><circle cx="517.5" cy="487.0" r="1.25"/><circle cx="519.9" cy="487.7" r="1.25"/><circle cx="515.1" cy="487.7" r="1.25"/><circle cx="522.3" cy="488.0" r="1.25"/><circle cx="518.7" cy="488.7" r="1.25"/><circle cx="516.3" cy="488.7" r="1.25"/><circle cx="519.9" cy="489.7" r="1.25"/><circle cx="517.5" cy="490.0" r="1.25"/><circle cx="522.3" cy="490.5" r="1.25"/><circle cx="518.7" cy="491.7" r="1.25"/><circle cx="516.3" cy="491.9" r="1.25"/><circle cx="521.1" cy="492.0" r="1.25"/><circle cx="523.5" cy="492.0" r="1.25"/><circle cx="513.9" cy="492.1" r="1.25"/><circle cx="519.9" cy="492.8" r="1.25"/><circle cx="518.7" cy="494.3" r="1.25"/><circle cx="518.8" cy="372.0" r="1.25"/><circle cx="518.6" cy="381.0" r="1.25"/><circle cx="518.1" cy="404.0" r="1.25"/><circle cx="518.9" cy="410.0" r="1.25"/><circle cx="519.0" cy="414.0" r="1.25"/><circle cx="518.6" cy="418.0" r="1.25"/>
</g>
<g fill="#cbdcf0" stroke="#4f88ca" stroke-width="1">
<circle cx="571.0" cy="400.4" r="1.25"/><circle cx="571.0" cy="403.1" r="1.25"/><circle cx="575.0" cy="403.2" r="1.25"/><circle cx="567.0" cy="404.1" r="1.25"/><circle cx="571.0" cy="406.2" r="1.25"/><circle cx="573.0" cy="408.2" r="1.25"/><circle cx="569.0" cy="408.8" r="1.25"/><circle cx="577.0" cy="409.0" r="1.25"/><circle cx="571.0" cy="410.1" r="1.25"/><circle cx="569.0" cy="412.3" r="1.25"/><circle cx="571.0" cy="413.9" r="1.25"/><circle cx="573.0" cy="415.2" r="1.25"/><circle cx="569.0" cy="415.9" r="1.25"/><circle cx="565.0" cy="416.5" r="1.25"/><circle cx="571.0" cy="417.9" r="1.25"/><circle cx="575.0" cy="418.1" r="1.25"/><circle cx="567.0" cy="418.9" r="1.25"/><circle cx="571.0" cy="420.5" r="1.25"/><circle cx="575.0" cy="421.5" r="1.25"/><circle cx="571.0" cy="424.5" r="1.25"/><circle cx="567.0" cy="424.9" r="1.25"/><circle cx="573.0" cy="426.2" r="1.25"/><circle cx="569.0" cy="426.5" r="1.25"/><circle cx="577.0" cy="426.9" r="1.25"/><circle cx="565.0" cy="427.1" r="1.25"/><circle cx="561.0" cy="427.2" r="1.25"/><circle cx="581.0" cy="427.6" r="1.25"/><circle cx="577.0" cy="427.7" r="1.25"/><circle cx="571.0" cy="429.2" r="1.25"/><circle cx="575.0" cy="429.9" r="1.25"/><circle cx="567.0" cy="430.2" r="1.25"/><circle cx="563.0" cy="430.5" r="1.25"/><circle cx="579.0" cy="430.6" r="1.25"/><circle cx="569.0" cy="431.6" r="1.25"/><circle cx="573.0" cy="432.8" r="1.25"/><circle cx="577.0" cy="432.9" r="1.25"/><circle cx="567.0" cy="432.9" r="1.25"/><circle cx="563.0" cy="433.0" r="1.25"/><circle cx="571.0" cy="434.4" r="1.25"/><circle cx="575.0" cy="434.4" r="1.25"/><circle cx="565.0" cy="434.6" r="1.25"/><circle cx="579.0" cy="434.7" r="1.25"/><circle cx="561.0" cy="435.0" r="1.25"/><circle cx="583.0" cy="435.2" r="1.25"/><circle cx="573.0" cy="435.8" r="1.25"/><circle cx="569.0" cy="436.2" r="1.25"/><circle cx="577.0" cy="436.4" r="1.25"/><circle cx="565.0" cy="437.3" r="1.25"/><circle cx="571.0" cy="439.7" r="1.25"/><circle cx="575.0" cy="439.7" r="1.25"/><circle cx="567.0" cy="440.9" r="1.25"/><circle cx="563.0" cy="441.0" r="1.25"/><circle cx="573.0" cy="441.1" r="1.25"/><circle cx="577.0" cy="442.1" r="1.25"/><circle cx="569.0" cy="442.2" r="1.25"/><circle cx="565.0" cy="442.3" r="1.25"/><circle cx="581.0" cy="442.5" r="1.25"/><circle cx="573.0" cy="443.5" r="1.25"/><circle cx="567.0" cy="444.0" r="1.25"/><circle cx="563.0" cy="444.1" r="1.25"/><circle cx="577.0" cy="444.9" r="1.25"/><circle cx="571.0" cy="445.3" r="1.25"/><circle cx="581.0" cy="445.3" r="1.25"/><circle cx="575.0" cy="446.5" r="1.25"/><circle cx="569.0" cy="446.6" r="1.25"/><circle cx="565.0" cy="447.2" r="1.25"/><circle cx="579.0" cy="447.4" r="1.25"/><circle cx="561.0" cy="447.5" r="1.25"/><circle cx="573.0" cy="447.9" r="1.25"/><circle cx="583.0" cy="448.4" r="1.25"/><circle cx="567.0" cy="448.8" r="1.25"/><circle cx="577.0" cy="448.8" r="1.25"/><circle cx="563.0" cy="448.9" r="1.25"/><circle cx="559.0" cy="448.9" r="1.25"/><circle cx="571.0" cy="449.3" r="1.25"/><circle cx="581.0" cy="449.8" r="1.25"/><circle cx="573.0" cy="450.8" r="1.25"/><circle cx="569.0" cy="450.9" r="1.25"/><circle cx="565.0" cy="451.1" r="1.25"/><circle cx="579.0" cy="451.1" r="1.25"/><circle cx="561.0" cy="451.3" r="1.25"/><circle cx="583.0" cy="451.3" r="1.25"/><circle cx="557.0" cy="451.8" r="1.25"/><circle cx="571.0" cy="452.3" r="1.25"/><circle cx="567.0" cy="452.8" r="1.25"/><circle cx="575.0" cy="453.0" r="1.25"/><circle cx="563.0" cy="453.1" r="1.25"/><circle cx="581.0" cy="453.3" r="1.25"/><circle cx="559.0" cy="453.8" r="1.25"/><circle cx="585.0" cy="454.0" r="1.25"/><circle cx="569.0" cy="454.3" r="1.25"/><circle cx="555.0" cy="454.3" r="1.25"/><circle cx="589.0" cy="454.3" r="1.25"/><circle cx="573.0" cy="454.6" r="1.25"/><circle cx="577.0" cy="455.4" r="1.25"/><circle cx="567.0" cy="455.7" r="1.25"/><circle cx="571.0" cy="456.1" r="1.25"/><circle cx="563.0" cy="456.5" r="1.25"/><circle cx="575.0" cy="456.9" r="1.25"/><circle cx="579.0" cy="457.1" r="1.25"/><circle cx="559.0" cy="457.1" r="1.25"/><circle cx="583.0" cy="457.1" r="1.25"/><circle cx="569.0" cy="457.6" r="1.25"/><circle cx="587.0" cy="457.8" r="1.25"/><circle cx="565.0" cy="458.1" r="1.25"/><circle cx="555.0" cy="458.1" r="1.25"/><circle cx="573.0" cy="458.7" r="1.25"/><circle cx="577.0" cy="458.7" r="1.25"/><circle cx="581.0" cy="458.9" r="1.25"/><circle cx="561.0" cy="459.2" r="1.25"/><circle cx="585.0" cy="459.3" r="1.25"/><circle cx="567.0" cy="459.4" r="1.25"/><circle cx="571.0" cy="460.3" r="1.25"/><circle cx="575.0" cy="460.4" r="1.25"/><circle cx="579.0" cy="460.7" r="1.25"/><circle cx="563.0" cy="460.7" r="1.25"/><circle cx="559.0" cy="461.3" r="1.25"/><circle cx="569.0" cy="461.9" r="1.25"/><circle cx="573.0" cy="462.0" r="1.25"/><circle cx="577.0" cy="462.1" r="1.25"/><circle cx="565.0" cy="462.5" r="1.25"/><circle cx="581.0" cy="462.6" r="1.25"/><circle cx="571.0" cy="463.7" r="1.25"/><circle cx="567.0" cy="463.9" r="1.25"/><circle cx="575.0" cy="464.0" r="1.25"/><circle cx="579.0" cy="464.0" r="1.25"/><circle cx="563.0" cy="464.1" r="1.25"/><circle cx="559.0" cy="464.4" r="1.25"/><circle cx="583.0" cy="464.4" r="1.25"/><circle cx="587.0" cy="464.4" r="1.25"/><circle cx="555.0" cy="464.7" r="1.25"/><circle cx="551.0" cy="465.1" r="1.25"/><circle cx="573.0" cy="465.4" r="1.25"/><circle cx="569.0" cy="465.6" r="1.25"/><circle cx="577.0" cy="465.6" r="1.25"/><circle cx="565.0" cy="465.7" r="1.25"/><circle cx="581.0" cy="466.2" r="1.25"/><circle cx="561.0" cy="466.3" r="1.25"/><circle cx="557.0" cy="466.5" r="1.25"/><circle cx="585.0" cy="466.9" r="1.25"/><circle cx="571.0" cy="467.1" r="1.25"/><circle cx="575.0" cy="467.3" r="1.25"/><circle cx="567.0" cy="467.5" r="1.25"/><circle cx="579.0" cy="467.5" r="1.25"/><circle cx="563.0" cy="468.1" r="1.25"/><circle cx="559.0" cy="468.1" r="1.25"/><circle cx="583.0" cy="468.4" r="1.25"/><circle cx="555.0" cy="468.5" r="1.25"/><circle cx="587.0" cy="468.6" r="1.25"/><circle cx="573.0" cy="468.7" r="1.25"/><circle cx="551.0" cy="468.7" r="1.25"/><circle cx="569.0" cy="469.4" r="1.25"/><circle cx="577.0" cy="469.8" r="1.25"/><circle cx="565.0" cy="469.9" r="1.25"/><circle cx="581.0" cy="470.0" r="1.25"/><circle cx="561.0" cy="470.1" r="1.25"/><circle cx="585.0" cy="470.2" r="1.25"/><circle cx="557.0" cy="470.6" r="1.25"/><circle cx="553.0" cy="470.7" r="1.25"/><circle cx="589.0" cy="470.7" r="1.25"/><circle cx="571.0" cy="470.8" r="1.25"/><circle cx="579.0" cy="470.9" r="1.25"/><circle cx="575.0" cy="471.1" r="1.25"/><circle cx="573.0" cy="471.1" r="1.25"/><circle cx="567.0" cy="471.5" r="1.25"/><circle cx="563.0" cy="471.6" r="1.25"/><circle cx="559.0" cy="472.1" r="1.25"/><circle cx="583.0" cy="472.1" r="1.25"/><circle cx="555.0" cy="472.4" r="1.25"/><circle cx="577.0" cy="472.4" r="1.25"/><circle cx="587.0" cy="472.5" r="1.25"/><circle cx="591.0" cy="472.7" r="1.25"/><circle cx="571.0" cy="473.2" r="1.25"/><circle cx="565.0" cy="473.5" r="1.25"/><circle cx="561.0" cy="473.7" r="1.25"/><circle cx="575.0" cy="473.9" r="1.25"/><circle cx="579.0" cy="474.0" r="1.25"/><circle cx="569.0" cy="474.9" r="1.25"/><circle cx="573.0" cy="475.4" r="1.25"/><circle cx="577.0" cy="475.4" r="1.25"/><circle cx="563.0" cy="475.8" r="1.25"/><circle cx="581.0" cy="475.8" r="1.25"/><circle cx="559.0" cy="475.9" r="1.25"/><circle cx="571.0" cy="476.9" r="1.25"/><circle cx="575.0" cy="476.9" r="1.25"/><circle cx="567.0" cy="476.9" r="1.25"/><circle cx="585.0" cy="477.0" r="1.25"/><circle cx="555.0" cy="477.1" r="1.25"/><circle cx="579.0" cy="477.2" r="1.25"/><circle cx="561.0" cy="477.3" r="1.25"/><circle cx="569.0" cy="478.5" r="1.25"/><circle cx="573.0" cy="478.6" r="1.25"/><circle cx="577.0" cy="479.1" r="1.25"/><circle cx="567.0" cy="479.8" r="1.25"/><circle cx="571.0" cy="480.0" r="1.25"/><circle cx="563.0" cy="480.2" r="1.25"/><circle cx="575.0" cy="480.5" r="1.25"/><circle cx="579.0" cy="481.3" r="1.25"/><circle cx="569.0" cy="481.5" r="1.25"/><circle cx="583.0" cy="481.5" r="1.25"/><circle cx="565.0" cy="481.6" r="1.25"/><circle cx="573.0" cy="482.3" r="1.25"/><circle cx="561.0" cy="482.3" r="1.25"/><circle cx="557.0" cy="482.3" r="1.25"/><circle cx="587.0" cy="482.5" r="1.25"/><circle cx="577.0" cy="482.8" r="1.25"/><circle cx="567.0" cy="483.4" r="1.25"/><circle cx="581.0" cy="483.5" r="1.25"/><circle cx="571.0" cy="483.8" r="1.25"/><circle cx="563.0" cy="483.9" r="1.25"/><circle cx="575.0" cy="484.3" r="1.25"/><circle cx="559.0" cy="484.6" r="1.25"/><circle cx="569.0" cy="485.3" r="1.25"/><circle cx="565.0" cy="485.6" r="1.25"/><circle cx="573.0" cy="485.7" r="1.25"/><circle cx="577.0" cy="485.8" r="1.25"/><circle cx="561.0" cy="486.0" r="1.25"/><circle cx="581.0" cy="486.3" r="1.25"/><circle cx="571.0" cy="487.0" r="1.25"/><circle cx="575.0" cy="487.2" r="1.25"/><circle cx="567.0" cy="487.4" r="1.25"/><circle cx="563.0" cy="487.4" r="1.25"/><circle cx="559.0" cy="487.6" r="1.25"/><circle cx="579.0" cy="487.8" r="1.25"/><circle cx="583.0" cy="488.0" r="1.25"/><circle cx="555.0" cy="488.1" r="1.25"/><circle cx="573.0" cy="488.6" r="1.25"/><circle cx="569.0" cy="488.8" r="1.25"/><circle cx="565.0" cy="488.9" r="1.25"/><circle cx="561.0" cy="489.0" r="1.25"/><circle cx="577.0" cy="489.4" r="1.25"/><circle cx="581.0" cy="489.6" r="1.25"/><circle cx="557.0" cy="489.7" r="1.25"/><circle cx="585.0" cy="490.0" r="1.25"/><circle cx="571.0" cy="493.6" r="1.25"/><circle cx="571.0" cy="496.5" r="1.25"/><circle cx="570.6" cy="327.0" r="1.25"/><circle cx="570.8" cy="330.0" r="1.25"/><circle cx="570.7" cy="356.0" r="1.25"/><circle cx="570.6" cy="359.0" r="1.25"/><circle cx="571.2" cy="372.0" r="1.25"/><circle cx="571.1" cy="379.0" r="1.25"/><circle cx="571.4" cy="388.0" r="1.25"/><circle cx="571.6" cy="394.0" r="1.25"/><circle cx="570.7" cy="397.0" r="1.25"/>
</g>
<g fill="#9bb2c9" stroke="#446a90" stroke-width="1">
<circle cx="623.2" cy="376.0" r="1.25"/><circle cx="623.2" cy="377.9" r="1.25"/><circle cx="623.2" cy="381.8" r="1.25"/><circle cx="623.2" cy="385.6" r="1.25"/><circle cx="623.2" cy="393.9" r="1.25"/><circle cx="622.1" cy="395.0" r="1.25"/><circle cx="623.2" cy="402.4" r="1.25"/><circle cx="622.1" cy="403.4" r="1.25"/><circle cx="623.2" cy="409.8" r="1.25"/><circle cx="623.2" cy="415.3" r="1.25"/><circle cx="623.2" cy="417.5" r="1.25"/><circle cx="625.4" cy="417.6" r="1.25"/><circle cx="621.0" cy="417.7" r="1.25"/><circle cx="618.8" cy="417.8" r="1.25"/><circle cx="623.2" cy="419.2" r="1.25"/><circle cx="621.0" cy="419.5" r="1.25"/><circle cx="624.3" cy="419.9" r="1.25"/><circle cx="623.2" cy="422.3" r="1.25"/><circle cx="623.2" cy="424.1" r="1.25"/><circle cx="621.0" cy="424.7" r="1.25"/><circle cx="624.3" cy="424.9" r="1.25"/><circle cx="626.5" cy="425.1" r="1.25"/><circle cx="623.2" cy="426.3" r="1.25"/><circle cx="623.2" cy="429.3" r="1.25"/><circle cx="622.1" cy="430.1" r="1.25"/><circle cx="624.3" cy="430.6" r="1.25"/><circle cx="623.2" cy="431.7" r="1.25"/><circle cx="625.4" cy="431.9" r="1.25"/><circle cx="621.0" cy="432.1" r="1.25"/><circle cx="618.8" cy="432.2" r="1.25"/><circle cx="627.6" cy="432.2" r="1.25"/><circle cx="629.8" cy="432.2" r="1.25"/><circle cx="623.2" cy="434.0" r="1.25"/><circle cx="625.4" cy="434.0" r="1.25"/><circle cx="621.0" cy="434.4" r="1.25"/><circle cx="624.3" cy="435.0" r="1.25"/><circle cx="622.1" cy="435.5" r="1.25"/><circle cx="619.9" cy="435.6" r="1.25"/><circle cx="623.2" cy="437.5" r="1.25"/><circle cx="625.4" cy="437.8" r="1.25"/><circle cx="621.0" cy="437.8" r="1.25"/><circle cx="627.6" cy="438.0" r="1.25"/><circle cx="623.2" cy="439.4" r="1.25"/><circle cx="625.4" cy="440.0" r="1.25"/><circle cx="622.1" cy="440.1" r="1.25"/><circle cx="619.9" cy="440.3" r="1.25"/><circle cx="627.6" cy="440.5" r="1.25"/><circle cx="617.7" cy="440.7" r="1.25"/><circle cx="624.3" cy="440.7" r="1.25"/><circle cx="629.8" cy="440.8" r="1.25"/><circle cx="615.5" cy="440.9" r="1.25"/><circle cx="621.0" cy="441.0" r="1.25"/><circle cx="623.2" cy="441.7" r="1.25"/><circle cx="625.4" cy="441.7" r="1.25"/><circle cx="619.9" cy="441.7" r="1.25"/><circle cx="627.6" cy="441.8" r="1.25"/><circle cx="617.7" cy="442.1" r="1.25"/><circle cx="629.8" cy="442.2" r="1.25"/><circle cx="624.3" cy="442.5" r="1.25"/><circle cx="622.1" cy="442.5" r="1.25"/><circle cx="626.5" cy="442.6" r="1.25"/><circle cx="618.8" cy="442.8" r="1.25"/><circle cx="628.7" cy="443.1" r="1.25"/><circle cx="623.2" cy="443.2" r="1.25"/><circle cx="625.4" cy="443.5" r="1.25"/><circle cx="621.0" cy="443.9" r="1.25"/><circle cx="618.8" cy="444.2" r="1.25"/><circle cx="627.6" cy="444.2" r="1.25"/><circle cx="624.3" cy="444.5" r="1.25"/><circle cx="622.1" cy="444.6" r="1.25"/><circle cx="629.8" cy="444.6" r="1.25"/><circle cx="616.6" cy="444.7" r="1.25"/><circle cx="614.4" cy="444.7" r="1.25"/><circle cx="626.5" cy="445.0" r="1.25"/><circle cx="619.9" cy="445.2" r="1.25"/><circle cx="632.0" cy="445.2" r="1.25"/><circle cx="623.2" cy="445.5" r="1.25"/><circle cx="621.0" cy="446.1" r="1.25"/><circle cx="624.3" cy="446.7" r="1.25"/><circle cx="622.1" cy="446.9" r="1.25"/><circle cx="619.9" cy="447.1" r="1.25"/><circle cx="626.5" cy="447.2" r="1.25"/><circle cx="617.7" cy="447.3" r="1.25"/><circle cx="628.7" cy="447.5" r="1.25"/><circle cx="630.9" cy="447.6" r="1.25"/><circle cx="623.2" cy="447.8" r="1.25"/><circle cx="621.0" cy="447.9" r="1.25"/><circle cx="625.4" cy="447.9" r="1.25"/><circle cx="615.5" cy="447.9" r="1.25"/><circle cx="613.3" cy="448.0" r="1.25"/><circle cx="618.8" cy="448.0" r="1.25"/><circle cx="627.6" cy="448.2" r="1.25"/><circle cx="633.1" cy="448.2" r="1.25"/><circle cx="629.8" cy="448.3" r="1.25"/><circle cx="611.1" cy="448.4" r="1.25"/><circle cx="635.3" cy="448.4" r="1.25"/><circle cx="622.1" cy="448.7" r="1.25"/><circle cx="624.3" cy="448.7" r="1.25"/><circle cx="619.9" cy="449.0" r="1.25"/><circle cx="626.5" cy="449.2" r="1.25"/><circle cx="617.7" cy="449.3" r="1.25"/><circle cx="623.2" cy="449.5" r="1.25"/><circle cx="621.0" cy="449.8" r="1.25"/><circle cx="628.7" cy="449.9" r="1.25"/><circle cx="625.4" cy="450.2" r="1.25"/><circle cx="618.8" cy="450.4" r="1.25"/><circle cx="623.2" cy="451.1" r="1.25"/><circle cx="621.0" cy="451.1" r="1.25"/><circle cx="626.5" cy="451.3" r="1.25"/><circle cx="617.7" cy="451.5" r="1.25"/><circle cx="628.7" cy="451.7" r="1.25"/><circle cx="624.3" cy="451.9" r="1.25"/><circle cx="622.1" cy="452.0" r="1.25"/><circle cx="619.9" cy="452.4" r="1.25"/><circle cx="623.2" cy="452.7" r="1.25"/><circle cx="625.4" cy="452.7" r="1.25"/><circle cx="627.6" cy="452.8" r="1.25"/><circle cx="617.7" cy="453.0" r="1.25"/><circle cx="621.0" cy="453.2" r="1.25"/><circle cx="629.8" cy="453.2" r="1.25"/><circle cx="615.5" cy="453.2" r="1.25"/><circle cx="632.0" cy="453.2" r="1.25"/><circle cx="613.3" cy="453.4" r="1.25"/><circle cx="624.3" cy="453.6" r="1.25"/><circle cx="626.5" cy="453.8" r="1.25"/><circle cx="618.8" cy="453.8" r="1.25"/><circle cx="634.2" cy="453.8" r="1.25"/><circle cx="611.1" cy="453.9" r="1.25"/><circle cx="622.1" cy="453.9" r="1.25"/><circle cx="628.7" cy="453.9" r="1.25"/><circle cx="616.6" cy="454.1" r="1.25"/><circle cx="630.9" cy="454.1" r="1.25"/><circle cx="614.4" cy="454.3" r="1.25"/><circle cx="636.4" cy="454.3" r="1.25"/><circle cx="616.6" cy="454.5" r="1.25"/><circle cx="623.2" cy="454.6" r="1.25"/><circle cx="621.0" cy="454.6" r="1.25"/><circle cx="625.4" cy="454.7" r="1.25"/><circle cx="627.6" cy="454.9" r="1.25"/><circle cx="629.8" cy="455.0" r="1.25"/><circle cx="632.0" cy="455.0" r="1.25"/><circle cx="618.8" cy="455.2" r="1.25"/><circle cx="615.5" cy="455.3" r="1.25"/><circle cx="622.1" cy="455.5" r="1.25"/><circle cx="624.3" cy="455.6" r="1.25"/><circle cx="613.3" cy="455.6" r="1.25"/><circle cx="626.5" cy="455.8" r="1.25"/><circle cx="619.9" cy="456.0" r="1.25"/><circle cx="617.7" cy="456.0" r="1.25"/><circle cx="628.7" cy="456.1" r="1.25"/><circle cx="630.9" cy="456.1" r="1.25"/><circle cx="633.1" cy="456.2" r="1.25"/><circle cx="635.3" cy="456.3" r="1.25"/><circle cx="623.2" cy="456.4" r="1.25"/><circle cx="625.4" cy="456.7" r="1.25"/><circle cx="621.0" cy="456.7" r="1.25"/><circle cx="618.8" cy="456.8" r="1.25"/><circle cx="616.6" cy="456.8" r="1.25"/><circle cx="627.6" cy="457.0" r="1.25"/><circle cx="629.8" cy="457.0" r="1.25"/><circle cx="632.0" cy="457.0" r="1.25"/><circle cx="624.3" cy="457.4" r="1.25"/><circle cx="622.1" cy="457.5" r="1.25"/><circle cx="619.9" cy="457.6" r="1.25"/><circle cx="617.7" cy="457.6" r="1.25"/><circle cx="626.5" cy="458.0" r="1.25"/><circle cx="628.7" cy="458.0" r="1.25"/><circle cx="623.2" cy="458.3" r="1.25"/><circle cx="621.0" cy="458.4" r="1.25"/><circle cx="618.8" cy="458.5" r="1.25"/><circle cx="616.6" cy="458.6" r="1.25"/><circle cx="630.9" cy="458.7" r="1.25"/><circle cx="625.4" cy="458.8" r="1.25"/><circle cx="627.6" cy="458.8" r="1.25"/><circle cx="614.4" cy="458.8" r="1.25"/><circle cx="633.1" cy="458.9" r="1.25"/><circle cx="612.2" cy="459.0" r="1.25"/><circle cx="622.1" cy="459.1" r="1.25"/><circle cx="624.3" cy="459.6" r="1.25"/><circle cx="626.5" cy="459.6" r="1.25"/><circle cx="619.9" cy="459.6" r="1.25"/><circle cx="617.7" cy="460.1" r="1.25"/><circle cx="623.2" cy="460.7" r="1.25"/><circle cx="625.4" cy="460.8" r="1.25"/><circle cx="621.0" cy="461.0" r="1.25"/><circle cx="618.8" cy="461.2" r="1.25"/><circle cx="627.6" cy="461.3" r="1.25"/><circle cx="629.8" cy="461.4" r="1.25"/><circle cx="616.6" cy="461.4" r="1.25"/><circle cx="624.3" cy="461.5" r="1.25"/><circle cx="622.1" cy="461.9" r="1.25"/><circle cx="619.9" cy="462.0" r="1.25"/><circle cx="626.5" cy="462.0" r="1.25"/><circle cx="632.0" cy="462.1" r="1.25"/><circle cx="614.4" cy="462.1" r="1.25"/><circle cx="612.2" cy="462.1" r="1.25"/><circle cx="634.2" cy="462.1" r="1.25"/><circle cx="617.7" cy="462.2" r="1.25"/><circle cx="628.7" cy="462.4" r="1.25"/><circle cx="610.0" cy="462.5" r="1.25"/><circle cx="636.4" cy="462.5" r="1.25"/><circle cx="607.8" cy="462.6" r="1.25"/><circle cx="623.2" cy="463.0" r="1.25"/><circle cx="621.0" cy="463.1" r="1.25"/><circle cx="625.4" cy="463.1" r="1.25"/><circle cx="618.8" cy="463.2" r="1.25"/><circle cx="627.6" cy="463.2" r="1.25"/><circle cx="616.6" cy="463.4" r="1.25"/><circle cx="629.8" cy="463.8" r="1.25"/><circle cx="622.1" cy="463.8" r="1.25"/><circle cx="624.3" cy="464.0" r="1.25"/><circle cx="626.5" cy="464.0" r="1.25"/><circle cx="619.9" cy="464.0" r="1.25"/><circle cx="617.7" cy="464.4" r="1.25"/><circle cx="628.7" cy="464.6" r="1.25"/><circle cx="623.2" cy="464.8" r="1.25"/><circle cx="625.4" cy="464.8" r="1.25"/><circle cx="621.0" cy="464.8" r="1.25"/><circle cx="615.5" cy="464.9" r="1.25"/><circle cx="630.9" cy="464.9" r="1.25"/><circle cx="633.1" cy="465.0" r="1.25"/><circle cx="613.3" cy="465.1" r="1.25"/><circle cx="618.8" cy="465.3" r="1.25"/><circle cx="627.6" cy="465.3" r="1.25"/><circle cx="635.3" cy="465.4" r="1.25"/><circle cx="611.1" cy="465.5" r="1.25"/><circle cx="622.1" cy="465.5" r="1.25"/><circle cx="624.3" cy="465.5" r="1.25"/><circle cx="637.5" cy="465.5" r="1.25"/><circle cx="616.6" cy="465.6" r="1.25"/><circle cx="629.8" cy="465.7" r="1.25"/><circle cx="632.0" cy="465.8" r="1.25"/><circle cx="614.4" cy="465.9" r="1.25"/><circle cx="608.9" cy="465.9" r="1.25"/><circle cx="606.7" cy="465.9" r="1.25"/><circle cx="639.7" cy="465.9" r="1.25"/><circle cx="616.6" cy="466.0" r="1.25"/><circle cx="628.7" cy="466.0" r="1.25"/><circle cx="619.9" cy="466.0" r="1.25"/><circle cx="626.5" cy="466.1" r="1.25"/><circle cx="634.2" cy="466.2" r="1.25"/><circle cx="612.2" cy="466.2" r="1.25"/><circle cx="635.3" cy="466.2" r="1.25"/><circle cx="623.2" cy="466.3" r="1.25"/><circle cx="634.2" cy="466.3" r="1.25"/><circle cx="641.9" cy="466.3" r="1.25"/><circle cx="630.9" cy="466.5" r="1.25"/><circle cx="604.5" cy="466.6" r="1.25"/><circle cx="621.0" cy="466.7" r="1.25"/><circle cx="618.8" cy="466.7" r="1.25"/><circle cx="625.4" cy="466.9" r="1.25"/><circle cx="622.1" cy="467.4" r="1.25"/><circle cx="619.9" cy="467.4" r="1.25"/><circle cx="627.6" cy="467.4" r="1.25"/><circle cx="617.7" cy="467.5" r="1.25"/><circle cx="629.8" cy="467.5" r="1.25"/><circle cx="615.5" cy="467.6" r="1.25"/><circle cx="624.3" cy="467.7" r="1.25"/><circle cx="632.0" cy="467.7" r="1.25"/><circle cx="613.3" cy="467.8" r="1.25"/><circle cx="634.2" cy="467.8" r="1.25"/><circle cx="611.1" cy="467.9" r="1.25"/><circle cx="636.4" cy="468.0" r="1.25"/><circle cx="608.9" cy="468.0" r="1.25"/><circle cx="638.6" cy="468.0" r="1.25"/><circle cx="606.7" cy="468.1" r="1.25"/><circle cx="640.8" cy="468.1" r="1.25"/><circle cx="621.0" cy="468.2" r="1.25"/><circle cx="626.5" cy="468.2" r="1.25"/><circle cx="618.8" cy="468.3" r="1.25"/><circle cx="623.2" cy="468.4" r="1.25"/><circle cx="628.7" cy="468.4" r="1.25"/><circle cx="616.6" cy="468.4" r="1.25"/><circle cx="630.9" cy="468.8" r="1.25"/><circle cx="625.4" cy="469.0" r="1.25"/><circle cx="619.9" cy="469.0" r="1.25"/><circle cx="622.1" cy="469.3" r="1.25"/><circle cx="627.6" cy="469.3" r="1.25"/><circle cx="617.7" cy="469.3" r="1.25"/><circle cx="615.5" cy="469.3" r="1.25"/><circle cx="633.1" cy="469.4" r="1.25"/><circle cx="613.3" cy="469.4" r="1.25"/><circle cx="629.8" cy="469.6" r="1.25"/><circle cx="635.3" cy="469.6" r="1.25"/><circle cx="623.2" cy="470.0" r="1.25"/><circle cx="621.0" cy="470.1" r="1.25"/><circle cx="626.5" cy="470.1" r="1.25"/><circle cx="618.8" cy="470.1" r="1.25"/><circle cx="616.6" cy="470.1" r="1.25"/><circle cx="632.0" cy="470.2" r="1.25"/><circle cx="614.4" cy="470.2" r="1.25"/><circle cx="612.2" cy="470.2" r="1.25"/><circle cx="610.0" cy="470.3" r="1.25"/><circle cx="628.7" cy="470.3" r="1.25"/><circle cx="634.2" cy="470.4" r="1.25"/><circle cx="636.4" cy="470.5" r="1.25"/><circle cx="638.6" cy="470.5" r="1.25"/><circle cx="607.8" cy="470.5" r="1.25"/><circle cx="624.3" cy="470.7" r="1.25"/><circle cx="640.8" cy="470.7" r="1.25"/><circle cx="605.6" cy="470.7" r="1.25"/><circle cx="643.0" cy="470.7" r="1.25"/><circle cx="622.1" cy="470.8" r="1.25"/><circle cx="619.9" cy="470.8" r="1.25"/><circle cx="617.7" cy="470.9" r="1.25"/><circle cx="615.5" cy="471.0" r="1.25"/><circle cx="627.6" cy="471.1" r="1.25"/><circle cx="629.8" cy="471.2" r="1.25"/><circle cx="633.1" cy="471.2" r="1.25"/><circle cx="625.4" cy="471.5" r="1.25"/><circle cx="613.3" cy="471.5" r="1.25"/><circle cx="623.2" cy="471.5" r="1.25"/><circle cx="621.0" cy="471.6" r="1.25"/><circle cx="618.8" cy="471.6" r="1.25"/><circle cx="616.6" cy="471.7" r="1.25"/><circle cx="635.3" cy="471.7" r="1.25"/><circle cx="611.1" cy="471.8" r="1.25"/><circle cx="608.9" cy="471.8" r="1.25"/><circle cx="637.5" cy="471.8" r="1.25"/><circle cx="606.7" cy="471.9" r="1.25"/><circle cx="639.7" cy="471.9" r="1.25"/><circle cx="628.7" cy="472.0" r="1.25"/><circle cx="630.9" cy="472.0" r="1.25"/><circle cx="626.5" cy="472.2" r="1.25"/><circle cx="624.3" cy="472.3" r="1.25"/><circle cx="622.1" cy="472.3" r="1.25"/><circle cx="619.9" cy="472.3" r="1.25"/><circle cx="614.4" cy="472.4" r="1.25"/><circle cx="617.7" cy="472.4" r="1.25"/><circle cx="634.2" cy="472.5" r="1.25"/><circle cx="612.2" cy="472.6" r="1.25"/><circle cx="610.0" cy="472.6" r="1.25"/><circle cx="636.4" cy="472.6" r="1.25"/><circle cx="627.6" cy="473.0" r="1.25"/><circle cx="629.8" cy="473.0" r="1.25"/><circle cx="625.4" cy="473.0" r="1.25"/><circle cx="632.0" cy="473.0" r="1.25"/><circle cx="623.2" cy="473.2" r="1.25"/><circle cx="621.0" cy="473.2" r="1.25"/><circle cx="618.8" cy="473.2" r="1.25"/><circle cx="616.6" cy="473.4" r="1.25"/><circle cx="613.3" cy="473.4" r="1.25"/><circle cx="635.3" cy="473.4" r="1.25"/><circle cx="611.1" cy="473.5" r="1.25"/><circle cx="637.5" cy="473.6" r="1.25"/><circle cx="608.9" cy="473.6" r="1.25"/><circle cx="639.7" cy="473.6" r="1.25"/><circle cx="626.5" cy="473.8" r="1.25"/><circle cx="624.3" cy="473.9" r="1.25"/><circle cx="622.1" cy="474.0" r="1.25"/><circle cx="619.9" cy="474.0" r="1.25"/><circle cx="628.7" cy="474.0" r="1.25"/><circle cx="617.7" cy="474.1" r="1.25"/><circle cx="615.5" cy="474.1" r="1.25"/><circle cx="630.9" cy="474.1" r="1.25"/><circle cx="633.1" cy="474.3" r="1.25"/><circle cx="612.2" cy="474.4" r="1.25"/><circle cx="636.4" cy="474.4" r="1.25"/><circle cx="623.2" cy="474.7" r="1.25"/><circle cx="621.0" cy="475.0" r="1.25"/><circle cx="625.4" cy="475.1" r="1.25"/><circle cx="627.6" cy="475.2" r="1.25"/><circle cx="618.8" cy="475.3" r="1.25"/><circle cx="629.8" cy="475.4" r="1.25"/><circle cx="616.6" cy="475.5" r="1.25"/><circle cx="632.0" cy="475.6" r="1.25"/><circle cx="622.1" cy="475.8" r="1.25"/><circle cx="624.3" cy="475.8" r="1.25"/><circle cx="614.4" cy="475.9" r="1.25"/><circle cx="612.2" cy="475.9" r="1.25"/><circle cx="634.2" cy="475.9" r="1.25"/><circle cx="626.5" cy="476.0" r="1.25"/><circle cx="619.9" cy="476.0" r="1.25"/><circle cx="610.0" cy="476.0" r="1.25"/><circle cx="636.4" cy="476.1" r="1.25"/><circle cx="628.7" cy="476.2" r="1.25"/><circle cx="617.7" cy="476.3" r="1.25"/><circle cx="630.9" cy="476.3" r="1.25"/><circle cx="607.8" cy="476.3" r="1.25"/><circle cx="638.6" cy="476.3" r="1.25"/><circle cx="605.6" cy="476.5" r="1.25"/><circle cx="640.8" cy="476.5" r="1.25"/><circle cx="623.2" cy="476.6" r="1.25"/><circle cx="615.5" cy="476.6" r="1.25"/><circle cx="633.1" cy="476.7" r="1.25"/><circle cx="625.4" cy="476.7" r="1.25"/><circle cx="621.0" cy="476.7" r="1.25"/><circle cx="618.8" cy="477.0" r="1.25"/><circle cx="627.6" cy="477.0" r="1.25"/><circle cx="629.8" cy="477.0" r="1.25"/><circle cx="613.3" cy="477.0" r="1.25"/><circle cx="611.1" cy="477.1" r="1.25"/><circle cx="635.3" cy="477.1" r="1.25"/><circle cx="608.9" cy="477.1" r="1.25"/><circle cx="637.5" cy="477.2" r="1.25"/><circle cx="606.7" cy="477.2" r="1.25"/><circle cx="639.7" cy="477.3" r="1.25"/><circle cx="624.3" cy="477.4" r="1.25"/><circle cx="622.1" cy="477.5" r="1.25"/><circle cx="616.6" cy="477.5" r="1.25"/><circle cx="632.0" cy="477.6" r="1.25"/><circle cx="604.5" cy="477.6" r="1.25"/><circle cx="619.9" cy="477.7" r="1.25"/><circle cx="626.5" cy="477.7" r="1.25"/><circle cx="628.7" cy="477.7" r="1.25"/><circle cx="614.4" cy="477.8" r="1.25"/><circle cx="634.2" cy="477.8" r="1.25"/><circle cx="612.2" cy="477.9" r="1.25"/><circle cx="610.0" cy="477.9" r="1.25"/><circle cx="641.9" cy="477.9" r="1.25"/><circle cx="636.4" cy="478.0" r="1.25"/><circle cx="607.8" cy="478.0" r="1.25"/><circle cx="638.6" cy="478.0" r="1.25"/><circle cx="612.2" cy="478.1" r="1.25"/><circle cx="623.2" cy="478.3" r="1.25"/><circle cx="617.7" cy="478.3" r="1.25"/><circle cx="621.0" cy="478.4" r="1.25"/><circle cx="625.4" cy="478.4" r="1.25"/><circle cx="627.6" cy="478.5" r="1.25"/><circle cx="629.8" cy="478.6" r="1.25"/><circle cx="615.5" cy="478.6" r="1.25"/><circle cx="633.1" cy="478.6" r="1.25"/><circle cx="635.3" cy="478.7" r="1.25"/><circle cx="613.3" cy="478.8" r="1.25"/><circle cx="611.1" cy="478.9" r="1.25"/><circle cx="637.5" cy="478.9" r="1.25"/><circle cx="608.9" cy="479.0" r="1.25"/><circle cx="618.8" cy="479.1" r="1.25"/><circle cx="606.7" cy="479.1" r="1.25"/><circle cx="622.1" cy="479.1" r="1.25"/><circle cx="624.3" cy="479.1" r="1.25"/><circle cx="626.5" cy="479.2" r="1.25"/><circle cx="639.7" cy="479.3" r="1.25"/><circle cx="628.7" cy="479.3" r="1.25"/><circle cx="630.9" cy="479.3" r="1.25"/><circle cx="616.6" cy="479.4" r="1.25"/><circle cx="634.2" cy="479.4" r="1.25"/><circle cx="614.4" cy="479.6" r="1.25"/><circle cx="612.2" cy="479.7" r="1.25"/><circle cx="636.4" cy="479.7" r="1.25"/><circle cx="610.0" cy="479.8" r="1.25"/><circle cx="623.2" cy="479.9" r="1.25"/><circle cx="621.0" cy="479.9" r="1.25"/><circle cx="607.8" cy="479.9" r="1.25"/><circle cx="625.4" cy="480.0" r="1.25"/><circle cx="627.6" cy="480.0" r="1.25"/><circle cx="617.7" cy="480.2" r="1.25"/><circle cx="629.8" cy="480.3" r="1.25"/><circle cx="632.0" cy="480.3" r="1.25"/><circle cx="638.6" cy="480.3" r="1.25"/><circle cx="622.1" cy="480.6" r="1.25"/><circle cx="624.3" cy="480.7" r="1.25"/><circle cx="626.5" cy="480.8" r="1.25"/><circle cx="619.9" cy="480.8" r="1.25"/><circle cx="615.5" cy="480.8" r="1.25"/><circle cx="613.3" cy="480.9" r="1.25"/><circle cx="634.2" cy="481.0" r="1.25"/><circle cx="628.7" cy="481.0" r="1.25"/><circle cx="630.9" cy="481.1" r="1.25"/><circle cx="611.1" cy="481.1" r="1.25"/><circle cx="636.4" cy="481.3" r="1.25"/><circle cx="623.2" cy="481.4" r="1.25"/><circle cx="608.9" cy="481.4" r="1.25"/><circle cx="639.7" cy="481.4" r="1.25"/><circle cx="621.0" cy="481.6" r="1.25"/><circle cx="625.4" cy="481.6" r="1.25"/><circle cx="618.8" cy="481.6" r="1.25"/><circle cx="616.6" cy="481.7" r="1.25"/><circle cx="627.6" cy="481.7" r="1.25"/><circle cx="629.8" cy="481.9" r="1.25"/><circle cx="614.4" cy="481.9" r="1.25"/><circle cx="632.0" cy="481.9" r="1.25"/><circle cx="624.3" cy="482.3" r="1.25"/><circle cx="622.1" cy="482.3" r="1.25"/><circle cx="619.9" cy="482.3" r="1.25"/><circle cx="634.2" cy="482.3" r="1.25"/><circle cx="626.5" cy="482.5" r="1.25"/><circle cx="617.7" cy="482.5" r="1.25"/><circle cx="612.2" cy="482.5" r="1.25"/><circle cx="628.7" cy="482.6" r="1.25"/><circle cx="615.5" cy="482.8" r="1.25"/><circle cx="623.2" cy="483.0" r="1.25"/><circle cx="621.0" cy="483.0" r="1.25"/><circle cx="630.9" cy="483.0" r="1.25"/><circle cx="633.1" cy="483.1" r="1.25"/><circle cx="625.4" cy="483.3" r="1.25"/><circle cx="627.6" cy="483.4" r="1.25"/><circle cx="618.8" cy="483.4" r="1.25"/><circle cx="613.3" cy="483.4" r="1.25"/><circle cx="635.3" cy="483.5" r="1.25"/><circle cx="611.1" cy="483.5" r="1.25"/><circle cx="616.6" cy="483.6" r="1.25"/><circle cx="622.1" cy="483.8" r="1.25"/><circle cx="629.8" cy="483.9" r="1.25"/><circle cx="632.0" cy="483.9" r="1.25"/><circle cx="637.5" cy="483.9" r="1.25"/><circle cx="624.3" cy="484.2" r="1.25"/><circle cx="626.5" cy="484.3" r="1.25"/><circle cx="619.9" cy="484.3" r="1.25"/><circle cx="617.7" cy="484.5" r="1.25"/><circle cx="628.7" cy="484.6" r="1.25"/><circle cx="630.9" cy="484.6" r="1.25"/><circle cx="615.5" cy="484.6" r="1.25"/><circle cx="633.1" cy="484.6" r="1.25"/><circle cx="612.2" cy="484.6" r="1.25"/><circle cx="610.0" cy="484.8" r="1.25"/><circle cx="635.3" cy="484.9" r="1.25"/><circle cx="623.2" cy="485.3" r="1.25"/><circle cx="625.4" cy="485.3" r="1.25"/><circle cx="621.0" cy="485.5" r="1.25"/><circle cx="627.6" cy="485.6" r="1.25"/><circle cx="618.8" cy="485.6" r="1.25"/><circle cx="616.6" cy="485.6" r="1.25"/><circle cx="629.8" cy="485.7" r="1.25"/><circle cx="614.4" cy="485.8" r="1.25"/><circle cx="632.0" cy="485.9" r="1.25"/><circle cx="624.3" cy="486.1" r="1.25"/><circle cx="622.1" cy="486.4" r="1.25"/><circle cx="625.4" cy="486.9" r="1.25"/><circle cx="619.9" cy="487.0" r="1.25"/><circle cx="623.2" cy="487.1" r="1.25"/><circle cx="627.6" cy="487.2" r="1.25"/><circle cx="617.7" cy="487.3" r="1.25"/><circle cx="629.8" cy="487.3" r="1.25"/><circle cx="615.5" cy="487.5" r="1.25"/><circle cx="632.0" cy="487.5" r="1.25"/><circle cx="613.3" cy="487.6" r="1.25"/><circle cx="634.2" cy="487.6" r="1.25"/><circle cx="611.1" cy="487.7" r="1.25"/><circle cx="621.0" cy="487.7" r="1.25"/><circle cx="624.3" cy="488.2" r="1.25"/><circle cx="626.5" cy="488.3" r="1.25"/><circle cx="622.1" cy="488.4" r="1.25"/><circle cx="619.9" cy="488.7" r="1.25"/><circle cx="628.7" cy="488.8" r="1.25"/><circle cx="623.2" cy="489.4" r="1.25"/><circle cx="621.0" cy="489.9" r="1.25"/><circle cx="625.4" cy="490.1" r="1.25"/><circle cx="618.8" cy="490.1" r="1.25"/><circle cx="627.6" cy="490.2" r="1.25"/><circle cx="629.8" cy="490.3" r="1.25"/><circle cx="616.6" cy="490.3" r="1.25"/><circle cx="614.4" cy="490.6" r="1.25"/><circle cx="622.1" cy="490.7" r="1.25"/><circle cx="624.3" cy="491.0" r="1.25"/><circle cx="619.9" cy="491.0" r="1.25"/><circle cx="626.5" cy="491.1" r="1.25"/><circle cx="617.7" cy="491.1" r="1.25"/><circle cx="628.7" cy="491.5" r="1.25"/><circle cx="623.2" cy="491.8" r="1.25"/><circle cx="621.0" cy="491.9" r="1.25"/><circle cx="623.2" cy="493.3" r="1.25"/><circle cx="625.4" cy="493.6" r="1.25"/><circle cx="624.3" cy="494.4" r="1.25"/><circle cx="622.1" cy="494.5" r="1.25"/><circle cx="623.2" cy="495.5" r="1.25"/><circle cx="621.0" cy="495.7" r="1.25"/><circle cx="625.4" cy="495.9" r="1.25"/><circle cx="627.6" cy="496.0" r="1.25"/><circle cx="618.8" cy="496.0" r="1.25"/>
</g>
<line x1="466.4" y1="455.4" x2="466.4" y2="458.6" stroke="#000" stroke-width="1.2"/>
<line x1="457.4" y1="455.4" x2="475.4" y2="455.4" stroke="#000" stroke-width="1.3"/>
<line x1="457.4" y1="458.6" x2="475.4" y2="458.6" stroke="#000" stroke-width="1.3"/>
<line x1="449.1" y1="457" x2="483.7" y2="457" stroke="#000" stroke-width="2.3"/>
<line x1="518.7" y1="463.6" x2="518.7" y2="466.4" stroke="#000" stroke-width="1.2"/>
<line x1="509.7" y1="463.6" x2="527.7" y2="463.6" stroke="#000" stroke-width="1.3"/>
<line x1="509.7" y1="466.4" x2="527.7" y2="466.4" stroke="#000" stroke-width="1.3"/>
<line x1="501.4" y1="465" x2="536" y2="465" stroke="#000" stroke-width="2.3"/>
<line x1="571" y1="448.3" x2="571" y2="452.3" stroke="#000" stroke-width="1.2"/>
<line x1="562" y1="448.3" x2="580" y2="448.3" stroke="#000" stroke-width="1.3"/>
<line x1="562" y1="452.3" x2="580" y2="452.3" stroke="#000" stroke-width="1.3"/>
<line x1="553.7" y1="450.3" x2="588.3" y2="450.3" stroke="#000" stroke-width="2.3"/>
<line x1="623.2" y1="460.9" x2="623.2" y2="462.9" stroke="#000" stroke-width="1.2"/>
<line x1="614.2" y1="460.9" x2="632.2" y2="460.9" stroke="#000" stroke-width="1.3"/>
<line x1="614.2" y1="462.9" x2="632.2" y2="462.9" stroke="#000" stroke-width="1.3"/>
<line x1="605.9" y1="461.9" x2="640.5" y2="461.9" stroke="#000" stroke-width="2.3"/>
<line x1="458.9" y1="269.2" x2="570.9" y2="269.2" stroke="#000" stroke-width="1.2"/>
<line x1="461" y1="296.2" x2="515" y2="296.2" stroke="#000" stroke-width="1.2"/>
<line x1="572.1" y1="297" x2="626.5" y2="297" stroke="#000" stroke-width="1.2"/>
<path d="M495.75 260.40L495.75 255.30M495.75 260.40L500.60 258.82M495.75 260.40L498.75 264.53M495.75 260.40L492.75 264.53M495.75 260.40L490.90 258.82" stroke="#000" stroke-width="2.14" stroke-linecap="butt" fill="none"/>
<path d="M509.25 260.40L509.25 255.30M509.25 260.40L514.10 258.82M509.25 260.40L512.25 264.53M509.25 260.40L506.25 264.53M509.25 260.40L504.40 258.82" stroke="#000" stroke-width="2.14" stroke-linecap="butt" fill="none"/>
<path d="M522.75 260.40L522.75 255.30M522.75 260.40L527.60 258.82M522.75 260.40L525.75 264.53M522.75 260.40L519.75 264.53M522.75 260.40L517.90 258.82" stroke="#000" stroke-width="2.14" stroke-linecap="butt" fill="none"/>
<path d="M536.25 260.40L536.25 255.30M536.25 260.40L541.10 258.82M536.25 260.40L539.25 264.53M536.25 260.40L533.25 264.53M536.25 260.40L531.40 258.82" stroke="#000" stroke-width="2.14" stroke-linecap="butt" fill="none"/>
<path d="M481.55 288.00L481.55 282.90M481.55 288.00L486.40 286.42M481.55 288.00L484.55 292.13M481.55 288.00L478.55 292.13M481.55 288.00L476.70 286.42" stroke="#000" stroke-width="2.14" stroke-linecap="butt" fill="none"/>
<path d="M495.05 288.00L495.05 282.90M495.05 288.00L499.90 286.42M495.05 288.00L498.05 292.13M495.05 288.00L492.05 292.13M495.05 288.00L490.20 286.42" stroke="#000" stroke-width="2.14" stroke-linecap="butt" fill="none"/>
<path d="M578.75 288.00L578.75 282.90M578.75 288.00L583.60 286.42M578.75 288.00L581.75 292.13M578.75 288.00L575.75 292.13M578.75 288.00L573.90 286.42" stroke="#000" stroke-width="2.14" stroke-linecap="butt" fill="none"/>
<path d="M592.25 288.00L592.25 282.90M592.25 288.00L597.10 286.42M592.25 288.00L595.25 292.13M592.25 288.00L589.25 292.13M592.25 288.00L587.40 286.42" stroke="#000" stroke-width="2.14" stroke-linecap="butt" fill="none"/>
<path d="M605.75 288.00L605.75 282.90M605.75 288.00L610.60 286.42M605.75 288.00L608.75 292.13M605.75 288.00L602.75 292.13M605.75 288.00L600.90 286.42" stroke="#000" stroke-width="2.14" stroke-linecap="butt" fill="none"/>
<path d="M619.25 288.00L619.25 282.90M619.25 288.00L624.10 286.42M619.25 288.00L622.25 292.13M619.25 288.00L616.25 292.13M619.25 288.00L614.40 286.42" stroke="#000" stroke-width="2.14" stroke-linecap="butt" fill="none"/>
<text x="346.5" y="602.6" font-size="34" font-weight="bold" text-anchor="start" fill="#231f20">f</text>
<line x1="443.8" y1="604.3" x2="443.8" y2="825.8" stroke="#000" stroke-width="2.0"/>
<line x1="434.5" y1="824.8" x2="663.4" y2="824.8" stroke="#000" stroke-width="2.0"/>
<line x1="434.5" y1="824.6" x2="443.8" y2="824.6" stroke="#000" stroke-width="2.0"/>
<text x="432" y="830.8" font-size="17.4" font-weight="bold" text-anchor="end" fill="#000">-1.0</text>
<line x1="434.5" y1="769.7" x2="443.8" y2="769.7" stroke="#000" stroke-width="2.0"/>
<text x="432" y="775.9" font-size="17.4" font-weight="bold" text-anchor="end" fill="#000">-0.5</text>
<line x1="434.5" y1="714.8" x2="443.8" y2="714.8" stroke="#000" stroke-width="2.0"/>
<text x="432" y="721" font-size="17.4" font-weight="bold" text-anchor="end" fill="#000">0.0</text>
<line x1="434.5" y1="659.9" x2="443.8" y2="659.9" stroke="#000" stroke-width="2.0"/>
<text x="432" y="666.1" font-size="17.4" font-weight="bold" text-anchor="end" fill="#000">0.5</text>
<line x1="434.5" y1="605" x2="443.8" y2="605" stroke="#000" stroke-width="2.0"/>
<text x="432" y="611.2" font-size="17.4" font-weight="bold" text-anchor="end" fill="#000">1.0</text>
<line x1="476.8" y1="824.8" x2="476.8" y2="834.3" stroke="#000" stroke-width="2.0"/>
<text x="476.8" y="851.4" font-size="17.3" font-weight="bold" text-anchor="middle" fill="#000">RC</text>
<line x1="527.7" y1="824.8" x2="527.7" y2="834.3" stroke="#000" stroke-width="2.0"/>
<text x="527.7" y="851.4" font-size="17.3" font-weight="bold" text-anchor="middle" fill="#000">Irr+RC</text>
<line x1="578.4" y1="824.8" x2="578.4" y2="834.3" stroke="#000" stroke-width="2.0"/>
<text x="578.4" y="851.4" font-size="17.3" font-weight="bold" text-anchor="middle" fill="#000">EE</text>
<line x1="629.2" y1="824.8" x2="629.2" y2="834.3" stroke="#000" stroke-width="2.0"/>
<text x="629.2" y="851.4" font-size="17.3" font-weight="bold" text-anchor="middle" fill="#000">Irr+EE</text>
<line x1="449.5" y1="714.8" x2="664" y2="714.8" stroke="#000" stroke-width="2" stroke-dasharray="1.9 4.9"/>
<text x="391" y="724.2" font-size="18.6" font-weight="bold" fill="#000" transform="rotate(-90 391 724.2)">R<tspan font-size="14" font-weight="normal" dx="-1.2" dy="-8.4">2</tspan></text>
<g fill="#d4d6d9" stroke="#8f9297" stroke-width="1">
<circle cx="476.8" cy="605.0" r="1.25"/><circle cx="473.0" cy="605.2" r="1.25"/><circle cx="480.6" cy="605.7" r="1.25"/><circle cx="469.2" cy="606.1" r="1.25"/><circle cx="474.9" cy="606.4" r="1.25"/><circle cx="484.4" cy="606.4" r="1.25"/><circle cx="478.7" cy="606.7" r="1.25"/><circle cx="465.4" cy="606.8" r="1.25"/><circle cx="471.1" cy="607.0" r="1.25"/><circle cx="488.2" cy="607.0" r="1.25"/><circle cx="492.0" cy="607.2" r="1.25"/><circle cx="461.6" cy="607.3" r="1.25"/><circle cx="482.5" cy="607.6" r="1.25"/><circle cx="492.0" cy="607.6" r="1.25"/><circle cx="476.8" cy="607.6" r="1.25"/><circle cx="467.3" cy="607.8" r="1.25"/><circle cx="457.8" cy="607.9" r="1.25"/><circle cx="473.0" cy="608.1" r="1.25"/><circle cx="486.3" cy="608.3" r="1.25"/><circle cx="463.5" cy="608.3" r="1.25"/><circle cx="480.6" cy="608.5" r="1.25"/><circle cx="469.2" cy="608.8" r="1.25"/><circle cx="490.1" cy="608.9" r="1.25"/><circle cx="474.9" cy="609.1" r="1.25"/><circle cx="478.7" cy="609.4" r="1.25"/><circle cx="484.4" cy="609.5" r="1.25"/><circle cx="471.1" cy="609.9" r="1.25"/><circle cx="476.8" cy="610.4" r="1.25"/><circle cx="482.5" cy="610.4" r="1.25"/><circle cx="486.3" cy="610.5" r="1.25"/><circle cx="467.3" cy="610.6" r="1.25"/><circle cx="463.5" cy="610.6" r="1.25"/><circle cx="473.0" cy="610.9" r="1.25"/><circle cx="492.0" cy="611.0" r="1.25"/><circle cx="459.7" cy="611.2" r="1.25"/><circle cx="495.8" cy="611.3" r="1.25"/><circle cx="478.7" cy="611.7" r="1.25"/><circle cx="484.4" cy="611.8" r="1.25"/><circle cx="474.9" cy="611.8" r="1.25"/><circle cx="469.2" cy="611.9" r="1.25"/><circle cx="488.2" cy="611.9" r="1.25"/><circle cx="465.4" cy="611.9" r="1.25"/><circle cx="461.6" cy="612.2" r="1.25"/><circle cx="493.9" cy="612.3" r="1.25"/><circle cx="476.8" cy="612.7" r="1.25"/><circle cx="480.6" cy="612.9" r="1.25"/><circle cx="471.1" cy="612.9" r="1.25"/><circle cx="467.3" cy="613.3" r="1.25"/><circle cx="486.3" cy="613.3" r="1.25"/><circle cx="463.5" cy="613.3" r="1.25"/><circle cx="490.1" cy="613.5" r="1.25"/><circle cx="474.9" cy="614.7" r="1.25"/><circle cx="478.7" cy="614.9" r="1.25"/><circle cx="482.5" cy="615.0" r="1.25"/><circle cx="471.1" cy="615.1" r="1.25"/><circle cx="488.2" cy="615.3" r="1.25"/><circle cx="467.3" cy="615.4" r="1.25"/><circle cx="476.8" cy="616.2" r="1.25"/><circle cx="473.0" cy="616.4" r="1.25"/><circle cx="478.7" cy="617.3" r="1.25"/><circle cx="474.9" cy="617.3" r="1.25"/><circle cx="471.1" cy="617.5" r="1.25"/><circle cx="482.5" cy="617.5" r="1.25"/><circle cx="467.3" cy="617.7" r="1.25"/><circle cx="486.3" cy="617.7" r="1.25"/><circle cx="463.5" cy="617.7" r="1.25"/><circle cx="490.1" cy="617.8" r="1.25"/><circle cx="476.8" cy="618.5" r="1.25"/><circle cx="480.6" cy="618.5" r="1.25"/><circle cx="473.0" cy="618.7" r="1.25"/><circle cx="484.4" cy="618.7" r="1.25"/><circle cx="469.2" cy="618.9" r="1.25"/><circle cx="488.2" cy="619.1" r="1.25"/><circle cx="465.4" cy="619.2" r="1.25"/><circle cx="461.6" cy="619.3" r="1.25"/><circle cx="478.7" cy="619.6" r="1.25"/><circle cx="476.8" cy="621.0" r="1.25"/><circle cx="480.6" cy="621.0" r="1.25"/><circle cx="473.0" cy="621.2" r="1.25"/><circle cx="484.4" cy="621.3" r="1.25"/><circle cx="469.2" cy="621.4" r="1.25"/><circle cx="488.2" cy="621.5" r="1.25"/><circle cx="465.4" cy="621.6" r="1.25"/><circle cx="492.0" cy="621.6" r="1.25"/><circle cx="474.9" cy="623.0" r="1.25"/><circle cx="478.7" cy="623.0" r="1.25"/><circle cx="482.5" cy="623.4" r="1.25"/><circle cx="471.1" cy="623.4" r="1.25"/><circle cx="476.8" cy="624.5" r="1.25"/><circle cx="478.7" cy="625.5" r="1.25"/><circle cx="474.9" cy="626.4" r="1.25"/><circle cx="480.6" cy="626.7" r="1.25"/><circle cx="471.1" cy="626.9" r="1.25"/><circle cx="484.4" cy="626.9" r="1.25"/><circle cx="467.3" cy="627.1" r="1.25"/><circle cx="488.2" cy="627.3" r="1.25"/><circle cx="476.8" cy="627.4" r="1.25"/><circle cx="478.7" cy="628.5" r="1.25"/><circle cx="473.0" cy="628.5" r="1.25"/><circle cx="482.5" cy="628.6" r="1.25"/><circle cx="469.2" cy="628.6" r="1.25"/><circle cx="486.3" cy="628.7" r="1.25"/><circle cx="476.8" cy="629.5" r="1.25"/><circle cx="480.6" cy="630.1" r="1.25"/><circle cx="471.1" cy="630.2" r="1.25"/><circle cx="484.4" cy="630.3" r="1.25"/><circle cx="474.9" cy="630.9" r="1.25"/><circle cx="478.7" cy="631.5" r="1.25"/><circle cx="482.5" cy="631.7" r="1.25"/><circle cx="473.0" cy="632.0" r="1.25"/><circle cx="476.8" cy="632.6" r="1.25"/><circle cx="478.7" cy="634.2" r="1.25"/><circle cx="474.9" cy="634.2" r="1.25"/><circle cx="471.1" cy="634.4" r="1.25"/><circle cx="482.5" cy="634.7" r="1.25"/><circle cx="486.3" cy="634.8" r="1.25"/><circle cx="467.3" cy="634.9" r="1.25"/><circle cx="476.8" cy="635.3" r="1.25"/><circle cx="473.0" cy="635.4" r="1.25"/><circle cx="463.5" cy="635.5" r="1.25"/><circle cx="480.6" cy="636.1" r="1.25"/><circle cx="474.9" cy="636.4" r="1.25"/><circle cx="469.2" cy="636.5" r="1.25"/><circle cx="478.7" cy="637.2" r="1.25"/><circle cx="471.1" cy="637.4" r="1.25"/><circle cx="482.5" cy="637.6" r="1.25"/><circle cx="476.8" cy="638.1" r="1.25"/><circle cx="478.7" cy="639.7" r="1.25"/><circle cx="474.9" cy="639.9" r="1.25"/><circle cx="482.5" cy="639.9" r="1.25"/><circle cx="471.1" cy="640.0" r="1.25"/><circle cx="467.3" cy="640.1" r="1.25"/><circle cx="486.3" cy="640.5" r="1.25"/><circle cx="476.8" cy="641.0" r="1.25"/><circle cx="473.0" cy="641.2" r="1.25"/><circle cx="480.6" cy="641.5" r="1.25"/><circle cx="478.7" cy="642.6" r="1.25"/><circle cx="474.9" cy="642.6" r="1.25"/><circle cx="471.1" cy="642.7" r="1.25"/><circle cx="482.5" cy="643.2" r="1.25"/><circle cx="486.3" cy="643.2" r="1.25"/><circle cx="476.8" cy="644.6" r="1.25"/><circle cx="473.0" cy="644.6" r="1.25"/><circle cx="480.6" cy="645.2" r="1.25"/><circle cx="474.9" cy="646.0" r="1.25"/><circle cx="478.7" cy="646.2" r="1.25"/><circle cx="471.1" cy="646.6" r="1.25"/><circle cx="482.5" cy="646.6" r="1.25"/><circle cx="476.8" cy="648.2" r="1.25"/><circle cx="473.0" cy="648.2" r="1.25"/><circle cx="480.6" cy="648.4" r="1.25"/><circle cx="469.2" cy="648.7" r="1.25"/><circle cx="474.9" cy="649.2" r="1.25"/><circle cx="478.7" cy="649.9" r="1.25"/><circle cx="473.0" cy="650.8" r="1.25"/><circle cx="476.8" cy="651.1" r="1.25"/><circle cx="480.6" cy="651.6" r="1.25"/><circle cx="471.1" cy="651.8" r="1.25"/><circle cx="484.4" cy="651.9" r="1.25"/><circle cx="467.3" cy="652.0" r="1.25"/><circle cx="474.9" cy="652.1" r="1.25"/><circle cx="469.2" cy="652.4" r="1.25"/><circle cx="478.7" cy="652.6" r="1.25"/><circle cx="482.5" cy="652.9" r="1.25"/><circle cx="473.0" cy="653.4" r="1.25"/><circle cx="476.8" cy="655.1" r="1.25"/><circle cx="480.6" cy="655.2" r="1.25"/><circle cx="473.0" cy="655.9" r="1.25"/><circle cx="484.4" cy="656.0" r="1.25"/><circle cx="478.7" cy="656.4" r="1.25"/><circle cx="469.2" cy="656.6" r="1.25"/><circle cx="480.6" cy="656.7" r="1.25"/><circle cx="474.9" cy="657.0" r="1.25"/><circle cx="486.3" cy="657.4" r="1.25"/><circle cx="476.8" cy="658.2" r="1.25"/><circle cx="473.0" cy="658.4" r="1.25"/><circle cx="482.5" cy="658.6" r="1.25"/><circle cx="469.2" cy="658.9" r="1.25"/><circle cx="478.7" cy="660.0" r="1.25"/><circle cx="474.9" cy="660.1" r="1.25"/><circle cx="471.1" cy="660.2" r="1.25"/><circle cx="484.4" cy="660.2" r="1.25"/><circle cx="467.3" cy="660.2" r="1.25"/><circle cx="467.3" cy="660.7" r="1.25"/><circle cx="476.8" cy="661.1" r="1.25"/><circle cx="473.0" cy="661.3" r="1.25"/><circle cx="480.6" cy="661.8" r="1.25"/><circle cx="474.9" cy="662.4" r="1.25"/><circle cx="471.1" cy="662.7" r="1.25"/><circle cx="478.7" cy="662.8" r="1.25"/><circle cx="476.8" cy="663.9" r="1.25"/><circle cx="480.6" cy="664.7" r="1.25"/><circle cx="474.9" cy="665.5" r="1.25"/><circle cx="476.8" cy="666.6" r="1.25"/><circle cx="473.0" cy="666.8" r="1.25"/><circle cx="480.6" cy="667.5" r="1.25"/><circle cx="469.2" cy="667.5" r="1.25"/><circle cx="484.4" cy="667.5" r="1.25"/><circle cx="474.9" cy="667.9" r="1.25"/><circle cx="488.2" cy="668.0" r="1.25"/><circle cx="465.4" cy="668.0" r="1.25"/><circle cx="478.7" cy="668.5" r="1.25"/><circle cx="482.5" cy="668.6" r="1.25"/><circle cx="471.1" cy="668.7" r="1.25"/><circle cx="488.2" cy="668.8" r="1.25"/><circle cx="467.3" cy="669.0" r="1.25"/><circle cx="476.8" cy="669.8" r="1.25"/><circle cx="473.0" cy="670.6" r="1.25"/><circle cx="480.6" cy="670.7" r="1.25"/><circle cx="484.4" cy="670.8" r="1.25"/><circle cx="469.2" cy="671.0" r="1.25"/><circle cx="488.2" cy="671.2" r="1.25"/><circle cx="476.8" cy="672.0" r="1.25"/><circle cx="471.1" cy="672.1" r="1.25"/><circle cx="482.5" cy="672.2" r="1.25"/><circle cx="486.3" cy="672.4" r="1.25"/><circle cx="467.3" cy="672.6" r="1.25"/><circle cx="490.1" cy="672.7" r="1.25"/><circle cx="474.9" cy="672.9" r="1.25"/><circle cx="478.7" cy="673.1" r="1.25"/><circle cx="463.5" cy="673.1" r="1.25"/><circle cx="476.8" cy="674.1" r="1.25"/><circle cx="480.6" cy="674.2" r="1.25"/><circle cx="473.0" cy="674.5" r="1.25"/><circle cx="478.7" cy="675.2" r="1.25"/><circle cx="474.9" cy="675.5" r="1.25"/><circle cx="482.5" cy="675.6" r="1.25"/><circle cx="471.1" cy="675.8" r="1.25"/><circle cx="486.3" cy="676.2" r="1.25"/><circle cx="476.8" cy="676.5" r="1.25"/><circle cx="480.6" cy="676.6" r="1.25"/><circle cx="474.9" cy="677.9" r="1.25"/><circle cx="478.7" cy="678.2" r="1.25"/><circle cx="471.1" cy="678.8" r="1.25"/><circle cx="482.5" cy="679.1" r="1.25"/><circle cx="476.8" cy="679.1" r="1.25"/><circle cx="467.3" cy="679.3" r="1.25"/><circle cx="486.3" cy="679.4" r="1.25"/><circle cx="480.6" cy="680.0" r="1.25"/><circle cx="473.0" cy="680.0" r="1.25"/><circle cx="469.2" cy="680.2" r="1.25"/><circle cx="484.4" cy="680.3" r="1.25"/><circle cx="488.2" cy="680.7" r="1.25"/><circle cx="476.8" cy="681.4" r="1.25"/><circle cx="471.1" cy="681.9" r="1.25"/><circle cx="482.5" cy="682.0" r="1.25"/><circle cx="486.3" cy="682.0" r="1.25"/><circle cx="467.3" cy="682.1" r="1.25"/><circle cx="463.5" cy="682.1" r="1.25"/><circle cx="478.7" cy="682.4" r="1.25"/><circle cx="474.9" cy="682.6" r="1.25"/><circle cx="480.6" cy="683.5" r="1.25"/><circle cx="476.8" cy="683.7" r="1.25"/><circle cx="473.0" cy="684.3" r="1.25"/><circle cx="484.4" cy="684.3" r="1.25"/><circle cx="478.7" cy="684.6" r="1.25"/><circle cx="469.2" cy="685.1" r="1.25"/><circle cx="476.8" cy="686.2" r="1.25"/><circle cx="473.0" cy="686.5" r="1.25"/><circle cx="480.6" cy="686.8" r="1.25"/><circle cx="484.4" cy="686.8" r="1.25"/><circle cx="467.3" cy="686.9" r="1.25"/><circle cx="488.2" cy="687.2" r="1.25"/><circle cx="463.5" cy="687.3" r="1.25"/><circle cx="474.9" cy="687.7" r="1.25"/><circle cx="478.7" cy="687.9" r="1.25"/><circle cx="482.5" cy="688.0" r="1.25"/><circle cx="471.1" cy="688.1" r="1.25"/><circle cx="486.3" cy="688.1" r="1.25"/><circle cx="490.1" cy="688.2" r="1.25"/><circle cx="476.8" cy="688.9" r="1.25"/><circle cx="473.0" cy="689.3" r="1.25"/><circle cx="480.6" cy="689.3" r="1.25"/><circle cx="484.4" cy="689.3" r="1.25"/><circle cx="469.2" cy="689.8" r="1.25"/><circle cx="488.2" cy="689.8" r="1.25"/><circle cx="478.7" cy="690.4" r="1.25"/><circle cx="474.9" cy="690.7" r="1.25"/><circle cx="471.1" cy="691.0" r="1.25"/><circle cx="482.5" cy="691.3" r="1.25"/><circle cx="467.3" cy="691.5" r="1.25"/><circle cx="476.8" cy="691.7" r="1.25"/><circle cx="480.6" cy="692.4" r="1.25"/><circle cx="473.0" cy="692.4" r="1.25"/><circle cx="469.2" cy="692.7" r="1.25"/><circle cx="484.4" cy="692.8" r="1.25"/><circle cx="465.4" cy="693.1" r="1.25"/><circle cx="478.7" cy="693.5" r="1.25"/><circle cx="474.9" cy="693.9" r="1.25"/><circle cx="471.1" cy="693.9" r="1.25"/><circle cx="482.5" cy="694.1" r="1.25"/><circle cx="467.3" cy="694.3" r="1.25"/><circle cx="476.8" cy="695.3" r="1.25"/><circle cx="473.0" cy="695.6" r="1.25"/><circle cx="480.6" cy="695.9" r="1.25"/><circle cx="469.2" cy="696.0" r="1.25"/><circle cx="484.4" cy="696.4" r="1.25"/><circle cx="474.9" cy="696.9" r="1.25"/><circle cx="478.7" cy="697.0" r="1.25"/><circle cx="471.1" cy="697.3" r="1.25"/><circle cx="482.5" cy="697.4" r="1.25"/><circle cx="467.3" cy="697.7" r="1.25"/><circle cx="486.3" cy="697.7" r="1.25"/><circle cx="476.8" cy="697.9" r="1.25"/><circle cx="473.0" cy="698.3" r="1.25"/><circle cx="480.6" cy="698.6" r="1.25"/><circle cx="469.2" cy="698.7" r="1.25"/><circle cx="484.4" cy="698.9" r="1.25"/><circle cx="488.2" cy="699.0" r="1.25"/><circle cx="474.9" cy="699.3" r="1.25"/><circle cx="465.4" cy="699.4" r="1.25"/><circle cx="478.7" cy="699.5" r="1.25"/><circle cx="478.7" cy="699.5" r="1.25"/><circle cx="471.1" cy="699.7" r="1.25"/><circle cx="482.5" cy="700.0" r="1.25"/><circle cx="476.8" cy="700.8" r="1.25"/><circle cx="473.0" cy="701.0" r="1.25"/><circle cx="480.6" cy="701.6" r="1.25"/><circle cx="474.9" cy="702.5" r="1.25"/><circle cx="478.7" cy="703.0" r="1.25"/><circle cx="471.1" cy="703.3" r="1.25"/><circle cx="482.5" cy="703.4" r="1.25"/><circle cx="467.3" cy="703.5" r="1.25"/><circle cx="486.3" cy="703.5" r="1.25"/><circle cx="463.5" cy="703.8" r="1.25"/><circle cx="490.1" cy="703.9" r="1.25"/><circle cx="476.8" cy="704.1" r="1.25"/><circle cx="469.2" cy="704.1" r="1.25"/><circle cx="473.0" cy="704.5" r="1.25"/><circle cx="478.7" cy="705.2" r="1.25"/><circle cx="474.9" cy="705.4" r="1.25"/><circle cx="476.8" cy="706.7" r="1.25"/><circle cx="473.0" cy="706.7" r="1.25"/><circle cx="480.6" cy="706.7" r="1.25"/><circle cx="469.2" cy="707.3" r="1.25"/><circle cx="484.4" cy="707.4" r="1.25"/><circle cx="478.7" cy="707.9" r="1.25"/><circle cx="474.9" cy="708.1" r="1.25"/><circle cx="471.1" cy="708.5" r="1.25"/><circle cx="482.5" cy="708.6" r="1.25"/><circle cx="467.3" cy="708.6" r="1.25"/><circle cx="486.3" cy="708.7" r="1.25"/><circle cx="490.1" cy="708.8" r="1.25"/><circle cx="476.8" cy="709.2" r="1.25"/><circle cx="473.0" cy="709.5" r="1.25"/><circle cx="463.5" cy="709.5" r="1.25"/><circle cx="480.6" cy="709.5" r="1.25"/><circle cx="469.2" cy="709.6" r="1.25"/><circle cx="484.4" cy="710.0" r="1.25"/><circle cx="488.2" cy="710.3" r="1.25"/><circle cx="492.0" cy="710.3" r="1.25"/><circle cx="474.9" cy="710.6" r="1.25"/><circle cx="478.7" cy="711.0" r="1.25"/><circle cx="471.1" cy="711.1" r="1.25"/><circle cx="482.5" cy="711.1" r="1.25"/><circle cx="467.3" cy="711.2" r="1.25"/><circle cx="486.3" cy="711.6" r="1.25"/><circle cx="476.8" cy="712.7" r="1.25"/><circle cx="473.0" cy="712.9" r="1.25"/><circle cx="480.6" cy="712.9" r="1.25"/><circle cx="484.4" cy="713.2" r="1.25"/><circle cx="469.2" cy="713.6" r="1.25"/><circle cx="478.7" cy="714.0" r="1.25"/><circle cx="474.9" cy="714.1" r="1.25"/><circle cx="482.5" cy="714.1" r="1.25"/><circle cx="486.3" cy="714.3" r="1.25"/><circle cx="465.4" cy="714.4" r="1.25"/><circle cx="471.1" cy="714.9" r="1.25"/><circle cx="476.8" cy="715.0" r="1.25"/><circle cx="480.6" cy="715.1" r="1.25"/><circle cx="484.4" cy="715.5" r="1.25"/><circle cx="467.3" cy="715.8" r="1.25"/><circle cx="478.7" cy="716.1" r="1.25"/><circle cx="474.9" cy="716.3" r="1.25"/><circle cx="482.5" cy="716.5" r="1.25"/><circle cx="469.2" cy="716.8" r="1.25"/><circle cx="486.3" cy="717.0" r="1.25"/><circle cx="465.4" cy="717.1" r="1.25"/><circle cx="476.8" cy="717.2" r="1.25"/><circle cx="478.7" cy="718.2" r="1.25"/><circle cx="474.9" cy="718.5" r="1.25"/><circle cx="471.1" cy="718.8" r="1.25"/><circle cx="480.6" cy="719.3" r="1.25"/><circle cx="476.8" cy="720.0" r="1.25"/><circle cx="476.8" cy="725.6" r="1.25"/><circle cx="478.7" cy="726.8" r="1.25"/><circle cx="474.9" cy="727.1" r="1.25"/><circle cx="480.6" cy="727.9" r="1.25"/><circle cx="476.8" cy="728.1" r="1.25"/><circle cx="476.8" cy="735.5" r="1.25"/><circle cx="473.0" cy="735.8" r="1.25"/><circle cx="474.9" cy="737.2" r="1.25"/><circle cx="476.8" cy="738.1" r="1.25"/><circle cx="476.8" cy="746.9" r="1.25"/><circle cx="477.4" cy="752.0" r="1.25"/><circle cx="477.4" cy="756.0" r="1.25"/><circle cx="477.3" cy="760.0" r="1.25"/><circle cx="477.0" cy="768.0" r="1.25"/><circle cx="476.3" cy="788.0" r="1.25"/>
</g>
<g fill="#c4c5c8" stroke="#66686b" stroke-width="1">
<circle cx="527.7" cy="609.8" r="1.25"/><circle cx="525.9" cy="611.0" r="1.25"/><circle cx="527.7" cy="612.3" r="1.25"/><circle cx="525.9" cy="613.2" r="1.25"/><circle cx="529.5" cy="613.5" r="1.25"/><circle cx="522.3" cy="613.8" r="1.25"/><circle cx="533.1" cy="613.9" r="1.25"/><circle cx="533.1" cy="614.3" r="1.25"/><circle cx="527.7" cy="614.8" r="1.25"/><circle cx="524.1" cy="614.8" r="1.25"/><circle cx="529.5" cy="616.1" r="1.25"/><circle cx="525.9" cy="616.2" r="1.25"/><circle cx="527.7" cy="617.2" r="1.25"/><circle cx="531.3" cy="617.5" r="1.25"/><circle cx="525.9" cy="618.3" r="1.25"/><circle cx="527.7" cy="620.3" r="1.25"/><circle cx="531.3" cy="620.9" r="1.25"/><circle cx="525.9" cy="622.2" r="1.25"/><circle cx="529.5" cy="622.5" r="1.25"/><circle cx="522.3" cy="622.6" r="1.25"/><circle cx="533.1" cy="623.2" r="1.25"/><circle cx="527.7" cy="624.3" r="1.25"/><circle cx="531.3" cy="624.7" r="1.25"/><circle cx="524.1" cy="624.8" r="1.25"/><circle cx="520.5" cy="625.0" r="1.25"/><circle cx="529.5" cy="626.2" r="1.25"/><circle cx="527.7" cy="627.5" r="1.25"/><circle cx="524.1" cy="628.2" r="1.25"/><circle cx="531.3" cy="628.2" r="1.25"/><circle cx="527.7" cy="631.2" r="1.25"/><circle cx="524.1" cy="631.9" r="1.25"/><circle cx="529.5" cy="632.3" r="1.25"/><circle cx="533.1" cy="632.5" r="1.25"/><circle cx="527.7" cy="634.9" r="1.25"/><circle cx="524.1" cy="635.5" r="1.25"/><circle cx="531.3" cy="635.6" r="1.25"/><circle cx="534.9" cy="636.1" r="1.25"/><circle cx="527.7" cy="637.6" r="1.25"/><circle cx="531.3" cy="638.3" r="1.25"/><circle cx="524.1" cy="638.4" r="1.25"/><circle cx="525.9" cy="639.6" r="1.25"/><circle cx="529.5" cy="640.0" r="1.25"/><circle cx="527.7" cy="641.5" r="1.25"/><circle cx="524.1" cy="641.8" r="1.25"/><circle cx="531.3" cy="642.2" r="1.25"/><circle cx="525.9" cy="642.8" r="1.25"/><circle cx="522.3" cy="643.0" r="1.25"/><circle cx="534.9" cy="643.0" r="1.25"/><circle cx="529.5" cy="643.0" r="1.25"/><circle cx="520.5" cy="643.3" r="1.25"/><circle cx="527.7" cy="645.0" r="1.25"/><circle cx="525.9" cy="646.3" r="1.25"/><circle cx="527.7" cy="649.3" r="1.25"/><circle cx="531.3" cy="649.3" r="1.25"/><circle cx="524.1" cy="649.4" r="1.25"/><circle cx="527.7" cy="651.5" r="1.25"/><circle cx="524.1" cy="651.8" r="1.25"/><circle cx="525.9" cy="653.0" r="1.25"/><circle cx="529.5" cy="653.1" r="1.25"/><circle cx="522.3" cy="653.2" r="1.25"/><circle cx="533.1" cy="653.5" r="1.25"/><circle cx="527.7" cy="654.2" r="1.25"/><circle cx="524.1" cy="654.3" r="1.25"/><circle cx="531.3" cy="655.0" r="1.25"/><circle cx="525.9" cy="655.1" r="1.25"/><circle cx="522.3" cy="655.3" r="1.25"/><circle cx="534.9" cy="655.4" r="1.25"/><circle cx="529.5" cy="656.1" r="1.25"/><circle cx="524.1" cy="656.4" r="1.25"/><circle cx="533.1" cy="656.6" r="1.25"/><circle cx="520.5" cy="656.8" r="1.25"/><circle cx="527.7" cy="657.2" r="1.25"/><circle cx="536.7" cy="657.3" r="1.25"/><circle cx="529.5" cy="658.5" r="1.25"/><circle cx="525.9" cy="658.7" r="1.25"/><circle cx="522.3" cy="659.2" r="1.25"/><circle cx="533.1" cy="659.2" r="1.25"/><circle cx="527.7" cy="660.4" r="1.25"/><circle cx="531.3" cy="660.7" r="1.25"/><circle cx="524.1" cy="660.8" r="1.25"/><circle cx="534.9" cy="661.0" r="1.25"/><circle cx="520.5" cy="661.3" r="1.25"/><circle cx="525.9" cy="661.8" r="1.25"/><circle cx="529.5" cy="661.8" r="1.25"/><circle cx="533.1" cy="662.0" r="1.25"/><circle cx="522.3" cy="662.4" r="1.25"/><circle cx="536.7" cy="662.6" r="1.25"/><circle cx="518.7" cy="662.7" r="1.25"/><circle cx="527.7" cy="662.8" r="1.25"/><circle cx="529.5" cy="664.0" r="1.25"/><circle cx="525.9" cy="664.2" r="1.25"/><circle cx="522.3" cy="664.5" r="1.25"/><circle cx="531.3" cy="665.0" r="1.25"/><circle cx="527.7" cy="666.3" r="1.25"/><circle cx="524.1" cy="666.9" r="1.25"/><circle cx="529.5" cy="667.8" r="1.25"/><circle cx="525.9" cy="668.2" r="1.25"/><circle cx="533.1" cy="668.4" r="1.25"/><circle cx="527.7" cy="672.0" r="1.25"/><circle cx="531.3" cy="672.1" r="1.25"/><circle cx="524.1" cy="672.1" r="1.25"/><circle cx="534.9" cy="672.2" r="1.25"/><circle cx="520.5" cy="672.2" r="1.25"/><circle cx="522.3" cy="672.6" r="1.25"/><circle cx="533.1" cy="672.9" r="1.25"/><circle cx="529.5" cy="673.0" r="1.25"/><circle cx="525.9" cy="673.3" r="1.25"/><circle cx="531.3" cy="674.1" r="1.25"/><circle cx="527.7" cy="676.5" r="1.25"/><circle cx="525.9" cy="677.5" r="1.25"/><circle cx="527.7" cy="678.9" r="1.25"/><circle cx="531.3" cy="679.3" r="1.25"/><circle cx="524.1" cy="679.5" r="1.25"/><circle cx="534.9" cy="679.9" r="1.25"/><circle cx="527.7" cy="681.3" r="1.25"/><circle cx="531.3" cy="682.0" r="1.25"/><circle cx="527.7" cy="683.4" r="1.25"/><circle cx="524.1" cy="683.7" r="1.25"/><circle cx="531.3" cy="684.2" r="1.25"/><circle cx="525.9" cy="685.0" r="1.25"/><circle cx="529.5" cy="685.2" r="1.25"/><circle cx="522.3" cy="685.2" r="1.25"/><circle cx="533.1" cy="685.3" r="1.25"/><circle cx="527.7" cy="686.2" r="1.25"/><circle cx="529.5" cy="687.6" r="1.25"/><circle cx="525.9" cy="688.0" r="1.25"/><circle cx="533.1" cy="688.2" r="1.25"/><circle cx="522.3" cy="688.5" r="1.25"/><circle cx="527.7" cy="689.3" r="1.25"/><circle cx="527.7" cy="692.3" r="1.25"/><circle cx="531.3" cy="692.4" r="1.25"/><circle cx="524.1" cy="692.5" r="1.25"/><circle cx="520.5" cy="692.5" r="1.25"/><circle cx="534.9" cy="692.8" r="1.25"/><circle cx="516.9" cy="693.3" r="1.25"/><circle cx="529.5" cy="693.6" r="1.25"/><circle cx="525.9" cy="693.8" r="1.25"/><circle cx="522.3" cy="694.2" r="1.25"/><circle cx="533.1" cy="694.4" r="1.25"/><circle cx="536.7" cy="694.5" r="1.25"/><circle cx="518.7" cy="694.6" r="1.25"/><circle cx="527.7" cy="695.5" r="1.25"/><circle cx="531.3" cy="696.0" r="1.25"/><circle cx="524.1" cy="696.0" r="1.25"/><circle cx="520.5" cy="696.2" r="1.25"/><circle cx="527.7" cy="697.6" r="1.25"/><circle cx="533.1" cy="697.8" r="1.25"/><circle cx="522.3" cy="697.8" r="1.25"/><circle cx="518.7" cy="697.9" r="1.25"/><circle cx="536.7" cy="698.2" r="1.25"/><circle cx="529.5" cy="698.8" r="1.25"/><circle cx="525.9" cy="698.9" r="1.25"/><circle cx="520.5" cy="699.5" r="1.25"/><circle cx="534.9" cy="699.5" r="1.25"/><circle cx="527.7" cy="700.0" r="1.25"/><circle cx="531.3" cy="700.2" r="1.25"/><circle cx="524.1" cy="700.2" r="1.25"/><circle cx="525.9" cy="701.1" r="1.25"/><circle cx="529.5" cy="701.3" r="1.25"/><circle cx="522.3" cy="701.4" r="1.25"/><circle cx="533.1" cy="701.6" r="1.25"/><circle cx="518.7" cy="701.7" r="1.25"/><circle cx="536.7" cy="701.8" r="1.25"/><circle cx="515.1" cy="702.1" r="1.25"/><circle cx="540.3" cy="702.2" r="1.25"/><circle cx="527.7" cy="702.2" r="1.25"/><circle cx="524.1" cy="702.3" r="1.25"/><circle cx="543.9" cy="702.4" r="1.25"/><circle cx="531.3" cy="702.5" r="1.25"/><circle cx="534.9" cy="702.8" r="1.25"/><circle cx="520.5" cy="702.9" r="1.25"/><circle cx="525.9" cy="703.5" r="1.25"/><circle cx="529.5" cy="703.6" r="1.25"/><circle cx="538.5" cy="703.7" r="1.25"/><circle cx="516.9" cy="703.7" r="1.25"/><circle cx="542.1" cy="703.7" r="1.25"/><circle cx="533.1" cy="703.9" r="1.25"/><circle cx="522.3" cy="704.4" r="1.25"/><circle cx="513.3" cy="704.4" r="1.25"/><circle cx="527.7" cy="704.9" r="1.25"/><circle cx="531.3" cy="705.2" r="1.25"/><circle cx="524.1" cy="705.3" r="1.25"/><circle cx="534.9" cy="705.6" r="1.25"/><circle cx="520.5" cy="705.9" r="1.25"/><circle cx="516.9" cy="706.0" r="1.25"/><circle cx="529.5" cy="706.1" r="1.25"/><circle cx="538.5" cy="706.2" r="1.25"/><circle cx="525.9" cy="706.3" r="1.25"/><circle cx="542.1" cy="706.3" r="1.25"/><circle cx="533.1" cy="706.5" r="1.25"/><circle cx="513.3" cy="706.6" r="1.25"/><circle cx="545.7" cy="706.7" r="1.25"/><circle cx="522.3" cy="707.1" r="1.25"/><circle cx="527.7" cy="707.3" r="1.25"/><circle cx="531.3" cy="707.4" r="1.25"/><circle cx="534.9" cy="707.8" r="1.25"/><circle cx="524.1" cy="708.0" r="1.25"/><circle cx="520.5" cy="708.0" r="1.25"/><circle cx="516.9" cy="708.2" r="1.25"/><circle cx="529.5" cy="708.7" r="1.25"/><circle cx="525.9" cy="709.1" r="1.25"/><circle cx="533.1" cy="709.2" r="1.25"/><circle cx="522.3" cy="709.3" r="1.25"/><circle cx="518.7" cy="709.7" r="1.25"/><circle cx="536.7" cy="709.8" r="1.25"/><circle cx="527.7" cy="710.2" r="1.25"/><circle cx="524.1" cy="710.4" r="1.25"/><circle cx="531.3" cy="710.6" r="1.25"/><circle cx="534.9" cy="710.7" r="1.25"/><circle cx="520.5" cy="711.0" r="1.25"/><circle cx="516.9" cy="711.1" r="1.25"/><circle cx="538.5" cy="711.1" r="1.25"/><circle cx="513.3" cy="711.2" r="1.25"/><circle cx="525.9" cy="711.3" r="1.25"/><circle cx="542.1" cy="711.4" r="1.25"/><circle cx="529.5" cy="711.5" r="1.25"/><circle cx="533.1" cy="711.7" r="1.25"/><circle cx="545.7" cy="711.8" r="1.25"/><circle cx="522.3" cy="711.9" r="1.25"/><circle cx="536.7" cy="712.3" r="1.25"/><circle cx="527.7" cy="712.8" r="1.25"/><circle cx="524.1" cy="712.8" r="1.25"/><circle cx="531.3" cy="712.9" r="1.25"/><circle cx="520.5" cy="713.0" r="1.25"/><circle cx="540.3" cy="713.0" r="1.25"/><circle cx="534.9" cy="713.2" r="1.25"/><circle cx="525.9" cy="713.9" r="1.25"/><circle cx="529.5" cy="714.2" r="1.25"/><circle cx="533.1" cy="714.2" r="1.25"/><circle cx="522.3" cy="714.2" r="1.25"/><circle cx="536.7" cy="714.4" r="1.25"/><circle cx="518.7" cy="715.0" r="1.25"/><circle cx="527.7" cy="715.0" r="1.25"/><circle cx="524.1" cy="715.1" r="1.25"/><circle cx="531.3" cy="715.1" r="1.25"/><circle cx="540.3" cy="715.2" r="1.25"/><circle cx="534.9" cy="715.3" r="1.25"/><circle cx="515.1" cy="715.3" r="1.25"/><circle cx="543.9" cy="715.6" r="1.25"/><circle cx="511.5" cy="715.8" r="1.25"/><circle cx="520.5" cy="715.9" r="1.25"/><circle cx="529.5" cy="716.3" r="1.25"/><circle cx="525.9" cy="716.4" r="1.25"/><circle cx="522.3" cy="717.0" r="1.25"/><circle cx="533.1" cy="717.0" r="1.25"/><circle cx="536.7" cy="717.0" r="1.25"/><circle cx="518.7" cy="717.0" r="1.25"/><circle cx="540.3" cy="717.3" r="1.25"/><circle cx="527.7" cy="717.4" r="1.25"/><circle cx="515.1" cy="717.7" r="1.25"/><circle cx="531.3" cy="718.0" r="1.25"/><circle cx="524.1" cy="718.1" r="1.25"/><circle cx="520.5" cy="718.1" r="1.25"/><circle cx="534.9" cy="718.8" r="1.25"/><circle cx="529.5" cy="719.1" r="1.25"/><circle cx="525.9" cy="719.2" r="1.25"/><circle cx="522.3" cy="719.4" r="1.25"/><circle cx="518.7" cy="719.6" r="1.25"/><circle cx="531.3" cy="720.0" r="1.25"/><circle cx="527.7" cy="720.2" r="1.25"/><circle cx="536.7" cy="720.3" r="1.25"/><circle cx="524.1" cy="720.5" r="1.25"/><circle cx="520.5" cy="720.6" r="1.25"/><circle cx="516.9" cy="720.7" r="1.25"/><circle cx="540.3" cy="720.7" r="1.25"/><circle cx="513.3" cy="720.8" r="1.25"/><circle cx="533.1" cy="721.1" r="1.25"/><circle cx="529.5" cy="721.4" r="1.25"/><circle cx="525.9" cy="721.4" r="1.25"/><circle cx="522.3" cy="721.5" r="1.25"/><circle cx="518.7" cy="721.7" r="1.25"/><circle cx="527.7" cy="722.8" r="1.25"/><circle cx="531.3" cy="723.2" r="1.25"/><circle cx="524.1" cy="723.3" r="1.25"/><circle cx="520.5" cy="724.0" r="1.25"/><circle cx="529.5" cy="724.3" r="1.25"/><circle cx="527.7" cy="728.4" r="1.25"/><circle cx="531.3" cy="728.9" r="1.25"/><circle cx="527.7" cy="731.8" r="1.25"/><circle cx="531.3" cy="731.9" r="1.25"/><circle cx="525.9" cy="732.7" r="1.25"/><circle cx="529.5" cy="732.9" r="1.25"/><circle cx="522.3" cy="733.3" r="1.25"/><circle cx="527.7" cy="734.3" r="1.25"/><circle cx="529.5" cy="735.8" r="1.25"/><circle cx="525.9" cy="736.3" r="1.25"/><circle cx="533.1" cy="736.6" r="1.25"/><circle cx="527.7" cy="737.8" r="1.25"/><circle cx="527.7" cy="740.2" r="1.25"/><circle cx="524.1" cy="740.3" r="1.25"/><circle cx="531.3" cy="740.7" r="1.25"/><circle cx="527.7" cy="743.0" r="1.25"/><circle cx="524.1" cy="743.4" r="1.25"/><circle cx="528.1" cy="748.0" r="1.25"/><circle cx="527.5" cy="754.0" r="1.25"/><circle cx="528.0" cy="760.0" r="1.25"/><circle cx="527.2" cy="786.0" r="1.25"/><circle cx="527.7" cy="795.0" r="1.25"/><circle cx="528.0" cy="797.0" r="1.25"/><circle cx="527.1" cy="802.0" r="1.25"/><circle cx="527.7" cy="815.0" r="1.25"/>
</g>
<g fill="#cbdcf0" stroke="#4f88ca" stroke-width="1">
<circle cx="578.4" cy="607.2" r="1.25"/><circle cx="582.8" cy="607.3" r="1.25"/><circle cx="574.0" cy="608.0" r="1.25"/><circle cx="580.6" cy="608.7" r="1.25"/><circle cx="585.0" cy="608.7" r="1.25"/><circle cx="569.6" cy="608.8" r="1.25"/><circle cx="576.2" cy="609.2" r="1.25"/><circle cx="589.4" cy="609.4" r="1.25"/><circle cx="565.2" cy="609.9" r="1.25"/><circle cx="582.8" cy="610.1" r="1.25"/><circle cx="571.8" cy="610.4" r="1.25"/><circle cx="578.4" cy="610.5" r="1.25"/><circle cx="587.2" cy="610.6" r="1.25"/><circle cx="591.6" cy="610.7" r="1.25"/><circle cx="560.8" cy="610.9" r="1.25"/><circle cx="567.4" cy="611.1" r="1.25"/><circle cx="596.0" cy="611.5" r="1.25"/><circle cx="576.2" cy="611.9" r="1.25"/><circle cx="580.6" cy="612.2" r="1.25"/><circle cx="585.0" cy="612.3" r="1.25"/><circle cx="569.6" cy="612.4" r="1.25"/><circle cx="589.4" cy="612.4" r="1.25"/><circle cx="565.2" cy="612.6" r="1.25"/><circle cx="585.0" cy="612.6" r="1.25"/><circle cx="593.8" cy="612.7" r="1.25"/><circle cx="578.4" cy="613.6" r="1.25"/><circle cx="582.8" cy="614.1" r="1.25"/><circle cx="576.2" cy="615.2" r="1.25"/><circle cx="578.4" cy="616.6" r="1.25"/><circle cx="574.0" cy="616.9" r="1.25"/><circle cx="582.8" cy="617.2" r="1.25"/><circle cx="569.6" cy="617.5" r="1.25"/><circle cx="587.2" cy="617.6" r="1.25"/><circle cx="565.2" cy="617.8" r="1.25"/><circle cx="576.2" cy="618.2" r="1.25"/><circle cx="580.6" cy="618.5" r="1.25"/><circle cx="571.8" cy="619.3" r="1.25"/><circle cx="585.0" cy="619.6" r="1.25"/><circle cx="578.4" cy="620.1" r="1.25"/><circle cx="567.4" cy="620.1" r="1.25"/><circle cx="574.0" cy="620.6" r="1.25"/><circle cx="582.8" cy="620.8" r="1.25"/><circle cx="587.2" cy="621.1" r="1.25"/><circle cx="591.6" cy="621.3" r="1.25"/><circle cx="569.6" cy="621.4" r="1.25"/><circle cx="576.2" cy="622.2" r="1.25"/><circle cx="580.6" cy="623.2" r="1.25"/><circle cx="574.0" cy="623.6" r="1.25"/><circle cx="585.0" cy="623.6" r="1.25"/><circle cx="567.4" cy="623.7" r="1.25"/><circle cx="589.4" cy="623.8" r="1.25"/><circle cx="593.8" cy="623.9" r="1.25"/><circle cx="563.0" cy="624.1" r="1.25"/><circle cx="578.4" cy="624.4" r="1.25"/><circle cx="578.4" cy="624.6" r="1.25"/><circle cx="591.6" cy="624.7" r="1.25"/><circle cx="582.8" cy="625.0" r="1.25"/><circle cx="571.8" cy="625.6" r="1.25"/><circle cx="580.6" cy="626.6" r="1.25"/><circle cx="576.2" cy="626.7" r="1.25"/><circle cx="578.4" cy="632.5" r="1.25"/><circle cx="574.0" cy="632.6" r="1.25"/><circle cx="582.8" cy="632.7" r="1.25"/><circle cx="569.6" cy="633.3" r="1.25"/><circle cx="576.2" cy="633.8" r="1.25"/><circle cx="578.4" cy="636.5" r="1.25"/><circle cx="578.4" cy="639.3" r="1.25"/><circle cx="574.0" cy="639.5" r="1.25"/><circle cx="582.8" cy="639.7" r="1.25"/><circle cx="587.2" cy="639.9" r="1.25"/><circle cx="569.6" cy="640.0" r="1.25"/><circle cx="576.2" cy="641.5" r="1.25"/><circle cx="580.6" cy="642.2" r="1.25"/><circle cx="571.8" cy="642.3" r="1.25"/><circle cx="585.0" cy="642.5" r="1.25"/><circle cx="578.4" cy="643.4" r="1.25"/><circle cx="576.2" cy="645.7" r="1.25"/><circle cx="580.6" cy="646.7" r="1.25"/><circle cx="574.0" cy="647.6" r="1.25"/><circle cx="578.4" cy="649.2" r="1.25"/><circle cx="582.8" cy="650.0" r="1.25"/><circle cx="571.8" cy="650.0" r="1.25"/><circle cx="576.2" cy="650.6" r="1.25"/><circle cx="587.2" cy="651.1" r="1.25"/><circle cx="578.4" cy="652.7" r="1.25"/><circle cx="574.0" cy="653.3" r="1.25"/><circle cx="576.2" cy="654.8" r="1.25"/><circle cx="580.6" cy="654.9" r="1.25"/><circle cx="571.8" cy="655.0" r="1.25"/><circle cx="585.0" cy="655.0" r="1.25"/><circle cx="578.4" cy="657.3" r="1.25"/><circle cx="580.6" cy="658.9" r="1.25"/><circle cx="578.4" cy="660.6" r="1.25"/><circle cx="582.8" cy="661.0" r="1.25"/><circle cx="574.0" cy="661.2" r="1.25"/><circle cx="587.2" cy="662.1" r="1.25"/><circle cx="580.6" cy="662.2" r="1.25"/><circle cx="576.2" cy="663.0" r="1.25"/><circle cx="571.8" cy="663.4" r="1.25"/><circle cx="585.0" cy="663.4" r="1.25"/><circle cx="589.4" cy="663.6" r="1.25"/><circle cx="578.4" cy="665.5" r="1.25"/><circle cx="582.8" cy="665.5" r="1.25"/><circle cx="574.0" cy="666.4" r="1.25"/><circle cx="580.6" cy="667.0" r="1.25"/><circle cx="585.0" cy="667.0" r="1.25"/><circle cx="569.6" cy="667.4" r="1.25"/><circle cx="578.4" cy="668.4" r="1.25"/><circle cx="582.8" cy="668.5" r="1.25"/><circle cx="576.2" cy="669.6" r="1.25"/><circle cx="580.6" cy="669.9" r="1.25"/><circle cx="574.0" cy="670.9" r="1.25"/><circle cx="578.4" cy="674.1" r="1.25"/><circle cx="582.8" cy="674.5" r="1.25"/><circle cx="574.0" cy="674.6" r="1.25"/><circle cx="569.6" cy="675.5" r="1.25"/><circle cx="580.6" cy="675.7" r="1.25"/><circle cx="576.2" cy="676.1" r="1.25"/><circle cx="585.0" cy="676.7" r="1.25"/><circle cx="589.4" cy="676.7" r="1.25"/><circle cx="571.8" cy="677.1" r="1.25"/><circle cx="567.4" cy="677.1" r="1.25"/><circle cx="578.4" cy="677.7" r="1.25"/><circle cx="574.0" cy="677.8" r="1.25"/><circle cx="580.6" cy="679.3" r="1.25"/><circle cx="576.2" cy="679.8" r="1.25"/><circle cx="582.8" cy="680.8" r="1.25"/><circle cx="578.4" cy="681.8" r="1.25"/><circle cx="574.0" cy="682.2" r="1.25"/><circle cx="585.0" cy="682.2" r="1.25"/><circle cx="580.6" cy="683.1" r="1.25"/><circle cx="569.6" cy="683.2" r="1.25"/><circle cx="578.4" cy="685.2" r="1.25"/><circle cx="574.0" cy="686.1" r="1.25"/><circle cx="578.4" cy="688.2" r="1.25"/><circle cx="576.2" cy="689.8" r="1.25"/><circle cx="580.6" cy="690.1" r="1.25"/><circle cx="585.0" cy="690.2" r="1.25"/><circle cx="571.8" cy="690.6" r="1.25"/><circle cx="567.4" cy="690.7" r="1.25"/><circle cx="589.4" cy="690.9" r="1.25"/><circle cx="578.4" cy="691.5" r="1.25"/><circle cx="578.4" cy="694.0" r="1.25"/><circle cx="582.8" cy="695.2" r="1.25"/><circle cx="576.2" cy="695.2" r="1.25"/><circle cx="571.8" cy="695.7" r="1.25"/><circle cx="578.4" cy="696.6" r="1.25"/><circle cx="574.0" cy="697.4" r="1.25"/><circle cx="580.6" cy="698.4" r="1.25"/><circle cx="576.2" cy="699.2" r="1.25"/><circle cx="582.8" cy="700.0" r="1.25"/><circle cx="578.4" cy="700.5" r="1.25"/><circle cx="574.0" cy="700.6" r="1.25"/><circle cx="582.8" cy="701.1" r="1.25"/><circle cx="580.6" cy="701.7" r="1.25"/><circle cx="578.4" cy="703.1" r="1.25"/><circle cx="574.0" cy="703.2" r="1.25"/><circle cx="582.8" cy="703.6" r="1.25"/><circle cx="578.4" cy="704.2" r="1.25"/><circle cx="578.4" cy="710.8" r="1.25"/><circle cx="582.8" cy="711.6" r="1.25"/><circle cx="578.4" cy="714.7" r="1.25"/><circle cx="576.2" cy="716.1" r="1.25"/><circle cx="578.4" cy="719.1" r="1.25"/><circle cx="576.2" cy="720.4" r="1.25"/><circle cx="578.6" cy="742.0" r="1.25"/><circle cx="578.3" cy="748.0" r="1.25"/>
</g>
<g fill="#9bb2c9" stroke="#446a90" stroke-width="1">
<circle cx="629.2" cy="610.0" r="1.25"/><circle cx="629.2" cy="612.7" r="1.25"/><circle cx="629.2" cy="614.9" r="1.25"/><circle cx="630.3" cy="615.9" r="1.25"/><circle cx="629.2" cy="617.6" r="1.25"/><circle cx="627.0" cy="617.6" r="1.25"/><circle cx="629.2" cy="621.6" r="1.25"/><circle cx="629.2" cy="624.4" r="1.25"/><circle cx="630.3" cy="625.6" r="1.25"/><circle cx="628.1" cy="626.3" r="1.25"/><circle cx="629.2" cy="627.6" r="1.25"/><circle cx="627.0" cy="628.3" r="1.25"/><circle cx="629.2" cy="629.8" r="1.25"/><circle cx="631.4" cy="629.9" r="1.25"/><circle cx="628.1" cy="630.6" r="1.25"/><circle cx="630.3" cy="630.9" r="1.25"/><circle cx="629.2" cy="631.7" r="1.25"/><circle cx="627.0" cy="632.4" r="1.25"/><circle cx="630.3" cy="632.5" r="1.25"/><circle cx="629.2" cy="633.2" r="1.25"/><circle cx="629.2" cy="635.6" r="1.25"/><circle cx="628.1" cy="636.5" r="1.25"/><circle cx="629.2" cy="637.9" r="1.25"/><circle cx="631.4" cy="638.2" r="1.25"/><circle cx="629.2" cy="639.7" r="1.25"/><circle cx="627.0" cy="640.0" r="1.25"/><circle cx="629.2" cy="643.0" r="1.25"/><circle cx="629.2" cy="644.3" r="1.25"/><circle cx="631.4" cy="644.6" r="1.25"/><circle cx="630.3" cy="645.6" r="1.25"/><circle cx="628.1" cy="645.9" r="1.25"/><circle cx="632.5" cy="646.0" r="1.25"/><circle cx="625.9" cy="646.5" r="1.25"/><circle cx="634.7" cy="646.5" r="1.25"/><circle cx="629.2" cy="647.0" r="1.25"/><circle cx="631.4" cy="647.3" r="1.25"/><circle cx="630.3" cy="648.3" r="1.25"/><circle cx="628.1" cy="649.0" r="1.25"/><circle cx="632.5" cy="649.0" r="1.25"/><circle cx="625.9" cy="649.0" r="1.25"/><circle cx="623.7" cy="649.0" r="1.25"/><circle cx="630.3" cy="649.6" r="1.25"/><circle cx="629.2" cy="650.7" r="1.25"/><circle cx="631.4" cy="650.9" r="1.25"/><circle cx="628.1" cy="651.4" r="1.25"/><circle cx="630.3" cy="651.9" r="1.25"/><circle cx="627.0" cy="652.2" r="1.25"/><circle cx="629.2" cy="653.2" r="1.25"/><circle cx="629.2" cy="654.6" r="1.25"/><circle cx="627.0" cy="655.0" r="1.25"/><circle cx="629.2" cy="656.3" r="1.25"/><circle cx="627.0" cy="656.3" r="1.25"/><circle cx="631.4" cy="656.8" r="1.25"/><circle cx="628.1" cy="657.6" r="1.25"/><circle cx="630.3" cy="657.6" r="1.25"/><circle cx="632.5" cy="657.9" r="1.25"/><circle cx="625.9" cy="658.0" r="1.25"/><circle cx="634.7" cy="658.0" r="1.25"/><circle cx="623.7" cy="658.3" r="1.25"/><circle cx="629.2" cy="658.8" r="1.25"/><circle cx="627.0" cy="659.0" r="1.25"/><circle cx="631.4" cy="659.2" r="1.25"/><circle cx="633.6" cy="659.4" r="1.25"/><circle cx="624.8" cy="659.5" r="1.25"/><circle cx="629.2" cy="660.1" r="1.25"/><circle cx="627.0" cy="660.5" r="1.25"/><circle cx="631.4" cy="660.6" r="1.25"/><circle cx="633.6" cy="660.7" r="1.25"/><circle cx="629.2" cy="661.7" r="1.25"/><circle cx="627.0" cy="661.8" r="1.25"/><circle cx="632.5" cy="661.8" r="1.25"/><circle cx="624.8" cy="662.2" r="1.25"/><circle cx="628.1" cy="662.5" r="1.25"/><circle cx="630.3" cy="662.6" r="1.25"/><circle cx="625.9" cy="663.2" r="1.25"/><circle cx="629.2" cy="663.3" r="1.25"/><circle cx="627.0" cy="664.0" r="1.25"/><circle cx="630.3" cy="664.1" r="1.25"/><circle cx="632.5" cy="664.2" r="1.25"/><circle cx="624.8" cy="664.3" r="1.25"/><circle cx="634.7" cy="664.5" r="1.25"/><circle cx="629.2" cy="664.8" r="1.25"/><circle cx="631.4" cy="665.1" r="1.25"/><circle cx="625.9" cy="665.2" r="1.25"/><circle cx="628.1" cy="665.8" r="1.25"/><circle cx="630.3" cy="665.9" r="1.25"/><circle cx="632.5" cy="666.1" r="1.25"/><circle cx="624.8" cy="666.2" r="1.25"/><circle cx="634.7" cy="666.2" r="1.25"/><circle cx="627.0" cy="666.6" r="1.25"/><circle cx="629.2" cy="667.1" r="1.25"/><circle cx="628.1" cy="668.0" r="1.25"/><circle cx="630.3" cy="668.2" r="1.25"/><circle cx="625.9" cy="668.4" r="1.25"/><circle cx="632.5" cy="668.7" r="1.25"/><circle cx="629.2" cy="669.6" r="1.25"/><circle cx="631.4" cy="669.8" r="1.25"/><circle cx="628.1" cy="670.5" r="1.25"/><circle cx="630.3" cy="670.6" r="1.25"/><circle cx="625.9" cy="670.6" r="1.25"/><circle cx="629.2" cy="671.3" r="1.25"/><circle cx="627.0" cy="671.4" r="1.25"/><circle cx="631.4" cy="671.4" r="1.25"/><circle cx="624.8" cy="671.4" r="1.25"/><circle cx="633.6" cy="671.5" r="1.25"/><circle cx="635.8" cy="671.6" r="1.25"/><circle cx="628.1" cy="672.6" r="1.25"/><circle cx="630.3" cy="673.0" r="1.25"/><circle cx="627.0" cy="673.6" r="1.25"/><circle cx="629.2" cy="673.8" r="1.25"/><circle cx="631.4" cy="674.2" r="1.25"/><circle cx="633.6" cy="674.2" r="1.25"/><circle cx="630.3" cy="674.9" r="1.25"/><circle cx="628.1" cy="675.2" r="1.25"/><circle cx="625.9" cy="675.2" r="1.25"/><circle cx="632.5" cy="675.3" r="1.25"/><circle cx="634.7" cy="675.3" r="1.25"/><circle cx="629.2" cy="676.3" r="1.25"/><circle cx="631.4" cy="676.4" r="1.25"/><circle cx="627.0" cy="676.5" r="1.25"/><circle cx="633.6" cy="676.8" r="1.25"/><circle cx="628.1" cy="677.3" r="1.25"/><circle cx="629.2" cy="678.7" r="1.25"/><circle cx="630.3" cy="679.5" r="1.25"/><circle cx="628.1" cy="679.8" r="1.25"/><circle cx="632.5" cy="679.8" r="1.25"/><circle cx="625.9" cy="680.0" r="1.25"/><circle cx="634.7" cy="680.2" r="1.25"/><circle cx="629.2" cy="681.1" r="1.25"/><circle cx="631.4" cy="681.3" r="1.25"/><circle cx="627.0" cy="681.6" r="1.25"/><circle cx="624.8" cy="681.7" r="1.25"/><circle cx="633.6" cy="681.7" r="1.25"/><circle cx="622.6" cy="681.9" r="1.25"/><circle cx="630.3" cy="682.1" r="1.25"/><circle cx="635.8" cy="682.1" r="1.25"/><circle cx="620.4" cy="682.2" r="1.25"/><circle cx="628.1" cy="682.3" r="1.25"/><circle cx="625.9" cy="682.4" r="1.25"/><circle cx="629.2" cy="683.7" r="1.25"/><circle cx="627.0" cy="683.7" r="1.25"/><circle cx="631.4" cy="683.8" r="1.25"/><circle cx="630.3" cy="684.7" r="1.25"/><circle cx="628.1" cy="685.0" r="1.25"/><circle cx="632.5" cy="685.0" r="1.25"/><circle cx="625.9" cy="685.0" r="1.25"/><circle cx="623.7" cy="685.4" r="1.25"/><circle cx="634.7" cy="685.4" r="1.25"/><circle cx="629.2" cy="685.8" r="1.25"/><circle cx="627.0" cy="686.3" r="1.25"/><circle cx="631.4" cy="686.4" r="1.25"/><circle cx="624.8" cy="686.6" r="1.25"/><circle cx="633.6" cy="686.6" r="1.25"/><circle cx="635.8" cy="686.9" r="1.25"/><circle cx="622.6" cy="687.0" r="1.25"/><circle cx="629.2" cy="687.2" r="1.25"/><circle cx="632.5" cy="687.6" r="1.25"/><circle cx="625.9" cy="687.6" r="1.25"/><circle cx="628.1" cy="688.1" r="1.25"/><circle cx="630.3" cy="688.2" r="1.25"/><circle cx="633.6" cy="688.3" r="1.25"/><circle cx="624.8" cy="688.5" r="1.25"/><circle cx="635.8" cy="688.6" r="1.25"/><circle cx="622.6" cy="688.6" r="1.25"/><circle cx="620.4" cy="688.7" r="1.25"/><circle cx="638.0" cy="688.8" r="1.25"/><circle cx="624.8" cy="688.8" r="1.25"/><circle cx="629.2" cy="688.9" r="1.25"/><circle cx="631.4" cy="689.0" r="1.25"/><circle cx="627.0" cy="689.1" r="1.25"/><circle cx="634.7" cy="689.3" r="1.25"/><circle cx="621.5" cy="689.4" r="1.25"/><circle cx="623.7" cy="689.5" r="1.25"/><circle cx="636.9" cy="689.6" r="1.25"/><circle cx="629.2" cy="690.2" r="1.25"/><circle cx="632.5" cy="690.2" r="1.25"/><circle cx="625.9" cy="690.4" r="1.25"/><circle cx="628.1" cy="691.1" r="1.25"/><circle cx="630.3" cy="691.3" r="1.25"/><circle cx="624.8" cy="691.4" r="1.25"/><circle cx="632.5" cy="691.6" r="1.25"/><circle cx="634.7" cy="691.7" r="1.25"/><circle cx="627.0" cy="691.8" r="1.25"/><circle cx="629.2" cy="692.0" r="1.25"/><circle cx="631.4" cy="692.4" r="1.25"/><circle cx="633.6" cy="692.4" r="1.25"/><circle cx="628.1" cy="692.7" r="1.25"/><circle cx="630.3" cy="693.1" r="1.25"/><circle cx="625.9" cy="693.3" r="1.25"/><circle cx="632.5" cy="693.4" r="1.25"/><circle cx="623.7" cy="693.6" r="1.25"/><circle cx="634.7" cy="693.6" r="1.25"/><circle cx="621.5" cy="693.7" r="1.25"/><circle cx="629.2" cy="693.8" r="1.25"/><circle cx="627.0" cy="694.0" r="1.25"/><circle cx="636.9" cy="694.1" r="1.25"/><circle cx="631.4" cy="694.2" r="1.25"/><circle cx="619.3" cy="694.2" r="1.25"/><circle cx="628.1" cy="694.9" r="1.25"/><circle cx="630.3" cy="695.2" r="1.25"/><circle cx="625.9" cy="695.2" r="1.25"/><circle cx="632.5" cy="695.4" r="1.25"/><circle cx="634.7" cy="695.4" r="1.25"/><circle cx="623.7" cy="695.7" r="1.25"/><circle cx="636.9" cy="695.8" r="1.25"/><circle cx="629.2" cy="695.9" r="1.25"/><circle cx="627.0" cy="696.3" r="1.25"/><circle cx="631.4" cy="696.4" r="1.25"/><circle cx="633.6" cy="696.5" r="1.25"/><circle cx="624.8" cy="696.6" r="1.25"/><circle cx="622.6" cy="696.6" r="1.25"/><circle cx="635.8" cy="696.7" r="1.25"/><circle cx="638.0" cy="696.7" r="1.25"/><circle cx="620.4" cy="696.9" r="1.25"/><circle cx="618.2" cy="697.0" r="1.25"/><circle cx="630.3" cy="697.1" r="1.25"/><circle cx="628.1" cy="697.2" r="1.25"/><circle cx="632.5" cy="697.3" r="1.25"/><circle cx="625.9" cy="697.6" r="1.25"/><circle cx="634.7" cy="697.7" r="1.25"/><circle cx="623.7" cy="697.8" r="1.25"/><circle cx="629.2" cy="698.0" r="1.25"/><circle cx="631.4" cy="698.1" r="1.25"/><circle cx="636.9" cy="698.2" r="1.25"/><circle cx="621.5" cy="698.2" r="1.25"/><circle cx="627.0" cy="698.3" r="1.25"/><circle cx="619.3" cy="698.4" r="1.25"/><circle cx="633.6" cy="698.4" r="1.25"/><circle cx="624.8" cy="698.5" r="1.25"/><circle cx="639.1" cy="698.6" r="1.25"/><circle cx="641.3" cy="698.7" r="1.25"/><circle cx="630.3" cy="699.0" r="1.25"/><circle cx="628.1" cy="699.1" r="1.25"/><circle cx="622.6" cy="699.1" r="1.25"/><circle cx="635.8" cy="699.1" r="1.25"/><circle cx="632.5" cy="699.1" r="1.25"/><circle cx="620.4" cy="699.2" r="1.25"/><circle cx="625.9" cy="699.7" r="1.25"/><circle cx="629.2" cy="699.8" r="1.25"/><circle cx="631.4" cy="700.0" r="1.25"/><circle cx="633.6" cy="700.0" r="1.25"/><circle cx="623.7" cy="700.3" r="1.25"/><circle cx="621.5" cy="700.3" r="1.25"/><circle cx="628.1" cy="700.7" r="1.25"/><circle cx="630.3" cy="700.8" r="1.25"/><circle cx="632.5" cy="701.0" r="1.25"/><circle cx="625.9" cy="701.4" r="1.25"/><circle cx="634.7" cy="701.4" r="1.25"/><circle cx="622.6" cy="701.4" r="1.25"/><circle cx="636.9" cy="701.5" r="1.25"/><circle cx="629.2" cy="701.7" r="1.25"/><circle cx="631.4" cy="701.9" r="1.25"/><circle cx="620.4" cy="701.9" r="1.25"/><circle cx="627.0" cy="702.2" r="1.25"/><circle cx="624.8" cy="702.4" r="1.25"/><circle cx="630.3" cy="702.7" r="1.25"/><circle cx="632.5" cy="702.8" r="1.25"/><circle cx="634.7" cy="702.8" r="1.25"/><circle cx="628.1" cy="703.0" r="1.25"/><circle cx="622.6" cy="703.0" r="1.25"/><circle cx="636.9" cy="703.0" r="1.25"/><circle cx="625.9" cy="703.4" r="1.25"/><circle cx="631.4" cy="703.5" r="1.25"/><circle cx="633.6" cy="703.5" r="1.25"/><circle cx="629.2" cy="703.8" r="1.25"/><circle cx="623.7" cy="703.8" r="1.25"/><circle cx="627.0" cy="704.1" r="1.25"/><circle cx="635.8" cy="704.2" r="1.25"/><circle cx="632.5" cy="704.3" r="1.25"/><circle cx="621.5" cy="704.4" r="1.25"/><circle cx="638.0" cy="704.5" r="1.25"/><circle cx="630.3" cy="704.6" r="1.25"/><circle cx="624.8" cy="704.6" r="1.25"/><circle cx="619.3" cy="704.7" r="1.25"/><circle cx="640.2" cy="704.7" r="1.25"/><circle cx="617.1" cy="704.8" r="1.25"/><circle cx="642.4" cy="704.8" r="1.25"/><circle cx="614.9" cy="704.8" r="1.25"/><circle cx="628.1" cy="704.9" r="1.25"/><circle cx="633.6" cy="705.1" r="1.25"/><circle cx="622.6" cy="705.2" r="1.25"/><circle cx="636.9" cy="705.2" r="1.25"/><circle cx="631.4" cy="705.3" r="1.25"/><circle cx="625.9" cy="705.4" r="1.25"/><circle cx="620.4" cy="705.4" r="1.25"/><circle cx="639.1" cy="705.5" r="1.25"/><circle cx="618.2" cy="705.6" r="1.25"/><circle cx="629.2" cy="705.6" r="1.25"/><circle cx="641.3" cy="705.8" r="1.25"/><circle cx="634.7" cy="705.9" r="1.25"/><circle cx="627.0" cy="706.3" r="1.25"/><circle cx="632.5" cy="706.3" r="1.25"/><circle cx="624.8" cy="706.3" r="1.25"/><circle cx="630.3" cy="706.3" r="1.25"/><circle cx="622.6" cy="706.5" r="1.25"/><circle cx="635.8" cy="706.6" r="1.25"/><circle cx="638.0" cy="706.6" r="1.25"/><circle cx="619.3" cy="706.6" r="1.25"/><circle cx="640.2" cy="706.8" r="1.25"/><circle cx="617.1" cy="706.9" r="1.25"/><circle cx="642.4" cy="706.9" r="1.25"/><circle cx="629.2" cy="707.1" r="1.25"/><circle cx="631.4" cy="707.3" r="1.25"/><circle cx="625.9" cy="707.3" r="1.25"/><circle cx="633.6" cy="707.4" r="1.25"/><circle cx="623.7" cy="707.4" r="1.25"/><circle cx="636.9" cy="707.5" r="1.25"/><circle cx="621.5" cy="707.6" r="1.25"/><circle cx="639.1" cy="707.6" r="1.25"/><circle cx="618.2" cy="707.7" r="1.25"/><circle cx="641.3" cy="707.7" r="1.25"/><circle cx="616.0" cy="707.7" r="1.25"/><circle cx="628.1" cy="707.9" r="1.25"/><circle cx="630.3" cy="708.2" r="1.25"/><circle cx="632.5" cy="708.2" r="1.25"/><circle cx="624.8" cy="708.2" r="1.25"/><circle cx="634.7" cy="708.3" r="1.25"/><circle cx="622.6" cy="708.5" r="1.25"/><circle cx="638.0" cy="708.5" r="1.25"/><circle cx="620.4" cy="708.5" r="1.25"/><circle cx="640.2" cy="708.6" r="1.25"/><circle cx="627.0" cy="708.6" r="1.25"/><circle cx="617.1" cy="708.6" r="1.25"/><circle cx="642.4" cy="708.7" r="1.25"/><circle cx="614.9" cy="708.8" r="1.25"/><circle cx="629.2" cy="708.9" r="1.25"/><circle cx="631.4" cy="709.0" r="1.25"/><circle cx="633.6" cy="709.1" r="1.25"/><circle cx="623.7" cy="709.3" r="1.25"/><circle cx="635.8" cy="709.3" r="1.25"/><circle cx="625.9" cy="709.5" r="1.25"/><circle cx="628.1" cy="709.7" r="1.25"/><circle cx="630.3" cy="709.8" r="1.25"/><circle cx="632.5" cy="709.8" r="1.25"/><circle cx="621.5" cy="709.8" r="1.25"/><circle cx="638.0" cy="709.9" r="1.25"/><circle cx="619.3" cy="710.0" r="1.25"/><circle cx="634.7" cy="710.0" r="1.25"/><circle cx="640.2" cy="710.0" r="1.25"/><circle cx="624.8" cy="710.3" r="1.25"/><circle cx="617.1" cy="710.3" r="1.25"/><circle cx="642.4" cy="710.4" r="1.25"/><circle cx="627.0" cy="710.4" r="1.25"/><circle cx="614.9" cy="710.4" r="1.25"/><circle cx="629.2" cy="710.5" r="1.25"/><circle cx="631.4" cy="710.5" r="1.25"/><circle cx="622.6" cy="710.7" r="1.25"/><circle cx="633.6" cy="710.8" r="1.25"/><circle cx="635.8" cy="710.9" r="1.25"/><circle cx="620.4" cy="710.9" r="1.25"/><circle cx="639.1" cy="711.1" r="1.25"/><circle cx="630.3" cy="711.3" r="1.25"/><circle cx="628.1" cy="711.5" r="1.25"/><circle cx="625.9" cy="711.8" r="1.25"/><circle cx="632.5" cy="711.8" r="1.25"/><circle cx="634.7" cy="711.8" r="1.25"/><circle cx="623.7" cy="711.8" r="1.25"/><circle cx="621.5" cy="711.8" r="1.25"/><circle cx="636.9" cy="711.8" r="1.25"/><circle cx="619.3" cy="711.8" r="1.25"/><circle cx="640.2" cy="711.9" r="1.25"/><circle cx="617.1" cy="712.0" r="1.25"/><circle cx="642.4" cy="712.0" r="1.25"/><circle cx="614.9" cy="712.0" r="1.25"/><circle cx="629.2" cy="712.2" r="1.25"/><circle cx="644.6" cy="712.3" r="1.25"/><circle cx="612.7" cy="712.5" r="1.25"/><circle cx="627.0" cy="712.5" r="1.25"/><circle cx="631.4" cy="712.6" r="1.25"/><circle cx="624.8" cy="712.7" r="1.25"/><circle cx="633.6" cy="712.7" r="1.25"/><circle cx="622.6" cy="712.7" r="1.25"/><circle cx="635.8" cy="712.7" r="1.25"/><circle cx="638.0" cy="712.8" r="1.25"/><circle cx="620.4" cy="712.8" r="1.25"/><circle cx="618.2" cy="712.8" r="1.25"/><circle cx="641.3" cy="712.8" r="1.25"/><circle cx="616.0" cy="712.8" r="1.25"/><circle cx="646.8" cy="713.0" r="1.25"/><circle cx="610.5" cy="713.0" r="1.25"/><circle cx="629.2" cy="713.0" r="1.25"/><circle cx="643.5" cy="713.1" r="1.25"/><circle cx="613.8" cy="713.2" r="1.25"/><circle cx="630.3" cy="713.2" r="1.25"/><circle cx="622.6" cy="713.3" r="1.25"/><circle cx="632.5" cy="713.4" r="1.25"/><circle cx="625.9" cy="713.5" r="1.25"/><circle cx="634.7" cy="713.6" r="1.25"/><circle cx="636.9" cy="713.7" r="1.25"/><circle cx="628.1" cy="713.9" r="1.25"/><circle cx="619.3" cy="713.9" r="1.25"/><circle cx="639.1" cy="714.0" r="1.25"/><circle cx="631.4" cy="714.2" r="1.25"/><circle cx="624.8" cy="714.2" r="1.25"/><circle cx="633.6" cy="714.4" r="1.25"/><circle cx="629.2" cy="714.7" r="1.25"/><circle cx="627.0" cy="715.0" r="1.25"/><circle cx="632.5" cy="715.1" r="1.25"/><circle cx="623.7" cy="715.3" r="1.25"/><circle cx="630.3" cy="715.4" r="1.25"/><circle cx="634.7" cy="715.4" r="1.25"/><circle cx="621.5" cy="715.5" r="1.25"/><circle cx="636.9" cy="715.5" r="1.25"/><circle cx="619.3" cy="715.6" r="1.25"/><circle cx="639.1" cy="715.6" r="1.25"/><circle cx="617.1" cy="715.7" r="1.25"/><circle cx="628.1" cy="715.9" r="1.25"/><circle cx="625.9" cy="715.9" r="1.25"/><circle cx="641.3" cy="715.9" r="1.25"/><circle cx="614.9" cy="716.0" r="1.25"/><circle cx="643.5" cy="716.1" r="1.25"/><circle cx="612.7" cy="716.1" r="1.25"/><circle cx="645.7" cy="716.1" r="1.25"/><circle cx="631.4" cy="716.1" r="1.25"/><circle cx="633.6" cy="716.2" r="1.25"/><circle cx="622.6" cy="716.3" r="1.25"/><circle cx="635.8" cy="716.3" r="1.25"/><circle cx="620.4" cy="716.3" r="1.25"/><circle cx="638.0" cy="716.5" r="1.25"/><circle cx="629.2" cy="716.6" r="1.25"/><circle cx="618.2" cy="716.6" r="1.25"/><circle cx="627.0" cy="716.7" r="1.25"/><circle cx="624.8" cy="716.8" r="1.25"/><circle cx="640.2" cy="716.9" r="1.25"/><circle cx="632.5" cy="716.9" r="1.25"/><circle cx="634.7" cy="717.1" r="1.25"/><circle cx="621.5" cy="717.1" r="1.25"/><circle cx="636.9" cy="717.2" r="1.25"/><circle cx="630.3" cy="717.3" r="1.25"/><circle cx="619.3" cy="717.3" r="1.25"/><circle cx="628.1" cy="717.5" r="1.25"/><circle cx="625.9" cy="717.8" r="1.25"/><circle cx="633.6" cy="717.8" r="1.25"/><circle cx="623.7" cy="717.9" r="1.25"/><circle cx="631.4" cy="718.1" r="1.25"/><circle cx="635.8" cy="718.1" r="1.25"/><circle cx="620.4" cy="718.1" r="1.25"/><circle cx="638.0" cy="718.1" r="1.25"/><circle cx="618.2" cy="718.2" r="1.25"/><circle cx="629.2" cy="718.3" r="1.25"/><circle cx="640.2" cy="718.3" r="1.25"/><circle cx="642.4" cy="718.3" r="1.25"/><circle cx="616.0" cy="718.4" r="1.25"/><circle cx="627.0" cy="718.5" r="1.25"/><circle cx="624.8" cy="718.7" r="1.25"/><circle cx="622.6" cy="718.7" r="1.25"/><circle cx="613.8" cy="718.7" r="1.25"/><circle cx="632.5" cy="718.8" r="1.25"/><circle cx="634.7" cy="718.8" r="1.25"/><circle cx="636.9" cy="718.9" r="1.25"/><circle cx="630.3" cy="719.1" r="1.25"/><circle cx="639.1" cy="719.1" r="1.25"/><circle cx="628.1" cy="719.6" r="1.25"/><circle cx="625.9" cy="719.6" r="1.25"/><circle cx="631.4" cy="719.9" r="1.25"/><circle cx="633.6" cy="720.0" r="1.25"/><circle cx="623.7" cy="720.0" r="1.25"/><circle cx="635.8" cy="720.1" r="1.25"/><circle cx="621.5" cy="720.3" r="1.25"/><circle cx="629.2" cy="720.3" r="1.25"/><circle cx="627.0" cy="720.4" r="1.25"/><circle cx="638.0" cy="720.5" r="1.25"/><circle cx="619.3" cy="720.6" r="1.25"/><circle cx="632.5" cy="720.7" r="1.25"/><circle cx="630.3" cy="721.1" r="1.25"/><circle cx="628.1" cy="721.2" r="1.25"/><circle cx="625.9" cy="721.2" r="1.25"/><circle cx="634.7" cy="721.3" r="1.25"/><circle cx="622.6" cy="721.3" r="1.25"/><circle cx="636.9" cy="721.4" r="1.25"/><circle cx="620.4" cy="721.4" r="1.25"/><circle cx="639.1" cy="721.6" r="1.25"/><circle cx="618.2" cy="721.6" r="1.25"/><circle cx="641.3" cy="721.8" r="1.25"/><circle cx="629.2" cy="722.0" r="1.25"/><circle cx="631.4" cy="722.0" r="1.25"/><circle cx="627.0" cy="722.4" r="1.25"/><circle cx="630.3" cy="723.0" r="1.25"/><circle cx="628.1" cy="723.1" r="1.25"/><circle cx="632.5" cy="723.2" r="1.25"/><circle cx="625.9" cy="723.3" r="1.25"/><circle cx="634.7" cy="723.4" r="1.25"/><circle cx="623.7" cy="723.4" r="1.25"/><circle cx="621.5" cy="723.4" r="1.25"/><circle cx="636.9" cy="723.8" r="1.25"/><circle cx="629.2" cy="723.8" r="1.25"/><circle cx="631.4" cy="724.0" r="1.25"/><circle cx="627.0" cy="724.3" r="1.25"/><circle cx="633.6" cy="724.5" r="1.25"/><circle cx="630.3" cy="724.7" r="1.25"/><circle cx="628.1" cy="725.1" r="1.25"/><circle cx="625.9" cy="725.3" r="1.25"/><circle cx="632.5" cy="725.3" r="1.25"/><circle cx="634.7" cy="725.4" r="1.25"/><circle cx="623.7" cy="725.5" r="1.25"/><circle cx="621.5" cy="725.6" r="1.25"/><circle cx="629.2" cy="725.9" r="1.25"/><circle cx="631.4" cy="726.1" r="1.25"/><circle cx="627.0" cy="726.4" r="1.25"/><circle cx="624.8" cy="726.4" r="1.25"/><circle cx="633.6" cy="726.6" r="1.25"/><circle cx="635.8" cy="726.6" r="1.25"/><circle cx="622.6" cy="726.7" r="1.25"/><circle cx="620.4" cy="726.7" r="1.25"/><circle cx="630.3" cy="726.9" r="1.25"/><circle cx="638.0" cy="726.9" r="1.25"/><circle cx="640.2" cy="727.0" r="1.25"/><circle cx="628.1" cy="727.2" r="1.25"/><circle cx="625.9" cy="727.2" r="1.25"/><circle cx="618.2" cy="727.3" r="1.25"/><circle cx="632.5" cy="727.5" r="1.25"/><circle cx="623.7" cy="727.5" r="1.25"/><circle cx="634.7" cy="727.8" r="1.25"/><circle cx="629.2" cy="728.5" r="1.25"/><circle cx="631.4" cy="728.7" r="1.25"/><circle cx="627.0" cy="728.8" r="1.25"/><circle cx="633.6" cy="729.1" r="1.25"/><circle cx="630.3" cy="729.4" r="1.25"/><circle cx="624.8" cy="729.5" r="1.25"/><circle cx="628.1" cy="729.7" r="1.25"/><circle cx="632.5" cy="730.0" r="1.25"/><circle cx="634.7" cy="730.2" r="1.25"/><circle cx="625.9" cy="730.2" r="1.25"/><circle cx="623.7" cy="730.3" r="1.25"/><circle cx="621.5" cy="730.3" r="1.25"/><circle cx="629.2" cy="730.4" r="1.25"/><circle cx="636.9" cy="730.4" r="1.25"/><circle cx="627.0" cy="731.0" r="1.25"/><circle cx="631.4" cy="731.1" r="1.25"/><circle cx="624.8" cy="731.3" r="1.25"/><circle cx="633.6" cy="731.6" r="1.25"/><circle cx="629.2" cy="732.2" r="1.25"/><circle cx="632.5" cy="732.3" r="1.25"/><circle cx="627.0" cy="732.5" r="1.25"/><circle cx="624.8" cy="732.8" r="1.25"/><circle cx="634.7" cy="732.8" r="1.25"/><circle cx="630.3" cy="733.0" r="1.25"/><circle cx="628.1" cy="733.3" r="1.25"/><circle cx="629.2" cy="734.2" r="1.25"/><circle cx="627.0" cy="734.5" r="1.25"/><circle cx="631.4" cy="734.8" r="1.25"/><circle cx="628.1" cy="735.2" r="1.25"/><circle cx="625.9" cy="735.5" r="1.25"/><circle cx="630.3" cy="735.7" r="1.25"/><circle cx="632.5" cy="735.8" r="1.25"/><circle cx="629.2" cy="736.7" r="1.25"/><circle cx="627.0" cy="736.9" r="1.25"/><circle cx="630.3" cy="737.9" r="1.25"/><circle cx="628.1" cy="738.0" r="1.25"/><circle cx="629.2" cy="738.9" r="1.25"/><circle cx="630.3" cy="739.6" r="1.25"/><circle cx="628.1" cy="739.7" r="1.25"/><circle cx="632.5" cy="740.0" r="1.25"/><circle cx="625.9" cy="740.2" r="1.25"/><circle cx="629.2" cy="741.0" r="1.25"/><circle cx="631.4" cy="741.1" r="1.25"/><circle cx="627.0" cy="741.4" r="1.25"/><circle cx="628.1" cy="742.1" r="1.25"/><circle cx="629.2" cy="742.9" r="1.25"/><circle cx="628.1" cy="743.7" r="1.25"/><circle cx="629.2" cy="744.5" r="1.25"/><circle cx="631.4" cy="744.6" r="1.25"/><circle cx="628.1" cy="745.4" r="1.25"/><circle cx="630.3" cy="745.5" r="1.25"/><circle cx="629.2" cy="747.1" r="1.25"/><circle cx="627.0" cy="747.7" r="1.25"/><circle cx="629.1" cy="766.0" r="1.25"/><circle cx="629.3" cy="780.0" r="1.25"/><circle cx="629.3" cy="785.0" r="1.25"/>
</g>
<line x1="476.8" y1="665.7" x2="476.8" y2="669.7" stroke="#000" stroke-width="1.2"/>
<line x1="467.8" y1="665.7" x2="485.8" y2="665.7" stroke="#000" stroke-width="1.3"/>
<line x1="467.8" y1="669.7" x2="485.8" y2="669.7" stroke="#000" stroke-width="1.3"/>
<line x1="459.5" y1="667.7" x2="494.1" y2="667.7" stroke="#000" stroke-width="2.3"/>
<line x1="527.7" y1="684.8" x2="527.7" y2="690.8" stroke="#000" stroke-width="1.2"/>
<line x1="518.7" y1="684.8" x2="536.7" y2="684.8" stroke="#000" stroke-width="1.3"/>
<line x1="518.7" y1="690.8" x2="536.7" y2="690.8" stroke="#000" stroke-width="1.3"/>
<line x1="510.4" y1="687.8" x2="545" y2="687.8" stroke="#000" stroke-width="2.3"/>
<line x1="578.4" y1="654.1" x2="578.4" y2="659.3" stroke="#000" stroke-width="1.2"/>
<line x1="569.4" y1="654.1" x2="587.4" y2="654.1" stroke="#000" stroke-width="1.3"/>
<line x1="569.4" y1="659.3" x2="587.4" y2="659.3" stroke="#000" stroke-width="1.3"/>
<line x1="561.1" y1="656.7" x2="595.7" y2="656.7" stroke="#000" stroke-width="2.3"/>
<line x1="629.2" y1="692.2" x2="629.2" y2="695" stroke="#000" stroke-width="1.2"/>
<line x1="620.2" y1="692.2" x2="638.2" y2="692.2" stroke="#000" stroke-width="1.3"/>
<line x1="620.2" y1="695" x2="638.2" y2="695" stroke="#000" stroke-width="1.3"/>
<line x1="611.9" y1="693.6" x2="646.5" y2="693.6" stroke="#000" stroke-width="2.3"/>
<line x1="477.9" y1="578.9" x2="571.1" y2="578.9" stroke="#000" stroke-width="1.2"/>
<line x1="477.9" y1="598.1" x2="524.4" y2="598.1" stroke="#000" stroke-width="1.5"/>
<line x1="570.4" y1="598.1" x2="617.1" y2="598.1" stroke="#000" stroke-width="1.5"/>
<path d="M526.30 572.40L526.30 567.65M526.30 572.40L530.82 570.93M526.30 572.40L529.09 576.24M526.30 572.40L523.51 576.24M526.30 572.40L521.78 570.93" stroke="#000" stroke-width="1.99" stroke-linecap="butt" fill="none"/>
<path d="M484.20 592.00L484.20 587.25M484.20 592.00L488.72 590.53M484.20 592.00L486.99 595.84M484.20 592.00L481.41 595.84M484.20 592.00L479.68 590.53" stroke="#000" stroke-width="1.99" stroke-linecap="butt" fill="none"/>
<path d="M495.60 592.00L495.60 587.25M495.60 592.00L500.12 590.53M495.60 592.00L498.39 595.84M495.60 592.00L492.81 595.84M495.60 592.00L491.08 590.53" stroke="#000" stroke-width="1.99" stroke-linecap="butt" fill="none"/>
<path d="M507.00 592.00L507.00 587.25M507.00 592.00L511.52 590.53M507.00 592.00L509.79 595.84M507.00 592.00L504.21 595.84M507.00 592.00L502.48 590.53" stroke="#000" stroke-width="1.99" stroke-linecap="butt" fill="none"/>
<path d="M518.40 592.00L518.40 587.25M518.40 592.00L522.92 590.53M518.40 592.00L521.19 595.84M518.40 592.00L515.61 595.84M518.40 592.00L513.88 590.53" stroke="#000" stroke-width="1.99" stroke-linecap="butt" fill="none"/>
<path d="M576.60 592.00L576.60 587.25M576.60 592.00L581.12 590.53M576.60 592.00L579.39 595.84M576.60 592.00L573.81 595.84M576.60 592.00L572.08 590.53" stroke="#000" stroke-width="1.99" stroke-linecap="butt" fill="none"/>
<path d="M588.00 592.00L588.00 587.25M588.00 592.00L592.52 590.53M588.00 592.00L590.79 595.84M588.00 592.00L585.21 595.84M588.00 592.00L583.48 590.53" stroke="#000" stroke-width="1.99" stroke-linecap="butt" fill="none"/>
<path d="M599.40 592.00L599.40 587.25M599.40 592.00L603.92 590.53M599.40 592.00L602.19 595.84M599.40 592.00L596.61 595.84M599.40 592.00L594.88 590.53" stroke="#000" stroke-width="1.99" stroke-linecap="butt" fill="none"/>
<path d="M610.80 592.00L610.80 587.25M610.80 592.00L615.32 590.53M610.80 592.00L613.59 595.84M610.80 592.00L608.01 595.84M610.80 592.00L606.28 590.53" stroke="#000" stroke-width="1.99" stroke-linecap="butt" fill="none"/>
<text x="34.8" y="845.5" font-size="34" font-weight="bold" text-anchor="start" fill="#231f20">g</text>
<line x1="85.8" y1="884.5" x2="85.8" y2="1111.8" stroke="#000" stroke-width="2.0"/>
<line x1="76.5" y1="1110.8" x2="311.6" y2="1110.8" stroke="#000" stroke-width="2.0"/>
<line x1="76.5" y1="1110.8" x2="85.8" y2="1110.8" stroke="#000" stroke-width="2.0"/>
<text x="73.5" y="1117" font-size="17.4" font-weight="bold" text-anchor="end" fill="#000">0</text>
<line x1="76.5" y1="1054.6" x2="85.8" y2="1054.6" stroke="#000" stroke-width="2.0"/>
<text x="73.5" y="1060.8" font-size="17.4" font-weight="bold" text-anchor="end" fill="#000">50</text>
<line x1="76.5" y1="998.3" x2="85.8" y2="998.3" stroke="#000" stroke-width="2.0"/>
<text x="73.5" y="1004.5" font-size="17.4" font-weight="bold" text-anchor="end" fill="#000">100</text>
<line x1="76.5" y1="942.1" x2="85.8" y2="942.1" stroke="#000" stroke-width="2.0"/>
<text x="73.5" y="948.3" font-size="17.4" font-weight="bold" text-anchor="end" fill="#000">150</text>
<line x1="76.5" y1="885.9" x2="85.8" y2="885.9" stroke="#000" stroke-width="2.0"/>
<text x="73.5" y="892.1" font-size="17.4" font-weight="bold" text-anchor="end" fill="#000">200</text>
<line x1="120.3" y1="1110.8" x2="120.3" y2="1120.3" stroke="#000" stroke-width="2.0"/>
<text x="120.3" y="1139.3" font-size="17.3" font-weight="bold" text-anchor="middle" fill="#000">RC</text>
<line x1="172.6" y1="1110.8" x2="172.6" y2="1120.3" stroke="#000" stroke-width="2.0"/>
<text x="172.6" y="1139.3" font-size="17.3" font-weight="bold" text-anchor="middle" fill="#000">Irr+RC</text>
<line x1="225" y1="1110.8" x2="225" y2="1120.3" stroke="#000" stroke-width="2.0"/>
<text x="225" y="1139.3" font-size="17.3" font-weight="bold" text-anchor="middle" fill="#000">EE</text>
<line x1="277.4" y1="1110.8" x2="277.4" y2="1120.3" stroke="#000" stroke-width="2.0"/>
<text x="277.4" y="1139.3" font-size="17.3" font-weight="bold" text-anchor="middle" fill="#000">Irr+EE</text>
<text x="34.3" y="997.3" font-size="18.9" font-weight="bold" fill="#000" text-anchor="middle" transform="rotate(-90 34.3 997.3)">Peak Width cells R<tspan font-size="14" font-weight="normal" dx="-1.2" dy="-8.4">2</tspan><tspan dx="-1.6" dy="8.4">&gt;50%</tspan></text>
<g fill="#d4d6d9" stroke="#8f9297" stroke-width="1">
<circle cx="120.3" cy="962.3" r="1.25"/><circle cx="123.3" cy="962.8" r="1.25"/><circle cx="117.3" cy="964.3" r="1.25"/><circle cx="120.3" cy="968.7" r="1.25"/><circle cx="123.3" cy="969.4" r="1.25"/><circle cx="117.3" cy="971.6" r="1.25"/><circle cx="120.3" cy="971.8" r="1.25"/><circle cx="114.3" cy="972.1" r="1.25"/><circle cx="123.3" cy="973.5" r="1.25"/><circle cx="120.3" cy="976.2" r="1.25"/><circle cx="123.3" cy="978.5" r="1.25"/><circle cx="120.3" cy="979.3" r="1.25"/><circle cx="117.3" cy="980.5" r="1.25"/><circle cx="126.3" cy="980.7" r="1.25"/><circle cx="123.3" cy="981.8" r="1.25"/><circle cx="120.3" cy="982.3" r="1.25"/><circle cx="117.3" cy="984.5" r="1.25"/><circle cx="126.3" cy="984.6" r="1.25"/><circle cx="123.3" cy="984.9" r="1.25"/><circle cx="120.3" cy="986.0" r="1.25"/><circle cx="114.3" cy="987.1" r="1.25"/><circle cx="117.3" cy="987.8" r="1.25"/><circle cx="123.3" cy="988.2" r="1.25"/><circle cx="120.3" cy="989.5" r="1.25"/><circle cx="117.3" cy="991.4" r="1.25"/><circle cx="120.3" cy="993.1" r="1.25"/><circle cx="123.3" cy="993.2" r="1.25"/><circle cx="114.3" cy="993.6" r="1.25"/><circle cx="126.3" cy="993.8" r="1.25"/><circle cx="111.3" cy="994.3" r="1.25"/><circle cx="117.3" cy="994.5" r="1.25"/><circle cx="129.3" cy="994.6" r="1.25"/><circle cx="108.3" cy="995.1" r="1.25"/><circle cx="132.3" cy="995.9" r="1.25"/><circle cx="120.3" cy="996.3" r="1.25"/><circle cx="123.3" cy="996.3" r="1.25"/><circle cx="126.3" cy="996.9" r="1.25"/><circle cx="117.3" cy="998.2" r="1.25"/><circle cx="114.3" cy="998.8" r="1.25"/><circle cx="120.3" cy="999.8" r="1.25"/><circle cx="123.3" cy="1000.1" r="1.25"/><circle cx="126.3" cy="1000.3" r="1.25"/><circle cx="129.3" cy="1000.9" r="1.25"/><circle cx="120.3" cy="1003.5" r="1.25"/><circle cx="117.3" cy="1003.9" r="1.25"/><circle cx="123.3" cy="1004.0" r="1.25"/><circle cx="126.3" cy="1004.0" r="1.25"/><circle cx="114.3" cy="1004.3" r="1.25"/><circle cx="111.3" cy="1005.2" r="1.25"/><circle cx="129.3" cy="1006.4" r="1.25"/><circle cx="120.3" cy="1006.5" r="1.25"/><circle cx="117.3" cy="1007.0" r="1.25"/><circle cx="132.3" cy="1007.0" r="1.25"/><circle cx="123.3" cy="1007.2" r="1.25"/><circle cx="126.3" cy="1007.6" r="1.25"/><circle cx="114.3" cy="1009.3" r="1.25"/><circle cx="120.3" cy="1010.4" r="1.25"/><circle cx="117.3" cy="1011.0" r="1.25"/><circle cx="123.3" cy="1011.2" r="1.25"/><circle cx="126.3" cy="1011.3" r="1.25"/><circle cx="129.3" cy="1011.7" r="1.25"/><circle cx="111.3" cy="1011.9" r="1.25"/><circle cx="132.3" cy="1012.1" r="1.25"/><circle cx="114.3" cy="1012.8" r="1.25"/><circle cx="108.3" cy="1013.0" r="1.25"/><circle cx="105.3" cy="1013.1" r="1.25"/><circle cx="120.3" cy="1013.8" r="1.25"/><circle cx="135.3" cy="1013.8" r="1.25"/><circle cx="117.3" cy="1014.1" r="1.25"/><circle cx="123.3" cy="1014.9" r="1.25"/><circle cx="126.3" cy="1015.0" r="1.25"/><circle cx="129.3" cy="1015.1" r="1.25"/><circle cx="111.3" cy="1015.1" r="1.25"/><circle cx="120.3" cy="1017.4" r="1.25"/><circle cx="117.3" cy="1018.8" r="1.25"/><circle cx="123.3" cy="1019.2" r="1.25"/><circle cx="126.3" cy="1019.3" r="1.25"/><circle cx="114.3" cy="1019.6" r="1.25"/><circle cx="129.3" cy="1020.3" r="1.25"/><circle cx="120.3" cy="1020.7" r="1.25"/><circle cx="111.3" cy="1021.1" r="1.25"/><circle cx="132.3" cy="1021.1" r="1.25"/><circle cx="108.3" cy="1021.7" r="1.25"/><circle cx="117.3" cy="1022.1" r="1.25"/><circle cx="123.3" cy="1022.3" r="1.25"/><circle cx="120.3" cy="1024.8" r="1.25"/><circle cx="123.3" cy="1025.5" r="1.25"/><circle cx="117.3" cy="1026.5" r="1.25"/><circle cx="114.3" cy="1026.7" r="1.25"/><circle cx="126.3" cy="1026.7" r="1.25"/><circle cx="129.3" cy="1027.6" r="1.25"/><circle cx="120.3" cy="1027.9" r="1.25"/><circle cx="111.3" cy="1028.1" r="1.25"/><circle cx="132.3" cy="1028.2" r="1.25"/><circle cx="108.3" cy="1028.3" r="1.25"/><circle cx="123.3" cy="1029.3" r="1.25"/><circle cx="105.3" cy="1029.3" r="1.25"/><circle cx="135.3" cy="1029.4" r="1.25"/><circle cx="117.3" cy="1029.6" r="1.25"/><circle cx="126.3" cy="1030.4" r="1.25"/><circle cx="114.3" cy="1030.5" r="1.25"/><circle cx="129.3" cy="1030.6" r="1.25"/><circle cx="120.3" cy="1031.0" r="1.25"/><circle cx="111.3" cy="1031.2" r="1.25"/><circle cx="132.3" cy="1031.3" r="1.25"/><circle cx="108.3" cy="1031.4" r="1.25"/><circle cx="138.3" cy="1031.7" r="1.25"/><circle cx="102.3" cy="1032.1" r="1.25"/><circle cx="120.3" cy="1032.2" r="1.25"/><circle cx="123.3" cy="1032.5" r="1.25"/><circle cx="117.3" cy="1033.2" r="1.25"/><circle cx="105.3" cy="1033.4" r="1.25"/><circle cx="126.3" cy="1033.8" r="1.25"/><circle cx="120.3" cy="1035.6" r="1.25"/><circle cx="123.3" cy="1036.5" r="1.25"/><circle cx="117.3" cy="1036.6" r="1.25"/><circle cx="114.3" cy="1036.7" r="1.25"/><circle cx="111.3" cy="1036.8" r="1.25"/><circle cx="126.3" cy="1036.9" r="1.25"/><circle cx="129.3" cy="1037.2" r="1.25"/><circle cx="132.3" cy="1037.5" r="1.25"/><circle cx="108.3" cy="1037.8" r="1.25"/><circle cx="105.3" cy="1037.8" r="1.25"/><circle cx="135.3" cy="1038.0" r="1.25"/><circle cx="102.3" cy="1038.5" r="1.25"/><circle cx="120.3" cy="1039.4" r="1.25"/><circle cx="123.3" cy="1039.6" r="1.25"/><circle cx="117.3" cy="1040.0" r="1.25"/><circle cx="126.3" cy="1040.1" r="1.25"/><circle cx="114.3" cy="1041.0" r="1.25"/><circle cx="111.3" cy="1041.4" r="1.25"/><circle cx="129.3" cy="1041.5" r="1.25"/><circle cx="108.3" cy="1041.9" r="1.25"/><circle cx="132.3" cy="1042.4" r="1.25"/><circle cx="120.3" cy="1042.5" r="1.25"/><circle cx="123.3" cy="1042.6" r="1.25"/><circle cx="105.3" cy="1043.0" r="1.25"/><circle cx="117.3" cy="1043.4" r="1.25"/><circle cx="126.3" cy="1043.6" r="1.25"/><circle cx="135.3" cy="1043.7" r="1.25"/><circle cx="114.3" cy="1044.3" r="1.25"/><circle cx="111.3" cy="1044.9" r="1.25"/><circle cx="129.3" cy="1045.2" r="1.25"/><circle cx="132.3" cy="1045.4" r="1.25"/><circle cx="120.3" cy="1045.7" r="1.25"/><circle cx="123.3" cy="1045.8" r="1.25"/><circle cx="108.3" cy="1046.0" r="1.25"/><circle cx="105.3" cy="1046.3" r="1.25"/><circle cx="117.3" cy="1046.5" r="1.25"/><circle cx="126.3" cy="1047.0" r="1.25"/><circle cx="114.3" cy="1047.6" r="1.25"/><circle cx="135.3" cy="1047.7" r="1.25"/><circle cx="138.3" cy="1047.8" r="1.25"/><circle cx="111.3" cy="1048.0" r="1.25"/><circle cx="129.3" cy="1048.4" r="1.25"/><circle cx="120.3" cy="1048.9" r="1.25"/><circle cx="123.3" cy="1049.4" r="1.25"/><circle cx="108.3" cy="1049.4" r="1.25"/><circle cx="117.3" cy="1049.5" r="1.25"/><circle cx="126.3" cy="1050.3" r="1.25"/><circle cx="132.3" cy="1050.5" r="1.25"/><circle cx="114.3" cy="1051.0" r="1.25"/><circle cx="129.3" cy="1051.5" r="1.25"/><circle cx="111.3" cy="1051.8" r="1.25"/><circle cx="120.3" cy="1052.7" r="1.25"/><circle cx="117.3" cy="1052.8" r="1.25"/><circle cx="123.3" cy="1053.4" r="1.25"/><circle cx="126.3" cy="1053.7" r="1.25"/><circle cx="114.3" cy="1054.3" r="1.25"/><circle cx="129.3" cy="1054.9" r="1.25"/><circle cx="111.3" cy="1055.0" r="1.25"/><circle cx="108.3" cy="1055.5" r="1.25"/><circle cx="132.3" cy="1055.5" r="1.25"/><circle cx="120.3" cy="1055.7" r="1.25"/><circle cx="117.3" cy="1056.1" r="1.25"/><circle cx="123.3" cy="1056.7" r="1.25"/><circle cx="126.3" cy="1057.2" r="1.25"/><circle cx="114.3" cy="1057.4" r="1.25"/><circle cx="120.3" cy="1058.8" r="1.25"/><circle cx="117.3" cy="1059.2" r="1.25"/><circle cx="111.3" cy="1059.3" r="1.25"/><circle cx="123.3" cy="1060.6" r="1.25"/><circle cx="120.3" cy="1061.8" r="1.25"/><circle cx="117.3" cy="1063.7" r="1.25"/><circle cx="123.3" cy="1064.4" r="1.25"/><circle cx="120.3" cy="1065.0" r="1.25"/><circle cx="114.3" cy="1065.3" r="1.25"/><circle cx="120.3" cy="1066.3" r="1.25"/><circle cx="117.3" cy="1066.7" r="1.25"/><circle cx="123.3" cy="1068.6" r="1.25"/><circle cx="120.3" cy="1070.8" r="1.25"/><circle cx="120.1" cy="891.0" r="1.25"/><circle cx="119.7" cy="920.0" r="1.25"/><circle cx="122.8" cy="922.0" r="1.25"/><circle cx="120.7" cy="939.0" r="1.25"/><circle cx="120.0" cy="945.0" r="1.25"/><circle cx="122.8" cy="946.0" r="1.25"/><circle cx="118.7" cy="953.7" r="1.25"/><circle cx="121.9" cy="953.7" r="1.25"/><circle cx="115.3" cy="1088.6" r="1.25"/><circle cx="118.6" cy="1088.6" r="1.25"/><circle cx="122.0" cy="1088.6" r="1.25"/><circle cx="125.2" cy="1088.6" r="1.25"/>
</g>
<g fill="#c4c5c8" stroke="#66686b" stroke-width="1">
<circle cx="172.6" cy="977.8" r="1.25"/><circle cx="172.6" cy="980.7" r="1.25"/><circle cx="172.6" cy="983.3" r="1.25"/><circle cx="172.6" cy="989.2" r="1.25"/><circle cx="168.4" cy="992.5" r="1.25"/><circle cx="172.6" cy="993.1" r="1.25"/><circle cx="176.8" cy="995.3" r="1.25"/><circle cx="172.6" cy="997.0" r="1.25"/><circle cx="168.4" cy="997.1" r="1.25"/><circle cx="164.2" cy="998.7" r="1.25"/><circle cx="176.8" cy="999.0" r="1.25"/><circle cx="181.0" cy="1000.3" r="1.25"/><circle cx="172.6" cy="1001.6" r="1.25"/><circle cx="168.4" cy="1002.2" r="1.25"/><circle cx="176.8" cy="1003.4" r="1.25"/><circle cx="181.0" cy="1004.7" r="1.25"/><circle cx="172.6" cy="1005.4" r="1.25"/><circle cx="168.4" cy="1006.1" r="1.25"/><circle cx="164.2" cy="1006.4" r="1.25"/><circle cx="176.8" cy="1008.6" r="1.25"/><circle cx="172.6" cy="1009.1" r="1.25"/><circle cx="181.0" cy="1009.2" r="1.25"/><circle cx="185.2" cy="1009.3" r="1.25"/><circle cx="168.4" cy="1010.9" r="1.25"/><circle cx="164.2" cy="1011.3" r="1.25"/><circle cx="172.6" cy="1012.5" r="1.25"/><circle cx="176.8" cy="1012.5" r="1.25"/><circle cx="181.0" cy="1012.8" r="1.25"/><circle cx="160.0" cy="1013.7" r="1.25"/><circle cx="168.4" cy="1014.6" r="1.25"/><circle cx="164.2" cy="1015.1" r="1.25"/><circle cx="185.2" cy="1015.4" r="1.25"/><circle cx="160.0" cy="1015.4" r="1.25"/><circle cx="160.0" cy="1015.8" r="1.25"/><circle cx="172.6" cy="1016.2" r="1.25"/><circle cx="168.4" cy="1018.4" r="1.25"/><circle cx="176.8" cy="1018.5" r="1.25"/><circle cx="164.2" cy="1018.9" r="1.25"/><circle cx="172.6" cy="1019.8" r="1.25"/><circle cx="181.0" cy="1020.3" r="1.25"/><circle cx="185.2" cy="1021.4" r="1.25"/><circle cx="160.0" cy="1021.6" r="1.25"/><circle cx="176.8" cy="1022.2" r="1.25"/><circle cx="168.4" cy="1022.2" r="1.25"/><circle cx="164.2" cy="1022.6" r="1.25"/><circle cx="172.6" cy="1023.6" r="1.25"/><circle cx="181.0" cy="1025.1" r="1.25"/><circle cx="160.0" cy="1025.2" r="1.25"/><circle cx="176.8" cy="1025.9" r="1.25"/><circle cx="172.6" cy="1027.8" r="1.25"/><circle cx="168.4" cy="1028.2" r="1.25"/><circle cx="164.2" cy="1028.6" r="1.25"/><circle cx="181.0" cy="1028.8" r="1.25"/><circle cx="176.8" cy="1029.7" r="1.25"/><circle cx="160.0" cy="1030.2" r="1.25"/><circle cx="172.6" cy="1032.0" r="1.25"/><circle cx="168.4" cy="1032.5" r="1.25"/><circle cx="176.8" cy="1034.1" r="1.25"/><circle cx="164.2" cy="1034.8" r="1.25"/><circle cx="172.6" cy="1035.6" r="1.25"/><circle cx="181.0" cy="1035.7" r="1.25"/><circle cx="168.4" cy="1036.0" r="1.25"/><circle cx="160.0" cy="1037.3" r="1.25"/><circle cx="185.2" cy="1037.4" r="1.25"/><circle cx="176.8" cy="1037.4" r="1.25"/><circle cx="168.4" cy="1037.6" r="1.25"/><circle cx="172.6" cy="1037.8" r="1.25"/><circle cx="172.6" cy="1042.9" r="1.25"/><circle cx="168.4" cy="1043.1" r="1.25"/><circle cx="176.8" cy="1045.1" r="1.25"/><circle cx="172.6" cy="1046.7" r="1.25"/><circle cx="168.4" cy="1047.6" r="1.25"/><circle cx="176.8" cy="1048.6" r="1.25"/><circle cx="164.2" cy="1049.1" r="1.25"/><circle cx="172.6" cy="1051.5" r="1.25"/><circle cx="168.4" cy="1053.8" r="1.25"/><circle cx="172.9" cy="889.9" r="1.25"/><circle cx="172.8" cy="922.3" r="1.25"/><circle cx="172.4" cy="928.6" r="1.25"/><circle cx="172.7" cy="960.0" r="1.25"/><circle cx="169.3" cy="1062.5" r="1.25"/><circle cx="172.6" cy="1062.5" r="1.25"/><circle cx="175.9" cy="1062.5" r="1.25"/><circle cx="170.9" cy="1066.7" r="1.25"/><circle cx="174.2" cy="1066.7" r="1.25"/>
</g>
<g fill="#cbdcf0" stroke="#4f88ca" stroke-width="1">
<circle cx="225.0" cy="984.0" r="1.25"/><circle cx="220.4" cy="984.2" r="1.25"/><circle cx="225.0" cy="990.3" r="1.25"/><circle cx="220.4" cy="990.7" r="1.25"/><circle cx="229.6" cy="992.4" r="1.25"/><circle cx="225.0" cy="994.6" r="1.25"/><circle cx="220.4" cy="995.2" r="1.25"/><circle cx="234.2" cy="995.8" r="1.25"/><circle cx="229.6" cy="997.0" r="1.25"/><circle cx="225.0" cy="998.8" r="1.25"/><circle cx="220.4" cy="999.1" r="1.25"/><circle cx="234.2" cy="999.5" r="1.25"/><circle cx="215.8" cy="999.6" r="1.25"/><circle cx="229.6" cy="1001.1" r="1.25"/><circle cx="225.0" cy="1002.3" r="1.25"/><circle cx="211.2" cy="1002.4" r="1.25"/><circle cx="220.4" cy="1002.9" r="1.25"/><circle cx="234.2" cy="1003.0" r="1.25"/><circle cx="215.8" cy="1004.0" r="1.25"/><circle cx="238.8" cy="1004.2" r="1.25"/><circle cx="225.0" cy="1005.7" r="1.25"/><circle cx="220.4" cy="1008.1" r="1.25"/><circle cx="229.6" cy="1008.3" r="1.25"/><circle cx="215.8" cy="1008.6" r="1.25"/><circle cx="234.2" cy="1009.0" r="1.25"/><circle cx="225.0" cy="1010.6" r="1.25"/><circle cx="229.6" cy="1012.0" r="1.25"/><circle cx="220.4" cy="1012.8" r="1.25"/><circle cx="215.8" cy="1013.1" r="1.25"/><circle cx="234.2" cy="1013.6" r="1.25"/><circle cx="238.8" cy="1014.0" r="1.25"/><circle cx="225.0" cy="1016.0" r="1.25"/><circle cx="220.4" cy="1017.3" r="1.25"/><circle cx="229.6" cy="1017.4" r="1.25"/><circle cx="234.2" cy="1018.1" r="1.25"/><circle cx="215.8" cy="1018.3" r="1.25"/><circle cx="211.2" cy="1019.0" r="1.25"/><circle cx="225.0" cy="1019.5" r="1.25"/><circle cx="238.8" cy="1020.6" r="1.25"/><circle cx="220.4" cy="1021.6" r="1.25"/><circle cx="229.6" cy="1021.8" r="1.25"/><circle cx="234.2" cy="1022.0" r="1.25"/><circle cx="215.8" cy="1022.2" r="1.25"/><circle cx="225.0" cy="1023.0" r="1.25"/><circle cx="211.2" cy="1024.0" r="1.25"/><circle cx="220.4" cy="1025.0" r="1.25"/><circle cx="238.8" cy="1025.0" r="1.25"/><circle cx="225.0" cy="1026.6" r="1.25"/><circle cx="229.6" cy="1027.2" r="1.25"/><circle cx="234.2" cy="1027.8" r="1.25"/><circle cx="220.4" cy="1028.9" r="1.25"/><circle cx="215.8" cy="1029.6" r="1.25"/><circle cx="211.2" cy="1029.8" r="1.25"/><circle cx="225.0" cy="1030.7" r="1.25"/><circle cx="229.6" cy="1031.1" r="1.25"/><circle cx="234.2" cy="1031.5" r="1.25"/><circle cx="220.4" cy="1033.5" r="1.25"/><circle cx="215.8" cy="1033.7" r="1.25"/><circle cx="225.0" cy="1034.4" r="1.25"/><circle cx="229.6" cy="1035.3" r="1.25"/><circle cx="234.2" cy="1036.6" r="1.25"/><circle cx="220.4" cy="1037.1" r="1.25"/><circle cx="225.0" cy="1037.8" r="1.25"/><circle cx="215.8" cy="1038.0" r="1.25"/><circle cx="211.2" cy="1038.4" r="1.25"/><circle cx="229.6" cy="1039.2" r="1.25"/><circle cx="234.2" cy="1040.1" r="1.25"/><circle cx="225.0" cy="1041.3" r="1.25"/><circle cx="220.4" cy="1041.5" r="1.25"/><circle cx="215.8" cy="1042.6" r="1.25"/><circle cx="229.6" cy="1042.9" r="1.25"/><circle cx="234.2" cy="1044.4" r="1.25"/><circle cx="238.8" cy="1044.7" r="1.25"/><circle cx="225.0" cy="1045.1" r="1.25"/><circle cx="229.6" cy="1046.9" r="1.25"/><circle cx="220.4" cy="1047.7" r="1.25"/><circle cx="234.2" cy="1047.9" r="1.25"/><circle cx="225.0" cy="1052.9" r="1.25"/><circle cx="220.4" cy="1054.4" r="1.25"/><circle cx="229.6" cy="1054.5" r="1.25"/><circle cx="225.0" cy="1055.9" r="1.25"/><circle cx="225.0" cy="1060.1" r="1.25"/><circle cx="229.6" cy="1063.4" r="1.25"/><circle cx="225.0" cy="1065.3" r="1.25"/><circle cx="225.0" cy="1069.5" r="1.25"/><circle cx="225.0" cy="920.2" r="1.25"/><circle cx="224.8" cy="941.0" r="1.25"/><circle cx="223.4" cy="947.0" r="1.25"/><circle cx="226.6" cy="947.0" r="1.25"/><circle cx="224.8" cy="953.7" r="1.25"/><circle cx="224.5" cy="971.5" r="1.25"/><circle cx="224.8" cy="1077.0" r="1.25"/><circle cx="223.3" cy="1088.6" r="1.25"/><circle cx="226.7" cy="1088.6" r="1.25"/>
</g>
<g fill="#9bb2c9" stroke="#446a90" stroke-width="1">
<circle cx="277.4" cy="982.6" r="1.25"/><circle cx="282.0" cy="984.9" r="1.25"/><circle cx="272.8" cy="985.4" r="1.25"/><circle cx="282.0" cy="985.9" r="1.25"/><circle cx="277.4" cy="994.8" r="1.25"/><circle cx="272.8" cy="995.4" r="1.25"/><circle cx="282.0" cy="995.7" r="1.25"/><circle cx="282.0" cy="995.8" r="1.25"/><circle cx="282.0" cy="996.7" r="1.25"/><circle cx="272.8" cy="997.1" r="1.25"/><circle cx="277.4" cy="997.4" r="1.25"/><circle cx="272.8" cy="998.9" r="1.25"/><circle cx="282.0" cy="999.0" r="1.25"/><circle cx="272.8" cy="1000.0" r="1.25"/><circle cx="277.4" cy="1000.2" r="1.25"/><circle cx="277.4" cy="1004.2" r="1.25"/><circle cx="272.8" cy="1005.5" r="1.25"/><circle cx="277.4" cy="1007.9" r="1.25"/><circle cx="282.0" cy="1009.1" r="1.25"/><circle cx="272.8" cy="1010.4" r="1.25"/><circle cx="286.6" cy="1010.6" r="1.25"/><circle cx="277.4" cy="1012.3" r="1.25"/><circle cx="282.0" cy="1013.5" r="1.25"/><circle cx="268.2" cy="1013.5" r="1.25"/><circle cx="277.4" cy="1017.0" r="1.25"/><circle cx="282.0" cy="1017.1" r="1.25"/><circle cx="272.8" cy="1018.1" r="1.25"/><circle cx="286.6" cy="1019.3" r="1.25"/><circle cx="268.2" cy="1019.7" r="1.25"/><circle cx="277.4" cy="1020.8" r="1.25"/><circle cx="282.0" cy="1020.9" r="1.25"/><circle cx="272.8" cy="1021.9" r="1.25"/><circle cx="263.6" cy="1022.5" r="1.25"/><circle cx="286.6" cy="1023.1" r="1.25"/><circle cx="268.2" cy="1023.2" r="1.25"/><circle cx="277.4" cy="1025.6" r="1.25"/><circle cx="272.8" cy="1026.5" r="1.25"/><circle cx="282.0" cy="1026.5" r="1.25"/><circle cx="286.6" cy="1026.7" r="1.25"/><circle cx="268.2" cy="1027.2" r="1.25"/><circle cx="263.6" cy="1028.9" r="1.25"/><circle cx="277.4" cy="1029.3" r="1.25"/><circle cx="282.0" cy="1030.4" r="1.25"/><circle cx="272.8" cy="1030.4" r="1.25"/><circle cx="286.6" cy="1030.7" r="1.25"/><circle cx="268.2" cy="1032.1" r="1.25"/><circle cx="277.4" cy="1033.2" r="1.25"/><circle cx="272.8" cy="1033.8" r="1.25"/><circle cx="282.0" cy="1033.8" r="1.25"/><circle cx="286.6" cy="1035.3" r="1.25"/><circle cx="268.2" cy="1036.1" r="1.25"/><circle cx="263.6" cy="1036.3" r="1.25"/><circle cx="277.4" cy="1037.0" r="1.25"/><circle cx="272.8" cy="1037.6" r="1.25"/><circle cx="282.0" cy="1038.1" r="1.25"/><circle cx="291.2" cy="1038.5" r="1.25"/><circle cx="286.6" cy="1038.8" r="1.25"/><circle cx="282.0" cy="1038.8" r="1.25"/><circle cx="272.8" cy="1039.1" r="1.25"/><circle cx="268.2" cy="1039.5" r="1.25"/><circle cx="286.6" cy="1039.5" r="1.25"/><circle cx="291.2" cy="1039.6" r="1.25"/><circle cx="291.2" cy="1039.7" r="1.25"/><circle cx="277.4" cy="1040.4" r="1.25"/><circle cx="277.4" cy="1046.0" r="1.25"/><circle cx="282.0" cy="1047.4" r="1.25"/><circle cx="272.8" cy="1048.4" r="1.25"/><circle cx="286.6" cy="1048.5" r="1.25"/><circle cx="277.4" cy="1049.9" r="1.25"/><circle cx="268.2" cy="1050.2" r="1.25"/><circle cx="282.0" cy="1050.3" r="1.25"/><circle cx="272.8" cy="1052.3" r="1.25"/><circle cx="286.6" cy="1053.3" r="1.25"/><circle cx="277.4" cy="1055.4" r="1.25"/><circle cx="272.8" cy="1056.1" r="1.25"/><circle cx="282.0" cy="1056.4" r="1.25"/><circle cx="286.6" cy="1057.6" r="1.25"/><circle cx="277.9" cy="916.0" r="1.25"/><circle cx="277.0" cy="930.0" r="1.25"/><circle cx="277.3" cy="965.0" r="1.25"/><circle cx="277.6" cy="968.0" r="1.25"/><circle cx="277.8" cy="972.0" r="1.25"/><circle cx="276.9" cy="975.6" r="1.25"/><circle cx="277.7" cy="1068.7" r="1.25"/><circle cx="277.4" cy="1077.0" r="1.25"/><circle cx="274.1" cy="1088.6" r="1.25"/><circle cx="277.4" cy="1088.6" r="1.25"/><circle cx="280.7" cy="1088.6" r="1.25"/>
</g>
<line x1="120.3" y1="1013.2" x2="120.3" y2="1018.8" stroke="#000" stroke-width="1.2"/>
<line x1="111.3" y1="1013.2" x2="129.3" y2="1013.2" stroke="#000" stroke-width="1.3"/>
<line x1="111.3" y1="1018.8" x2="129.3" y2="1018.8" stroke="#000" stroke-width="1.3"/>
<line x1="103" y1="1016" x2="137.6" y2="1016" stroke="#000" stroke-width="2.3"/>
<line x1="172.6" y1="1009.2" x2="172.6" y2="1019.6" stroke="#000" stroke-width="1.2"/>
<line x1="163.6" y1="1009.2" x2="181.6" y2="1009.2" stroke="#000" stroke-width="1.3"/>
<line x1="163.6" y1="1019.6" x2="181.6" y2="1019.6" stroke="#000" stroke-width="1.3"/>
<line x1="155.3" y1="1014.4" x2="189.9" y2="1014.4" stroke="#000" stroke-width="2.3"/>
<line x1="225" y1="1019.4" x2="225" y2="1024.8" stroke="#000" stroke-width="1.2"/>
<line x1="216" y1="1019.4" x2="234" y2="1019.4" stroke="#000" stroke-width="1.3"/>
<line x1="216" y1="1024.8" x2="234" y2="1024.8" stroke="#000" stroke-width="1.3"/>
<line x1="207.7" y1="1022.1" x2="242.3" y2="1022.1" stroke="#000" stroke-width="2.3"/>
<line x1="277.4" y1="1022.4" x2="277.4" y2="1029.4" stroke="#000" stroke-width="1.2"/>
<line x1="268.4" y1="1022.4" x2="286.4" y2="1022.4" stroke="#000" stroke-width="1.3"/>
<line x1="268.4" y1="1029.4" x2="286.4" y2="1029.4" stroke="#000" stroke-width="1.3"/>
<line x1="260.1" y1="1025.9" x2="294.7" y2="1025.9" stroke="#000" stroke-width="2.3"/>
<text x="343.4" y="841" font-size="34" font-weight="bold" text-anchor="start" fill="#231f20">h</text>
<line x1="435.8" y1="885.1" x2="435.8" y2="1113" stroke="#000" stroke-width="2.0"/>
<line x1="426.5" y1="1112" x2="662.5" y2="1112" stroke="#000" stroke-width="2.0"/>
<line x1="426.5" y1="886.2" x2="435.8" y2="886.2" stroke="#000" stroke-width="2.0"/>
<text x="425.3" y="892.4" font-size="17.4" font-weight="bold" text-anchor="end" fill="#000">1</text>
<line x1="426.5" y1="999.1" x2="435.8" y2="999.1" stroke="#000" stroke-width="2.0"/>
<text x="425.3" y="1005.3" font-size="17.4" font-weight="bold" text-anchor="end" fill="#000">0.1</text>
<line x1="426.5" y1="1112" x2="435.8" y2="1112" stroke="#000" stroke-width="2.0"/>
<text x="425.3" y="1118.2" font-size="17.4" font-weight="bold" text-anchor="end" fill="#000">0.01</text>
<line x1="430.2" y1="1078" x2="435.8" y2="1078" stroke="#000" stroke-width="1.6"/>
<line x1="430.2" y1="1058.1" x2="435.8" y2="1058.1" stroke="#000" stroke-width="1.6"/>
<line x1="430.2" y1="1044" x2="435.8" y2="1044" stroke="#000" stroke-width="1.6"/>
<line x1="430.2" y1="1033.1" x2="435.8" y2="1033.1" stroke="#000" stroke-width="1.6"/>
<line x1="430.2" y1="1024.1" x2="435.8" y2="1024.1" stroke="#000" stroke-width="1.6"/>
<line x1="430.2" y1="1016.6" x2="435.8" y2="1016.6" stroke="#000" stroke-width="1.6"/>
<line x1="430.2" y1="1010" x2="435.8" y2="1010" stroke="#000" stroke-width="1.6"/>
<line x1="430.2" y1="1004.3" x2="435.8" y2="1004.3" stroke="#000" stroke-width="1.6"/>
<line x1="430.2" y1="965.1" x2="435.8" y2="965.1" stroke="#000" stroke-width="1.6"/>
<line x1="430.2" y1="945.2" x2="435.8" y2="945.2" stroke="#000" stroke-width="1.6"/>
<line x1="430.2" y1="931.1" x2="435.8" y2="931.1" stroke="#000" stroke-width="1.6"/>
<line x1="430.2" y1="920.2" x2="435.8" y2="920.2" stroke="#000" stroke-width="1.6"/>
<line x1="430.2" y1="911.2" x2="435.8" y2="911.2" stroke="#000" stroke-width="1.6"/>
<line x1="430.2" y1="903.7" x2="435.8" y2="903.7" stroke="#000" stroke-width="1.6"/>
<line x1="430.2" y1="897.1" x2="435.8" y2="897.1" stroke="#000" stroke-width="1.6"/>
<line x1="430.2" y1="891.4" x2="435.8" y2="891.4" stroke="#000" stroke-width="1.6"/>
<line x1="470" y1="1112" x2="470" y2="1121.5" stroke="#000" stroke-width="2.0"/>
<text x="470" y="1140" font-size="17.3" font-weight="bold" text-anchor="middle" fill="#000">RC</text>
<line x1="522.5" y1="1112" x2="522.5" y2="1121.5" stroke="#000" stroke-width="2.0"/>
<text x="522.5" y="1140" font-size="17.3" font-weight="bold" text-anchor="middle" fill="#000">Irr+RC</text>
<line x1="575" y1="1112" x2="575" y2="1121.5" stroke="#000" stroke-width="2.0"/>
<text x="575" y="1140" font-size="17.3" font-weight="bold" text-anchor="middle" fill="#000">EE</text>
<line x1="626.8" y1="1112" x2="626.8" y2="1121.5" stroke="#000" stroke-width="2.0"/>
<text x="626.8" y="1140" font-size="17.3" font-weight="bold" text-anchor="middle" fill="#000">Irr+EE</text>
<text x="378.9" y="998.4" font-size="18.6" font-weight="bold" fill="#000" text-anchor="middle" transform="rotate(-90 378.9 998.4)">Amplitude cells R<tspan font-size="14" font-weight="normal" dx="-1.2" dy="-8.4">2</tspan><tspan dx="-1.6" dy="8.4">&gt;50%</tspan></text>
<g fill="#d4d6d9" stroke="#8f9297" stroke-width="1">
<circle cx="470.0" cy="932.3" r="1.25"/><circle cx="467.0" cy="933.1" r="1.25"/><circle cx="473.0" cy="934.7" r="1.25"/><circle cx="470.0" cy="935.6" r="1.25"/><circle cx="467.0" cy="936.4" r="1.25"/><circle cx="464.0" cy="936.5" r="1.25"/><circle cx="470.0" cy="939.0" r="1.25"/><circle cx="473.0" cy="939.9" r="1.25"/><circle cx="467.0" cy="941.3" r="1.25"/><circle cx="470.0" cy="942.7" r="1.25"/><circle cx="473.0" cy="943.0" r="1.25"/><circle cx="464.0" cy="943.3" r="1.25"/><circle cx="476.0" cy="943.6" r="1.25"/><circle cx="464.0" cy="944.1" r="1.25"/><circle cx="467.0" cy="944.8" r="1.25"/><circle cx="470.0" cy="947.3" r="1.25"/><circle cx="467.0" cy="949.7" r="1.25"/><circle cx="470.0" cy="951.2" r="1.25"/><circle cx="473.0" cy="951.9" r="1.25"/><circle cx="473.0" cy="952.0" r="1.25"/><circle cx="467.0" cy="953.3" r="1.25"/><circle cx="470.0" cy="957.5" r="1.25"/><circle cx="467.0" cy="958.3" r="1.25"/><circle cx="473.0" cy="960.2" r="1.25"/><circle cx="470.0" cy="960.8" r="1.25"/><circle cx="467.0" cy="961.7" r="1.25"/><circle cx="473.0" cy="963.5" r="1.25"/><circle cx="470.0" cy="964.6" r="1.25"/><circle cx="467.0" cy="964.7" r="1.25"/><circle cx="476.0" cy="965.1" r="1.25"/><circle cx="464.0" cy="965.6" r="1.25"/><circle cx="479.0" cy="966.0" r="1.25"/><circle cx="461.0" cy="966.1" r="1.25"/><circle cx="482.0" cy="966.2" r="1.25"/><circle cx="473.0" cy="966.6" r="1.25"/><circle cx="458.0" cy="967.1" r="1.25"/><circle cx="455.0" cy="967.2" r="1.25"/><circle cx="485.0" cy="967.5" r="1.25"/><circle cx="470.0" cy="968.6" r="1.25"/><circle cx="467.0" cy="968.8" r="1.25"/><circle cx="476.0" cy="969.1" r="1.25"/><circle cx="464.0" cy="969.5" r="1.25"/><circle cx="473.0" cy="970.3" r="1.25"/><circle cx="479.0" cy="970.6" r="1.25"/><circle cx="461.0" cy="970.9" r="1.25"/><circle cx="458.0" cy="971.4" r="1.25"/><circle cx="470.0" cy="972.7" r="1.25"/><circle cx="473.0" cy="973.4" r="1.25"/><circle cx="467.0" cy="973.6" r="1.25"/><circle cx="476.0" cy="973.9" r="1.25"/><circle cx="464.0" cy="974.2" r="1.25"/><circle cx="461.0" cy="974.5" r="1.25"/><circle cx="479.0" cy="974.5" r="1.25"/><circle cx="458.0" cy="974.6" r="1.25"/><circle cx="482.0" cy="974.9" r="1.25"/><circle cx="485.0" cy="975.2" r="1.25"/><circle cx="470.0" cy="976.2" r="1.25"/><circle cx="473.0" cy="976.6" r="1.25"/><circle cx="467.0" cy="977.0" r="1.25"/><circle cx="476.0" cy="977.3" r="1.25"/><circle cx="464.0" cy="977.4" r="1.25"/><circle cx="479.0" cy="977.5" r="1.25"/><circle cx="461.0" cy="977.9" r="1.25"/><circle cx="482.0" cy="978.0" r="1.25"/><circle cx="458.0" cy="978.1" r="1.25"/><circle cx="485.0" cy="978.3" r="1.25"/><circle cx="470.0" cy="979.4" r="1.25"/><circle cx="455.0" cy="979.5" r="1.25"/><circle cx="485.0" cy="979.5" r="1.25"/><circle cx="473.0" cy="979.8" r="1.25"/><circle cx="470.0" cy="979.9" r="1.25"/><circle cx="467.0" cy="980.7" r="1.25"/><circle cx="464.0" cy="981.4" r="1.25"/><circle cx="476.0" cy="981.5" r="1.25"/><circle cx="479.0" cy="982.2" r="1.25"/><circle cx="461.0" cy="982.4" r="1.25"/><circle cx="473.0" cy="982.8" r="1.25"/><circle cx="482.0" cy="982.9" r="1.25"/><circle cx="470.0" cy="984.0" r="1.25"/><circle cx="467.0" cy="984.1" r="1.25"/><circle cx="458.0" cy="984.3" r="1.25"/><circle cx="476.0" cy="984.8" r="1.25"/><circle cx="464.0" cy="985.5" r="1.25"/><circle cx="473.0" cy="986.3" r="1.25"/><circle cx="470.0" cy="987.2" r="1.25"/><circle cx="467.0" cy="987.2" r="1.25"/><circle cx="479.0" cy="987.2" r="1.25"/><circle cx="461.0" cy="987.3" r="1.25"/><circle cx="482.0" cy="987.7" r="1.25"/><circle cx="476.0" cy="988.4" r="1.25"/><circle cx="458.0" cy="988.4" r="1.25"/><circle cx="464.0" cy="988.8" r="1.25"/><circle cx="470.0" cy="990.2" r="1.25"/><circle cx="467.0" cy="990.4" r="1.25"/><circle cx="473.0" cy="990.9" r="1.25"/><circle cx="479.0" cy="991.3" r="1.25"/><circle cx="476.0" cy="991.5" r="1.25"/><circle cx="461.0" cy="991.7" r="1.25"/><circle cx="482.0" cy="991.7" r="1.25"/><circle cx="464.0" cy="991.9" r="1.25"/><circle cx="458.0" cy="992.6" r="1.25"/><circle cx="470.0" cy="993.3" r="1.25"/><circle cx="467.0" cy="993.4" r="1.25"/><circle cx="485.0" cy="993.5" r="1.25"/><circle cx="473.0" cy="993.9" r="1.25"/><circle cx="455.0" cy="994.0" r="1.25"/><circle cx="452.0" cy="994.2" r="1.25"/><circle cx="476.0" cy="994.5" r="1.25"/><circle cx="464.0" cy="995.2" r="1.25"/><circle cx="461.0" cy="995.3" r="1.25"/><circle cx="479.0" cy="995.6" r="1.25"/><circle cx="482.0" cy="996.2" r="1.25"/><circle cx="458.0" cy="996.2" r="1.25"/><circle cx="470.0" cy="996.5" r="1.25"/><circle cx="473.0" cy="999.3" r="1.25"/><circle cx="470.0" cy="999.8" r="1.25"/><circle cx="467.0" cy="999.8" r="1.25"/><circle cx="476.0" cy="1000.7" r="1.25"/><circle cx="464.0" cy="1000.7" r="1.25"/><circle cx="479.0" cy="1000.9" r="1.25"/><circle cx="461.0" cy="1001.0" r="1.25"/><circle cx="482.0" cy="1001.1" r="1.25"/><circle cx="458.0" cy="1001.4" r="1.25"/><circle cx="455.0" cy="1001.7" r="1.25"/><circle cx="485.0" cy="1001.8" r="1.25"/><circle cx="470.0" cy="1002.8" r="1.25"/><circle cx="473.0" cy="1003.2" r="1.25"/><circle cx="467.0" cy="1003.5" r="1.25"/><circle cx="464.0" cy="1004.6" r="1.25"/><circle cx="476.0" cy="1005.3" r="1.25"/><circle cx="479.0" cy="1005.5" r="1.25"/><circle cx="470.0" cy="1006.2" r="1.25"/><circle cx="467.0" cy="1006.6" r="1.25"/><circle cx="473.0" cy="1007.1" r="1.25"/><circle cx="461.0" cy="1007.2" r="1.25"/><circle cx="482.0" cy="1007.3" r="1.25"/><circle cx="464.0" cy="1008.1" r="1.25"/><circle cx="458.0" cy="1008.1" r="1.25"/><circle cx="476.0" cy="1008.6" r="1.25"/><circle cx="479.0" cy="1008.7" r="1.25"/><circle cx="470.0" cy="1010.3" r="1.25"/><circle cx="467.0" cy="1010.4" r="1.25"/><circle cx="473.0" cy="1010.7" r="1.25"/><circle cx="461.0" cy="1010.7" r="1.25"/><circle cx="482.0" cy="1010.9" r="1.25"/><circle cx="485.0" cy="1011.0" r="1.25"/><circle cx="464.0" cy="1011.2" r="1.25"/><circle cx="458.0" cy="1011.3" r="1.25"/><circle cx="476.0" cy="1011.9" r="1.25"/><circle cx="479.0" cy="1012.2" r="1.25"/><circle cx="455.0" cy="1012.3" r="1.25"/><circle cx="479.0" cy="1012.9" r="1.25"/><circle cx="473.0" cy="1013.1" r="1.25"/><circle cx="485.0" cy="1013.2" r="1.25"/><circle cx="470.0" cy="1015.3" r="1.25"/><circle cx="467.0" cy="1015.9" r="1.25"/><circle cx="473.0" cy="1018.1" r="1.25"/><circle cx="464.0" cy="1018.2" r="1.25"/><circle cx="470.0" cy="1018.4" r="1.25"/><circle cx="467.0" cy="1019.3" r="1.25"/><circle cx="476.0" cy="1019.7" r="1.25"/><circle cx="461.0" cy="1020.3" r="1.25"/><circle cx="479.0" cy="1020.7" r="1.25"/><circle cx="470.0" cy="1021.7" r="1.25"/><circle cx="473.0" cy="1022.3" r="1.25"/><circle cx="467.0" cy="1022.7" r="1.25"/><circle cx="476.0" cy="1022.7" r="1.25"/><circle cx="464.0" cy="1022.8" r="1.25"/><circle cx="458.0" cy="1023.2" r="1.25"/><circle cx="461.0" cy="1023.3" r="1.25"/><circle cx="479.0" cy="1024.2" r="1.25"/><circle cx="482.0" cy="1024.7" r="1.25"/><circle cx="470.0" cy="1025.2" r="1.25"/><circle cx="485.0" cy="1025.3" r="1.25"/><circle cx="473.0" cy="1025.6" r="1.25"/><circle cx="455.0" cy="1025.7" r="1.25"/><circle cx="467.0" cy="1025.8" r="1.25"/><circle cx="464.0" cy="1026.0" r="1.25"/><circle cx="476.0" cy="1026.5" r="1.25"/><circle cx="461.0" cy="1026.6" r="1.25"/><circle cx="458.0" cy="1027.1" r="1.25"/><circle cx="479.0" cy="1027.7" r="1.25"/><circle cx="470.0" cy="1028.2" r="1.25"/><circle cx="473.0" cy="1029.0" r="1.25"/><circle cx="467.0" cy="1029.5" r="1.25"/><circle cx="476.0" cy="1030.4" r="1.25"/><circle cx="464.0" cy="1030.6" r="1.25"/><circle cx="479.0" cy="1030.9" r="1.25"/><circle cx="461.0" cy="1030.9" r="1.25"/><circle cx="470.0" cy="1032.0" r="1.25"/><circle cx="473.0" cy="1032.7" r="1.25"/><circle cx="467.0" cy="1033.4" r="1.25"/><circle cx="476.0" cy="1034.5" r="1.25"/><circle cx="470.0" cy="1035.0" r="1.25"/><circle cx="464.0" cy="1035.5" r="1.25"/><circle cx="479.0" cy="1035.5" r="1.25"/><circle cx="473.0" cy="1036.4" r="1.25"/><circle cx="467.0" cy="1036.8" r="1.25"/><circle cx="470.0" cy="1038.6" r="1.25"/><circle cx="473.0" cy="1039.6" r="1.25"/><circle cx="470.0" cy="1041.6" r="1.25"/><circle cx="473.0" cy="1042.6" r="1.25"/><circle cx="467.0" cy="1042.9" r="1.25"/><circle cx="464.0" cy="1042.9" r="1.25"/><circle cx="476.0" cy="1043.4" r="1.25"/><circle cx="470.0" cy="1045.5" r="1.25"/><circle cx="467.0" cy="1048.1" r="1.25"/><circle cx="473.0" cy="1048.4" r="1.25"/><circle cx="470.0" cy="1052.3" r="1.25"/><circle cx="467.0" cy="1053.3" r="1.25"/><circle cx="470.0" cy="1056.1" r="1.25"/><circle cx="473.0" cy="1056.2" r="1.25"/><circle cx="467.0" cy="1057.8" r="1.25"/><circle cx="470.0" cy="1061.8" r="1.25"/><circle cx="470.0" cy="1066.1" r="1.25"/><circle cx="467.0" cy="1066.1" r="1.25"/><circle cx="469.6" cy="892.0" r="1.25"/><circle cx="469.8" cy="905.6" r="1.25"/><circle cx="469.5" cy="909.0" r="1.25"/><circle cx="470.2" cy="913.0" r="1.25"/><circle cx="470.4" cy="924.8" r="1.25"/>
</g>
<g fill="#c4c5c8" stroke="#66686b" stroke-width="1">
<circle cx="522.5" cy="960.0" r="1.25"/><circle cx="522.5" cy="966.0" r="1.25"/><circle cx="518.3" cy="968.7" r="1.25"/><circle cx="522.5" cy="971.9" r="1.25"/><circle cx="518.3" cy="973.7" r="1.25"/><circle cx="526.7" cy="974.7" r="1.25"/><circle cx="522.5" cy="975.7" r="1.25"/><circle cx="518.3" cy="977.6" r="1.25"/><circle cx="526.7" cy="978.8" r="1.25"/><circle cx="522.5" cy="983.1" r="1.25"/><circle cx="526.7" cy="984.2" r="1.25"/><circle cx="522.5" cy="989.0" r="1.25"/><circle cx="518.3" cy="989.7" r="1.25"/><circle cx="526.7" cy="991.5" r="1.25"/><circle cx="522.5" cy="995.3" r="1.25"/><circle cx="526.7" cy="996.1" r="1.25"/><circle cx="522.5" cy="998.9" r="1.25"/><circle cx="518.3" cy="999.4" r="1.25"/><circle cx="526.7" cy="999.9" r="1.25"/><circle cx="514.1" cy="1001.4" r="1.25"/><circle cx="522.5" cy="1003.3" r="1.25"/><circle cx="526.7" cy="1003.5" r="1.25"/><circle cx="522.5" cy="1007.8" r="1.25"/><circle cx="526.7" cy="1008.4" r="1.25"/><circle cx="518.3" cy="1009.0" r="1.25"/><circle cx="514.1" cy="1009.2" r="1.25"/><circle cx="530.9" cy="1009.3" r="1.25"/><circle cx="526.7" cy="1009.8" r="1.25"/><circle cx="522.5" cy="1013.5" r="1.25"/><circle cx="526.7" cy="1014.1" r="1.25"/><circle cx="518.3" cy="1015.6" r="1.25"/><circle cx="514.1" cy="1016.4" r="1.25"/><circle cx="522.5" cy="1017.1" r="1.25"/><circle cx="526.7" cy="1017.9" r="1.25"/><circle cx="522.5" cy="1022.2" r="1.25"/><circle cx="526.7" cy="1022.4" r="1.25"/><circle cx="522.5" cy="1029.8" r="1.25"/><circle cx="518.3" cy="1030.1" r="1.25"/><circle cx="526.7" cy="1030.6" r="1.25"/><circle cx="530.9" cy="1031.4" r="1.25"/><circle cx="514.1" cy="1031.6" r="1.25"/><circle cx="522.5" cy="1032.0" r="1.25"/><circle cx="530.9" cy="1032.2" r="1.25"/><circle cx="526.7" cy="1032.8" r="1.25"/><circle cx="518.3" cy="1034.0" r="1.25"/><circle cx="514.1" cy="1035.1" r="1.25"/><circle cx="522.5" cy="1036.2" r="1.25"/><circle cx="526.7" cy="1036.4" r="1.25"/><circle cx="518.3" cy="1038.9" r="1.25"/><circle cx="514.1" cy="1038.9" r="1.25"/><circle cx="522.5" cy="1043.3" r="1.25"/><circle cx="526.7" cy="1046.2" r="1.25"/><circle cx="518.3" cy="1046.4" r="1.25"/><circle cx="514.1" cy="1046.4" r="1.25"/><circle cx="522.5" cy="1047.0" r="1.25"/><circle cx="522.5" cy="1051.9" r="1.25"/><circle cx="526.7" cy="1052.2" r="1.25"/><circle cx="518.3" cy="1052.3" r="1.25"/><circle cx="514.1" cy="1052.9" r="1.25"/><circle cx="530.9" cy="1053.4" r="1.25"/><circle cx="514.1" cy="1054.0" r="1.25"/><circle cx="518.3" cy="1054.4" r="1.25"/><circle cx="522.5" cy="1056.0" r="1.25"/><circle cx="526.7" cy="1056.5" r="1.25"/><circle cx="530.9" cy="1057.3" r="1.25"/><circle cx="522.5" cy="1060.3" r="1.25"/><circle cx="518.3" cy="1062.1" r="1.25"/><circle cx="526.7" cy="1062.9" r="1.25"/><circle cx="530.9" cy="1063.0" r="1.25"/><circle cx="514.1" cy="1063.2" r="1.25"/><circle cx="530.9" cy="1063.4" r="1.25"/><circle cx="522.5" cy="1064.8" r="1.25"/><circle cx="518.3" cy="1066.5" r="1.25"/><circle cx="522.5" cy="1068.7" r="1.25"/><circle cx="522.4" cy="939.0" r="1.25"/><circle cx="522.7" cy="947.4" r="1.25"/><circle cx="522.0" cy="951.5" r="1.25"/><circle cx="522.3" cy="955.8" r="1.25"/><circle cx="522.7" cy="1076.0" r="1.25"/><circle cx="521.9" cy="1090.7" r="1.25"/><circle cx="522.4" cy="1107.4" r="1.25"/>
</g>
<g fill="#cbdcf0" stroke="#4f88ca" stroke-width="1">
<circle cx="575.0" cy="920.1" r="1.25"/><circle cx="575.0" cy="926.1" r="1.25"/><circle cx="575.0" cy="929.1" r="1.25"/><circle cx="575.0" cy="940.7" r="1.25"/><circle cx="575.0" cy="945.7" r="1.25"/><circle cx="570.4" cy="946.8" r="1.25"/><circle cx="579.6" cy="949.5" r="1.25"/><circle cx="584.2" cy="949.8" r="1.25"/><circle cx="575.0" cy="950.4" r="1.25"/><circle cx="565.8" cy="950.7" r="1.25"/><circle cx="570.4" cy="953.7" r="1.25"/><circle cx="579.6" cy="954.0" r="1.25"/><circle cx="584.2" cy="954.2" r="1.25"/><circle cx="575.0" cy="956.6" r="1.25"/><circle cx="565.8" cy="956.7" r="1.25"/><circle cx="579.6" cy="958.7" r="1.25"/><circle cx="570.4" cy="960.1" r="1.25"/><circle cx="575.0" cy="962.4" r="1.25"/><circle cx="584.2" cy="962.9" r="1.25"/><circle cx="579.6" cy="963.8" r="1.25"/><circle cx="565.8" cy="964.3" r="1.25"/><circle cx="570.4" cy="964.9" r="1.25"/><circle cx="561.2" cy="964.9" r="1.25"/><circle cx="588.8" cy="966.4" r="1.25"/><circle cx="575.0" cy="969.0" r="1.25"/><circle cx="570.4" cy="969.1" r="1.25"/><circle cx="579.6" cy="969.3" r="1.25"/><circle cx="565.8" cy="969.5" r="1.25"/><circle cx="584.2" cy="969.7" r="1.25"/><circle cx="561.2" cy="969.8" r="1.25"/><circle cx="588.8" cy="971.4" r="1.25"/><circle cx="584.2" cy="971.5" r="1.25"/><circle cx="575.0" cy="974.7" r="1.25"/><circle cx="579.6" cy="974.9" r="1.25"/><circle cx="570.4" cy="977.2" r="1.25"/><circle cx="584.2" cy="978.6" r="1.25"/><circle cx="565.8" cy="978.7" r="1.25"/><circle cx="575.0" cy="979.7" r="1.25"/><circle cx="579.6" cy="980.0" r="1.25"/><circle cx="588.8" cy="980.9" r="1.25"/><circle cx="570.4" cy="982.1" r="1.25"/><circle cx="561.2" cy="982.5" r="1.25"/><circle cx="584.2" cy="983.4" r="1.25"/><circle cx="565.8" cy="983.6" r="1.25"/><circle cx="575.0" cy="985.7" r="1.25"/><circle cx="570.4" cy="988.9" r="1.25"/><circle cx="575.0" cy="990.5" r="1.25"/><circle cx="579.6" cy="991.1" r="1.25"/><circle cx="565.8" cy="991.1" r="1.25"/><circle cx="584.2" cy="991.3" r="1.25"/><circle cx="588.8" cy="991.5" r="1.25"/><circle cx="561.2" cy="991.6" r="1.25"/><circle cx="570.4" cy="993.6" r="1.25"/><circle cx="579.6" cy="994.3" r="1.25"/><circle cx="575.0" cy="995.3" r="1.25"/><circle cx="584.2" cy="995.6" r="1.25"/><circle cx="565.8" cy="997.6" r="1.25"/><circle cx="579.6" cy="999.0" r="1.25"/><circle cx="575.0" cy="999.7" r="1.25"/><circle cx="570.4" cy="1000.4" r="1.25"/><circle cx="584.2" cy="1001.9" r="1.25"/><circle cx="565.8" cy="1002.5" r="1.25"/><circle cx="579.6" cy="1003.6" r="1.25"/><circle cx="561.2" cy="1003.7" r="1.25"/><circle cx="575.0" cy="1004.6" r="1.25"/><circle cx="570.4" cy="1006.3" r="1.25"/><circle cx="584.2" cy="1006.4" r="1.25"/><circle cx="565.8" cy="1007.7" r="1.25"/><circle cx="575.0" cy="1010.5" r="1.25"/><circle cx="570.4" cy="1013.2" r="1.25"/><circle cx="579.6" cy="1014.3" r="1.25"/><circle cx="575.0" cy="1014.8" r="1.25"/><circle cx="584.2" cy="1015.7" r="1.25"/><circle cx="565.8" cy="1016.0" r="1.25"/><circle cx="588.8" cy="1017.2" r="1.25"/><circle cx="570.4" cy="1017.5" r="1.25"/><circle cx="561.2" cy="1018.5" r="1.25"/><circle cx="579.6" cy="1018.9" r="1.25"/><circle cx="575.0" cy="1020.5" r="1.25"/><circle cx="565.8" cy="1021.4" r="1.25"/><circle cx="579.6" cy="1023.4" r="1.25"/><circle cx="575.0" cy="1025.4" r="1.25"/><circle cx="570.4" cy="1025.6" r="1.25"/><circle cx="579.6" cy="1027.7" r="1.25"/><circle cx="584.2" cy="1029.0" r="1.25"/><circle cx="565.8" cy="1029.2" r="1.25"/><circle cx="575.0" cy="1030.9" r="1.25"/><circle cx="570.4" cy="1031.2" r="1.25"/><circle cx="579.6" cy="1032.7" r="1.25"/><circle cx="561.2" cy="1033.0" r="1.25"/><circle cx="588.8" cy="1033.1" r="1.25"/><circle cx="565.8" cy="1034.7" r="1.25"/><circle cx="584.2" cy="1035.1" r="1.25"/><circle cx="575.0" cy="1035.3" r="1.25"/><circle cx="570.4" cy="1036.7" r="1.25"/><circle cx="579.6" cy="1037.0" r="1.25"/><circle cx="588.8" cy="1037.9" r="1.25"/><circle cx="561.2" cy="1037.9" r="1.25"/><circle cx="565.8" cy="1039.4" r="1.25"/><circle cx="575.0" cy="1044.7" r="1.25"/><circle cx="570.4" cy="1045.9" r="1.25"/><circle cx="579.6" cy="1047.2" r="1.25"/><circle cx="579.6" cy="1047.2" r="1.25"/><circle cx="575.0" cy="1049.4" r="1.25"/><circle cx="575.0" cy="1050.0" r="1.25"/><circle cx="579.6" cy="1053.7" r="1.25"/><circle cx="575.0" cy="1056.8" r="1.25"/><circle cx="575.0" cy="1063.0" r="1.25"/><circle cx="579.6" cy="1064.7" r="1.25"/><circle cx="570.4" cy="1065.8" r="1.25"/><circle cx="575.0" cy="1069.2" r="1.25"/><circle cx="575.0" cy="1071.7" r="1.25"/><circle cx="575.0" cy="1072.9" r="1.25"/>
</g>
<g fill="#9bb2c9" stroke="#446a90" stroke-width="1">
<circle cx="626.8" cy="977.1" r="1.25"/><circle cx="622.2" cy="977.8" r="1.25"/><circle cx="631.4" cy="980.7" r="1.25"/><circle cx="626.8" cy="989.9" r="1.25"/><circle cx="631.4" cy="990.6" r="1.25"/><circle cx="622.2" cy="991.1" r="1.25"/><circle cx="617.6" cy="991.1" r="1.25"/><circle cx="636.0" cy="992.6" r="1.25"/><circle cx="640.6" cy="994.2" r="1.25"/><circle cx="626.8" cy="995.0" r="1.25"/><circle cx="613.0" cy="995.2" r="1.25"/><circle cx="622.2" cy="997.1" r="1.25"/><circle cx="631.4" cy="997.3" r="1.25"/><circle cx="636.0" cy="998.9" r="1.25"/><circle cx="617.6" cy="999.1" r="1.25"/><circle cx="626.8" cy="1000.2" r="1.25"/><circle cx="640.6" cy="1000.4" r="1.25"/><circle cx="613.0" cy="1001.5" r="1.25"/><circle cx="622.2" cy="1002.6" r="1.25"/><circle cx="631.4" cy="1003.3" r="1.25"/><circle cx="636.0" cy="1004.1" r="1.25"/><circle cx="626.8" cy="1004.8" r="1.25"/><circle cx="617.6" cy="1005.5" r="1.25"/><circle cx="640.6" cy="1005.9" r="1.25"/><circle cx="622.2" cy="1007.7" r="1.25"/><circle cx="626.8" cy="1010.9" r="1.25"/><circle cx="631.4" cy="1011.7" r="1.25"/><circle cx="636.0" cy="1012.2" r="1.25"/><circle cx="622.2" cy="1012.3" r="1.25"/><circle cx="617.6" cy="1012.6" r="1.25"/><circle cx="613.0" cy="1013.6" r="1.25"/><circle cx="640.6" cy="1014.0" r="1.25"/><circle cx="617.6" cy="1014.3" r="1.25"/><circle cx="626.8" cy="1019.5" r="1.25"/><circle cx="631.4" cy="1020.1" r="1.25"/><circle cx="622.2" cy="1020.2" r="1.25"/><circle cx="617.6" cy="1020.3" r="1.25"/><circle cx="636.0" cy="1023.8" r="1.25"/><circle cx="613.0" cy="1024.1" r="1.25"/><circle cx="626.8" cy="1025.2" r="1.25"/><circle cx="622.2" cy="1025.2" r="1.25"/><circle cx="631.4" cy="1026.4" r="1.25"/><circle cx="617.6" cy="1028.3" r="1.25"/><circle cx="636.0" cy="1029.4" r="1.25"/><circle cx="626.8" cy="1030.1" r="1.25"/><circle cx="631.4" cy="1032.2" r="1.25"/><circle cx="622.2" cy="1033.1" r="1.25"/><circle cx="617.6" cy="1033.3" r="1.25"/><circle cx="636.0" cy="1034.3" r="1.25"/><circle cx="626.8" cy="1036.0" r="1.25"/><circle cx="631.4" cy="1038.8" r="1.25"/><circle cx="622.2" cy="1039.6" r="1.25"/><circle cx="617.6" cy="1040.5" r="1.25"/><circle cx="626.8" cy="1041.9" r="1.25"/><circle cx="636.0" cy="1043.1" r="1.25"/><circle cx="631.4" cy="1043.9" r="1.25"/><circle cx="622.2" cy="1044.9" r="1.25"/><circle cx="617.6" cy="1045.2" r="1.25"/><circle cx="626.8" cy="1052.0" r="1.25"/><circle cx="631.4" cy="1053.1" r="1.25"/><circle cx="622.2" cy="1053.1" r="1.25"/><circle cx="636.0" cy="1053.9" r="1.25"/><circle cx="617.6" cy="1056.0" r="1.25"/><circle cx="626.8" cy="1056.4" r="1.25"/><circle cx="631.4" cy="1057.8" r="1.25"/><circle cx="622.2" cy="1058.1" r="1.25"/><circle cx="636.0" cy="1060.0" r="1.25"/><circle cx="626.8" cy="1061.0" r="1.25"/><circle cx="631.4" cy="1063.2" r="1.25"/><circle cx="622.2" cy="1064.9" r="1.25"/><circle cx="626.8" cy="1065.8" r="1.25"/><circle cx="636.0" cy="1065.9" r="1.25"/><circle cx="631.4" cy="1068.5" r="1.25"/><circle cx="617.6" cy="1068.6" r="1.25"/><circle cx="622.2" cy="1069.5" r="1.25"/><circle cx="626.8" cy="1071.3" r="1.25"/><circle cx="631.4" cy="1073.1" r="1.25"/><circle cx="622.2" cy="1075.2" r="1.25"/><circle cx="636.0" cy="1075.5" r="1.25"/><circle cx="626.8" cy="1076.2" r="1.25"/><circle cx="631.4" cy="1078.8" r="1.25"/><circle cx="622.2" cy="1080.0" r="1.25"/><circle cx="631.4" cy="1080.0" r="1.25"/><circle cx="626.8" cy="1088.6" r="1.25"/><circle cx="626.7" cy="893.6" r="1.25"/><circle cx="626.7" cy="911.8" r="1.25"/><circle cx="627.4" cy="928.6" r="1.25"/><circle cx="627.0" cy="935.9" r="1.25"/><circle cx="627.0" cy="942.2" r="1.25"/><circle cx="626.2" cy="951.2" r="1.25"/><circle cx="627.1" cy="960.4" r="1.25"/><circle cx="627.3" cy="1108.5" r="1.25"/>
</g>
<line x1="470" y1="977" x2="470" y2="980.6" stroke="#000" stroke-width="1.2"/>
<line x1="461" y1="977" x2="479" y2="977" stroke="#000" stroke-width="1.3"/>
<line x1="461" y1="980.6" x2="479" y2="980.6" stroke="#000" stroke-width="1.3"/>
<line x1="452.7" y1="978.8" x2="487.3" y2="978.8" stroke="#000" stroke-width="2.3"/>
<line x1="522.5" y1="1001.3" x2="522.5" y2="1009.9" stroke="#000" stroke-width="1.2"/>
<line x1="513.5" y1="1001.3" x2="531.5" y2="1001.3" stroke="#000" stroke-width="1.3"/>
<line x1="513.5" y1="1009.9" x2="531.5" y2="1009.9" stroke="#000" stroke-width="1.3"/>
<line x1="505.2" y1="1005.6" x2="539.8" y2="1005.6" stroke="#000" stroke-width="2.3"/>
<line x1="575" y1="980.2" x2="575" y2="983.8" stroke="#000" stroke-width="1.2"/>
<line x1="566" y1="980.2" x2="584" y2="980.2" stroke="#000" stroke-width="1.3"/>
<line x1="566" y1="983.8" x2="584" y2="983.8" stroke="#000" stroke-width="1.3"/>
<line x1="557.7" y1="982" x2="592.3" y2="982" stroke="#000" stroke-width="2.3"/>
<line x1="626.8" y1="995.2" x2="626.8" y2="1009.2" stroke="#000" stroke-width="1.2"/>
<line x1="617.8" y1="995.2" x2="635.8" y2="995.2" stroke="#000" stroke-width="1.3"/>
<line x1="617.8" y1="1009.2" x2="635.8" y2="1009.2" stroke="#000" stroke-width="1.3"/>
<line x1="609.5" y1="1002.2" x2="644.1" y2="1002.2" stroke="#000" stroke-width="2.3"/>
<line x1="465.6" y1="878" x2="520.6" y2="878" stroke="#000" stroke-width="1.5"/>
<line x1="575.6" y1="878" x2="629.9" y2="878" stroke="#000" stroke-width="1.5"/>
<path d="M473.20 869.30L473.20 863.55M473.20 869.30L478.67 867.52M473.20 869.30L476.58 873.95M473.20 869.30L469.82 873.95M473.20 869.30L467.73 867.52" stroke="#000" stroke-width="2.42" stroke-linecap="butt" fill="none"/>
<path d="M486.80 869.30L486.80 863.55M486.80 869.30L492.27 867.52M486.80 869.30L490.18 873.95M486.80 869.30L483.42 873.95M486.80 869.30L481.33 867.52" stroke="#000" stroke-width="2.42" stroke-linecap="butt" fill="none"/>
<path d="M500.40 869.30L500.40 863.55M500.40 869.30L505.87 867.52M500.40 869.30L503.78 873.95M500.40 869.30L497.02 873.95M500.40 869.30L494.93 867.52" stroke="#000" stroke-width="2.42" stroke-linecap="butt" fill="none"/>
<path d="M514.00 869.30L514.00 863.55M514.00 869.30L519.47 867.52M514.00 869.30L517.38 873.95M514.00 869.30L510.62 873.95M514.00 869.30L508.53 867.52" stroke="#000" stroke-width="2.42" stroke-linecap="butt" fill="none"/>
<path d="M595.40 869.30L595.40 863.55M595.40 869.30L600.87 867.52M595.40 869.30L598.78 873.95M595.40 869.30L592.02 873.95M595.40 869.30L589.93 867.52" stroke="#000" stroke-width="2.42" stroke-linecap="butt" fill="none"/>
<path d="M609.00 869.30L609.00 863.55M609.00 869.30L614.47 867.52M609.00 869.30L612.38 873.95M609.00 869.30L605.62 873.95M609.00 869.30L603.53 867.52" stroke="#000" stroke-width="2.42" stroke-linecap="butt" fill="none"/>
</svg></body></html>
